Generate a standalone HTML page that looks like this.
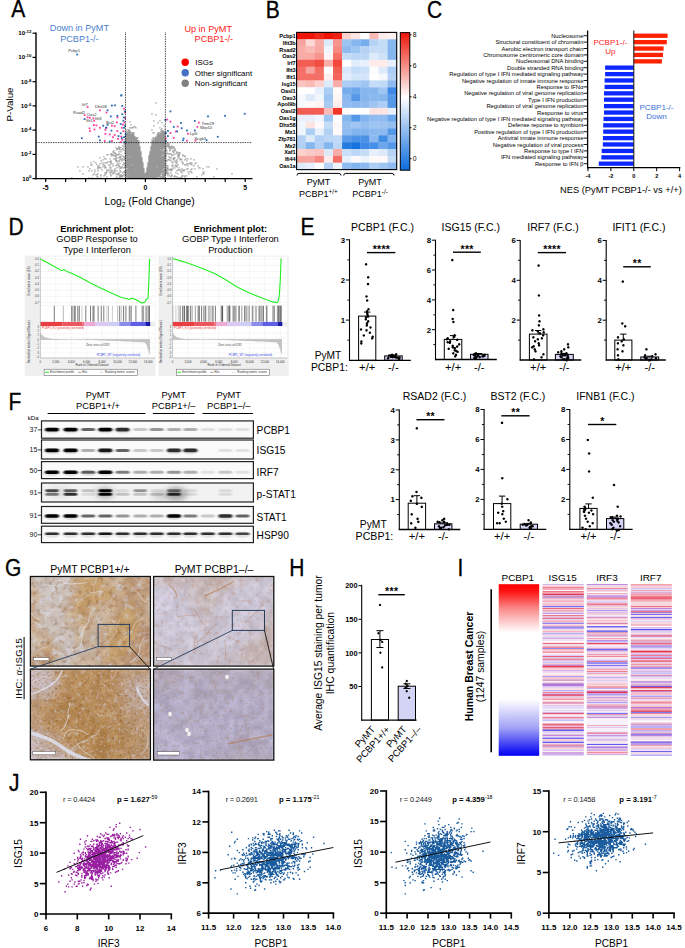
<!DOCTYPE html>
<html><head><meta charset="utf-8"><style>
html,body{margin:0;padding:0;background:#fff;width:685px;height:948px;overflow:hidden}
svg{display:block}
text{font-family:"Liberation Sans",sans-serif}
</style></head><body>
<svg width="685" height="948" viewBox="0 0 685 948">
<defs><linearGradient id="cbar" x1="0" y1="0" x2="0" y2="1"><stop offset="0" stop-color="#ee1608"/><stop offset="0.47" stop-color="#fff"/><stop offset="1" stop-color="#0c6cde"/></linearGradient>
<filter id="bl" x="-20%" y="-60%" width="140%" height="220%"><feGaussianBlur stdDeviation="1.1 0.7"/></filter>
<filter id="bl2" x="-50%" y="-100%" width="200%" height="300%"><feGaussianBlur stdDeviation="3 2.5"/></filter>
<clipPath id="cb0"><rect x="41.5" y="420.9" width="211.9" height="17.3"/></clipPath>
<clipPath id="cb1"><rect x="41.5" y="440" width="211.9" height="19"/></clipPath>
<clipPath id="cb2"><rect x="41.5" y="461.6" width="211.9" height="17"/></clipPath>
<clipPath id="cb3"><rect x="41.5" y="483" width="211.9" height="19"/></clipPath>
<clipPath id="cb4"><rect x="41.5" y="506.5" width="211.9" height="16.8"/></clipPath>
<clipPath id="cb5"><rect x="41.5" y="526.2" width="211.9" height="16.4"/></clipPath>
<filter id="ib" x="0" y="0" width="100%" height="100%"><feGaussianBlur stdDeviation="1.6"/></filter>
<filter id="tx1" x="0" y="0" width="100%" height="100%" color-interpolation-filters="sRGB"><feTurbulence type="fractalNoise" baseFrequency="0.22" numOctaves="3" seed="7" result="n"/><feColorMatrix in="n" type="matrix" values="0 0 0 0 0.510  0 0 0 0 0.314  0 0 0 0 0.157  1.35 0 0 0 -0.73" result="d"/><feTurbulence type="fractalNoise" baseFrequency="0.154" numOctaves="3" seed="18" result="n2"/><feColorMatrix in="n2" type="matrix" values="0 0 0 0 0.843  0 0 0 0 0.871  0 0 0 0 0.949  -1.80 0 0 0 0.83" result="l"/><feMerge><feMergeNode in="d"/><feMergeNode in="l"/></feMerge></filter>
<filter id="tx2" x="0" y="0" width="100%" height="100%" color-interpolation-filters="sRGB"><feTurbulence type="fractalNoise" baseFrequency="0.25" numOctaves="3" seed="14" result="n"/><feColorMatrix in="n" type="matrix" values="0 0 0 0 0.686  0 0 0 0 0.412  0 0 0 0 0.275  0.90 0 0 0 -0.49" result="d"/><feTurbulence type="fractalNoise" baseFrequency="0.175" numOctaves="3" seed="31" result="n2"/><feColorMatrix in="n2" type="matrix" values="0 0 0 0 0.910  0 0 0 0 0.910  0 0 0 0 0.980  -1.05 0 0 0 0.48" result="l"/><feMerge><feMergeNode in="d"/><feMergeNode in="l"/></feMerge></filter>
<filter id="tx3" x="0" y="0" width="100%" height="100%" color-interpolation-filters="sRGB"><feTurbulence type="fractalNoise" baseFrequency="0.4" numOctaves="3" seed="21" result="n"/><feColorMatrix in="n" type="matrix" values="0 0 0 0 0.510  0 0 0 0 0.294  0 0 0 0 0.098  1.65 0 0 0 -0.89" result="d"/><feTurbulence type="fractalNoise" baseFrequency="0.27999999999999997" numOctaves="3" seed="44" result="n2"/><feColorMatrix in="n2" type="matrix" values="0 0 0 0 0.824  0 0 0 0 0.824  0 0 0 0 0.941  -1.65 0 0 0 0.76" result="l"/><feMerge><feMergeNode in="d"/><feMergeNode in="l"/></feMerge></filter>
<filter id="tx4" x="0" y="0" width="100%" height="100%" color-interpolation-filters="sRGB"><feTurbulence type="fractalNoise" baseFrequency="0.4" numOctaves="3" seed="28" result="n"/><feColorMatrix in="n" type="matrix" values="0 0 0 0 0.647  0 0 0 0 0.471  0 0 0 0 0.314  1.20 0 0 0 -0.65" result="d"/><feTurbulence type="fractalNoise" baseFrequency="0.27999999999999997" numOctaves="3" seed="57" result="n2"/><feColorMatrix in="n2" type="matrix" values="0 0 0 0 0.784  0 0 0 0 0.776  0 0 0 0 0.902  -0.90 0 0 0 0.41" result="l"/><feMerge><feMergeNode in="d"/><feMergeNode in="l"/></feMerge></filter>
<clipPath id="ci1"><rect x="30.4" y="576.5" width="120" height="89.6"/></clipPath>
<clipPath id="ci2"><rect x="153.6" y="576.5" width="120.2" height="89.6"/></clipPath>
<clipPath id="ci3"><rect x="30.4" y="669.1" width="120" height="90.7"/></clipPath>
<clipPath id="ci4"><rect x="153.6" y="669.1" width="120.2" height="91"/></clipPath>
<linearGradient id="pg" x1="0" y1="0" x2="0" y2="1"><stop offset="0" stop-color="#ff0000"/><stop offset="0.04" stop-color="#ff1212"/><stop offset="0.14" stop-color="#f98888"/><stop offset="0.28" stop-color="#fff"/><stop offset="0.67" stop-color="#fff"/><stop offset="0.84" stop-color="#a0a0f6"/><stop offset="0.95" stop-color="#3030f4"/><stop offset="1" stop-color="#0000f4"/></linearGradient></defs>
<rect width="685" height="948" fill="#fff"/>
<text transform="translate(11.3 17.2) scale(1 1.14)" font-size="21" stroke="#000" stroke-width="0.3">A</text>
<text transform="translate(265.8 17.5) scale(1 1.14)" font-size="21" stroke="#000" stroke-width="0.3">B</text>
<text transform="translate(427 18.2) scale(1 1.14)" font-size="21" stroke="#000" stroke-width="0.3">C</text>
<text transform="translate(8.5 235.2) scale(1 1.14)" font-size="21" stroke="#000" stroke-width="0.3">D</text>
<text transform="translate(300.4 235) scale(1 1.14)" font-size="21" stroke="#000" stroke-width="0.3">E</text>
<text transform="translate(8.5 409.8) scale(1 1.14)" font-size="21" stroke="#000" stroke-width="0.3">F</text>
<text transform="translate(5 576) scale(1 1.14)" font-size="21" stroke="#000" stroke-width="0.3">G</text>
<text transform="translate(289.2 576) scale(1 1.14)" font-size="21" stroke="#000" stroke-width="0.3">H</text>
<text transform="translate(457.5 575.8) scale(1 1.14)" font-size="21" stroke="#000" stroke-width="0.3">I</text>
<text transform="translate(8.9 790.6) scale(1 1.14)" font-size="21" stroke="#000" stroke-width="0.3">J</text>
<path d="M155.3 102.3h1.3v1.3h-1.3zM151.3 113.3h1.3v1.3h-1.3zM155.3 114.3h1.3v1.3h-1.3zM153.3 120.3h1.3v1.3h-1.3zM159.3 120.3h1.3v1.3h-1.3zM129.3 121.3h1.3v1.3h-1.3zM157.3 122.3h1.3v1.3h-1.3zM161.3 122.3h1.3v1.3h-1.3zM130.3 124.3h1.3v1.3h-1.3zM153.3 125.3h1.3v1.3h-1.3zM163.3 125.3h1.3v1.3h-1.3zM133.3 126.3h2.3v1.3h-2.3zM129.3 127.3h4.3v1.3h-4.3zM135.3 127.3h1.3v1.3h-1.3zM159.3 127.3h1.3v1.3h-1.3zM161.3 128.3h1.3v1.3h-1.3zM125.3 129.3h1.3v1.3h-1.3zM127.3 129.3h2.3v1.3h-2.3zM151.3 129.3h1.3v1.3h-1.3zM160.3 129.3h1.3v1.3h-1.3zM164.3 129.3h1.3v1.3h-1.3zM128.3 130.3h2.3v1.3h-2.3zM161.3 130.3h2.3v1.3h-2.3zM125.3 131.3h5.3v1.3h-5.3zM160.3 131.3h5.3v1.3h-5.3zM125.3 132.3h2.3v1.3h-2.3zM128.3 132.3h6.3v1.3h-6.3zM152.3 132.3h2.3v1.3h-2.3zM157.3 132.3h3.3v1.3h-3.3zM161.3 132.3h4.3v1.3h-4.3zM125.3 133.3h5.3v1.3h-5.3zM131.3 133.3h2.3v1.3h-2.3zM157.3 133.3h1.3v1.3h-1.3zM159.3 133.3h6.3v1.3h-6.3zM125.3 134.3h9.3v1.3h-9.3zM156.3 134.3h9.3v1.3h-9.3zM125.3 135.3h9.3v1.3h-9.3zM157.3 135.3h8.3v1.3h-8.3zM124.3 136.3h11.3v1.3h-11.3zM155.3 136.3h10.3v1.3h-10.3zM125.3 137.3h13.3v1.3h-13.3zM152.3 137.3h2.3v1.3h-2.3zM155.3 137.3h10.3v1.3h-10.3zM125.3 138.3h12.3v1.3h-12.3zM153.3 138.3h12.3v1.3h-12.3zM124.3 139.3h13.3v1.3h-13.3zM151.3 139.3h2.3v1.3h-2.3zM154.3 139.3h11.3v1.3h-11.3zM125.3 140.3h14.3v1.3h-14.3zM152.3 140.3h13.3v1.3h-13.3zM124.3 141.3h14.3v1.3h-14.3zM151.3 141.3h14.3v1.3h-14.3zM125.3 142.3h14.3v1.3h-14.3zM151.3 142.3h14.3v1.3h-14.3zM166.3 142.3h1.3v1.3h-1.3zM123.3 143.3h16.3v1.3h-16.3zM151.3 143.3h15.3v1.3h-15.3zM167.3 143.3h2.3v1.3h-2.3zM124.3 144.3h15.3v1.3h-15.3zM151.3 144.3h14.3v1.3h-14.3zM166.3 144.3h1.3v1.3h-1.3zM168.3 144.3h1.3v1.3h-1.3zM122.3 145.3h1.3v1.3h-1.3zM125.3 145.3h14.3v1.3h-14.3zM151.3 145.3h14.3v1.3h-14.3zM166.3 145.3h3.3v1.3h-3.3zM171.3 145.3h1.3v1.3h-1.3zM118.3 146.3h1.3v1.3h-1.3zM123.3 146.3h1.3v1.3h-1.3zM125.3 146.3h15.3v1.3h-15.3zM150.3 146.3h17.3v1.3h-17.3zM168.3 146.3h4.3v1.3h-4.3zM173.3 146.3h1.3v1.3h-1.3zM115.3 147.3h1.3v1.3h-1.3zM118.3 147.3h3.3v1.3h-3.3zM124.3 147.3h16.3v1.3h-16.3zM150.3 147.3h15.3v1.3h-15.3zM168.3 147.3h1.3v1.3h-1.3zM170.3 147.3h1.3v1.3h-1.3zM172.3 147.3h2.3v1.3h-2.3zM116.3 148.3h3.3v1.3h-3.3zM122.3 148.3h1.3v1.3h-1.3zM125.3 148.3h15.3v1.3h-15.3zM150.3 148.3h13.3v1.3h-13.3zM164.3 148.3h2.3v1.3h-2.3zM169.3 148.3h1.3v1.3h-1.3zM171.3 148.3h1.3v1.3h-1.3zM174.3 148.3h1.3v1.3h-1.3zM116.3 149.3h1.3v1.3h-1.3zM119.3 149.3h1.3v1.3h-1.3zM121.3 149.3h1.3v1.3h-1.3zM123.3 149.3h1.3v1.3h-1.3zM125.3 149.3h15.3v1.3h-15.3zM150.3 149.3h10.3v1.3h-10.3zM161.3 149.3h2.3v1.3h-2.3zM164.3 149.3h2.3v1.3h-2.3zM169.3 149.3h1.3v1.3h-1.3zM174.3 149.3h1.3v1.3h-1.3zM113.3 150.3h1.3v1.3h-1.3zM124.3 150.3h16.3v1.3h-16.3zM150.3 150.3h12.3v1.3h-12.3zM163.3 150.3h4.3v1.3h-4.3zM169.3 150.3h1.3v1.3h-1.3zM172.3 150.3h3.3v1.3h-3.3zM112.3 151.3h1.3v1.3h-1.3zM118.3 151.3h1.3v1.3h-1.3zM120.3 151.3h1.3v1.3h-1.3zM125.3 151.3h16.3v1.3h-16.3zM149.3 151.3h16.3v1.3h-16.3zM172.3 151.3h1.3v1.3h-1.3zM176.3 151.3h1.3v1.3h-1.3zM113.3 152.3h2.3v1.3h-2.3zM124.3 152.3h17.3v1.3h-17.3zM149.3 152.3h16.3v1.3h-16.3zM166.3 152.3h1.3v1.3h-1.3zM173.3 152.3h1.3v1.3h-1.3zM176.3 152.3h4.3v1.3h-4.3zM110.3 153.3h2.3v1.3h-2.3zM114.3 153.3h2.3v1.3h-2.3zM118.3 153.3h1.3v1.3h-1.3zM124.3 153.3h17.3v1.3h-17.3zM149.3 153.3h17.3v1.3h-17.3zM167.3 153.3h4.3v1.3h-4.3zM175.3 153.3h1.3v1.3h-1.3zM179.3 153.3h1.3v1.3h-1.3zM106.3 154.3h2.3v1.3h-2.3zM110.3 154.3h1.3v1.3h-1.3zM112.3 154.3h1.3v1.3h-1.3zM116.3 154.3h3.3v1.3h-3.3zM120.3 154.3h1.3v1.3h-1.3zM125.3 154.3h16.3v1.3h-16.3zM149.3 154.3h13.3v1.3h-13.3zM163.3 154.3h3.3v1.3h-3.3zM171.3 154.3h1.3v1.3h-1.3zM173.3 154.3h1.3v1.3h-1.3zM177.3 154.3h2.3v1.3h-2.3zM182.3 154.3h1.3v1.3h-1.3zM111.3 155.3h1.3v1.3h-1.3zM113.3 155.3h3.3v1.3h-3.3zM122.3 155.3h1.3v1.3h-1.3zM125.3 155.3h16.3v1.3h-16.3zM148.3 155.3h13.3v1.3h-13.3zM162.3 155.3h4.3v1.3h-4.3zM171.3 155.3h1.3v1.3h-1.3zM177.3 155.3h2.3v1.3h-2.3zM182.3 155.3h1.3v1.3h-1.3zM184.3 155.3h1.3v1.3h-1.3zM103.3 156.3h1.3v1.3h-1.3zM115.3 156.3h1.3v1.3h-1.3zM119.3 156.3h2.3v1.3h-2.3zM123.3 156.3h6.3v1.3h-6.3zM130.3 156.3h11.3v1.3h-11.3zM148.3 156.3h18.3v1.3h-18.3zM168.3 156.3h1.3v1.3h-1.3zM178.3 156.3h1.3v1.3h-1.3zM184.3 156.3h1.3v1.3h-1.3zM99.3 157.3h1.3v1.3h-1.3zM116.3 157.3h1.3v1.3h-1.3zM118.3 157.3h2.3v1.3h-2.3zM124.3 157.3h18.3v1.3h-18.3zM148.3 157.3h17.3v1.3h-17.3zM169.3 157.3h2.3v1.3h-2.3zM173.3 157.3h2.3v1.3h-2.3zM177.3 157.3h1.3v1.3h-1.3zM104.3 158.3h2.3v1.3h-2.3zM109.3 158.3h1.3v1.3h-1.3zM113.3 158.3h3.3v1.3h-3.3zM120.3 158.3h1.3v1.3h-1.3zM122.3 158.3h1.3v1.3h-1.3zM124.3 158.3h18.3v1.3h-18.3zM148.3 158.3h18.3v1.3h-18.3zM172.3 158.3h2.3v1.3h-2.3zM179.3 158.3h2.3v1.3h-2.3zM185.3 158.3h1.3v1.3h-1.3zM187.3 158.3h1.3v1.3h-1.3zM190.3 158.3h1.3v1.3h-1.3zM102.3 159.3h1.3v1.3h-1.3zM115.3 159.3h1.3v1.3h-1.3zM119.3 159.3h1.3v1.3h-1.3zM121.3 159.3h1.3v1.3h-1.3zM123.3 159.3h19.3v1.3h-19.3zM148.3 159.3h17.3v1.3h-17.3zM167.3 159.3h3.3v1.3h-3.3zM173.3 159.3h1.3v1.3h-1.3zM176.3 159.3h1.3v1.3h-1.3zM179.3 159.3h1.3v1.3h-1.3zM181.3 159.3h1.3v1.3h-1.3zM184.3 159.3h1.3v1.3h-1.3zM193.3 159.3h1.3v1.3h-1.3zM100.3 160.3h1.3v1.3h-1.3zM110.3 160.3h1.3v1.3h-1.3zM115.3 160.3h2.3v1.3h-2.3zM118.3 160.3h1.3v1.3h-1.3zM121.3 160.3h1.3v1.3h-1.3zM125.3 160.3h17.3v1.3h-17.3zM148.3 160.3h19.3v1.3h-19.3zM170.3 160.3h1.3v1.3h-1.3zM175.3 160.3h1.3v1.3h-1.3zM186.3 160.3h1.3v1.3h-1.3zM93.3 161.3h1.3v1.3h-1.3zM107.3 161.3h1.3v1.3h-1.3zM109.3 161.3h2.3v1.3h-2.3zM116.3 161.3h1.3v1.3h-1.3zM118.3 161.3h1.3v1.3h-1.3zM125.3 161.3h17.3v1.3h-17.3zM148.3 161.3h18.3v1.3h-18.3zM172.3 161.3h1.3v1.3h-1.3zM174.3 161.3h1.3v1.3h-1.3zM176.3 161.3h1.3v1.3h-1.3zM181.3 161.3h1.3v1.3h-1.3zM90.3 162.3h1.3v1.3h-1.3zM95.3 162.3h1.3v1.3h-1.3zM101.3 162.3h1.3v1.3h-1.3zM103.3 162.3h1.3v1.3h-1.3zM105.3 162.3h2.3v1.3h-2.3zM110.3 162.3h1.3v1.3h-1.3zM123.3 162.3h1.3v1.3h-1.3zM125.3 162.3h18.3v1.3h-18.3zM147.3 162.3h17.3v1.3h-17.3zM171.3 162.3h1.3v1.3h-1.3zM176.3 162.3h1.3v1.3h-1.3zM182.3 162.3h1.3v1.3h-1.3zM189.3 162.3h1.3v1.3h-1.3zM191.3 162.3h1.3v1.3h-1.3zM195.3 162.3h1.3v1.3h-1.3zM99.3 163.3h1.3v1.3h-1.3zM110.3 163.3h1.3v1.3h-1.3zM112.3 163.3h1.3v1.3h-1.3zM117.3 163.3h1.3v1.3h-1.3zM119.3 163.3h1.3v1.3h-1.3zM123.3 163.3h20.3v1.3h-20.3zM147.3 163.3h19.3v1.3h-19.3zM175.3 163.3h1.3v1.3h-1.3zM182.3 163.3h1.3v1.3h-1.3zM186.3 163.3h2.3v1.3h-2.3zM189.3 163.3h2.3v1.3h-2.3zM194.3 163.3h1.3v1.3h-1.3zM90.3 164.3h2.3v1.3h-2.3zM96.3 164.3h1.3v1.3h-1.3zM102.3 164.3h2.3v1.3h-2.3zM108.3 164.3h1.3v1.3h-1.3zM116.3 164.3h2.3v1.3h-2.3zM122.3 164.3h1.3v1.3h-1.3zM125.3 164.3h6.3v1.3h-6.3zM132.3 164.3h11.3v1.3h-11.3zM147.3 164.3h19.3v1.3h-19.3zM172.3 164.3h1.3v1.3h-1.3zM177.3 164.3h1.3v1.3h-1.3zM184.3 164.3h2.3v1.3h-2.3zM191.3 164.3h1.3v1.3h-1.3zM98.3 165.3h1.3v1.3h-1.3zM104.3 165.3h1.3v1.3h-1.3zM109.3 165.3h1.3v1.3h-1.3zM112.3 165.3h1.3v1.3h-1.3zM115.3 165.3h1.3v1.3h-1.3zM118.3 165.3h1.3v1.3h-1.3zM124.3 165.3h19.3v1.3h-19.3zM147.3 165.3h17.3v1.3h-17.3zM166.3 165.3h2.3v1.3h-2.3zM171.3 165.3h1.3v1.3h-1.3zM174.3 165.3h3.3v1.3h-3.3zM187.3 165.3h1.3v1.3h-1.3zM193.3 165.3h1.3v1.3h-1.3zM197.3 165.3h1.3v1.3h-1.3zM77.3 166.3h1.3v1.3h-1.3zM82.3 166.3h1.3v1.3h-1.3zM87.3 166.3h1.3v1.3h-1.3zM97.3 166.3h2.3v1.3h-2.3zM102.3 166.3h1.3v1.3h-1.3zM104.3 166.3h1.3v1.3h-1.3zM118.3 166.3h2.3v1.3h-2.3zM121.3 166.3h1.3v1.3h-1.3zM124.3 166.3h19.3v1.3h-19.3zM147.3 166.3h9.3v1.3h-9.3zM157.3 166.3h9.3v1.3h-9.3zM172.3 166.3h1.3v1.3h-1.3zM176.3 166.3h1.3v1.3h-1.3zM206.3 166.3h1.3v1.3h-1.3zM208.3 166.3h1.3v1.3h-1.3zM97.3 167.3h1.3v1.3h-1.3zM99.3 167.3h2.3v1.3h-2.3zM104.3 167.3h2.3v1.3h-2.3zM109.3 167.3h2.3v1.3h-2.3zM116.3 167.3h1.3v1.3h-1.3zM120.3 167.3h2.3v1.3h-2.3zM123.3 167.3h20.3v1.3h-20.3zM146.3 167.3h19.3v1.3h-19.3zM166.3 167.3h2.3v1.3h-2.3zM174.3 167.3h1.3v1.3h-1.3zM178.3 167.3h1.3v1.3h-1.3zM198.3 167.3h2.3v1.3h-2.3zM89.3 168.3h1.3v1.3h-1.3zM97.3 168.3h1.3v1.3h-1.3zM114.3 168.3h1.3v1.3h-1.3zM119.3 168.3h1.3v1.3h-1.3zM127.3 168.3h17.3v1.3h-17.3zM146.3 168.3h17.3v1.3h-17.3zM164.3 168.3h1.3v1.3h-1.3zM166.3 168.3h2.3v1.3h-2.3zM170.3 168.3h1.3v1.3h-1.3zM172.3 168.3h1.3v1.3h-1.3zM181.3 168.3h1.3v1.3h-1.3zM186.3 168.3h2.3v1.3h-2.3zM191.3 168.3h1.3v1.3h-1.3zM194.3 168.3h1.3v1.3h-1.3zM202.3 168.3h1.3v1.3h-1.3zM216.3 168.3h1.3v1.3h-1.3zM94.3 169.3h1.3v1.3h-1.3zM101.3 169.3h1.3v1.3h-1.3zM106.3 169.3h1.3v1.3h-1.3zM108.3 169.3h1.3v1.3h-1.3zM110.3 169.3h1.3v1.3h-1.3zM114.3 169.3h1.3v1.3h-1.3zM125.3 169.3h19.3v1.3h-19.3zM146.3 169.3h16.3v1.3h-16.3zM163.3 169.3h4.3v1.3h-4.3zM168.3 169.3h4.3v1.3h-4.3zM177.3 169.3h3.3v1.3h-3.3zM182.3 169.3h1.3v1.3h-1.3zM184.3 169.3h1.3v1.3h-1.3zM190.3 169.3h1.3v1.3h-1.3zM79.3 170.3h1.3v1.3h-1.3zM88.3 170.3h1.3v1.3h-1.3zM91.3 170.3h1.3v1.3h-1.3zM97.3 170.3h1.3v1.3h-1.3zM106.3 170.3h1.3v1.3h-1.3zM108.3 170.3h1.3v1.3h-1.3zM111.3 170.3h2.3v1.3h-2.3zM114.3 170.3h1.3v1.3h-1.3zM116.3 170.3h1.3v1.3h-1.3zM119.3 170.3h1.3v1.3h-1.3zM124.3 170.3h20.3v1.3h-20.3zM146.3 170.3h21.3v1.3h-21.3zM170.3 170.3h1.3v1.3h-1.3zM176.3 170.3h1.3v1.3h-1.3zM180.3 170.3h1.3v1.3h-1.3zM182.3 170.3h2.3v1.3h-2.3zM94.3 171.3h1.3v1.3h-1.3zM106.3 171.3h1.3v1.3h-1.3zM110.3 171.3h1.3v1.3h-1.3zM114.3 171.3h1.3v1.3h-1.3zM120.3 171.3h1.3v1.3h-1.3zM123.3 171.3h21.3v1.3h-21.3zM146.3 171.3h20.3v1.3h-20.3zM167.3 171.3h1.3v1.3h-1.3zM180.3 171.3h1.3v1.3h-1.3zM187.3 171.3h1.3v1.3h-1.3zM189.3 171.3h2.3v1.3h-2.3zM203.3 171.3h1.3v1.3h-1.3zM104.3 172.3h2.3v1.3h-2.3zM109.3 172.3h2.3v1.3h-2.3zM112.3 172.3h2.3v1.3h-2.3zM118.3 172.3h1.3v1.3h-1.3zM122.3 172.3h1.3v1.3h-1.3zM124.3 172.3h20.3v1.3h-20.3zM145.3 172.3h16.3v1.3h-16.3zM162.3 172.3h2.3v1.3h-2.3zM165.3 172.3h2.3v1.3h-2.3zM170.3 172.3h1.3v1.3h-1.3zM175.3 172.3h1.3v1.3h-1.3zM181.3 172.3h1.3v1.3h-1.3zM191.3 172.3h1.3v1.3h-1.3zM202.3 172.3h1.3v1.3h-1.3zM82.3 173.3h1.3v1.3h-1.3zM93.3 173.3h1.3v1.3h-1.3zM97.3 173.3h1.3v1.3h-1.3zM105.3 173.3h1.3v1.3h-1.3zM112.3 173.3h1.3v1.3h-1.3zM115.3 173.3h1.3v1.3h-1.3zM117.3 173.3h2.3v1.3h-2.3zM125.3 173.3h36.3v1.3h-36.3zM162.3 173.3h7.3v1.3h-7.3zM177.3 173.3h1.3v1.3h-1.3zM188.3 173.3h1.3v1.3h-1.3zM203.3 173.3h1.3v1.3h-1.3zM231.3 173.3h1.3v1.3h-1.3zM92.3 174.3h1.3v1.3h-1.3zM95.3 174.3h2.3v1.3h-2.3zM100.3 174.3h1.3v1.3h-1.3zM104.3 174.3h1.3v1.3h-1.3zM110.3 174.3h1.3v1.3h-1.3zM116.3 174.3h1.3v1.3h-1.3zM118.3 174.3h1.3v1.3h-1.3zM120.3 174.3h1.3v1.3h-1.3zM123.3 174.3h4.3v1.3h-4.3zM128.3 174.3h32.3v1.3h-32.3zM161.3 174.3h4.3v1.3h-4.3zM171.3 174.3h1.3v1.3h-1.3zM201.3 174.3h1.3v1.3h-1.3zM100.3 175.3h1.3v1.3h-1.3zM103.3 175.3h1.3v1.3h-1.3zM110.3 175.3h1.3v1.3h-1.3zM119.3 175.3h4.3v1.3h-4.3zM125.3 175.3h35.3v1.3h-35.3zM162.3 175.3h3.3v1.3h-3.3zM167.3 175.3h1.3v1.3h-1.3zM169.3 175.3h1.3v1.3h-1.3zM171.3 175.3h1.3v1.3h-1.3zM174.3 175.3h1.3v1.3h-1.3zM181.3 175.3h2.3v1.3h-2.3zM184.3 175.3h1.3v1.3h-1.3zM186.3 175.3h1.3v1.3h-1.3zM96.3 176.3h2.3v1.3h-2.3zM106.3 176.3h1.3v1.3h-1.3zM116.3 176.3h1.3v1.3h-1.3zM119.3 176.3h3.3v1.3h-3.3zM124.3 176.3h41.3v1.3h-41.3zM170.3 176.3h1.3v1.3h-1.3zM173.3 176.3h1.3v1.3h-1.3zM175.3 176.3h2.3v1.3h-2.3zM181.3 176.3h1.3v1.3h-1.3zM184.3 176.3h1.3v1.3h-1.3zM196.3 176.3h1.3v1.3h-1.3zM213.3 176.3h1.3v1.3h-1.3zM71.3 177.3h1.3v1.3h-1.3zM88.3 177.3h1.3v1.3h-1.3zM91.3 177.3h1.3v1.3h-1.3zM100.3 177.3h1.3v1.3h-1.3zM115.3 177.3h1.3v1.3h-1.3zM118.3 177.3h1.3v1.3h-1.3zM127.3 177.3h28.3v1.3h-28.3zM156.3 177.3h1.3v1.3h-1.3zM160.3 177.3h1.3v1.3h-1.3zM162.3 177.3h2.3v1.3h-2.3zM177.3 177.3h1.3v1.3h-1.3zM179.3 177.3h2.3v1.3h-2.3z" fill="#979797"/>
<rect x="86.7" y="106.1" width="1.8" height="1.8" fill="#ff3f9f"/>
<rect x="99" y="109.4" width="1.8" height="1.8" fill="#ff3f9f"/>
<rect x="105.6" y="111.6" width="1.8" height="1.8" fill="#ff3f9f"/>
<rect x="83.7" y="114.1" width="1.8" height="1.8" fill="#ff3f9f"/>
<rect x="86.7" y="116.5" width="1.8" height="1.8" fill="#ff3f9f"/>
<rect x="88.9" y="116.9" width="1.8" height="1.8" fill="#ff3f9f"/>
<rect x="92.4" y="117.4" width="1.8" height="1.8" fill="#ff3f9f"/>
<rect x="93.3" y="119.8" width="1.8" height="1.8" fill="#ff3f9f"/>
<rect x="93" y="124.2" width="1.8" height="1.8" fill="#ff3f9f"/>
<rect x="95.5" y="124.5" width="1.8" height="1.8" fill="#ff3f9f"/>
<rect x="88.6" y="127.5" width="1.8" height="1.8" fill="#ff3f9f"/>
<rect x="89.1" y="130.2" width="1.8" height="1.8" fill="#ff3f9f"/>
<rect x="93.5" y="128.6" width="1.8" height="1.8" fill="#ff3f9f"/>
<rect x="99" y="126.9" width="1.8" height="1.8" fill="#ff3f9f"/>
<rect x="104.5" y="128.9" width="1.8" height="1.8" fill="#ff3f9f"/>
<rect x="105.6" y="126.9" width="1.8" height="1.8" fill="#ff3f9f"/>
<rect x="111" y="124.8" width="1.8" height="1.8" fill="#ff3f9f"/>
<rect x="113.8" y="125.3" width="1.8" height="1.8" fill="#ff3f9f"/>
<rect x="116" y="121.5" width="1.8" height="1.8" fill="#ff3f9f"/>
<rect x="116.5" y="116.5" width="1.8" height="1.8" fill="#ff3f9f"/>
<rect x="104.5" y="133" width="1.8" height="1.8" fill="#ff3f9f"/>
<rect x="108.8" y="133.5" width="1.8" height="1.8" fill="#ff3f9f"/>
<rect x="112.1" y="136.3" width="1.8" height="1.8" fill="#ff3f9f"/>
<rect x="113.8" y="134.1" width="1.8" height="1.8" fill="#ff3f9f"/>
<rect x="116.5" y="130.2" width="1.8" height="1.8" fill="#ff3f9f"/>
<rect x="117.1" y="137.9" width="1.8" height="1.8" fill="#ff3f9f"/>
<rect x="120.3" y="135.7" width="1.8" height="1.8" fill="#ff3f9f"/>
<rect x="120.9" y="126.9" width="1.8" height="1.8" fill="#ff3f9f"/>
<rect x="122" y="123.7" width="1.8" height="1.8" fill="#ff3f9f"/>
<rect x="123.1" y="107.8" width="1.8" height="1.8" fill="#ff3f9f"/>
<rect x="124.2" y="111.6" width="1.8" height="1.8" fill="#ff3f9f"/>
<rect x="119.8" y="141.2" width="1.8" height="1.8" fill="#ff3f9f"/>
<rect x="103.9" y="140.1" width="1.8" height="1.8" fill="#ff3f9f"/>
<rect x="111" y="140.1" width="1.8" height="1.8" fill="#ff3f9f"/>
<rect x="124.2" y="117.1" width="1.8" height="1.8" fill="#ff3f9f"/>
<rect x="123.6" y="121.5" width="1.8" height="1.8" fill="#ff3f9f"/>
<rect x="122.5" y="130.2" width="1.8" height="1.8" fill="#ff3f9f"/>
<rect x="121.4" y="139" width="1.8" height="1.8" fill="#ff3f9f"/>
<rect x="111" y="104.7" width="1.8" height="1.8" fill="#2a6db5"/>
<rect x="114.1" y="104.5" width="1.8" height="1.8" fill="#2a6db5"/>
<rect x="121.4" y="105" width="1.8" height="1.8" fill="#2a6db5"/>
<rect x="106.7" y="109.4" width="1.8" height="1.8" fill="#2a6db5"/>
<rect x="109.9" y="115.5" width="1.8" height="1.8" fill="#2a6db5"/>
<rect x="116.5" y="114.9" width="1.8" height="1.8" fill="#2a6db5"/>
<rect x="121.4" y="113.3" width="1.8" height="1.8" fill="#2a6db5"/>
<rect x="124.2" y="110.5" width="1.8" height="1.8" fill="#2a6db5"/>
<rect x="123.1" y="116.5" width="1.8" height="1.8" fill="#2a6db5"/>
<rect x="122.5" y="119.8" width="1.8" height="1.8" fill="#2a6db5"/>
<rect x="83.7" y="118.2" width="1.8" height="1.8" fill="#2a6db5"/>
<rect x="102.3" y="124.8" width="1.8" height="1.8" fill="#2a6db5"/>
<rect x="106.7" y="123.9" width="1.8" height="1.8" fill="#2a6db5"/>
<rect x="105" y="126.7" width="1.8" height="1.8" fill="#2a6db5"/>
<rect x="110.5" y="129.7" width="1.8" height="1.8" fill="#2a6db5"/>
<rect x="119.8" y="132.4" width="1.8" height="1.8" fill="#2a6db5"/>
<rect x="119.8" y="123.1" width="1.8" height="1.8" fill="#2a6db5"/>
<rect x="123.1" y="126.9" width="1.8" height="1.8" fill="#2a6db5"/>
<rect x="80.9" y="137.3" width="1.8" height="1.8" fill="#2a6db5"/>
<rect x="97.9" y="135.7" width="1.8" height="1.8" fill="#2a6db5"/>
<rect x="99" y="139.5" width="1.8" height="1.8" fill="#2a6db5"/>
<rect x="108.8" y="140.6" width="1.8" height="1.8" fill="#2a6db5"/>
<rect x="117.6" y="135.2" width="1.8" height="1.8" fill="#2a6db5"/>
<rect x="120.9" y="137.3" width="1.8" height="1.8" fill="#2a6db5"/>
<rect x="123.1" y="136.3" width="1.8" height="1.8" fill="#2a6db5"/>
<rect x="123.6" y="141.2" width="1.8" height="1.8" fill="#2a6db5"/>
<rect x="120.3" y="94.6" width="1.8" height="1.8" fill="#2a6db5"/>
<rect x="124.2" y="124.8" width="1.8" height="1.8" fill="#2a6db5"/>
<rect x="124.7" y="133.5" width="1.8" height="1.8" fill="#2a6db5"/>
<rect x="166.3" y="118.7" width="1.8" height="1.8" fill="#ff3f9f"/>
<rect x="169.6" y="120.8" width="1.8" height="1.8" fill="#ff3f9f"/>
<rect x="176.8" y="125.6" width="1.8" height="1.8" fill="#ff3f9f"/>
<rect x="197.9" y="121.7" width="1.8" height="1.8" fill="#ff3f9f"/>
<rect x="196.5" y="125.9" width="1.8" height="1.8" fill="#ff3f9f"/>
<rect x="169.6" y="132.2" width="1.8" height="1.8" fill="#ff3f9f"/>
<rect x="174.9" y="130.6" width="1.8" height="1.8" fill="#ff3f9f"/>
<rect x="187.1" y="132.9" width="1.8" height="1.8" fill="#ff3f9f"/>
<rect x="172.9" y="137.1" width="1.8" height="1.8" fill="#ff3f9f"/>
<rect x="186" y="139.8" width="1.8" height="1.8" fill="#ff3f9f"/>
<rect x="194.6" y="139.8" width="1.8" height="1.8" fill="#ff3f9f"/>
<rect x="165" y="137.5" width="1.8" height="1.8" fill="#ff3f9f"/>
<rect x="169.6" y="110.5" width="1.8" height="1.8" fill="#2a6db5"/>
<rect x="207.1" y="115.5" width="1.8" height="1.8" fill="#2a6db5"/>
<rect x="224.1" y="114.9" width="1.8" height="1.8" fill="#2a6db5"/>
<rect x="243.8" y="112.9" width="1.8" height="1.8" fill="#2a6db5"/>
<rect x="180.1" y="122.1" width="1.8" height="1.8" fill="#2a6db5"/>
<rect x="193.9" y="120" width="1.8" height="1.8" fill="#2a6db5"/>
<rect x="172.9" y="126" width="1.8" height="1.8" fill="#2a6db5"/>
<rect x="180.8" y="127.3" width="1.8" height="1.8" fill="#2a6db5"/>
<rect x="176.2" y="130.5" width="1.8" height="1.8" fill="#2a6db5"/>
<rect x="186" y="129.6" width="1.8" height="1.8" fill="#2a6db5"/>
<rect x="193.9" y="129.6" width="1.8" height="1.8" fill="#2a6db5"/>
<rect x="167" y="130" width="1.8" height="1.8" fill="#2a6db5"/>
<rect x="165" y="132.2" width="1.8" height="1.8" fill="#2a6db5"/>
<rect x="164.4" y="119.1" width="1.8" height="1.8" fill="#2a6db5"/>
<rect x="167" y="135.2" width="1.8" height="1.8" fill="#2a6db5"/>
<rect x="182.7" y="137.5" width="1.8" height="1.8" fill="#2a6db5"/>
<rect x="182.1" y="139.4" width="1.8" height="1.8" fill="#2a6db5"/>
<rect x="205.7" y="139.4" width="1.8" height="1.8" fill="#2a6db5"/>
<rect x="216.9" y="135.9" width="1.8" height="1.8" fill="#2a6db5"/>
<rect x="165" y="140.1" width="1.8" height="1.8" fill="#2a6db5"/>
<rect x="76.3" y="53.6" width="1.8" height="1.8" fill="#2a6db5"/>
<rect x="120.5" y="94.4" width="1.8" height="1.8" fill="#2a6db5"/>
<line x1="125.5" y1="32.5" x2="125.5" y2="178.6" stroke="#000" stroke-width="0.9" stroke-dasharray="0.8 0.9"/>
<line x1="165.4" y1="32.5" x2="165.4" y2="178.6" stroke="#000" stroke-width="0.9" stroke-dasharray="0.8 0.9"/>
<line x1="36" y1="142.6" x2="252" y2="142.6" stroke="#000" stroke-width="0.9" stroke-dasharray="0.8 0.9"/>
<line x1="36" y1="32.5" x2="36" y2="179.3" stroke="#000" stroke-width="1.4"/>
<line x1="35.3" y1="178.6" x2="252.5" y2="178.6" stroke="#000" stroke-width="1.4"/>
<line x1="32.5" y1="33.2" x2="36" y2="33.2" stroke="#000" stroke-width="1.2"/>
<text x="31.5" y="35.2" font-size="6.1" font-weight="bold" text-anchor="end">10<tspan dy="-2.2" font-size="4.4">-12</tspan></text>
<line x1="32.5" y1="57.4" x2="36" y2="57.4" stroke="#000" stroke-width="1.2"/>
<text x="31.5" y="59.4" font-size="6.1" font-weight="bold" text-anchor="end">10<tspan dy="-2.2" font-size="4.4">-10</tspan></text>
<line x1="32.5" y1="81.7" x2="36" y2="81.7" stroke="#000" stroke-width="1.2"/>
<text x="31.5" y="83.7" font-size="6.1" font-weight="bold" text-anchor="end">10<tspan dy="-2.2" font-size="4.4">-8</tspan></text>
<line x1="32.5" y1="105.9" x2="36" y2="105.9" stroke="#000" stroke-width="1.2"/>
<text x="31.5" y="107.9" font-size="6.1" font-weight="bold" text-anchor="end">10<tspan dy="-2.2" font-size="4.4">-6</tspan></text>
<line x1="32.5" y1="130.1" x2="36" y2="130.1" stroke="#000" stroke-width="1.2"/>
<text x="31.5" y="132.1" font-size="6.1" font-weight="bold" text-anchor="end">10<tspan dy="-2.2" font-size="4.4">-4</tspan></text>
<line x1="32.5" y1="154.4" x2="36" y2="154.4" stroke="#000" stroke-width="1.2"/>
<text x="31.5" y="156.4" font-size="6.1" font-weight="bold" text-anchor="end">10<tspan dy="-2.2" font-size="4.4">-2</tspan></text>
<line x1="32.5" y1="178.6" x2="36" y2="178.6" stroke="#000" stroke-width="1.2"/>
<text x="31.5" y="180.6" font-size="6.1" font-weight="bold" text-anchor="end">10<tspan dy="-2.2" font-size="4.4">0</tspan></text>
<line x1="45.7" y1="178.6" x2="45.7" y2="182" stroke="#000" stroke-width="1.2"/>
<line x1="65.6" y1="178.6" x2="65.6" y2="182" stroke="#000" stroke-width="1.2"/>
<line x1="85.6" y1="178.6" x2="85.6" y2="182" stroke="#000" stroke-width="1.2"/>
<line x1="105.5" y1="178.6" x2="105.5" y2="182" stroke="#000" stroke-width="1.2"/>
<line x1="125.5" y1="178.6" x2="125.5" y2="182" stroke="#000" stroke-width="1.2"/>
<line x1="145.4" y1="178.6" x2="145.4" y2="182" stroke="#000" stroke-width="1.2"/>
<line x1="165.3" y1="178.6" x2="165.3" y2="182" stroke="#000" stroke-width="1.2"/>
<line x1="185.3" y1="178.6" x2="185.3" y2="182" stroke="#000" stroke-width="1.2"/>
<line x1="205.2" y1="178.6" x2="205.2" y2="182" stroke="#000" stroke-width="1.2"/>
<line x1="225.2" y1="178.6" x2="225.2" y2="182" stroke="#000" stroke-width="1.2"/>
<line x1="245.2" y1="178.6" x2="245.2" y2="182" stroke="#000" stroke-width="1.2"/>
<text x="45.6" y="189.8" font-size="6.8" text-anchor="middle" font-weight="bold">-5</text>
<text x="145.4" y="189.8" font-size="6.8" text-anchor="middle" font-weight="bold">0</text>
<text x="245.1" y="189.8" font-size="6.8" text-anchor="middle" font-weight="bold">5</text>
<text x="149.6" y="204.8" font-size="10.4" text-anchor="middle">Log<tspan font-size="6.6" dy="2">2</tspan><tspan dy="-2"> (Fold Change)</tspan></text>
<text transform="translate(13.4 104.5) rotate(-90)" font-size="9.8" text-anchor="middle">P-Value</text>
<text x="79.4" y="31.3" font-size="9.1" text-anchor="middle" fill="#4a7fd0">Down in PyMT</text>
<text x="79.4" y="41.7" font-size="9.1" text-anchor="middle" fill="#4a7fd0">PCBP1-/-</text>
<text x="208.2" y="32.3" font-size="9.1" text-anchor="middle" fill="#ff1a1a">Up in PyMT</text>
<text x="213.8" y="41.9" font-size="9.1" text-anchor="middle" fill="#ff1a1a">PCBP1-/-</text>
<circle cx="185.2" cy="62.3" r="3.7" fill="#ff0000"/>
<text x="195.3" y="65.2" font-size="7.95">ISGs</text>
<circle cx="185.2" cy="72.8" r="3.7" fill="#4472c4"/>
<text x="194.8" y="75.7" font-size="7.95">Other significant</text>
<circle cx="185.2" cy="83.2" r="3.7" fill="#808080"/>
<text x="194.8" y="86.1" font-size="7.95">Non-significant</text>
<text x="68.3" y="52.4" font-size="4.1" fill="#333">Pcbp1</text>
<text x="81.8" y="106" font-size="4.1" fill="#333">Irf7</text>
<text x="95" y="108.1" font-size="4.1" fill="#333">Dhx58</text>
<text x="73" y="113.6" font-size="4.1" fill="#333">Rsad2</text>
<text x="86.8" y="116.4" font-size="4.1" fill="#333">Oas2</text>
<text x="95" y="120.2" font-size="4.1" fill="#333">Ifit3</text>
<text x="86.2" y="122.4" font-size="4.1" fill="#333">Ifit1</text>
<text x="105.9" y="123.7" font-size="4.1" fill="#333">Bst2</text>
<text x="201.4" y="124.6" font-size="4.1" fill="#333">Trim29</text>
<text x="200" y="128.9" font-size="4.1" fill="#333">Nlrp10</text>
<text x="190" y="135" font-size="4.1" fill="#333">Ly6i</text>
<text x="194.4" y="139.7" font-size="4.1" fill="#333">Scgb3</text>
<rect x="296.6" y="32.4" width="9.4" height="7.2" fill="#ee1608"/>
<rect x="305.7" y="32.4" width="9.4" height="7.2" fill="#ee1608"/>
<rect x="314.8" y="32.4" width="9.4" height="7.2" fill="#ef291c"/>
<rect x="323.9" y="32.4" width="9.4" height="7.2" fill="#ee1608"/>
<rect x="333" y="32.4" width="9.4" height="7.2" fill="#ef2215"/>
<rect x="342.1" y="32.4" width="9.4" height="7.2" fill="#fcd1ce"/>
<rect x="351.2" y="32.4" width="9.4" height="7.2" fill="#fde4e3"/>
<rect x="360.3" y="32.4" width="9.4" height="7.2" fill="#ffffff"/>
<rect x="369.4" y="32.4" width="9.4" height="7.2" fill="#fabbb7"/>
<rect x="378.5" y="32.4" width="9.4" height="7.2" fill="#feebea"/>
<rect x="387.6" y="32.4" width="9.4" height="7.2" fill="#fef2f1"/>
<text x="295.6" y="37.8" font-size="5.6" text-anchor="end" font-weight="bold" letter-spacing="-0.1">Pcbp1</text>
<rect x="296.6" y="39.3" width="9.4" height="7.2" fill="#f8a49e"/>
<rect x="305.7" y="39.3" width="9.4" height="7.2" fill="#fcd9d7"/>
<rect x="314.8" y="39.3" width="9.4" height="7.2" fill="#f9ada8"/>
<rect x="323.9" y="39.3" width="9.4" height="7.2" fill="#ddeafa"/>
<rect x="333" y="39.3" width="9.4" height="7.2" fill="#f7948e"/>
<rect x="342.1" y="39.3" width="9.4" height="7.2" fill="#9ec4f2"/>
<rect x="351.2" y="39.3" width="9.4" height="7.2" fill="#86b6ee"/>
<rect x="360.3" y="39.3" width="9.4" height="7.2" fill="#77aded"/>
<rect x="369.4" y="39.3" width="9.4" height="7.2" fill="#b6d3f5"/>
<rect x="378.5" y="39.3" width="9.4" height="7.2" fill="#c5dcf7"/>
<rect x="387.6" y="39.3" width="9.4" height="7.2" fill="#86b6ee"/>
<text x="295.6" y="44.7" font-size="5.6" text-anchor="end" font-weight="bold" letter-spacing="-0.1">Ifit3b</text>
<rect x="296.6" y="46.1" width="9.4" height="7.2" fill="#f9ada8"/>
<rect x="305.7" y="46.1" width="9.4" height="7.2" fill="#fabbb7"/>
<rect x="314.8" y="46.1" width="9.4" height="7.2" fill="#f9a8a3"/>
<rect x="323.9" y="46.1" width="9.4" height="7.2" fill="#f0f6fd"/>
<rect x="333" y="46.1" width="9.4" height="7.2" fill="#f68a83"/>
<rect x="342.1" y="46.1" width="9.4" height="7.2" fill="#8fbbf0"/>
<rect x="351.2" y="46.1" width="9.4" height="7.2" fill="#9ec4f2"/>
<rect x="360.3" y="46.1" width="9.4" height="7.2" fill="#b6d3f5"/>
<rect x="369.4" y="46.1" width="9.4" height="7.2" fill="#c5dcf7"/>
<rect x="378.5" y="46.1" width="9.4" height="7.2" fill="#c5dcf7"/>
<rect x="387.6" y="46.1" width="9.4" height="7.2" fill="#86b6ee"/>
<text x="295.6" y="51.5" font-size="5.6" text-anchor="end" font-weight="bold" letter-spacing="-0.1">Rsad2</text>
<rect x="296.6" y="53" width="9.4" height="7.2" fill="#f9ada8"/>
<rect x="305.7" y="53" width="9.4" height="7.2" fill="#f9a8a3"/>
<rect x="314.8" y="53" width="9.4" height="7.2" fill="#f7948e"/>
<rect x="323.9" y="53" width="9.4" height="7.2" fill="#fef5f4"/>
<rect x="333" y="53" width="9.4" height="7.2" fill="#f46f66"/>
<rect x="342.1" y="53" width="9.4" height="7.2" fill="#c5dcf7"/>
<rect x="351.2" y="53" width="9.4" height="7.2" fill="#bbd6f6"/>
<rect x="360.3" y="53" width="9.4" height="7.2" fill="#bbd6f6"/>
<rect x="369.4" y="53" width="9.4" height="7.2" fill="#ddeafa"/>
<rect x="378.5" y="53" width="9.4" height="7.2" fill="#cee2f8"/>
<rect x="387.6" y="53" width="9.4" height="7.2" fill="#86b6ee"/>
<text x="295.6" y="58.4" font-size="5.6" text-anchor="end" font-weight="bold" letter-spacing="-0.1">Oas2</text>
<rect x="296.6" y="59.8" width="9.4" height="7.2" fill="#f35e54"/>
<rect x="305.7" y="59.8" width="9.4" height="7.2" fill="#f35e54"/>
<rect x="314.8" y="59.8" width="9.4" height="7.2" fill="#f24d42"/>
<rect x="323.9" y="59.8" width="9.4" height="7.2" fill="#f9ada8"/>
<rect x="333" y="59.8" width="9.4" height="7.2" fill="#f2473c"/>
<rect x="342.1" y="59.8" width="9.4" height="7.2" fill="#ffffff"/>
<rect x="351.2" y="59.8" width="9.4" height="7.2" fill="#e2edfb"/>
<rect x="360.3" y="59.8" width="9.4" height="7.2" fill="#e7f0fc"/>
<rect x="369.4" y="59.8" width="9.4" height="7.2" fill="#feebea"/>
<rect x="378.5" y="59.8" width="9.4" height="7.2" fill="#feebea"/>
<rect x="387.6" y="59.8" width="9.4" height="7.2" fill="#e7f0fc"/>
<text x="295.6" y="65.2" font-size="5.6" text-anchor="end" font-weight="bold" letter-spacing="-0.1">Irf7</text>
<rect x="296.6" y="66.7" width="9.4" height="7.2" fill="#f46f66"/>
<rect x="305.7" y="66.7" width="9.4" height="7.2" fill="#f8a49e"/>
<rect x="314.8" y="66.7" width="9.4" height="7.2" fill="#f46f66"/>
<rect x="323.9" y="66.7" width="9.4" height="7.2" fill="#ffffff"/>
<rect x="333" y="66.7" width="9.4" height="7.2" fill="#f35e54"/>
<rect x="342.1" y="66.7" width="9.4" height="7.2" fill="#d8e7fa"/>
<rect x="351.2" y="66.7" width="9.4" height="7.2" fill="#c5dcf7"/>
<rect x="360.3" y="66.7" width="9.4" height="7.2" fill="#cadff8"/>
<rect x="369.4" y="66.7" width="9.4" height="7.2" fill="#fafcfe"/>
<rect x="378.5" y="66.7" width="9.4" height="7.2" fill="#ddeafa"/>
<rect x="387.6" y="66.7" width="9.4" height="7.2" fill="#accdf4"/>
<text x="295.6" y="72.1" font-size="5.6" text-anchor="end" font-weight="bold" letter-spacing="-0.1">Ifit3</text>
<rect x="296.6" y="73.6" width="9.4" height="7.2" fill="#f46f66"/>
<rect x="305.7" y="73.6" width="9.4" height="7.2" fill="#f46f66"/>
<rect x="314.8" y="73.6" width="9.4" height="7.2" fill="#f46f66"/>
<rect x="323.9" y="73.6" width="9.4" height="7.2" fill="#feefee"/>
<rect x="333" y="73.6" width="9.4" height="7.2" fill="#f4645b"/>
<rect x="342.1" y="73.6" width="9.4" height="7.2" fill="#e2edfb"/>
<rect x="351.2" y="73.6" width="9.4" height="7.2" fill="#d3e5f9"/>
<rect x="360.3" y="73.6" width="9.4" height="7.2" fill="#d3e5f9"/>
<rect x="369.4" y="73.6" width="9.4" height="7.2" fill="#ffffff"/>
<rect x="378.5" y="73.6" width="9.4" height="7.2" fill="#f5f9fe"/>
<rect x="387.6" y="73.6" width="9.4" height="7.2" fill="#b6d3f5"/>
<text x="295.6" y="79" font-size="5.6" text-anchor="end" font-weight="bold" letter-spacing="-0.1">Ifit1</text>
<rect x="296.6" y="80.4" width="9.4" height="7.2" fill="#fbc4c1"/>
<rect x="305.7" y="80.4" width="9.4" height="7.2" fill="#fabbb7"/>
<rect x="314.8" y="80.4" width="9.4" height="7.2" fill="#fcd1ce"/>
<rect x="323.9" y="80.4" width="9.4" height="7.2" fill="#ddeafa"/>
<rect x="333" y="80.4" width="9.4" height="7.2" fill="#f9ada8"/>
<rect x="342.1" y="80.4" width="9.4" height="7.2" fill="#accdf4"/>
<rect x="351.2" y="80.4" width="9.4" height="7.2" fill="#a8caf3"/>
<rect x="360.3" y="80.4" width="9.4" height="7.2" fill="#9ec4f2"/>
<rect x="369.4" y="80.4" width="9.4" height="7.2" fill="#c5dcf7"/>
<rect x="378.5" y="80.4" width="9.4" height="7.2" fill="#c0d9f6"/>
<rect x="387.6" y="80.4" width="9.4" height="7.2" fill="#8fbbf0"/>
<text x="295.6" y="85.8" font-size="5.6" text-anchor="end" font-weight="bold" letter-spacing="-0.1">Isg15</text>
<rect x="296.6" y="87.3" width="9.4" height="7.2" fill="#ffffff"/>
<rect x="305.7" y="87.3" width="9.4" height="7.2" fill="#ffffff"/>
<rect x="314.8" y="87.3" width="9.4" height="7.2" fill="#e7f0fc"/>
<rect x="323.9" y="87.3" width="9.4" height="7.2" fill="#accdf4"/>
<rect x="333" y="87.3" width="9.4" height="7.2" fill="#fffaf9"/>
<rect x="342.1" y="87.3" width="9.4" height="7.2" fill="#77aded"/>
<rect x="351.2" y="87.3" width="9.4" height="7.2" fill="#6da7eb"/>
<rect x="360.3" y="87.3" width="9.4" height="7.2" fill="#86b6ee"/>
<rect x="369.4" y="87.3" width="9.4" height="7.2" fill="#86b6ee"/>
<rect x="378.5" y="87.3" width="9.4" height="7.2" fill="#9ec4f2"/>
<rect x="387.6" y="87.3" width="9.4" height="7.2" fill="#3d89e5"/>
<text x="295.6" y="92.7" font-size="5.6" text-anchor="end" font-weight="bold" letter-spacing="-0.1">Oasl1</text>
<rect x="296.6" y="94.1" width="9.4" height="7.2" fill="#f5f9fe"/>
<rect x="305.7" y="94.1" width="9.4" height="7.2" fill="#ddeafa"/>
<rect x="314.8" y="94.1" width="9.4" height="7.2" fill="#f0f6fd"/>
<rect x="323.9" y="94.1" width="9.4" height="7.2" fill="#9ec4f2"/>
<rect x="333" y="94.1" width="9.4" height="7.2" fill="#fef5f4"/>
<rect x="342.1" y="94.1" width="9.4" height="7.2" fill="#8ab8ef"/>
<rect x="351.2" y="94.1" width="9.4" height="7.2" fill="#5598e8"/>
<rect x="360.3" y="94.1" width="9.4" height="7.2" fill="#86b6ee"/>
<rect x="369.4" y="94.1" width="9.4" height="7.2" fill="#8ab8ef"/>
<rect x="378.5" y="94.1" width="9.4" height="7.2" fill="#86b6ee"/>
<rect x="387.6" y="94.1" width="9.4" height="7.2" fill="#5598e8"/>
<text x="295.6" y="99.5" font-size="5.6" text-anchor="end" font-weight="bold" letter-spacing="-0.1">Oas3</text>
<rect x="296.6" y="101" width="9.4" height="7.2" fill="#f5f9fe"/>
<rect x="305.7" y="101" width="9.4" height="7.2" fill="#fffaf9"/>
<rect x="314.8" y="101" width="9.4" height="7.2" fill="#fef5f4"/>
<rect x="323.9" y="101" width="9.4" height="7.2" fill="#a8caf3"/>
<rect x="333" y="101" width="9.4" height="7.2" fill="#feefee"/>
<rect x="342.1" y="101" width="9.4" height="7.2" fill="#8fbbf0"/>
<rect x="351.2" y="101" width="9.4" height="7.2" fill="#8ab8ef"/>
<rect x="360.3" y="101" width="9.4" height="7.2" fill="#8fbbf0"/>
<rect x="369.4" y="101" width="9.4" height="7.2" fill="#9ec4f2"/>
<rect x="378.5" y="101" width="9.4" height="7.2" fill="#accdf4"/>
<rect x="387.6" y="101" width="9.4" height="7.2" fill="#5598e8"/>
<text x="295.6" y="106.4" font-size="5.6" text-anchor="end" font-weight="bold" letter-spacing="-0.1">Apol9b</text>
<rect x="296.6" y="107.9" width="9.4" height="7.2" fill="#f35e54"/>
<rect x="305.7" y="107.9" width="9.4" height="7.2" fill="#f35e54"/>
<rect x="314.8" y="107.9" width="9.4" height="7.2" fill="#f35e54"/>
<rect x="323.9" y="107.9" width="9.4" height="7.2" fill="#fabbb7"/>
<rect x="333" y="107.9" width="9.4" height="7.2" fill="#f03529"/>
<rect x="342.1" y="107.9" width="9.4" height="7.2" fill="#fffaf9"/>
<rect x="351.2" y="107.9" width="9.4" height="7.2" fill="#ffffff"/>
<rect x="360.3" y="107.9" width="9.4" height="7.2" fill="#ffffff"/>
<rect x="369.4" y="107.9" width="9.4" height="7.2" fill="#fde4e3"/>
<rect x="378.5" y="107.9" width="9.4" height="7.2" fill="#fde4e3"/>
<rect x="387.6" y="107.9" width="9.4" height="7.2" fill="#e7f0fc"/>
<text x="295.6" y="113.3" font-size="5.6" text-anchor="end" font-weight="bold" letter-spacing="-0.1">Oasl2</text>
<rect x="296.6" y="114.7" width="9.4" height="7.2" fill="#e7f0fc"/>
<rect x="305.7" y="114.7" width="9.4" height="7.2" fill="#e7f0fc"/>
<rect x="314.8" y="114.7" width="9.4" height="7.2" fill="#f0f6fd"/>
<rect x="323.9" y="114.7" width="9.4" height="7.2" fill="#9ec4f2"/>
<rect x="333" y="114.7" width="9.4" height="7.2" fill="#ffffff"/>
<rect x="342.1" y="114.7" width="9.4" height="7.2" fill="#86b6ee"/>
<rect x="351.2" y="114.7" width="9.4" height="7.2" fill="#5598e8"/>
<rect x="360.3" y="114.7" width="9.4" height="7.2" fill="#81b3ee"/>
<rect x="369.4" y="114.7" width="9.4" height="7.2" fill="#8fbbf0"/>
<rect x="378.5" y="114.7" width="9.4" height="7.2" fill="#8fbbf0"/>
<rect x="387.6" y="114.7" width="9.4" height="7.2" fill="#6da7eb"/>
<text x="295.6" y="120.1" font-size="5.6" text-anchor="end" font-weight="bold" letter-spacing="-0.1">Oas1g</text>
<rect x="296.6" y="121.6" width="9.4" height="7.2" fill="#f0f6fd"/>
<rect x="305.7" y="121.6" width="9.4" height="7.2" fill="#fde4e3"/>
<rect x="314.8" y="121.6" width="9.4" height="7.2" fill="#fffaf9"/>
<rect x="323.9" y="121.6" width="9.4" height="7.2" fill="#c5dcf7"/>
<rect x="333" y="121.6" width="9.4" height="7.2" fill="#fef7f7"/>
<rect x="342.1" y="121.6" width="9.4" height="7.2" fill="#94bef0"/>
<rect x="351.2" y="121.6" width="9.4" height="7.2" fill="#9ec4f2"/>
<rect x="360.3" y="121.6" width="9.4" height="7.2" fill="#94bef0"/>
<rect x="369.4" y="121.6" width="9.4" height="7.2" fill="#9ec4f2"/>
<rect x="378.5" y="121.6" width="9.4" height="7.2" fill="#9ec4f2"/>
<rect x="387.6" y="121.6" width="9.4" height="7.2" fill="#94bef0"/>
<text x="295.6" y="127" font-size="5.6" text-anchor="end" font-weight="bold" letter-spacing="-0.1">Dhx58</text>
<rect x="296.6" y="128.4" width="9.4" height="7.2" fill="#f0f6fd"/>
<rect x="305.7" y="128.4" width="9.4" height="7.2" fill="#accdf4"/>
<rect x="314.8" y="128.4" width="9.4" height="7.2" fill="#e7f0fc"/>
<rect x="323.9" y="128.4" width="9.4" height="7.2" fill="#b1d0f4"/>
<rect x="333" y="128.4" width="9.4" height="7.2" fill="#fffaf9"/>
<rect x="342.1" y="128.4" width="9.4" height="7.2" fill="#8fbbf0"/>
<rect x="351.2" y="128.4" width="9.4" height="7.2" fill="#81b3ee"/>
<rect x="360.3" y="128.4" width="9.4" height="7.2" fill="#81b3ee"/>
<rect x="369.4" y="128.4" width="9.4" height="7.2" fill="#8ab8ef"/>
<rect x="378.5" y="128.4" width="9.4" height="7.2" fill="#8ab8ef"/>
<rect x="387.6" y="128.4" width="9.4" height="7.2" fill="#5598e8"/>
<text x="295.6" y="133.8" font-size="5.6" text-anchor="end" font-weight="bold" letter-spacing="-0.1">Mx1</text>
<rect x="296.6" y="135.3" width="9.4" height="7.2" fill="#b1d0f4"/>
<rect x="305.7" y="135.3" width="9.4" height="7.2" fill="#ddeafa"/>
<rect x="314.8" y="135.3" width="9.4" height="7.2" fill="#b1d0f4"/>
<rect x="323.9" y="135.3" width="9.4" height="7.2" fill="#bbd6f6"/>
<rect x="333" y="135.3" width="9.4" height="7.2" fill="#c0d9f6"/>
<rect x="342.1" y="135.3" width="9.4" height="7.2" fill="#5a9be9"/>
<rect x="351.2" y="135.3" width="9.4" height="7.2" fill="#4b92e7"/>
<rect x="360.3" y="135.3" width="9.4" height="7.2" fill="#4b92e7"/>
<rect x="369.4" y="135.3" width="9.4" height="7.2" fill="#8ab8ef"/>
<rect x="378.5" y="135.3" width="9.4" height="7.2" fill="#418ce5"/>
<rect x="387.6" y="135.3" width="9.4" height="7.2" fill="#81b3ee"/>
<text x="295.6" y="140.7" font-size="5.6" text-anchor="end" font-weight="bold" letter-spacing="-0.1">Zfp781</text>
<rect x="296.6" y="142.2" width="9.4" height="7.2" fill="#b1d0f4"/>
<rect x="305.7" y="142.2" width="9.4" height="7.2" fill="#86b6ee"/>
<rect x="314.8" y="142.2" width="9.4" height="7.2" fill="#b1d0f4"/>
<rect x="323.9" y="142.2" width="9.4" height="7.2" fill="#86b6ee"/>
<rect x="333" y="142.2" width="9.4" height="7.2" fill="#bbd6f6"/>
<rect x="342.1" y="142.2" width="9.4" height="7.2" fill="#247be1"/>
<rect x="351.2" y="142.2" width="9.4" height="7.2" fill="#1672df"/>
<rect x="360.3" y="142.2" width="9.4" height="7.2" fill="#3d89e5"/>
<rect x="369.4" y="142.2" width="9.4" height="7.2" fill="#468fe6"/>
<rect x="378.5" y="142.2" width="9.4" height="7.2" fill="#6da7eb"/>
<rect x="387.6" y="142.2" width="9.4" height="7.2" fill="#5598e8"/>
<text x="295.6" y="147.6" font-size="5.6" text-anchor="end" font-weight="bold" letter-spacing="-0.1">Mx2</text>
<rect x="296.6" y="149" width="9.4" height="7.2" fill="#fcd1ce"/>
<rect x="305.7" y="149" width="9.4" height="7.2" fill="#fbc9c5"/>
<rect x="314.8" y="149" width="9.4" height="7.2" fill="#fbc4c1"/>
<rect x="323.9" y="149" width="9.4" height="7.2" fill="#ddeafa"/>
<rect x="333" y="149" width="9.4" height="7.2" fill="#f9ada8"/>
<rect x="342.1" y="149" width="9.4" height="7.2" fill="#cadff8"/>
<rect x="351.2" y="149" width="9.4" height="7.2" fill="#bbd6f6"/>
<rect x="360.3" y="149" width="9.4" height="7.2" fill="#c5dcf7"/>
<rect x="369.4" y="149" width="9.4" height="7.2" fill="#e7f0fc"/>
<rect x="378.5" y="149" width="9.4" height="7.2" fill="#ddeafa"/>
<rect x="387.6" y="149" width="9.4" height="7.2" fill="#b6d3f5"/>
<text x="295.6" y="154.4" font-size="5.6" text-anchor="end" font-weight="bold" letter-spacing="-0.1">Xaf1</text>
<rect x="296.6" y="155.9" width="9.4" height="7.2" fill="#f8a49e"/>
<rect x="305.7" y="155.9" width="9.4" height="7.2" fill="#f8a49e"/>
<rect x="314.8" y="155.9" width="9.4" height="7.2" fill="#f68a83"/>
<rect x="323.9" y="155.9" width="9.4" height="7.2" fill="#feebea"/>
<rect x="333" y="155.9" width="9.4" height="7.2" fill="#f46f66"/>
<rect x="342.1" y="155.9" width="9.4" height="7.2" fill="#e7f0fc"/>
<rect x="351.2" y="155.9" width="9.4" height="7.2" fill="#fffaf9"/>
<rect x="360.3" y="155.9" width="9.4" height="7.2" fill="#ecf3fc"/>
<rect x="369.4" y="155.9" width="9.4" height="7.2" fill="#fffaf9"/>
<rect x="378.5" y="155.9" width="9.4" height="7.2" fill="#fffaf9"/>
<rect x="387.6" y="155.9" width="9.4" height="7.2" fill="#c5dcf7"/>
<text x="295.6" y="161.3" font-size="5.6" text-anchor="end" font-weight="bold" letter-spacing="-0.1">Ifi44</text>
<rect x="296.6" y="162.7" width="9.4" height="7.2" fill="#ddeafa"/>
<rect x="305.7" y="162.7" width="9.4" height="7.2" fill="#e7f0fc"/>
<rect x="314.8" y="162.7" width="9.4" height="7.2" fill="#ffffff"/>
<rect x="323.9" y="162.7" width="9.4" height="7.2" fill="#b6d3f5"/>
<rect x="333" y="162.7" width="9.4" height="7.2" fill="#ecf3fc"/>
<rect x="342.1" y="162.7" width="9.4" height="7.2" fill="#8fbbf0"/>
<rect x="351.2" y="162.7" width="9.4" height="7.2" fill="#81b3ee"/>
<rect x="360.3" y="162.7" width="9.4" height="7.2" fill="#8ab8ef"/>
<rect x="369.4" y="162.7" width="9.4" height="7.2" fill="#accdf4"/>
<rect x="378.5" y="162.7" width="9.4" height="7.2" fill="#9ec4f2"/>
<rect x="387.6" y="162.7" width="9.4" height="7.2" fill="#8fbbf0"/>
<text x="295.6" y="168.1" font-size="5.6" text-anchor="end" font-weight="bold" letter-spacing="-0.1">Oas1a</text>
<rect x="296.6" y="32.4" width="100.1" height="137.2" fill="none" stroke="#000" stroke-width="1.1"/>
<rect x="400.3" y="32.6" width="9.5" height="137.6" fill="url(#cbar)" stroke="#000" stroke-width="1"/>
<line x1="409.8" y1="34.8" x2="411.5" y2="34.8" stroke="#000" stroke-width="1"/>
<text x="412.8" y="37.2" font-size="6.8">8</text>
<line x1="409.8" y1="65.8" x2="411.5" y2="65.8" stroke="#000" stroke-width="1"/>
<text x="412.8" y="68.2" font-size="6.8">6</text>
<line x1="409.8" y1="96.8" x2="411.5" y2="96.8" stroke="#000" stroke-width="1"/>
<text x="412.8" y="99.2" font-size="6.8">4</text>
<line x1="409.8" y1="127.7" x2="411.5" y2="127.7" stroke="#000" stroke-width="1"/>
<text x="412.8" y="130.1" font-size="6.8">2</text>
<line x1="409.8" y1="158.7" x2="411.5" y2="158.7" stroke="#000" stroke-width="1"/>
<text x="412.8" y="161.1" font-size="6.8">0</text>
<path d="M297 175.5 Q297 173.4 299 173.4 L339 173.4 Q341 173.4 341 175.5" fill="none" stroke="#000" stroke-width="1"/>
<path d="M343.7 175.5 Q343.7 173.4 345.7 173.4 L392 173.4 Q394 173.4 394 175.5" fill="none" stroke="#000" stroke-width="1"/>
<text x="318.4" y="185.3" font-size="9" text-anchor="middle">PyMT</text>
<text x="318.4" y="196.6" font-size="9" text-anchor="middle">PCBP1<tspan font-size="6.3" dy="-3">+/+</tspan></text>
<text x="370" y="185.3" font-size="9" text-anchor="middle">PyMT</text>
<text x="370" y="196.6" font-size="9" text-anchor="middle">PCBP1<tspan font-size="6.3" dy="-3">-/-</tspan></text>
<rect x="633.8" y="33.6" width="33.8" height="4.3" fill="#ff2200"/>
<line x1="583.6" y1="35.7" x2="587.6" y2="35.7" stroke="#000" stroke-width="0.9"/>
<text x="583.4" y="37.8" font-size="5.8" text-anchor="end">Nucleosome</text>
<rect x="633.8" y="40" width="33" height="4.3" fill="#ff2200"/>
<line x1="583.6" y1="42.1" x2="587.6" y2="42.1" stroke="#000" stroke-width="0.9"/>
<text x="583.4" y="44.1" font-size="5.8" text-anchor="end">Structural constituent of chromatin</text>
<rect x="633.8" y="46.4" width="29.8" height="4.3" fill="#ff2200"/>
<line x1="583.6" y1="48.5" x2="587.6" y2="48.5" stroke="#000" stroke-width="0.9"/>
<text x="583.4" y="50.5" font-size="5.8" text-anchor="end">Aerobic electron transport chain</text>
<rect x="633.8" y="52.8" width="29.2" height="4.3" fill="#ff2200"/>
<line x1="583.6" y1="54.9" x2="587.6" y2="54.9" stroke="#000" stroke-width="0.9"/>
<text x="583.4" y="57" font-size="5.8" text-anchor="end">Chromosome centromeric core domain</text>
<rect x="633.8" y="59.2" width="28.1" height="4.3" fill="#ff2200"/>
<line x1="583.6" y1="61.3" x2="587.6" y2="61.3" stroke="#000" stroke-width="0.9"/>
<text x="583.4" y="63.4" font-size="5.8" text-anchor="end">Nucleosomal DNA binding</text>
<rect x="605.1" y="65.5" width="28.7" height="4.3" fill="#0a28ff"/>
<line x1="583.6" y1="67.7" x2="587.6" y2="67.7" stroke="#000" stroke-width="0.9"/>
<text x="583.4" y="69.8" font-size="5.8" text-anchor="end">Double stranded RNA binding</text>
<rect x="605.1" y="72" width="28.7" height="4.3" fill="#0a28ff"/>
<line x1="583.6" y1="74.1" x2="587.6" y2="74.1" stroke="#000" stroke-width="0.9"/>
<text x="583.4" y="76.2" font-size="5.8" text-anchor="end">Regulation of type I IFN mediated signaling pathway</text>
<rect x="604.6" y="78.3" width="29.2" height="4.3" fill="#0a28ff"/>
<line x1="583.6" y1="80.5" x2="587.6" y2="80.5" stroke="#000" stroke-width="0.9"/>
<text x="583.4" y="82.5" font-size="5.8" text-anchor="end">Negative regulation of innate immune response</text>
<rect x="604.6" y="84.8" width="29.2" height="4.3" fill="#0a28ff"/>
<line x1="583.6" y1="86.9" x2="587.6" y2="86.9" stroke="#000" stroke-width="0.9"/>
<text x="583.4" y="89" font-size="5.8" text-anchor="end">Response to IFNα</text>
<rect x="604" y="91.2" width="29.8" height="4.3" fill="#0a28ff"/>
<line x1="583.6" y1="93.3" x2="587.6" y2="93.3" stroke="#000" stroke-width="0.9"/>
<text x="583.4" y="95.4" font-size="5.8" text-anchor="end">Negative regulation of viral genome replication</text>
<rect x="604" y="97.5" width="29.8" height="4.3" fill="#0a28ff"/>
<line x1="583.6" y1="99.7" x2="587.6" y2="99.7" stroke="#000" stroke-width="0.9"/>
<text x="583.4" y="101.8" font-size="5.8" text-anchor="end">Type I IFN production</text>
<rect x="604" y="104" width="29.8" height="4.3" fill="#0a28ff"/>
<line x1="583.6" y1="106.1" x2="587.6" y2="106.1" stroke="#000" stroke-width="0.9"/>
<text x="583.4" y="108.2" font-size="5.8" text-anchor="end">Regulation of viral genome replication</text>
<rect x="604" y="110.4" width="29.8" height="4.3" fill="#0a28ff"/>
<line x1="583.6" y1="112.5" x2="587.6" y2="112.5" stroke="#000" stroke-width="0.9"/>
<text x="583.4" y="114.6" font-size="5.8" text-anchor="end">Response to virus</text>
<rect x="603.5" y="116.8" width="30.3" height="4.3" fill="#0a28ff"/>
<line x1="583.6" y1="118.9" x2="587.6" y2="118.9" stroke="#000" stroke-width="0.9"/>
<text x="583.4" y="121" font-size="5.8" text-anchor="end">Negative regulation of type I IFN mediated signaling pathway</text>
<rect x="603.2" y="123.2" width="30.6" height="4.3" fill="#0a28ff"/>
<line x1="583.6" y1="125.3" x2="587.6" y2="125.3" stroke="#000" stroke-width="0.9"/>
<text x="583.4" y="127.4" font-size="5.8" text-anchor="end">Defense reponse to symbiont</text>
<rect x="603.2" y="129.5" width="30.6" height="4.3" fill="#0a28ff"/>
<line x1="583.6" y1="131.7" x2="587.6" y2="131.7" stroke="#000" stroke-width="0.9"/>
<text x="583.4" y="133.8" font-size="5.8" text-anchor="end">Positive regulation of type I IFN production</text>
<rect x="602.9" y="136" width="30.9" height="4.3" fill="#0a28ff"/>
<line x1="583.6" y1="138.1" x2="587.6" y2="138.1" stroke="#000" stroke-width="0.9"/>
<text x="583.4" y="140.2" font-size="5.8" text-anchor="end">Antiviral innate immune response</text>
<rect x="602.8" y="142.3" width="31" height="4.3" fill="#0a28ff"/>
<line x1="583.6" y1="144.5" x2="587.6" y2="144.5" stroke="#000" stroke-width="0.9"/>
<text x="583.4" y="146.6" font-size="5.8" text-anchor="end">Negative regulation of viral process</text>
<rect x="601.7" y="148.8" width="32.1" height="4.3" fill="#0a28ff"/>
<line x1="583.6" y1="150.9" x2="587.6" y2="150.9" stroke="#000" stroke-width="0.9"/>
<text x="583.4" y="153" font-size="5.8" text-anchor="end">Response to type I IFN</text>
<rect x="601.4" y="155.2" width="32.4" height="4.3" fill="#0a28ff"/>
<line x1="583.6" y1="157.3" x2="587.6" y2="157.3" stroke="#000" stroke-width="0.9"/>
<text x="583.4" y="159.4" font-size="5.8" text-anchor="end">IFN mediated signaling pathway</text>
<rect x="598.8" y="161.5" width="35" height="4.3" fill="#0a28ff"/>
<line x1="583.6" y1="163.7" x2="587.6" y2="163.7" stroke="#000" stroke-width="0.9"/>
<text x="583.4" y="165.8" font-size="5.8" text-anchor="end">Response to IFN β</text>
<line x1="587.6" y1="30.5" x2="587.6" y2="168.4" stroke="#000" stroke-width="1.3"/>
<line x1="633.8" y1="30.5" x2="633.8" y2="167.5" stroke="#222" stroke-width="1.1"/>
<line x1="587" y1="167.6" x2="680.3" y2="167.6" stroke="#000" stroke-width="1.4"/>
<line x1="588" y1="167.6" x2="588" y2="171.2" stroke="#000" stroke-width="1"/>
<text x="588" y="178.2" font-size="5.6" text-anchor="middle" font-weight="bold">-4</text>
<line x1="610.9" y1="167.6" x2="610.9" y2="171.2" stroke="#000" stroke-width="1"/>
<text x="610.9" y="178.2" font-size="5.6" text-anchor="middle" font-weight="bold">-2</text>
<line x1="633.8" y1="167.6" x2="633.8" y2="171.2" stroke="#000" stroke-width="1"/>
<text x="633.8" y="178.2" font-size="5.6" text-anchor="middle" font-weight="bold">0</text>
<line x1="656.7" y1="167.6" x2="656.7" y2="171.2" stroke="#000" stroke-width="1"/>
<text x="656.7" y="178.2" font-size="5.6" text-anchor="middle" font-weight="bold">2</text>
<line x1="679.6" y1="167.6" x2="679.6" y2="171.2" stroke="#000" stroke-width="1"/>
<text x="679.6" y="178.2" font-size="5.6" text-anchor="middle" font-weight="bold">4</text>
<text x="610.4" y="44.8" font-size="8.05" text-anchor="middle" fill="#ff1a1a">PCBP1-/-</text>
<text x="610.4" y="54" font-size="8.05" text-anchor="middle" fill="#ff1a1a">Up</text>
<text x="656.5" y="109.6" font-size="8.05" text-anchor="middle" fill="#3a6fd8">PCBP1-/-</text>
<text x="656.5" y="118.5" font-size="8.05" text-anchor="middle" fill="#3a6fd8">Down</text>
<text x="620.9" y="193.1" font-size="9.3" text-anchor="middle">NES (PyMT PCBP1-/- vs +/+)</text>
<rect x="24.6" y="255.6" width="131" height="120.5" fill="#efefef"/>
<rect x="40.4" y="256.6" width="114.8" height="48.4" fill="#fff"/>
<rect x="40.4" y="305.6" width="114.8" height="16.2" fill="#fff"/>
<rect x="40.4" y="326.4" width="114.8" height="31.6" fill="#fff"/>
<line x1="40.4" y1="258.9" x2="155.2" y2="258.9" stroke="#d8d8d8" stroke-width="0.5" stroke-dasharray="1 1"/>
<line x1="40.4" y1="265.1" x2="155.2" y2="265.1" stroke="#d8d8d8" stroke-width="0.5" stroke-dasharray="1 1"/>
<line x1="40.4" y1="271.4" x2="155.2" y2="271.4" stroke="#d8d8d8" stroke-width="0.5" stroke-dasharray="1 1"/>
<line x1="40.4" y1="277.6" x2="155.2" y2="277.6" stroke="#d8d8d8" stroke-width="0.5" stroke-dasharray="1 1"/>
<line x1="40.4" y1="283.9" x2="155.2" y2="283.9" stroke="#d8d8d8" stroke-width="0.5" stroke-dasharray="1 1"/>
<line x1="40.4" y1="290.1" x2="155.2" y2="290.1" stroke="#d8d8d8" stroke-width="0.5" stroke-dasharray="1 1"/>
<line x1="40.4" y1="296.3" x2="155.2" y2="296.3" stroke="#d8d8d8" stroke-width="0.5" stroke-dasharray="1 1"/>
<line x1="40.4" y1="302.6" x2="155.2" y2="302.6" stroke="#d8d8d8" stroke-width="0.5" stroke-dasharray="1 1"/>
<line x1="55.8" y1="256.6" x2="55.8" y2="305" stroke="#d8d8d8" stroke-width="0.5" stroke-dasharray="1 1"/>
<line x1="55.8" y1="326.4" x2="55.8" y2="358" stroke="#d8d8d8" stroke-width="0.5" stroke-dasharray="1 1"/>
<line x1="71.2" y1="256.6" x2="71.2" y2="305" stroke="#d8d8d8" stroke-width="0.5" stroke-dasharray="1 1"/>
<line x1="71.2" y1="326.4" x2="71.2" y2="358" stroke="#d8d8d8" stroke-width="0.5" stroke-dasharray="1 1"/>
<line x1="86.6" y1="256.6" x2="86.6" y2="305" stroke="#d8d8d8" stroke-width="0.5" stroke-dasharray="1 1"/>
<line x1="86.6" y1="326.4" x2="86.6" y2="358" stroke="#d8d8d8" stroke-width="0.5" stroke-dasharray="1 1"/>
<line x1="102.1" y1="256.6" x2="102.1" y2="305" stroke="#d8d8d8" stroke-width="0.5" stroke-dasharray="1 1"/>
<line x1="102.1" y1="326.4" x2="102.1" y2="358" stroke="#d8d8d8" stroke-width="0.5" stroke-dasharray="1 1"/>
<line x1="117.5" y1="256.6" x2="117.5" y2="305" stroke="#d8d8d8" stroke-width="0.5" stroke-dasharray="1 1"/>
<line x1="117.5" y1="326.4" x2="117.5" y2="358" stroke="#d8d8d8" stroke-width="0.5" stroke-dasharray="1 1"/>
<line x1="132.9" y1="256.6" x2="132.9" y2="305" stroke="#d8d8d8" stroke-width="0.5" stroke-dasharray="1 1"/>
<line x1="132.9" y1="326.4" x2="132.9" y2="358" stroke="#d8d8d8" stroke-width="0.5" stroke-dasharray="1 1"/>
<line x1="148.3" y1="256.6" x2="148.3" y2="305" stroke="#d8d8d8" stroke-width="0.5" stroke-dasharray="1 1"/>
<line x1="148.3" y1="326.4" x2="148.3" y2="358" stroke="#d8d8d8" stroke-width="0.5" stroke-dasharray="1 1"/>
<line x1="40.4" y1="333.3" x2="155.2" y2="333.3" stroke="#dddddd" stroke-width="0.5" stroke-dasharray="1 1"/>
<line x1="40.4" y1="338.2" x2="155.2" y2="338.2" stroke="#dddddd" stroke-width="0.5" stroke-dasharray="1 1"/>
<line x1="40.4" y1="343.1" x2="155.2" y2="343.1" stroke="#dddddd" stroke-width="0.5" stroke-dasharray="1 1"/>
<line x1="40.4" y1="348" x2="155.2" y2="348" stroke="#dddddd" stroke-width="0.5" stroke-dasharray="1 1"/>
<line x1="40.4" y1="352.9" x2="155.2" y2="352.9" stroke="#dddddd" stroke-width="0.5" stroke-dasharray="1 1"/>
<line x1="40.4" y1="357.8" x2="155.2" y2="357.8" stroke="#dddddd" stroke-width="0.5" stroke-dasharray="1 1"/>
<path d="M54.3 305.8v15.8M71.7 305.8v15.8M74.2 305.8v15.8M75.2 305.8v15.8M77.8 305.8v15.8M79.3 305.8v15.8M85.8 305.8v15.8M90.5 305.8v15.8M93 305.8v15.8M94 305.8v15.8M98.1 305.8v15.8M101.3 305.8v15.8M103.8 305.8v15.8M119.7 305.8v15.8M123.6 305.8v15.8M125.9 305.8v15.8M129.3 305.8v15.8M135.9 305.8v15.8M142.2 305.8v15.8M148.8 305.8v15.8M149.4 305.8v15.8" stroke="#222" stroke-width="0.6" fill="none"/>
<path d="M131.4 305.8v15.8M143.6 305.8v15.8M146.7 305.8v15.8" stroke="#555" stroke-width="0.6" fill="none"/>
<path d="M63.3 305.8v15.8M72.7 305.8v15.8M108.5 305.8v15.8M117.7 305.8v15.8M130.4 305.8v15.8M145.7 305.8v15.8" stroke="#888" stroke-width="0.6" fill="none"/>
<path d="M81.9 305.8v15.8M106.9 305.8v15.8M112.4 305.8v15.8M121.6 305.8v15.8M147.7 305.8v15.8" stroke="#aaa" stroke-width="0.6" fill="none"/>
<rect x="40.4" y="321.9" width="22.1" height="4.1" fill="#e83e42"/>
<rect x="62.3" y="321.9" width="19.9" height="4.1" fill="#ec5660"/>
<rect x="82.1" y="321.9" width="2.4" height="4.1" fill="#f07882"/>
<rect x="84.3" y="321.9" width="11.2" height="4.1" fill="#eeaad7"/>
<rect x="95.2" y="321.9" width="13.4" height="4.1" fill="#dcc8f0"/>
<rect x="108.4" y="321.9" width="11.2" height="4.1" fill="#cdcdf5"/>
<rect x="119.3" y="321.9" width="11.2" height="4.1" fill="#8c8ceb"/>
<rect x="130.3" y="321.9" width="15.5" height="4.1" fill="#5f5fe6"/>
<rect x="145.6" y="321.9" width="4.6" height="4.1" fill="#1919aa"/>
<text x="41.9" y="329.4" font-size="2.8" fill="#ee3333">PCBP1_KO (positively correlated)</text>
<path d="M40.4 339.6 L40.4 333.1 L42.2 335.3 L44.1 336.7 L45.9 337.5 L47.7 338.1 L49.5 338.5 L51.4 338.7 L53.2 338.9 L55 339 L56.8 339.1 L58.7 339.1 L60.5 339.2 L62.3 339.2 L64.2 339.3 L66 339.3 L67.8 339.4 L69.6 339.4 L71.5 339.5 L73.3 339.5 L75.1 339.6 L76.9 339.6 L78.8 339.7 L80.6 339.7 L82.4 339.8 L84.3 339.8 L86.1 339.9 L87.9 339.9 L89.7 340 L91.6 340.1 L93.4 340.1 L95.2 340.2 L97 340.2 L98.9 340.3 L100.7 340.4 L102.5 340.4 L104.4 340.5 L106.2 340.6 L108 340.7 L109.8 340.7 L111.7 340.8 L113.5 340.9 L115.3 341 L117.1 341 L119 341.1 L120.8 341.2 L122.6 341.3 L124.5 341.4 L126.3 341.5 L128.1 341.5 L129.9 341.6 L131.8 341.7 L133.6 341.8 L135.4 341.9 L137.2 342 L139.1 342.1 L140.9 342.2 L142.7 342.3 L144.6 342.4 L146.4 344.6 L148.2 350.1 L150 355.5 L150 339.6Z" fill="#c4c4c4"/>
<line x1="40.4" y1="339.6" x2="150" y2="339.6" stroke="#999" stroke-width="0.4"/>
<text x="97.8" y="346" font-size="2.8" fill="#444" text-anchor="middle">Zero cross at 6185</text>
<text x="118.5" y="355.5" font-size="2.8" fill="#3344ee" text-anchor="middle">PCBP1_WT (negatively correlated)</text>
<path d="M40.4 258.9 L47 262.6 L53.7 266.3 L58 268.6 L61.9 270.7 L63.9 269.6 L67 271.5 L72.1 273.5 L80 277.3 L90 282.7 L100 287.8 L110.2 292.4 L121.5 297.5 L127 298.8 L129.6 299.5 L131.7 298.2 L135.8 299.5 L139.5 301.8 L141.9 303.1 L145 302.1 L146 299.5 L148 298.5 L148.8 282.7 L149.3 268 L149.6 258.9" stroke="#22ee22" stroke-width="1.1" fill="none"/>
<text x="38.9" y="259.9" font-size="2.6" text-anchor="end" fill="#333">0.0</text>
<text x="38.9" y="266.1" font-size="2.6" text-anchor="end" fill="#333">-0.1</text>
<text x="38.9" y="272.4" font-size="2.6" text-anchor="end" fill="#333">-0.2</text>
<text x="38.9" y="278.6" font-size="2.6" text-anchor="end" fill="#333">-0.3</text>
<text x="38.9" y="284.9" font-size="2.6" text-anchor="end" fill="#333">-0.4</text>
<text x="38.9" y="291.1" font-size="2.6" text-anchor="end" fill="#333">-0.5</text>
<text x="38.9" y="297.3" font-size="2.6" text-anchor="end" fill="#333">-0.6</text>
<text x="38.9" y="303.6" font-size="2.6" text-anchor="end" fill="#333">-0.7</text>
<text x="38.9" y="327.6" font-size="2.6" text-anchor="end" fill="#444">3</text>
<text x="38.9" y="332" font-size="2.6" text-anchor="end" fill="#444">2</text>
<text x="38.9" y="336.3" font-size="2.6" text-anchor="end" fill="#444">1</text>
<text x="38.9" y="340.7" font-size="2.6" text-anchor="end" fill="#444">0</text>
<text x="38.9" y="345" font-size="2.6" text-anchor="end" fill="#444">-1</text>
<text x="38.9" y="349.4" font-size="2.6" text-anchor="end" fill="#444">-2</text>
<text x="38.9" y="353.7" font-size="2.6" text-anchor="end" fill="#444">-3</text>
<text x="38.9" y="358.1" font-size="2.6" text-anchor="end" fill="#444">-4</text>
<path d="M40.4 256.6V358H155.2" fill="none" stroke="#9a9a9a" stroke-width="0.5"/>
<text x="40.4" y="362.5" font-size="2.8" text-anchor="middle" fill="#333">0</text>
<text x="55.8" y="362.5" font-size="2.8" text-anchor="middle" fill="#333">2,000</text>
<text x="71.2" y="362.5" font-size="2.8" text-anchor="middle" fill="#333">4,000</text>
<text x="86.6" y="362.5" font-size="2.8" text-anchor="middle" fill="#333">6,000</text>
<text x="102.1" y="362.5" font-size="2.8" text-anchor="middle" fill="#333">8,000</text>
<text x="117.5" y="362.5" font-size="2.8" text-anchor="middle" fill="#333">10,000</text>
<text x="132.9" y="362.5" font-size="2.8" text-anchor="middle" fill="#333">12,000</text>
<text x="148.3" y="362.5" font-size="2.8" text-anchor="middle" fill="#333">14,000</text>
<text x="92.1" y="366.3" font-size="3" text-anchor="middle" fill="#333">Rank in Ordered Dataset</text>
<text transform="translate(30.2 281) rotate(-90)" font-size="2.9" text-anchor="middle" fill="#333">Enrichment score (ES)</text>
<text transform="translate(30.2 342) rotate(-90)" font-size="2.9" text-anchor="middle" fill="#333">Ranked list metric (Signal2Noise)</text>
<rect x="44.1" y="369.2" width="93.3" height="6.2" fill="#fff" stroke="#555" stroke-width="0.5"/>
<line x1="45.1" y1="372.3" x2="49.1" y2="372.3" stroke="#22ee22" stroke-width="1"/>
<text x="50.1" y="373.4" font-size="3" fill="#333">Enrichment profile</text>
<line x1="78.1" y1="372.3" x2="81.1" y2="372.3" stroke="#333" stroke-width="0.5"/>
<text x="82.1" y="373.4" font-size="3" fill="#333">Hits</text>
<line x1="100.1" y1="372.3" x2="103.1" y2="372.3" stroke="#aaa" stroke-width="0.5"/>
<text x="105.1" y="373.4" font-size="3" fill="#333">Ranking metric scores</text>
<text x="97" y="231.6" font-size="9.25" text-anchor="middle" font-weight="bold">Enrichment plot:</text>
<text x="97" y="241.8" font-size="9.3" text-anchor="middle">GOBP Response to</text>
<text x="97" y="252.5" font-size="9.3" text-anchor="middle">Type I Interferon</text>
<rect x="158.4" y="255.6" width="130.2" height="120.5" fill="#efefef"/>
<rect x="172.6" y="256.6" width="114.6" height="48.4" fill="#fff"/>
<rect x="172.6" y="305.6" width="114.6" height="16.2" fill="#fff"/>
<rect x="172.6" y="326.4" width="114.6" height="31.6" fill="#fff"/>
<line x1="172.6" y1="258.9" x2="287.2" y2="258.9" stroke="#d8d8d8" stroke-width="0.5" stroke-dasharray="1 1"/>
<line x1="172.6" y1="265.1" x2="287.2" y2="265.1" stroke="#d8d8d8" stroke-width="0.5" stroke-dasharray="1 1"/>
<line x1="172.6" y1="271.4" x2="287.2" y2="271.4" stroke="#d8d8d8" stroke-width="0.5" stroke-dasharray="1 1"/>
<line x1="172.6" y1="277.6" x2="287.2" y2="277.6" stroke="#d8d8d8" stroke-width="0.5" stroke-dasharray="1 1"/>
<line x1="172.6" y1="283.9" x2="287.2" y2="283.9" stroke="#d8d8d8" stroke-width="0.5" stroke-dasharray="1 1"/>
<line x1="172.6" y1="290.1" x2="287.2" y2="290.1" stroke="#d8d8d8" stroke-width="0.5" stroke-dasharray="1 1"/>
<line x1="172.6" y1="296.3" x2="287.2" y2="296.3" stroke="#d8d8d8" stroke-width="0.5" stroke-dasharray="1 1"/>
<line x1="172.6" y1="302.6" x2="287.2" y2="302.6" stroke="#d8d8d8" stroke-width="0.5" stroke-dasharray="1 1"/>
<line x1="188" y1="256.6" x2="188" y2="305" stroke="#d8d8d8" stroke-width="0.5" stroke-dasharray="1 1"/>
<line x1="188" y1="326.4" x2="188" y2="358" stroke="#d8d8d8" stroke-width="0.5" stroke-dasharray="1 1"/>
<line x1="203.4" y1="256.6" x2="203.4" y2="305" stroke="#d8d8d8" stroke-width="0.5" stroke-dasharray="1 1"/>
<line x1="203.4" y1="326.4" x2="203.4" y2="358" stroke="#d8d8d8" stroke-width="0.5" stroke-dasharray="1 1"/>
<line x1="218.8" y1="256.6" x2="218.8" y2="305" stroke="#d8d8d8" stroke-width="0.5" stroke-dasharray="1 1"/>
<line x1="218.8" y1="326.4" x2="218.8" y2="358" stroke="#d8d8d8" stroke-width="0.5" stroke-dasharray="1 1"/>
<line x1="234.2" y1="256.6" x2="234.2" y2="305" stroke="#d8d8d8" stroke-width="0.5" stroke-dasharray="1 1"/>
<line x1="234.2" y1="326.4" x2="234.2" y2="358" stroke="#d8d8d8" stroke-width="0.5" stroke-dasharray="1 1"/>
<line x1="249.5" y1="256.6" x2="249.5" y2="305" stroke="#d8d8d8" stroke-width="0.5" stroke-dasharray="1 1"/>
<line x1="249.5" y1="326.4" x2="249.5" y2="358" stroke="#d8d8d8" stroke-width="0.5" stroke-dasharray="1 1"/>
<line x1="264.9" y1="256.6" x2="264.9" y2="305" stroke="#d8d8d8" stroke-width="0.5" stroke-dasharray="1 1"/>
<line x1="264.9" y1="326.4" x2="264.9" y2="358" stroke="#d8d8d8" stroke-width="0.5" stroke-dasharray="1 1"/>
<line x1="280.3" y1="256.6" x2="280.3" y2="305" stroke="#d8d8d8" stroke-width="0.5" stroke-dasharray="1 1"/>
<line x1="280.3" y1="326.4" x2="280.3" y2="358" stroke="#d8d8d8" stroke-width="0.5" stroke-dasharray="1 1"/>
<line x1="172.6" y1="333.3" x2="287.2" y2="333.3" stroke="#dddddd" stroke-width="0.5" stroke-dasharray="1 1"/>
<line x1="172.6" y1="338.2" x2="287.2" y2="338.2" stroke="#dddddd" stroke-width="0.5" stroke-dasharray="1 1"/>
<line x1="172.6" y1="343.1" x2="287.2" y2="343.1" stroke="#dddddd" stroke-width="0.5" stroke-dasharray="1 1"/>
<line x1="172.6" y1="348" x2="287.2" y2="348" stroke="#dddddd" stroke-width="0.5" stroke-dasharray="1 1"/>
<line x1="172.6" y1="352.9" x2="287.2" y2="352.9" stroke="#dddddd" stroke-width="0.5" stroke-dasharray="1 1"/>
<line x1="172.6" y1="357.8" x2="287.2" y2="357.8" stroke="#dddddd" stroke-width="0.5" stroke-dasharray="1 1"/>
<path d="M239.1 305.8v15.8M274.3 305.8v15.8M229.5 305.8v15.8M234.2 305.8v15.8M261.9 305.8v15.8M187.4 305.8v15.8M212.2 305.8v15.8M263.5 305.8v15.8M252.3 305.8v15.8M180.1 305.8v15.8M244.6 305.8v15.8M235.9 305.8v15.8M182.7 305.8v15.8M199.3 305.8v15.8M266.6 305.8v15.8M281.1 305.8v15.8M203.9 305.8v15.8M259.3 305.8v15.8M222.6 305.8v15.8M221.2 305.8v15.8M201.6 305.8v15.8M273 305.8v15.8M229.9 305.8v15.8M279.5 305.8v15.8M222.3 305.8v15.8M184.5 305.8v15.8M215.4 305.8v15.8M190.4 305.8v15.8M188.3 305.8v15.8M256 305.8v15.8M280.5 305.8v15.8M278.8 305.8v15.8M278 305.8v15.8" stroke="#222" stroke-width="0.6" fill="none"/>
<path d="M241.8 305.8v15.8M198.6 305.8v15.8M186.9 305.8v15.8M195.3 305.8v15.8M205.3 305.8v15.8M233 305.8v15.8M249.3 305.8v15.8M228.6 305.8v15.8M280.9 305.8v15.8M266.4 305.8v15.8M184.1 305.8v15.8M246 305.8v15.8M186.4 305.8v15.8M278 305.8v15.8M205.8 305.8v15.8M239 305.8v15.8M192.1 305.8v15.8" stroke="#555" stroke-width="0.6" fill="none"/>
<path d="M233.8 305.8v15.8M279.7 305.8v15.8M278 305.8v15.8M229.3 305.8v15.8M247.1 305.8v15.8M209.4 305.8v15.8M213.5 305.8v15.8M260.5 305.8v15.8M208.4 305.8v15.8M182.7 305.8v15.8M197.8 305.8v15.8M227.6 305.8v15.8M199.3 305.8v15.8M277.4 305.8v15.8" stroke="#888" stroke-width="0.6" fill="none"/>
<path d="M228.1 305.8v15.8M246 305.8v15.8M248.4 305.8v15.8M175.9 305.8v15.8M178.3 305.8v15.8M226.9 305.8v15.8M234.9 305.8v15.8M253.7 305.8v15.8M210.6 305.8v15.8M267 305.8v15.8M277.4 305.8v15.8M267 305.8v15.8M173 305.8v15.8M258.5 305.8v15.8M262.3 305.8v15.8M279.5 305.8v15.8M280 305.8v15.8" stroke="#aaa" stroke-width="0.6" fill="none"/>
<rect x="172.6" y="321.9" width="22.1" height="4.1" fill="#e83e42"/>
<rect x="194.5" y="321.9" width="19.9" height="4.1" fill="#ec5660"/>
<rect x="214.2" y="321.9" width="2.4" height="4.1" fill="#f07882"/>
<rect x="216.4" y="321.9" width="11.1" height="4.1" fill="#eeaad7"/>
<rect x="227.3" y="321.9" width="13.3" height="4.1" fill="#dcc8f0"/>
<rect x="240.5" y="321.9" width="11.1" height="4.1" fill="#cdcdf5"/>
<rect x="251.4" y="321.9" width="11.1" height="4.1" fill="#8c8ceb"/>
<rect x="262.3" y="321.9" width="15.5" height="4.1" fill="#5f5fe6"/>
<rect x="277.7" y="321.9" width="4.6" height="4.1" fill="#1919aa"/>
<text x="174.1" y="329.4" font-size="2.8" fill="#ee3333">PCBP1_KO (positively correlated)</text>
<path d="M172.6 339.6 L172.6 333.1 L174.4 335.3 L176.2 336.7 L178.1 337.5 L179.9 338.1 L181.7 338.5 L183.5 338.7 L185.4 338.9 L187.2 339 L189 339.1 L190.8 339.1 L192.7 339.2 L194.5 339.2 L196.3 339.3 L198.1 339.3 L200 339.4 L201.8 339.4 L203.6 339.5 L205.4 339.5 L207.3 339.6 L209.1 339.6 L210.9 339.7 L212.7 339.7 L214.6 339.8 L216.4 339.8 L218.2 339.9 L220 339.9 L221.8 340 L223.7 340.1 L225.5 340.1 L227.3 340.2 L229.1 340.2 L231 340.3 L232.8 340.4 L234.6 340.4 L236.4 340.5 L238.3 340.6 L240.1 340.7 L241.9 340.7 L243.7 340.8 L245.6 340.9 L247.4 341 L249.2 341 L251 341.1 L252.9 341.2 L254.7 341.3 L256.5 341.4 L258.3 341.5 L260.2 341.5 L262 341.6 L263.8 341.7 L265.6 341.8 L267.5 341.9 L269.3 342 L271.1 342.1 L272.9 342.2 L274.7 342.3 L276.6 342.4 L278.4 344.6 L280.2 350.1 L282 355.5 L282 339.6Z" fill="#c4c4c4"/>
<line x1="172.6" y1="339.6" x2="282" y2="339.6" stroke="#999" stroke-width="0.4"/>
<text x="229.9" y="346" font-size="2.8" fill="#444" text-anchor="middle">Zero cross at 6185</text>
<text x="250.5" y="355.5" font-size="2.8" fill="#3344ee" text-anchor="middle">PCBP1_WT (negatively correlated)</text>
<path d="M172.6 258.5 L183 261.6 L193.8 265.3 L205 269.5 L215.7 274.1 L226 280 L237.6 287.2 L249 292.8 L259.5 297.1 L266 299.6 L272.6 301.9 L277 302.6 L278.5 300.5 L279.4 293.8 L280.3 280 L281.1 258.6" stroke="#22ee22" stroke-width="1.1" fill="none"/>
<text x="171.1" y="259.9" font-size="2.6" text-anchor="end" fill="#333">0.0</text>
<text x="171.1" y="266.1" font-size="2.6" text-anchor="end" fill="#333">-0.1</text>
<text x="171.1" y="272.4" font-size="2.6" text-anchor="end" fill="#333">-0.2</text>
<text x="171.1" y="278.6" font-size="2.6" text-anchor="end" fill="#333">-0.3</text>
<text x="171.1" y="284.9" font-size="2.6" text-anchor="end" fill="#333">-0.4</text>
<text x="171.1" y="291.1" font-size="2.6" text-anchor="end" fill="#333">-0.5</text>
<text x="171.1" y="297.3" font-size="2.6" text-anchor="end" fill="#333">-0.6</text>
<text x="171.1" y="303.6" font-size="2.6" text-anchor="end" fill="#333">-0.7</text>
<text x="171.1" y="327.6" font-size="2.6" text-anchor="end" fill="#444">3</text>
<text x="171.1" y="332" font-size="2.6" text-anchor="end" fill="#444">2</text>
<text x="171.1" y="336.3" font-size="2.6" text-anchor="end" fill="#444">1</text>
<text x="171.1" y="340.7" font-size="2.6" text-anchor="end" fill="#444">0</text>
<text x="171.1" y="345" font-size="2.6" text-anchor="end" fill="#444">-1</text>
<text x="171.1" y="349.4" font-size="2.6" text-anchor="end" fill="#444">-2</text>
<text x="171.1" y="353.7" font-size="2.6" text-anchor="end" fill="#444">-3</text>
<text x="171.1" y="358.1" font-size="2.6" text-anchor="end" fill="#444">-4</text>
<path d="M172.6 256.6V358H287.2" fill="none" stroke="#9a9a9a" stroke-width="0.5"/>
<text x="172.6" y="362.5" font-size="2.8" text-anchor="middle" fill="#333">0</text>
<text x="188" y="362.5" font-size="2.8" text-anchor="middle" fill="#333">2,000</text>
<text x="203.4" y="362.5" font-size="2.8" text-anchor="middle" fill="#333">4,000</text>
<text x="218.8" y="362.5" font-size="2.8" text-anchor="middle" fill="#333">6,000</text>
<text x="234.2" y="362.5" font-size="2.8" text-anchor="middle" fill="#333">8,000</text>
<text x="249.5" y="362.5" font-size="2.8" text-anchor="middle" fill="#333">10,000</text>
<text x="264.9" y="362.5" font-size="2.8" text-anchor="middle" fill="#333">12,000</text>
<text x="280.3" y="362.5" font-size="2.8" text-anchor="middle" fill="#333">14,000</text>
<text x="224.2" y="366.3" font-size="3" text-anchor="middle" fill="#333">Rank in Ordered Dataset</text>
<text transform="translate(162.4 281) rotate(-90)" font-size="2.9" text-anchor="middle" fill="#333">Enrichment score (ES)</text>
<text transform="translate(162.4 342) rotate(-90)" font-size="2.9" text-anchor="middle" fill="#333">Ranked list metric (Signal2Noise)</text>
<rect x="176.3" y="369.2" width="93.1" height="6.2" fill="#fff" stroke="#555" stroke-width="0.5"/>
<line x1="177.3" y1="372.3" x2="181.3" y2="372.3" stroke="#22ee22" stroke-width="1"/>
<text x="182.3" y="373.4" font-size="3" fill="#333">Enrichment profile</text>
<line x1="210.3" y1="372.3" x2="213.3" y2="372.3" stroke="#333" stroke-width="0.5"/>
<text x="214.3" y="373.4" font-size="3" fill="#333">Hits</text>
<line x1="232.3" y1="372.3" x2="235.3" y2="372.3" stroke="#aaa" stroke-width="0.5"/>
<text x="237.3" y="373.4" font-size="3" fill="#333">Ranking metric scores</text>
<text x="230.4" y="231.6" font-size="9.25" text-anchor="middle" font-weight="bold">Enrichment plot:</text>
<text x="230.4" y="241.8" font-size="9.3" text-anchor="middle">GOBP Type I Interferon</text>
<text x="230.4" y="252.5" font-size="9.3" text-anchor="middle">Production</text>
<rect x="358.6" y="316.1" width="17.2" height="44.2" fill="#fff" stroke="#000" stroke-width="1"/>
<path d="M366.1 263.1a1.25 1.25 0 1 0 0.01 0zM368.2 276a1.25 1.25 0 1 0 0.01 0zM368 282.8a1.25 1.25 0 1 0 0.01 0zM366.5 295.2a1.25 1.25 0 1 0 0.01 0zM367.2 299.2a1.25 1.25 0 1 0 0.01 0zM367 310.1a1.25 1.25 0 1 0 0.01 0zM367.7 314.1a1.25 1.25 0 1 0 0.01 0zM368.1 315.3a1.25 1.25 0 1 0 0.01 0zM366 316.1a1.25 1.25 0 1 0 0.01 0zM365.8 318.1a1.25 1.25 0 1 0 0.01 0zM368.2 320.1a1.25 1.25 0 1 0 0.01 0zM367 322.1a1.25 1.25 0 1 0 0.01 0zM370.5 326.2a1.25 1.25 0 1 0 0.01 0zM361 328.2a1.25 1.25 0 1 0 0.01 0zM366.5 329a1.25 1.25 0 1 0 0.01 0zM369.9 331.4a1.25 1.25 0 1 0 0.01 0zM363.8 334.2a1.25 1.25 0 1 0 0.01 0zM372.7 335.4a1.25 1.25 0 1 0 0.01 0zM372.2 337a1.25 1.25 0 1 0 0.01 0zM361.4 340.2a1.25 1.25 0 1 0 0.01 0zM361.3 342.2a1.25 1.25 0 1 0 0.01 0zM367.3 312.1a1.25 1.25 0 1 0 0.01 0zM368.5 308.1a1.25 1.25 0 1 0 0.01 0zM366.8 324.2a1.25 1.25 0 1 0 0.01 0z" fill="#000"/>
<line x1="367.2" y1="312.1" x2="367.2" y2="316.1" stroke="#000" stroke-width="1"/>
<line x1="364" y1="312.1" x2="370.4" y2="312.1" stroke="#000" stroke-width="1"/>
<rect x="384.7" y="355.9" width="17.5" height="4.4" fill="#d4d4f7" stroke="#000" stroke-width="1"/>
<path d="M399.1 358.3a1.25 1.25 0 1 0 0.01 0zM399 357.5a1.25 1.25 0 1 0 0.01 0zM388 357.1a1.25 1.25 0 1 0 0.01 0zM388.3 356.7a1.25 1.25 0 1 0 0.01 0zM397.6 356.3a1.25 1.25 0 1 0 0.01 0zM396.4 356.3a1.25 1.25 0 1 0 0.01 0zM395.6 355.9a1.25 1.25 0 1 0 0.01 0zM391.1 355.5a1.25 1.25 0 1 0 0.01 0zM394.8 355.5a1.25 1.25 0 1 0 0.01 0zM394.8 355.1a1.25 1.25 0 1 0 0.01 0zM394.5 354.7a1.25 1.25 0 1 0 0.01 0zM389.2 354.3a1.25 1.25 0 1 0 0.01 0zM392.6 353.9a1.25 1.25 0 1 0 0.01 0zM392.1 353.5a1.25 1.25 0 1 0 0.01 0zM396.2 353.1a1.25 1.25 0 1 0 0.01 0zM399.6 356.3a1.25 1.25 0 1 0 0.01 0zM399 356.7a1.25 1.25 0 1 0 0.01 0zM394 355.1a1.25 1.25 0 1 0 0.01 0zM392.8 355.9a1.25 1.25 0 1 0 0.01 0zM390.6 354.3a1.25 1.25 0 1 0 0.01 0z" fill="#000"/>
<line x1="393.4" y1="355.1" x2="393.4" y2="355.9" stroke="#000" stroke-width="1"/>
<line x1="390.2" y1="355.1" x2="396.6" y2="355.1" stroke="#000" stroke-width="1"/>
<line x1="349.5" y1="239.3" x2="349.5" y2="360.9" stroke="#000" stroke-width="1.1"/>
<line x1="349" y1="360.3" x2="410.8" y2="360.3" stroke="#000" stroke-width="1.3"/>
<line x1="345.9" y1="239.8" x2="349.5" y2="239.8" stroke="#000" stroke-width="1"/>
<text x="345.1" y="242.6" font-size="7.8" text-anchor="end" font-weight="bold">3</text>
<line x1="345.9" y1="280" x2="349.5" y2="280" stroke="#000" stroke-width="1"/>
<text x="345.1" y="282.8" font-size="7.8" text-anchor="end" font-weight="bold">2</text>
<line x1="345.9" y1="320.1" x2="349.5" y2="320.1" stroke="#000" stroke-width="1"/>
<text x="345.1" y="322.9" font-size="7.8" text-anchor="end" font-weight="bold">1</text>
<line x1="347.3" y1="259.9" x2="349.5" y2="259.9" stroke="#000" stroke-width="0.9"/>
<line x1="347.3" y1="300.1" x2="349.5" y2="300.1" stroke="#000" stroke-width="0.9"/>
<line x1="347.3" y1="340.2" x2="349.5" y2="340.2" stroke="#000" stroke-width="0.9"/>
<line x1="367" y1="252.6" x2="395.4" y2="252.6" stroke="#000" stroke-width="1.4"/>
<text x="381.4" y="252.9" font-size="10.5" text-anchor="middle" font-weight="bold" letter-spacing="0.3">****</text>
<text x="382.6" y="230.7" font-size="10.5" text-anchor="middle">PCBP1 (F.C.)</text>
<rect x="444.3" y="339.4" width="17.5" height="20.1" fill="#fff" stroke="#000" stroke-width="1"/>
<path d="M452.3 258.8a1.25 1.25 0 1 0 0.01 0zM453.2 308.8a1.25 1.25 0 1 0 0.01 0zM452.7 317.7a1.25 1.25 0 1 0 0.01 0zM453.4 320.7a1.25 1.25 0 1 0 0.01 0zM454.6 334.1a1.25 1.25 0 1 0 0.01 0zM447.7 337.1a1.25 1.25 0 1 0 0.01 0zM447 337.9a1.25 1.25 0 1 0 0.01 0zM457.2 338.6a1.25 1.25 0 1 0 0.01 0zM450.1 340.1a1.25 1.25 0 1 0 0.01 0zM449.8 341.6a1.25 1.25 0 1 0 0.01 0zM459.2 343.1a1.25 1.25 0 1 0 0.01 0zM452.7 344.6a1.25 1.25 0 1 0 0.01 0zM457.2 345.3a1.25 1.25 0 1 0 0.01 0zM452.8 346.1a1.25 1.25 0 1 0 0.01 0zM454.8 346.8a1.25 1.25 0 1 0 0.01 0zM448.7 347.6a1.25 1.25 0 1 0 0.01 0zM454.7 349.1a1.25 1.25 0 1 0 0.01 0zM457.6 350.6a1.25 1.25 0 1 0 0.01 0zM453.3 352a1.25 1.25 0 1 0 0.01 0zM456 353.5a1.25 1.25 0 1 0 0.01 0zM455.2 355a1.25 1.25 0 1 0 0.01 0zM447.6 340.9a1.25 1.25 0 1 0 0.01 0zM456.3 349.8a1.25 1.25 0 1 0 0.01 0zM454.2 335.6a1.25 1.25 0 1 0 0.01 0z" fill="#000"/>
<line x1="453.1" y1="335.6" x2="453.1" y2="339.4" stroke="#000" stroke-width="1"/>
<line x1="449.9" y1="335.6" x2="456.2" y2="335.6" stroke="#000" stroke-width="1"/>
<rect x="470.5" y="354.3" width="17.5" height="5.2" fill="#d4d4f7" stroke="#000" stroke-width="1"/>
<path d="M476 352a1.25 1.25 0 1 0 0.01 0zM474.3 352.8a1.25 1.25 0 1 0 0.01 0zM478 353.2a1.25 1.25 0 1 0 0.01 0zM475 353.5a1.25 1.25 0 1 0 0.01 0zM473.9 353.8a1.25 1.25 0 1 0 0.01 0zM478 354.3a1.25 1.25 0 1 0 0.01 0zM484.4 354.6a1.25 1.25 0 1 0 0.01 0zM483 355a1.25 1.25 0 1 0 0.01 0zM482.5 355a1.25 1.25 0 1 0 0.01 0zM475.8 355.3a1.25 1.25 0 1 0 0.01 0zM479.7 355.8a1.25 1.25 0 1 0 0.01 0zM476.5 356.2a1.25 1.25 0 1 0 0.01 0zM475.2 356.5a1.25 1.25 0 1 0 0.01 0zM474.4 356.8a1.25 1.25 0 1 0 0.01 0zM475.7 357.3a1.25 1.25 0 1 0 0.01 0zM484.6 353.5a1.25 1.25 0 1 0 0.01 0zM483.3 354.3a1.25 1.25 0 1 0 0.01 0zM483.1 355a1.25 1.25 0 1 0 0.01 0z" fill="#000"/>
<line x1="479.2" y1="353.5" x2="479.2" y2="354.3" stroke="#000" stroke-width="1"/>
<line x1="476.1" y1="353.5" x2="482.4" y2="353.5" stroke="#000" stroke-width="1"/>
<line x1="435.5" y1="239.7" x2="435.5" y2="360.1" stroke="#000" stroke-width="1.1"/>
<line x1="435" y1="359.5" x2="496.8" y2="359.5" stroke="#000" stroke-width="1.3"/>
<line x1="431.9" y1="240.2" x2="435.5" y2="240.2" stroke="#000" stroke-width="1"/>
<text x="431.1" y="243" font-size="7.8" text-anchor="end" font-weight="bold">8</text>
<line x1="431.9" y1="270" x2="435.5" y2="270" stroke="#000" stroke-width="1"/>
<text x="431.1" y="272.8" font-size="7.8" text-anchor="end" font-weight="bold">6</text>
<line x1="431.9" y1="299.9" x2="435.5" y2="299.9" stroke="#000" stroke-width="1"/>
<text x="431.1" y="302.7" font-size="7.8" text-anchor="end" font-weight="bold">4</text>
<line x1="431.9" y1="329.7" x2="435.5" y2="329.7" stroke="#000" stroke-width="1"/>
<text x="431.1" y="332.5" font-size="7.8" text-anchor="end" font-weight="bold">2</text>
<line x1="433.3" y1="255.1" x2="435.5" y2="255.1" stroke="#000" stroke-width="0.9"/>
<line x1="433.3" y1="284.9" x2="435.5" y2="284.9" stroke="#000" stroke-width="0.9"/>
<line x1="433.3" y1="314.8" x2="435.5" y2="314.8" stroke="#000" stroke-width="0.9"/>
<line x1="433.3" y1="344.6" x2="435.5" y2="344.6" stroke="#000" stroke-width="0.9"/>
<line x1="453" y1="252.2" x2="480.8" y2="252.2" stroke="#000" stroke-width="1.4"/>
<text x="467.1" y="252.5" font-size="10.5" text-anchor="middle" font-weight="bold" letter-spacing="0.3">***</text>
<text x="470.8" y="230.7" font-size="10.5" text-anchor="middle">ISG15 (F.C.)</text>
<rect x="529.4" y="334.1" width="17.6" height="25.9" fill="#fff" stroke="#000" stroke-width="1"/>
<path d="M538.6 264.3a1.25 1.25 0 1 0 0.01 0zM538.9 294.2a1.25 1.25 0 1 0 0.01 0zM539.1 314.2a1.25 1.25 0 1 0 0.01 0zM539.5 320.1a1.25 1.25 0 1 0 0.01 0zM538.9 324.1a1.25 1.25 0 1 0 0.01 0zM543.4 328.1a1.25 1.25 0 1 0 0.01 0zM532.4 329.1a1.25 1.25 0 1 0 0.01 0zM537.8 330.1a1.25 1.25 0 1 0 0.01 0zM543.7 331.1a1.25 1.25 0 1 0 0.01 0zM540 332.1a1.25 1.25 0 1 0 0.01 0zM543.2 334.1a1.25 1.25 0 1 0 0.01 0zM533.4 336.1a1.25 1.25 0 1 0 0.01 0zM537.8 338.1a1.25 1.25 0 1 0 0.01 0zM535.1 340.1a1.25 1.25 0 1 0 0.01 0zM538.7 342.1a1.25 1.25 0 1 0 0.01 0zM539.1 344.1a1.25 1.25 0 1 0 0.01 0zM532.2 346a1.25 1.25 0 1 0 0.01 0zM534.7 348a1.25 1.25 0 1 0 0.01 0zM535.5 350a1.25 1.25 0 1 0 0.01 0zM543.4 353a1.25 1.25 0 1 0 0.01 0zM541.5 356a1.25 1.25 0 1 0 0.01 0zM534 358a1.25 1.25 0 1 0 0.01 0zM541.9 337.1a1.25 1.25 0 1 0 0.01 0zM533.7 345.1a1.25 1.25 0 1 0 0.01 0z" fill="#000"/>
<line x1="538.2" y1="330.5" x2="538.2" y2="334.1" stroke="#000" stroke-width="1"/>
<line x1="535" y1="330.5" x2="541.4" y2="330.5" stroke="#000" stroke-width="1"/>
<rect x="555.4" y="354.4" width="17.9" height="5.6" fill="#d4d4f7" stroke="#000" stroke-width="1"/>
<path d="M568 343.1a1.25 1.25 0 1 0 0.01 0zM568.3 346a1.25 1.25 0 1 0 0.01 0zM564.2 348a1.25 1.25 0 1 0 0.01 0zM561.4 350a1.25 1.25 0 1 0 0.01 0zM558.2 351a1.25 1.25 0 1 0 0.01 0zM566.4 352a1.25 1.25 0 1 0 0.01 0zM564 353a1.25 1.25 0 1 0 0.01 0zM567.6 354a1.25 1.25 0 1 0 0.01 0zM562.8 354a1.25 1.25 0 1 0 0.01 0zM567.7 355a1.25 1.25 0 1 0 0.01 0zM561.5 356a1.25 1.25 0 1 0 0.01 0zM568.1 356a1.25 1.25 0 1 0 0.01 0zM567.2 357a1.25 1.25 0 1 0 0.01 0zM563.3 358a1.25 1.25 0 1 0 0.01 0zM564.8 358a1.25 1.25 0 1 0 0.01 0zM566.6 359a1.25 1.25 0 1 0 0.01 0zM560.5 355a1.25 1.25 0 1 0 0.01 0zM565 354a1.25 1.25 0 1 0 0.01 0zM568.1 357a1.25 1.25 0 1 0 0.01 0zM561.4 352a1.25 1.25 0 1 0 0.01 0z" fill="#000"/>
<line x1="564.3" y1="353.4" x2="564.3" y2="354.4" stroke="#000" stroke-width="1"/>
<line x1="561.1" y1="353.4" x2="567.5" y2="353.4" stroke="#000" stroke-width="1"/>
<line x1="520.2" y1="239.9" x2="520.2" y2="360.6" stroke="#000" stroke-width="1.1"/>
<line x1="519.7" y1="360" x2="581.2" y2="360" stroke="#000" stroke-width="1.3"/>
<line x1="516.6" y1="240.4" x2="520.2" y2="240.4" stroke="#000" stroke-width="1"/>
<text x="515.8" y="243.2" font-size="7.8" text-anchor="end" font-weight="bold">6</text>
<line x1="516.6" y1="280.3" x2="520.2" y2="280.3" stroke="#000" stroke-width="1"/>
<text x="515.8" y="283.1" font-size="7.8" text-anchor="end" font-weight="bold">4</text>
<line x1="516.6" y1="320.1" x2="520.2" y2="320.1" stroke="#000" stroke-width="1"/>
<text x="515.8" y="322.9" font-size="7.8" text-anchor="end" font-weight="bold">2</text>
<line x1="518" y1="260.3" x2="520.2" y2="260.3" stroke="#000" stroke-width="0.9"/>
<line x1="518" y1="300.2" x2="520.2" y2="300.2" stroke="#000" stroke-width="0.9"/>
<line x1="518" y1="340.1" x2="520.2" y2="340.1" stroke="#000" stroke-width="0.9"/>
<line x1="537.8" y1="252.6" x2="566" y2="252.6" stroke="#000" stroke-width="1.4"/>
<text x="552.1" y="252.9" font-size="10.5" text-anchor="middle" font-weight="bold" letter-spacing="0.3">****</text>
<text x="553" y="231.2" font-size="10.5" text-anchor="middle">IRF7 (F.C.)</text>
<rect x="614.8" y="340.1" width="17.1" height="19.9" fill="#fff" stroke="#000" stroke-width="1"/>
<path d="M622.8 280.3a1.25 1.25 0 1 0 0.01 0zM622.3 322.2a1.25 1.25 0 1 0 0.01 0zM625.2 325.1a1.25 1.25 0 1 0 0.01 0zM618 336.1a1.25 1.25 0 1 0 0.01 0zM623.8 338.1a1.25 1.25 0 1 0 0.01 0zM621.7 340.1a1.25 1.25 0 1 0 0.01 0zM617.9 342.1a1.25 1.25 0 1 0 0.01 0zM623.4 344.1a1.25 1.25 0 1 0 0.01 0zM617.6 348.1a1.25 1.25 0 1 0 0.01 0zM622.5 350a1.25 1.25 0 1 0 0.01 0zM618 354a1.25 1.25 0 1 0 0.01 0zM618.3 358a1.25 1.25 0 1 0 0.01 0z" fill="#000"/>
<line x1="623.3" y1="334.1" x2="623.3" y2="340.1" stroke="#000" stroke-width="1"/>
<line x1="620.1" y1="334.1" x2="626.5" y2="334.1" stroke="#000" stroke-width="1"/>
<rect x="640.8" y="357" width="17.9" height="3" fill="#d4d4f7" stroke="#000" stroke-width="1"/>
<path d="M646.4 348.1a1.25 1.25 0 1 0 0.01 0zM655.5 353a1.25 1.25 0 1 0 0.01 0zM645.1 354a1.25 1.25 0 1 0 0.01 0zM652.3 355a1.25 1.25 0 1 0 0.01 0zM644.6 356a1.25 1.25 0 1 0 0.01 0zM646.6 357a1.25 1.25 0 1 0 0.01 0zM655.9 357a1.25 1.25 0 1 0 0.01 0zM646.1 357.6a1.25 1.25 0 1 0 0.01 0zM651.5 358a1.25 1.25 0 1 0 0.01 0zM649.2 358.4a1.25 1.25 0 1 0 0.01 0zM649.2 359a1.25 1.25 0 1 0 0.01 0zM649.7 359a1.25 1.25 0 1 0 0.01 0z" fill="#000"/>
<line x1="649.8" y1="356.2" x2="649.8" y2="357" stroke="#000" stroke-width="1"/>
<line x1="646.5" y1="356.2" x2="653" y2="356.2" stroke="#000" stroke-width="1"/>
<line x1="606.2" y1="240" x2="606.2" y2="360.6" stroke="#000" stroke-width="1.1"/>
<line x1="605.7" y1="360" x2="665.8" y2="360" stroke="#000" stroke-width="1.3"/>
<line x1="602.6" y1="240.5" x2="606.2" y2="240.5" stroke="#000" stroke-width="1"/>
<text x="601.8" y="243.3" font-size="7.8" text-anchor="end" font-weight="bold">6</text>
<line x1="602.6" y1="280.3" x2="606.2" y2="280.3" stroke="#000" stroke-width="1"/>
<text x="601.8" y="283.1" font-size="7.8" text-anchor="end" font-weight="bold">4</text>
<line x1="602.6" y1="320.2" x2="606.2" y2="320.2" stroke="#000" stroke-width="1"/>
<text x="601.8" y="323" font-size="7.8" text-anchor="end" font-weight="bold">2</text>
<line x1="604" y1="260.4" x2="606.2" y2="260.4" stroke="#000" stroke-width="0.9"/>
<line x1="604" y1="300.2" x2="606.2" y2="300.2" stroke="#000" stroke-width="0.9"/>
<line x1="604" y1="340.1" x2="606.2" y2="340.1" stroke="#000" stroke-width="0.9"/>
<line x1="623.2" y1="266.8" x2="650.8" y2="266.8" stroke="#000" stroke-width="1.4"/>
<text x="637.2" y="267.1" font-size="10.5" text-anchor="middle" font-weight="bold" letter-spacing="0.3">**</text>
<text x="639" y="231.2" font-size="10.5" text-anchor="middle">IFIT1 (F.C.)</text>
<text x="367.2" y="371" font-size="11.2" text-anchor="middle">+/+</text>
<text x="393.4" y="371" font-size="11.2" text-anchor="middle">-/-</text>
<text x="453.1" y="371" font-size="11.2" text-anchor="middle">+/+</text>
<text x="479.2" y="371" font-size="11.2" text-anchor="middle">-/-</text>
<text x="538.2" y="371" font-size="11.2" text-anchor="middle">+/+</text>
<text x="564.3" y="371" font-size="11.2" text-anchor="middle">-/-</text>
<text x="623.3" y="371" font-size="11.2" text-anchor="middle">+/+</text>
<text x="649.8" y="371" font-size="11.2" text-anchor="middle">-/-</text>
<text x="341.3" y="359.3" font-size="10.2" text-anchor="end">PyMT</text>
<text x="347.9" y="371" font-size="10.4" text-anchor="end">PCBP1:</text>
<rect x="408.2" y="503.2" width="17.4" height="26.3" fill="#fff" stroke="#000" stroke-width="1"/>
<path d="M416.8 427a1.25 1.25 0 1 0 0.01 0zM416.5 490.7a1.25 1.25 0 1 0 0.01 0zM412.4 495.1a1.25 1.25 0 1 0 0.01 0zM421.4 496.6a1.25 1.25 0 1 0 0.01 0zM410.8 499.6a1.25 1.25 0 1 0 0.01 0zM416.9 502.6a1.25 1.25 0 1 0 0.01 0zM421.8 505.6a1.25 1.25 0 1 0 0.01 0zM411.7 513.1a1.25 1.25 0 1 0 0.01 0zM417.6 517.5a1.25 1.25 0 1 0 0.01 0zM418.3 520.5a1.25 1.25 0 1 0 0.01 0zM411.2 522a1.25 1.25 0 1 0 0.01 0zM415.4 526.5a1.25 1.25 0 1 0 0.01 0z" fill="#000"/>
<line x1="416.9" y1="495.7" x2="416.9" y2="503.2" stroke="#000" stroke-width="1"/>
<line x1="413.7" y1="495.7" x2="420.1" y2="495.7" stroke="#000" stroke-width="1"/>
<rect x="434.5" y="523.8" width="17.4" height="5.7" fill="#d4d4f7" stroke="#000" stroke-width="1"/>
<path d="M444.1 517.5a1.25 1.25 0 1 0 0.01 0zM442.3 519a1.25 1.25 0 1 0 0.01 0zM444.2 520.5a1.25 1.25 0 1 0 0.01 0zM439.6 521.1a1.25 1.25 0 1 0 0.01 0zM447.1 522a1.25 1.25 0 1 0 0.01 0zM447.2 523.5a1.25 1.25 0 1 0 0.01 0zM445.1 524.1a1.25 1.25 0 1 0 0.01 0zM439 525a1.25 1.25 0 1 0 0.01 0zM443.5 525.9a1.25 1.25 0 1 0 0.01 0zM441.1 526.5a1.25 1.25 0 1 0 0.01 0zM440.1 527.1a1.25 1.25 0 1 0 0.01 0zM448.8 528a1.25 1.25 0 1 0 0.01 0zM449.4 523.5a1.25 1.25 0 1 0 0.01 0zM437.6 520.5a1.25 1.25 0 1 0 0.01 0z" fill="#000"/>
<line x1="443.2" y1="522.9" x2="443.2" y2="523.8" stroke="#000" stroke-width="1"/>
<line x1="440" y1="522.9" x2="446.4" y2="522.9" stroke="#000" stroke-width="1"/>
<line x1="399.3" y1="409.5" x2="399.3" y2="530.1" stroke="#000" stroke-width="1.1"/>
<line x1="398.8" y1="529.5" x2="460.3" y2="529.5" stroke="#000" stroke-width="1.3"/>
<line x1="395.7" y1="410" x2="399.3" y2="410" stroke="#000" stroke-width="1"/>
<text x="394.9" y="412.8" font-size="7.8" text-anchor="end" font-weight="bold">4</text>
<line x1="395.7" y1="439.9" x2="399.3" y2="439.9" stroke="#000" stroke-width="1"/>
<text x="394.9" y="442.7" font-size="7.8" text-anchor="end" font-weight="bold">3</text>
<line x1="395.7" y1="469.8" x2="399.3" y2="469.8" stroke="#000" stroke-width="1"/>
<text x="394.9" y="472.6" font-size="7.8" text-anchor="end" font-weight="bold">2</text>
<line x1="395.7" y1="499.6" x2="399.3" y2="499.6" stroke="#000" stroke-width="1"/>
<text x="394.9" y="502.4" font-size="7.8" text-anchor="end" font-weight="bold">1</text>
<line x1="397.1" y1="424.9" x2="399.3" y2="424.9" stroke="#000" stroke-width="0.9"/>
<line x1="397.1" y1="454.8" x2="399.3" y2="454.8" stroke="#000" stroke-width="0.9"/>
<line x1="397.1" y1="484.7" x2="399.3" y2="484.7" stroke="#000" stroke-width="0.9"/>
<line x1="397.1" y1="514.6" x2="399.3" y2="514.6" stroke="#000" stroke-width="0.9"/>
<line x1="416.4" y1="419.7" x2="444.5" y2="419.7" stroke="#000" stroke-width="1.4"/>
<text x="430.6" y="420" font-size="10.5" text-anchor="middle" font-weight="bold" letter-spacing="0.3">**</text>
<text x="434.5" y="400.3" font-size="10.5" text-anchor="middle">RSAD2 (F.C.)</text>
<rect x="493.5" y="503.6" width="17.3" height="25.8" fill="#fff" stroke="#000" stroke-width="1"/>
<path d="M502 421.5a1.25 1.25 0 1 0 0.01 0zM502.3 476.9a1.25 1.25 0 1 0 0.01 0zM507.4 497.9a1.25 1.25 0 1 0 0.01 0zM501.7 502.4a1.25 1.25 0 1 0 0.01 0zM502.2 505.4a1.25 1.25 0 1 0 0.01 0zM503.2 509.9a1.25 1.25 0 1 0 0.01 0zM498.2 511.4a1.25 1.25 0 1 0 0.01 0zM502.3 512.9a1.25 1.25 0 1 0 0.01 0zM503.8 517.4a1.25 1.25 0 1 0 0.01 0zM505.8 520.4a1.25 1.25 0 1 0 0.01 0zM497.1 521.9a1.25 1.25 0 1 0 0.01 0zM499.7 521.9a1.25 1.25 0 1 0 0.01 0z" fill="#000"/>
<line x1="502.1" y1="496.1" x2="502.1" y2="503.6" stroke="#000" stroke-width="1"/>
<line x1="498.9" y1="496.1" x2="505.3" y2="496.1" stroke="#000" stroke-width="1"/>
<rect x="520.2" y="524.2" width="17.3" height="5.2" fill="#d4d4f7" stroke="#000" stroke-width="1"/>
<path d="M528.5 518.9a1.25 1.25 0 1 0 0.01 0zM530.8 521.2a1.25 1.25 0 1 0 0.01 0zM530.9 521.9a1.25 1.25 0 1 0 0.01 0zM524.4 522.7a1.25 1.25 0 1 0 0.01 0zM522.8 523.4a1.25 1.25 0 1 0 0.01 0zM527.3 523.7a1.25 1.25 0 1 0 0.01 0zM526 524.2a1.25 1.25 0 1 0 0.01 0zM532.7 524.9a1.25 1.25 0 1 0 0.01 0zM531.2 524.9a1.25 1.25 0 1 0 0.01 0zM530.1 525.7a1.25 1.25 0 1 0 0.01 0zM529.6 526.4a1.25 1.25 0 1 0 0.01 0zM530.9 527.2a1.25 1.25 0 1 0 0.01 0z" fill="#000"/>
<line x1="528.9" y1="523.4" x2="528.9" y2="524.2" stroke="#000" stroke-width="1"/>
<line x1="525.6" y1="523.4" x2="532.1" y2="523.4" stroke="#000" stroke-width="1"/>
<line x1="484.1" y1="409" x2="484.1" y2="530" stroke="#000" stroke-width="1.1"/>
<line x1="483.6" y1="529.4" x2="546.3" y2="529.4" stroke="#000" stroke-width="1.3"/>
<line x1="480.5" y1="409.5" x2="484.1" y2="409.5" stroke="#000" stroke-width="1"/>
<text x="479.7" y="412.3" font-size="7.8" text-anchor="end" font-weight="bold">8</text>
<line x1="480.5" y1="439.5" x2="484.1" y2="439.5" stroke="#000" stroke-width="1"/>
<text x="479.7" y="442.3" font-size="7.8" text-anchor="end" font-weight="bold">6</text>
<line x1="480.5" y1="469.4" x2="484.1" y2="469.4" stroke="#000" stroke-width="1"/>
<text x="479.7" y="472.2" font-size="7.8" text-anchor="end" font-weight="bold">4</text>
<line x1="480.5" y1="499.4" x2="484.1" y2="499.4" stroke="#000" stroke-width="1"/>
<text x="479.7" y="502.2" font-size="7.8" text-anchor="end" font-weight="bold">2</text>
<line x1="481.9" y1="424.5" x2="484.1" y2="424.5" stroke="#000" stroke-width="0.9"/>
<line x1="481.9" y1="454.5" x2="484.1" y2="454.5" stroke="#000" stroke-width="0.9"/>
<line x1="481.9" y1="484.4" x2="484.1" y2="484.4" stroke="#000" stroke-width="0.9"/>
<line x1="481.9" y1="514.4" x2="484.1" y2="514.4" stroke="#000" stroke-width="0.9"/>
<line x1="501.4" y1="415.8" x2="529.6" y2="415.8" stroke="#000" stroke-width="1.4"/>
<text x="515.7" y="416.1" font-size="10.5" text-anchor="middle" font-weight="bold" letter-spacing="0.3">**</text>
<text x="517.8" y="400" font-size="10.5" text-anchor="middle">BST2 (F.C.)</text>
<rect x="579.9" y="508.4" width="17.2" height="21" fill="#fff" stroke="#000" stroke-width="1"/>
<path d="M587.8 438.7a1.25 1.25 0 1 0 0.01 0zM589.1 452.2a1.25 1.25 0 1 0 0.01 0zM589.1 470.2a1.25 1.25 0 1 0 0.01 0zM592.8 496.4a1.25 1.25 0 1 0 0.01 0zM584.6 505.4a1.25 1.25 0 1 0 0.01 0zM585.2 506.9a1.25 1.25 0 1 0 0.01 0zM584.1 507.7a1.25 1.25 0 1 0 0.01 0zM585.1 508.4a1.25 1.25 0 1 0 0.01 0zM591.4 509.2a1.25 1.25 0 1 0 0.01 0zM583.9 509.9a1.25 1.25 0 1 0 0.01 0zM588.9 511.4a1.25 1.25 0 1 0 0.01 0zM585 514.4a1.25 1.25 0 1 0 0.01 0zM586 517.4a1.25 1.25 0 1 0 0.01 0zM587.7 520.4a1.25 1.25 0 1 0 0.01 0zM592.7 521.9a1.25 1.25 0 1 0 0.01 0zM589.8 524.9a1.25 1.25 0 1 0 0.01 0zM582.5 526.4a1.25 1.25 0 1 0 0.01 0zM585.7 527.9a1.25 1.25 0 1 0 0.01 0zM584.1 510.7a1.25 1.25 0 1 0 0.01 0zM593.1 512.9a1.25 1.25 0 1 0 0.01 0z" fill="#000"/>
<line x1="588.5" y1="503.9" x2="588.5" y2="508.4" stroke="#000" stroke-width="1"/>
<line x1="585.3" y1="503.9" x2="591.7" y2="503.9" stroke="#000" stroke-width="1"/>
<rect x="606.5" y="518.6" width="17.3" height="10.8" fill="#d4d4f7" stroke="#000" stroke-width="1"/>
<path d="M614 483.7a1.25 1.25 0 1 0 0.01 0zM617.7 505.4a1.25 1.25 0 1 0 0.01 0zM617 514.4a1.25 1.25 0 1 0 0.01 0zM620.6 515.2a1.25 1.25 0 1 0 0.01 0zM612.3 515.9a1.25 1.25 0 1 0 0.01 0zM612.1 516.7a1.25 1.25 0 1 0 0.01 0zM618.1 517.4a1.25 1.25 0 1 0 0.01 0zM617.1 518.2a1.25 1.25 0 1 0 0.01 0zM612.7 518.9a1.25 1.25 0 1 0 0.01 0zM617.4 519.7a1.25 1.25 0 1 0 0.01 0zM613.9 520.4a1.25 1.25 0 1 0 0.01 0zM618.6 521.2a1.25 1.25 0 1 0 0.01 0zM610.4 521.9a1.25 1.25 0 1 0 0.01 0zM611.7 523.4a1.25 1.25 0 1 0 0.01 0zM620.1 524.9a1.25 1.25 0 1 0 0.01 0zM613.4 526.4a1.25 1.25 0 1 0 0.01 0zM612.2 527.9a1.25 1.25 0 1 0 0.01 0zM618.9 528.7a1.25 1.25 0 1 0 0.01 0zM616.8 529.4a1.25 1.25 0 1 0 0.01 0zM610.8 515.9a1.25 1.25 0 1 0 0.01 0z" fill="#000"/>
<line x1="615.1" y1="517.1" x2="615.1" y2="518.6" stroke="#000" stroke-width="1"/>
<line x1="611.9" y1="517.1" x2="618.4" y2="517.1" stroke="#000" stroke-width="1"/>
<line x1="569.8" y1="409" x2="569.8" y2="530" stroke="#000" stroke-width="1.1"/>
<line x1="569.3" y1="529.4" x2="632.6" y2="529.4" stroke="#000" stroke-width="1.3"/>
<line x1="566.2" y1="409.5" x2="569.8" y2="409.5" stroke="#000" stroke-width="1"/>
<text x="565.4" y="412.3" font-size="7.8" text-anchor="end" font-weight="bold">8</text>
<line x1="566.2" y1="439.5" x2="569.8" y2="439.5" stroke="#000" stroke-width="1"/>
<text x="565.4" y="442.3" font-size="7.8" text-anchor="end" font-weight="bold">6</text>
<line x1="566.2" y1="469.4" x2="569.8" y2="469.4" stroke="#000" stroke-width="1"/>
<text x="565.4" y="472.2" font-size="7.8" text-anchor="end" font-weight="bold">4</text>
<line x1="566.2" y1="499.4" x2="569.8" y2="499.4" stroke="#000" stroke-width="1"/>
<text x="565.4" y="502.2" font-size="7.8" text-anchor="end" font-weight="bold">2</text>
<line x1="567.6" y1="424.5" x2="569.8" y2="424.5" stroke="#000" stroke-width="0.9"/>
<line x1="567.6" y1="454.5" x2="569.8" y2="454.5" stroke="#000" stroke-width="0.9"/>
<line x1="567.6" y1="484.4" x2="569.8" y2="484.4" stroke="#000" stroke-width="0.9"/>
<line x1="567.6" y1="514.4" x2="569.8" y2="514.4" stroke="#000" stroke-width="0.9"/>
<line x1="588" y1="424.5" x2="616.3" y2="424.5" stroke="#000" stroke-width="1.4"/>
<text x="602.4" y="424.8" font-size="10.5" text-anchor="middle" font-weight="bold" letter-spacing="0.3">*</text>
<text x="605.4" y="400.3" font-size="10.5" text-anchor="middle">IFNB1 (F.C.)</text>
<text x="416.9" y="540.3" font-size="11.2" text-anchor="middle">+/+</text>
<text x="443.2" y="540.3" font-size="11.2" text-anchor="middle">-/-</text>
<text x="502.1" y="540.3" font-size="11.2" text-anchor="middle">+/+</text>
<text x="528.9" y="540.3" font-size="11.2" text-anchor="middle">-/-</text>
<text x="588.5" y="540.3" font-size="11.2" text-anchor="middle">+/+</text>
<text x="615.1" y="540.3" font-size="11.2" text-anchor="middle">-/-</text>
<text x="386.7" y="528.4" font-size="10.3" text-anchor="end">PyMT</text>
<text x="393.3" y="540.3" font-size="10.6" text-anchor="end">PCBP1:</text>
<text x="27.8" y="419.6" font-size="6.1">kDa</text>
<rect x="41.5" y="420.9" width="211.9" height="17.3" fill="#fafafa"/>
<g filter="url(#bl)" clip-path="url(#cb0)">
<ellipse cx="52" cy="430.4" rx="8" ry="3.2" fill="#000" opacity="0.1"/>
<rect x="45" y="427.8" width="14" height="3.6" rx="1.8" fill="#000" opacity="1"/>
<ellipse cx="70.6" cy="430.4" rx="8" ry="3.2" fill="#000" opacity="0.1"/>
<rect x="63.6" y="427.8" width="14" height="3.6" rx="1.8" fill="#000" opacity="1"/>
<ellipse cx="88.2" cy="430.4" rx="8" ry="3.2" fill="#000" opacity="0"/>
<rect x="81.2" y="428.1" width="14" height="3" rx="1.8" fill="#000" opacity="0.6"/>
<ellipse cx="105.3" cy="430.4" rx="8" ry="3.2" fill="#000" opacity="0.1"/>
<rect x="98.3" y="427.8" width="14" height="3.6" rx="1.8" fill="#000" opacity="1"/>
<ellipse cx="122.6" cy="430.4" rx="8" ry="3.2" fill="#000" opacity="0.1"/>
<rect x="115.6" y="427.8" width="14" height="3.6" rx="1.8" fill="#000" opacity="0.8"/>
<ellipse cx="140.3" cy="430.4" rx="8" ry="3.2" fill="#000" opacity="0"/>
<rect x="133.3" y="428.1" width="14" height="3" rx="1.8" fill="#000" opacity="0.2"/>
<ellipse cx="156.7" cy="430.4" rx="8" ry="3.2" fill="#000" opacity="0"/>
<rect x="149.7" y="428.1" width="14" height="3" rx="1.8" fill="#000" opacity="0.4"/>
<ellipse cx="174" cy="430.4" rx="8" ry="3.2" fill="#000" opacity="0"/>
<rect x="167" y="428.1" width="14" height="3" rx="1.8" fill="#000" opacity="0.3"/>
<ellipse cx="190.4" cy="430.4" rx="8" ry="3.2" fill="#000" opacity="0"/>
<rect x="183.4" y="428.1" width="14" height="3" rx="1.8" fill="#000" opacity="0.3"/>
<ellipse cx="207.8" cy="430.4" rx="8" ry="3.2" fill="#000" opacity="0"/>
<rect x="200.8" y="428.1" width="14" height="3" rx="1.8" fill="#000" opacity="0.1"/>
<ellipse cx="225.4" cy="430.4" rx="8" ry="3.2" fill="#000" opacity="0"/>
<rect x="218.4" y="428.1" width="14" height="3" rx="1.8" fill="#000" opacity="0.1"/>
<ellipse cx="242.5" cy="430.4" rx="8" ry="3.2" fill="#000" opacity="0"/>
<rect x="235.5" y="428.1" width="14" height="3" rx="1.8" fill="#000" opacity="0.1"/>
</g>
<rect x="41.5" y="420.9" width="211.9" height="17.3" fill="none" stroke="#222" stroke-width="1.2"/>
<text x="37.4" y="432.3" font-size="7" text-anchor="end" fill="#111">37</text>
<line x1="37.8" y1="429.9" x2="41.3" y2="429.9" stroke="#111" stroke-width="0.8"/>
<text x="256.6" y="433.9" font-size="10.2">PCBP1</text>
<rect x="41.5" y="440" width="211.9" height="19" fill="#fafafa"/>
<g filter="url(#bl)" clip-path="url(#cb1)">
<ellipse cx="52" cy="451.2" rx="8" ry="3.2" fill="#000" opacity="0.1"/>
<rect x="45" y="448.6" width="14" height="3.6" rx="1.8" fill="#000" opacity="1"/>
<ellipse cx="70.6" cy="451.2" rx="8" ry="3.2" fill="#000" opacity="0.1"/>
<rect x="63.6" y="448.6" width="14" height="3.6" rx="1.8" fill="#000" opacity="1"/>
<ellipse cx="88.2" cy="451.2" rx="8" ry="3.2" fill="#000" opacity="0"/>
<rect x="81.2" y="448.9" width="14" height="3" rx="1.8" fill="#000" opacity="0.3"/>
<ellipse cx="105.3" cy="451.2" rx="8" ry="3.2" fill="#000" opacity="0.1"/>
<rect x="98.3" y="448.6" width="14" height="3.6" rx="1.8" fill="#000" opacity="0.9"/>
<ellipse cx="122.6" cy="451.2" rx="8" ry="3.2" fill="#000" opacity="0"/>
<rect x="115.6" y="448.9" width="14" height="3" rx="1.8" fill="#000" opacity="0.6"/>
<ellipse cx="140.3" cy="451.2" rx="8" ry="3.2" fill="#000" opacity="0"/>
<rect x="133.3" y="448.9" width="14" height="3" rx="1.8" fill="#000" opacity="0.2"/>
<ellipse cx="156.7" cy="451.2" rx="8" ry="3.2" fill="#000" opacity="0"/>
<rect x="149.7" y="448.9" width="14" height="3" rx="1.8" fill="#000" opacity="0.2"/>
<ellipse cx="174" cy="451.2" rx="8" ry="3.2" fill="#000" opacity="0.1"/>
<rect x="167" y="448.6" width="14" height="3.6" rx="1.8" fill="#000" opacity="0.8"/>
<ellipse cx="190.4" cy="451.2" rx="8" ry="3.2" fill="#000" opacity="0.1"/>
<rect x="183.4" y="448.6" width="14" height="3.6" rx="1.8" fill="#000" opacity="0.8"/>
<ellipse cx="207.8" cy="451.2" rx="8" ry="3.2" fill="#000" opacity="0"/>
<rect x="200.8" y="448.9" width="14" height="3" rx="1.8" fill="#000" opacity="0"/>
<ellipse cx="225.4" cy="451.2" rx="8" ry="3.2" fill="#000" opacity="0"/>
<rect x="218.4" y="448.9" width="14" height="3" rx="1.8" fill="#000" opacity="0.1"/>
<ellipse cx="242.5" cy="451.2" rx="8" ry="3.2" fill="#000" opacity="0"/>
<rect x="235.5" y="448.9" width="14" height="3" rx="1.8" fill="#000" opacity="0.1"/>
</g>
<rect x="41.5" y="440" width="211.9" height="19" fill="none" stroke="#222" stroke-width="1.2"/>
<text x="37.4" y="452.3" font-size="7" text-anchor="end" fill="#111">15</text>
<line x1="37.8" y1="449.9" x2="41.3" y2="449.9" stroke="#111" stroke-width="0.8"/>
<text x="256.6" y="454.2" font-size="10.2">ISG15</text>
<rect x="41.5" y="461.6" width="211.9" height="17" fill="#fafafa"/>
<g filter="url(#bl)" clip-path="url(#cb2)">
<ellipse cx="52" cy="473" rx="8" ry="3.2" fill="#000" opacity="0.1"/>
<rect x="45" y="470.4" width="14" height="3.6" rx="1.8" fill="#000" opacity="1"/>
<ellipse cx="70.6" cy="473" rx="8" ry="3.2" fill="#000" opacity="0.1"/>
<rect x="63.6" y="470.4" width="14" height="3.6" rx="1.8" fill="#000" opacity="1"/>
<ellipse cx="88.2" cy="473" rx="8" ry="3.2" fill="#000" opacity="0.1"/>
<rect x="81.2" y="470.7" width="14" height="3" rx="1.8" fill="#000" opacity="0.6"/>
<ellipse cx="105.3" cy="473" rx="8" ry="3.2" fill="#000" opacity="0.1"/>
<rect x="98.3" y="470.4" width="14" height="3.6" rx="1.8" fill="#000" opacity="1"/>
<ellipse cx="122.6" cy="473" rx="8" ry="3.2" fill="#000" opacity="0"/>
<rect x="115.6" y="470.7" width="14" height="3" rx="1.8" fill="#000" opacity="0.5"/>
<ellipse cx="140.3" cy="473" rx="8" ry="3.2" fill="#000" opacity="0"/>
<rect x="133.3" y="470.7" width="14" height="3" rx="1.8" fill="#000" opacity="0.3"/>
<ellipse cx="156.7" cy="473" rx="8" ry="3.2" fill="#000" opacity="0"/>
<rect x="149.7" y="470.7" width="14" height="3" rx="1.8" fill="#000" opacity="0.3"/>
<ellipse cx="174" cy="473" rx="8" ry="3.2" fill="#000" opacity="0"/>
<rect x="167" y="470.7" width="14" height="3" rx="1.8" fill="#000" opacity="0.4"/>
<ellipse cx="190.4" cy="473" rx="8" ry="3.2" fill="#000" opacity="0"/>
<rect x="183.4" y="470.7" width="14" height="3" rx="1.8" fill="#000" opacity="0.3"/>
<ellipse cx="207.8" cy="473" rx="8" ry="3.2" fill="#000" opacity="0"/>
<rect x="200.8" y="470.7" width="14" height="3" rx="1.8" fill="#000" opacity="0.1"/>
<ellipse cx="225.4" cy="473" rx="8" ry="3.2" fill="#000" opacity="0"/>
<rect x="218.4" y="470.7" width="14" height="3" rx="1.8" fill="#000" opacity="0.2"/>
<ellipse cx="242.5" cy="473" rx="8" ry="3.2" fill="#000" opacity="0"/>
<rect x="235.5" y="470.7" width="14" height="3" rx="1.8" fill="#000" opacity="0.1"/>
</g>
<rect x="41.5" y="461.6" width="211.9" height="17" fill="none" stroke="#222" stroke-width="1.2"/>
<text x="37.4" y="472.9" font-size="7" text-anchor="end" fill="#111">50</text>
<line x1="37.8" y1="470.5" x2="41.3" y2="470.5" stroke="#111" stroke-width="0.8"/>
<text x="256.6" y="475.6" font-size="10.2">IRF7</text>
<rect x="41.5" y="483" width="211.9" height="19" fill="#f2f2f2"/>
<g filter="url(#bl2)" clip-path="url(#cb3)">
<ellipse cx="105" cy="493" rx="9" ry="6" fill="#000" opacity="0.25"/>
<ellipse cx="176" cy="494" rx="11" ry="7" fill="#000" opacity="0.3"/>
<ellipse cx="160" cy="496" rx="8" ry="5" fill="#000" opacity="0.12"/>
<ellipse cx="60" cy="492" rx="12" ry="5" fill="#000" opacity="0.08"/>
</g>
<g filter="url(#bl)" clip-path="url(#cb3)">
<rect x="45.3" y="489.2" width="13.4" height="2.8" rx="1.4" fill="#000" opacity="0.7"/>
<rect x="45.3" y="492.8" width="13.4" height="3" rx="1.5" fill="#000" opacity="0.5"/>
<rect x="63.9" y="489.2" width="13.4" height="2.8" rx="1.4" fill="#000" opacity="0.6"/>
<rect x="63.9" y="492.8" width="13.4" height="3" rx="1.5" fill="#000" opacity="0.8"/>
<rect x="81.5" y="489.2" width="13.4" height="2.8" rx="1.4" fill="#000" opacity="0.2"/>
<rect x="81.5" y="492.8" width="13.4" height="3" rx="1.5" fill="#000" opacity="0.1"/>
<rect x="98.6" y="489.2" width="13.4" height="2.8" rx="1.4" fill="#000" opacity="1"/>
<rect x="98.6" y="492.8" width="13.4" height="3" rx="1.5" fill="#000" opacity="1"/>
<rect x="115.9" y="489.2" width="13.4" height="2.8" rx="1.4" fill="#000" opacity="0.1"/>
<rect x="115.9" y="492.8" width="13.4" height="3" rx="1.5" fill="#000" opacity="0.2"/>
<rect x="133.6" y="489.2" width="13.4" height="2.8" rx="1.4" fill="#000" opacity="0.4"/>
<rect x="133.6" y="492.8" width="13.4" height="3" rx="1.5" fill="#000" opacity="0.2"/>
<rect x="150" y="489.2" width="13.4" height="2.8" rx="1.4" fill="#000" opacity="0.1"/>
<rect x="150" y="492.8" width="13.4" height="3" rx="1.5" fill="#000" opacity="0.2"/>
<rect x="167.3" y="489.2" width="13.4" height="2.8" rx="1.4" fill="#000" opacity="0.5"/>
<rect x="167.3" y="492.8" width="13.4" height="3" rx="1.5" fill="#000" opacity="0.8"/>
<rect x="183.7" y="489.2" width="13.4" height="2.8" rx="1.4" fill="#000" opacity="0.1"/>
<rect x="183.7" y="492.8" width="13.4" height="3" rx="1.5" fill="#000" opacity="0.1"/>
<rect x="201.1" y="489.2" width="13.4" height="2.8" rx="1.4" fill="#000" opacity="0"/>
<rect x="201.1" y="492.8" width="13.4" height="3" rx="1.5" fill="#000" opacity="0"/>
<rect x="218.7" y="489.2" width="13.4" height="2.8" rx="1.4" fill="#000" opacity="0.1"/>
<rect x="218.7" y="492.8" width="13.4" height="3" rx="1.5" fill="#000" opacity="0.1"/>
<rect x="235.8" y="489.2" width="13.4" height="2.8" rx="1.4" fill="#000" opacity="0"/>
<rect x="235.8" y="492.8" width="13.4" height="3" rx="1.5" fill="#000" opacity="0"/>
</g>
<rect x="41.5" y="483" width="211.9" height="19" fill="none" stroke="#222" stroke-width="1.2"/>
<text x="37.4" y="495.3" font-size="7" text-anchor="end" fill="#111">91</text>
<line x1="37.8" y1="492.9" x2="41.3" y2="492.9" stroke="#111" stroke-width="0.8"/>
<text x="256.6" y="497.9" font-size="10.2">p-STAT1</text>
<rect x="41.5" y="506.5" width="211.9" height="16.8" fill="#fafafa"/>
<g filter="url(#bl)" clip-path="url(#cb4)">
<ellipse cx="52" cy="516.8" rx="8" ry="3.2" fill="#000" opacity="0.1"/>
<rect x="45" y="514.2" width="14" height="3.6" rx="1.8" fill="#000" opacity="1"/>
<ellipse cx="70.6" cy="516.8" rx="8" ry="3.2" fill="#000" opacity="0.1"/>
<rect x="63.6" y="514.2" width="14" height="3.6" rx="1.8" fill="#000" opacity="1"/>
<ellipse cx="88.2" cy="516.8" rx="8" ry="3.2" fill="#000" opacity="0"/>
<rect x="81.2" y="514.5" width="14" height="3" rx="1.8" fill="#000" opacity="0.6"/>
<ellipse cx="105.3" cy="516.8" rx="8" ry="3.2" fill="#000" opacity="0"/>
<rect x="98.3" y="514.5" width="14" height="3" rx="1.8" fill="#000" opacity="0.6"/>
<ellipse cx="122.6" cy="516.8" rx="8" ry="3.2" fill="#000" opacity="0"/>
<rect x="115.6" y="514.5" width="14" height="3" rx="1.8" fill="#000" opacity="0.4"/>
<ellipse cx="140.3" cy="516.8" rx="8" ry="3.2" fill="#000" opacity="0"/>
<rect x="133.3" y="514.5" width="14" height="3" rx="1.8" fill="#000" opacity="0.3"/>
<ellipse cx="156.7" cy="516.8" rx="8" ry="3.2" fill="#000" opacity="0"/>
<rect x="149.7" y="514.5" width="14" height="3" rx="1.8" fill="#000" opacity="0.3"/>
<ellipse cx="174" cy="516.8" rx="8" ry="3.2" fill="#000" opacity="0.1"/>
<rect x="167" y="514.2" width="14" height="3.6" rx="1.8" fill="#000" opacity="1"/>
<ellipse cx="190.4" cy="516.8" rx="8" ry="3.2" fill="#000" opacity="0"/>
<rect x="183.4" y="514.5" width="14" height="3" rx="1.8" fill="#000" opacity="0.5"/>
<ellipse cx="207.8" cy="516.8" rx="8" ry="3.2" fill="#000" opacity="0"/>
<rect x="200.8" y="514.5" width="14" height="3" rx="1.8" fill="#000" opacity="0.2"/>
<ellipse cx="225.4" cy="516.8" rx="8" ry="3.2" fill="#000" opacity="0.1"/>
<rect x="218.4" y="514.2" width="14" height="3.6" rx="1.8" fill="#000" opacity="0.8"/>
<ellipse cx="242.5" cy="516.8" rx="8" ry="3.2" fill="#000" opacity="0"/>
<rect x="235.5" y="514.5" width="14" height="3" rx="1.8" fill="#000" opacity="0.6"/>
</g>
<rect x="41.5" y="506.5" width="211.9" height="16.8" fill="none" stroke="#222" stroke-width="1.2"/>
<text x="37.4" y="517.7" font-size="7" text-anchor="end" fill="#111">91</text>
<line x1="37.8" y1="515.3" x2="41.3" y2="515.3" stroke="#111" stroke-width="0.8"/>
<text x="256.6" y="520.5" font-size="10.2">STAT1</text>
<rect x="41.5" y="526.2" width="211.9" height="16.4" fill="#fafafa"/>
<g filter="url(#bl)" clip-path="url(#cb5)">
<ellipse cx="52" cy="534.6" rx="8" ry="3.2" fill="#000" opacity="0.1"/>
<rect x="45" y="532.4" width="14" height="2.7" rx="1.8" fill="#000" opacity="0.8"/>
<ellipse cx="70.6" cy="534.6" rx="8" ry="3.2" fill="#000" opacity="0.1"/>
<rect x="63.6" y="532.4" width="14" height="2.7" rx="1.8" fill="#000" opacity="0.8"/>
<ellipse cx="88.2" cy="534.6" rx="8" ry="3.2" fill="#000" opacity="0.1"/>
<rect x="81.2" y="532.4" width="14" height="2.7" rx="1.8" fill="#000" opacity="0.8"/>
<ellipse cx="105.3" cy="534.6" rx="8" ry="3.2" fill="#000" opacity="0.1"/>
<rect x="98.3" y="532.4" width="14" height="2.7" rx="1.8" fill="#000" opacity="0.9"/>
<ellipse cx="122.6" cy="534.6" rx="8" ry="3.2" fill="#000" opacity="0.1"/>
<rect x="115.6" y="532.4" width="14" height="2.7" rx="1.8" fill="#000" opacity="0.8"/>
<ellipse cx="140.3" cy="534.6" rx="8" ry="3.2" fill="#000" opacity="0.1"/>
<rect x="133.3" y="532.4" width="14" height="2.7" rx="1.8" fill="#000" opacity="0.8"/>
<ellipse cx="156.7" cy="534.6" rx="8" ry="3.2" fill="#000" opacity="0.1"/>
<rect x="149.7" y="532.4" width="14" height="2.7" rx="1.8" fill="#000" opacity="0.8"/>
<ellipse cx="174" cy="534.6" rx="8" ry="3.2" fill="#000" opacity="0.1"/>
<rect x="167" y="532.4" width="14" height="2.7" rx="1.8" fill="#000" opacity="0.8"/>
<ellipse cx="190.4" cy="534.6" rx="8" ry="3.2" fill="#000" opacity="0.1"/>
<rect x="183.4" y="532.4" width="14" height="2.7" rx="1.8" fill="#000" opacity="0.8"/>
<ellipse cx="207.8" cy="534.6" rx="8" ry="3.2" fill="#000" opacity="0.1"/>
<rect x="200.8" y="532.4" width="14" height="2.7" rx="1.8" fill="#000" opacity="0.8"/>
<ellipse cx="225.4" cy="534.6" rx="8" ry="3.2" fill="#000" opacity="0.1"/>
<rect x="218.4" y="532.4" width="14" height="2.7" rx="1.8" fill="#000" opacity="0.8"/>
<ellipse cx="242.5" cy="534.6" rx="8" ry="3.2" fill="#000" opacity="0.1"/>
<rect x="235.5" y="532.4" width="14" height="2.7" rx="1.8" fill="#000" opacity="0.7"/>
</g>
<rect x="41.5" y="526.2" width="211.9" height="16.4" fill="none" stroke="#222" stroke-width="1.2"/>
<text x="37.4" y="537.2" font-size="7" text-anchor="end" fill="#111">90</text>
<line x1="37.8" y1="534.8" x2="41.3" y2="534.8" stroke="#111" stroke-width="0.8"/>
<text x="256.6" y="539.3" font-size="10.2">HSP90</text>
<line x1="47.6" y1="413.5" x2="145.4" y2="413.5" stroke="#000" stroke-width="1.1"/>
<line x1="152.8" y1="413.5" x2="194.5" y2="413.5" stroke="#000" stroke-width="1.1"/>
<line x1="202.5" y1="413.5" x2="252.9" y2="413.5" stroke="#000" stroke-width="1.1"/>
<text x="98" y="398.4" font-size="9.35" text-anchor="middle">PyMT</text>
<text x="98" y="408.6" font-size="9.3" text-anchor="middle">PCBP1+/+</text>
<text x="173.7" y="398.4" font-size="9.35" text-anchor="middle">PyMT</text>
<text x="173.7" y="408.6" font-size="9.3" text-anchor="middle">PCBP1+/–</text>
<text x="228.7" y="398.4" font-size="9.35" text-anchor="middle">PyMT</text>
<text x="228.7" y="408.6" font-size="9.3" text-anchor="middle">PCBP1–/–</text>
<g clip-path="url(#ci1)">
<g filter="url(#ib)">
<path d="M30.1 576.2h5.6v5.6h-5.6zM45.1 576.2h5.6v5.6h-5.6zM35.1 581.2h5.6v5.6h-5.6zM40.1 581.2h5.6v5.6h-5.6zM45.1 581.2h5.6v5.6h-5.6zM65.1 581.2h5.6v5.6h-5.6zM40.1 586.2h5.6v5.6h-5.6zM50.1 601.1h5.6v5.6h-5.6zM55.1 601.1h5.6v5.6h-5.6zM60.1 611h5.6v5.6h-5.6zM40.1 616h5.6v5.6h-5.6zM50.1 616h5.6v5.6h-5.6zM60.1 616h5.6v5.6h-5.6zM40.1 621h5.6v5.6h-5.6zM50.1 621h5.6v5.6h-5.6zM55.1 621h5.6v5.6h-5.6zM65.1 626h5.6v5.6h-5.6zM50.1 631h5.6v5.6h-5.6zM60.1 631h5.6v5.6h-5.6zM70.1 631h5.6v5.6h-5.6zM55.1 640.9h5.6v5.6h-5.6zM70.1 640.9h5.6v5.6h-5.6zM60.1 645.9h5.6v5.6h-5.6zM75.1 645.9h5.6v5.6h-5.6zM75.1 650.9h5.6v5.6h-5.6zM60.1 660.8h5.6v5.6h-5.6z" fill="#c1b3a9"/>
<path d="M80.1 576.2h5.6v5.6h-5.6zM90.1 576.2h5.6v5.6h-5.6zM100.1 576.2h5.6v5.6h-5.6zM75.1 581.2h5.6v5.6h-5.6zM90.1 581.2h5.6v5.6h-5.6zM100.1 581.2h5.6v5.6h-5.6zM80.1 586.2h5.6v5.6h-5.6zM100.1 586.2h5.6v5.6h-5.6zM105.1 586.2h5.6v5.6h-5.6zM110.1 586.2h5.6v5.6h-5.6zM75.1 591.1h5.6v5.6h-5.6zM80.1 591.1h5.6v5.6h-5.6zM75.1 596.1h5.6v5.6h-5.6zM100.1 596.1h5.6v5.6h-5.6zM105.1 596.1h5.6v5.6h-5.6zM75.1 601.1h5.6v5.6h-5.6zM95.1 601.1h5.6v5.6h-5.6zM75.1 606.1h5.6v5.6h-5.6zM85.1 606.1h5.6v5.6h-5.6zM120.1 611h5.6v5.6h-5.6zM125.1 611h5.6v5.6h-5.6zM125.1 616h5.6v5.6h-5.6zM130.1 616h5.6v5.6h-5.6zM115.1 621h5.6v5.6h-5.6zM110.1 626h5.6v5.6h-5.6zM135.1 626h5.6v5.6h-5.6zM105.1 631h5.6v5.6h-5.6zM120.1 631h5.6v5.6h-5.6zM110.1 635.9h5.6v5.6h-5.6zM130.1 635.9h5.6v5.6h-5.6zM105.1 640.9h5.6v5.6h-5.6zM125.1 640.9h5.6v5.6h-5.6zM45.1 645.9h5.6v5.6h-5.6zM125.1 645.9h5.6v5.6h-5.6zM130.1 645.9h5.6v5.6h-5.6zM105.1 655.8h5.6v5.6h-5.6zM110.1 655.8h5.6v5.6h-5.6zM115.1 655.8h5.6v5.6h-5.6zM120.1 660.8h5.6v5.6h-5.6z" fill="#cba87c"/>
<path d="M110.1 576.2h5.6v5.6h-5.6zM135.1 576.2h5.6v5.6h-5.6zM130.1 581.2h5.6v5.6h-5.6zM135.1 581.2h5.6v5.6h-5.6zM120.1 586.2h5.6v5.6h-5.6zM125.1 586.2h5.6v5.6h-5.6zM30.1 591.1h5.6v5.6h-5.6zM110.1 591.1h5.6v5.6h-5.6zM135.1 591.1h5.6v5.6h-5.6zM140.1 591.1h5.6v5.6h-5.6zM145.1 591.1h5.6v5.6h-5.6zM115.1 596.1h5.6v5.6h-5.6zM135.1 596.1h5.6v5.6h-5.6zM140.1 596.1h5.6v5.6h-5.6zM30.1 601.1h5.6v5.6h-5.6zM70.1 601.1h5.6v5.6h-5.6zM105.1 601.1h5.6v5.6h-5.6zM115.1 601.1h5.6v5.6h-5.6zM145.1 601.1h5.6v5.6h-5.6zM30.1 606.1h5.6v5.6h-5.6zM70.1 606.1h5.6v5.6h-5.6zM100.1 606.1h5.6v5.6h-5.6zM115.1 606.1h5.6v5.6h-5.6zM75.1 611h5.6v5.6h-5.6zM140.1 611h5.6v5.6h-5.6zM30.1 616h5.6v5.6h-5.6zM90.1 616h5.6v5.6h-5.6zM30.1 621h5.6v5.6h-5.6zM85.1 621h5.6v5.6h-5.6zM100.1 631h5.6v5.6h-5.6zM45.1 635.9h5.6v5.6h-5.6zM100.1 635.9h5.6v5.6h-5.6zM100.1 640.9h5.6v5.6h-5.6zM140.1 640.9h5.6v5.6h-5.6zM100.1 645.9h5.6v5.6h-5.6zM105.1 650.9h5.6v5.6h-5.6zM140.1 650.9h5.6v5.6h-5.6zM30.1 655.8h5.6v5.6h-5.6zM35.1 655.8h5.6v5.6h-5.6zM50.1 655.8h5.6v5.6h-5.6zM125.1 655.8h5.6v5.6h-5.6zM145.1 655.8h5.6v5.6h-5.6zM35.1 660.8h5.6v5.6h-5.6zM40.1 660.8h5.6v5.6h-5.6zM100.1 660.8h5.6v5.6h-5.6zM105.1 660.8h5.6v5.6h-5.6zM115.1 660.8h5.6v5.6h-5.6zM130.1 660.8h5.6v5.6h-5.6zM135.1 660.8h5.6v5.6h-5.6z" fill="#c1a081"/>
<path d="M35.1 576.2h5.6v5.6h-5.6zM60.1 576.2h5.6v5.6h-5.6zM65.1 576.2h5.6v5.6h-5.6zM45.1 586.2h5.6v5.6h-5.6zM50.1 586.2h5.6v5.6h-5.6zM55.1 586.2h5.6v5.6h-5.6zM40.1 591.1h5.6v5.6h-5.6zM45.1 591.1h5.6v5.6h-5.6zM50.1 591.1h5.6v5.6h-5.6zM65.1 591.1h5.6v5.6h-5.6zM45.1 596.1h5.6v5.6h-5.6zM55.1 596.1h5.6v5.6h-5.6zM40.1 601.1h5.6v5.6h-5.6zM45.1 606.1h5.6v5.6h-5.6zM50.1 606.1h5.6v5.6h-5.6zM55.1 606.1h5.6v5.6h-5.6zM40.1 611h5.6v5.6h-5.6zM45.1 611h5.6v5.6h-5.6zM55.1 611h5.6v5.6h-5.6zM45.1 621h5.6v5.6h-5.6zM60.1 621h5.6v5.6h-5.6zM50.1 626h5.6v5.6h-5.6zM65.1 631h5.6v5.6h-5.6zM60.1 635.9h5.6v5.6h-5.6zM70.1 645.9h5.6v5.6h-5.6zM80.1 645.9h5.6v5.6h-5.6z" fill="#d1c7c3"/>
<path d="M95.1 576.2h5.6v5.6h-5.6zM85.1 581.2h5.6v5.6h-5.6zM90.1 586.2h5.6v5.6h-5.6zM85.1 591.1h5.6v5.6h-5.6zM80.1 596.1h5.6v5.6h-5.6zM85.1 596.1h5.6v5.6h-5.6zM85.1 601.1h5.6v5.6h-5.6zM130.1 601.1h5.6v5.6h-5.6zM80.1 606.1h5.6v5.6h-5.6zM130.1 606.1h5.6v5.6h-5.6zM80.1 611h5.6v5.6h-5.6zM115.1 616h5.6v5.6h-5.6zM120.1 621h5.6v5.6h-5.6zM130.1 621h5.6v5.6h-5.6zM135.1 621h5.6v5.6h-5.6zM115.1 626h5.6v5.6h-5.6zM125.1 626h5.6v5.6h-5.6zM130.1 626h5.6v5.6h-5.6zM110.1 631h5.6v5.6h-5.6zM115.1 631h5.6v5.6h-5.6zM125.1 631h5.6v5.6h-5.6zM115.1 635.9h5.6v5.6h-5.6zM110.1 640.9h5.6v5.6h-5.6zM115.1 650.9h5.6v5.6h-5.6zM120.1 650.9h5.6v5.6h-5.6z" fill="#bb9361"/>
<path d="M75.1 576.2h5.6v5.6h-5.6zM125.1 576.2h5.6v5.6h-5.6zM145.1 576.2h5.6v5.6h-5.6zM105.1 581.2h5.6v5.6h-5.6zM120.1 581.2h5.6v5.6h-5.6zM125.1 581.2h5.6v5.6h-5.6zM145.1 581.2h5.6v5.6h-5.6zM75.1 586.2h5.6v5.6h-5.6zM130.1 586.2h5.6v5.6h-5.6zM140.1 586.2h5.6v5.6h-5.6zM130.1 591.1h5.6v5.6h-5.6zM110.1 596.1h5.6v5.6h-5.6zM120.1 596.1h5.6v5.6h-5.6zM125.1 596.1h5.6v5.6h-5.6zM130.1 596.1h5.6v5.6h-5.6zM90.1 601.1h5.6v5.6h-5.6zM100.1 601.1h5.6v5.6h-5.6zM120.1 601.1h5.6v5.6h-5.6zM125.1 601.1h5.6v5.6h-5.6zM140.1 601.1h5.6v5.6h-5.6zM120.1 606.1h5.6v5.6h-5.6zM135.1 606.1h5.6v5.6h-5.6zM140.1 606.1h5.6v5.6h-5.6zM30.1 611h5.6v5.6h-5.6zM85.1 611h5.6v5.6h-5.6zM115.1 611h5.6v5.6h-5.6zM135.1 611h5.6v5.6h-5.6zM85.1 616h5.6v5.6h-5.6zM110.1 616h5.6v5.6h-5.6zM135.1 616h5.6v5.6h-5.6zM135.1 631h5.6v5.6h-5.6zM105.1 635.9h5.6v5.6h-5.6zM135.1 635.9h5.6v5.6h-5.6zM45.1 640.9h5.6v5.6h-5.6zM135.1 640.9h5.6v5.6h-5.6zM140.1 645.9h5.6v5.6h-5.6zM40.1 650.9h5.6v5.6h-5.6zM140.1 655.8h5.6v5.6h-5.6zM110.1 660.8h5.6v5.6h-5.6z" fill="#bd9977"/>
<path d="M40.1 576.2h5.6v5.6h-5.6zM50.1 576.2h5.6v5.6h-5.6zM55.1 576.2h5.6v5.6h-5.6zM50.1 581.2h5.6v5.6h-5.6zM55.1 581.2h5.6v5.6h-5.6zM60.1 581.2h5.6v5.6h-5.6zM35.1 586.2h5.6v5.6h-5.6zM60.1 586.2h5.6v5.6h-5.6zM65.1 586.2h5.6v5.6h-5.6zM55.1 591.1h5.6v5.6h-5.6zM60.1 591.1h5.6v5.6h-5.6zM40.1 596.1h5.6v5.6h-5.6zM50.1 596.1h5.6v5.6h-5.6zM60.1 596.1h5.6v5.6h-5.6zM35.1 601.1h5.6v5.6h-5.6zM45.1 601.1h5.6v5.6h-5.6zM60.1 601.1h5.6v5.6h-5.6zM35.1 606.1h5.6v5.6h-5.6zM40.1 606.1h5.6v5.6h-5.6zM50.1 611h5.6v5.6h-5.6zM45.1 616h5.6v5.6h-5.6zM55.1 616h5.6v5.6h-5.6zM45.1 626h5.6v5.6h-5.6zM55.1 626h5.6v5.6h-5.6zM60.1 626h5.6v5.6h-5.6zM55.1 631h5.6v5.6h-5.6zM55.1 635.9h5.6v5.6h-5.6zM65.1 635.9h5.6v5.6h-5.6zM70.1 635.9h5.6v5.6h-5.6zM60.1 640.9h5.6v5.6h-5.6zM65.1 640.9h5.6v5.6h-5.6zM30.1 645.9h5.6v5.6h-5.6zM65.1 645.9h5.6v5.6h-5.6zM90.1 645.9h5.6v5.6h-5.6zM60.1 650.9h5.6v5.6h-5.6zM65.1 650.9h5.6v5.6h-5.6zM70.1 650.9h5.6v5.6h-5.6zM60.1 655.8h5.6v5.6h-5.6zM65.1 655.8h5.6v5.6h-5.6zM70.1 655.8h5.6v5.6h-5.6zM65.1 660.8h5.6v5.6h-5.6z" fill="#cabdb6"/>
<path d="M105.1 576.2h5.6v5.6h-5.6zM120.1 576.2h5.6v5.6h-5.6zM120.1 591.1h5.6v5.6h-5.6zM110.1 601.1h5.6v5.6h-5.6zM90.1 606.1h5.6v5.6h-5.6zM95.1 606.1h5.6v5.6h-5.6zM110.1 606.1h5.6v5.6h-5.6zM70.1 611h5.6v5.6h-5.6zM75.1 616h5.6v5.6h-5.6zM80.1 616h5.6v5.6h-5.6zM105.1 616h5.6v5.6h-5.6zM80.1 621h5.6v5.6h-5.6zM110.1 621h5.6v5.6h-5.6zM80.1 626h5.6v5.6h-5.6zM105.1 626h5.6v5.6h-5.6zM105.1 645.9h5.6v5.6h-5.6zM100.1 650.9h5.6v5.6h-5.6z" fill="#cdb08c"/>
<path d="M30.1 581.2h5.6v5.6h-5.6zM65.1 596.1h5.6v5.6h-5.6zM65.1 601.1h5.6v5.6h-5.6zM60.1 606.1h5.6v5.6h-5.6zM145.1 606.1h5.6v5.6h-5.6zM35.1 611h5.6v5.6h-5.6zM95.1 616h5.6v5.6h-5.6zM65.1 621h5.6v5.6h-5.6zM95.1 621h5.6v5.6h-5.6zM40.1 626h5.6v5.6h-5.6zM95.1 626h5.6v5.6h-5.6zM45.1 631h5.6v5.6h-5.6zM95.1 631h5.6v5.6h-5.6zM50.1 635.9h5.6v5.6h-5.6zM85.1 635.9h5.6v5.6h-5.6zM90.1 635.9h5.6v5.6h-5.6zM95.1 635.9h5.6v5.6h-5.6zM30.1 640.9h5.6v5.6h-5.6zM40.1 640.9h5.6v5.6h-5.6zM75.1 640.9h5.6v5.6h-5.6zM80.1 640.9h5.6v5.6h-5.6zM55.1 645.9h5.6v5.6h-5.6zM85.1 645.9h5.6v5.6h-5.6zM30.1 650.9h5.6v5.6h-5.6zM50.1 650.9h5.6v5.6h-5.6zM80.1 650.9h5.6v5.6h-5.6zM85.1 650.9h5.6v5.6h-5.6zM90.1 650.9h5.6v5.6h-5.6zM55.1 655.8h5.6v5.6h-5.6zM85.1 655.8h5.6v5.6h-5.6zM90.1 655.8h5.6v5.6h-5.6zM75.1 660.8h5.6v5.6h-5.6zM95.1 660.8h5.6v5.6h-5.6z" fill="#c3ad99"/>
<path d="M70.1 576.2h5.6v5.6h-5.6zM70.1 586.2h5.6v5.6h-5.6zM65.1 606.1h5.6v5.6h-5.6zM95.1 611h5.6v5.6h-5.6zM145.1 611h5.6v5.6h-5.6zM70.1 616h5.6v5.6h-5.6zM70.1 626h5.6v5.6h-5.6zM75.1 626h5.6v5.6h-5.6zM100.1 626h5.6v5.6h-5.6zM35.1 631h5.6v5.6h-5.6zM40.1 631h5.6v5.6h-5.6zM85.1 631h5.6v5.6h-5.6zM90.1 631h5.6v5.6h-5.6zM80.1 635.9h5.6v5.6h-5.6zM50.1 640.9h5.6v5.6h-5.6zM85.1 640.9h5.6v5.6h-5.6zM95.1 640.9h5.6v5.6h-5.6zM35.1 645.9h5.6v5.6h-5.6zM95.1 645.9h5.6v5.6h-5.6zM95.1 650.9h5.6v5.6h-5.6zM80.1 655.8h5.6v5.6h-5.6zM95.1 655.8h5.6v5.6h-5.6zM50.1 660.8h5.6v5.6h-5.6z" fill="#bea58d"/>
<path d="M85.1 576.2h5.6v5.6h-5.6zM80.1 581.2h5.6v5.6h-5.6zM95.1 581.2h5.6v5.6h-5.6zM85.1 586.2h5.6v5.6h-5.6zM95.1 586.2h5.6v5.6h-5.6zM90.1 591.1h5.6v5.6h-5.6zM95.1 591.1h5.6v5.6h-5.6zM100.1 591.1h5.6v5.6h-5.6zM105.1 591.1h5.6v5.6h-5.6zM90.1 596.1h5.6v5.6h-5.6zM95.1 596.1h5.6v5.6h-5.6zM80.1 601.1h5.6v5.6h-5.6zM125.1 606.1h5.6v5.6h-5.6zM130.1 611h5.6v5.6h-5.6zM120.1 616h5.6v5.6h-5.6zM125.1 621h5.6v5.6h-5.6zM120.1 626h5.6v5.6h-5.6zM130.1 631h5.6v5.6h-5.6zM120.1 635.9h5.6v5.6h-5.6zM125.1 635.9h5.6v5.6h-5.6zM115.1 640.9h5.6v5.6h-5.6zM120.1 640.9h5.6v5.6h-5.6zM110.1 645.9h5.6v5.6h-5.6zM115.1 645.9h5.6v5.6h-5.6zM120.1 645.9h5.6v5.6h-5.6zM110.1 650.9h5.6v5.6h-5.6z" fill="#c7a06e"/>
<path d="M115.1 576.2h5.6v5.6h-5.6zM110.1 581.2h5.6v5.6h-5.6zM115.1 581.2h5.6v5.6h-5.6zM30.1 586.2h5.6v5.6h-5.6zM35.1 591.1h5.6v5.6h-5.6zM70.1 591.1h5.6v5.6h-5.6zM30.1 596.1h5.6v5.6h-5.6zM35.1 596.1h5.6v5.6h-5.6zM105.1 606.1h5.6v5.6h-5.6zM65.1 611h5.6v5.6h-5.6zM90.1 611h5.6v5.6h-5.6zM100.1 611h5.6v5.6h-5.6zM105.1 611h5.6v5.6h-5.6zM35.1 616h5.6v5.6h-5.6zM65.1 616h5.6v5.6h-5.6zM100.1 616h5.6v5.6h-5.6zM35.1 621h5.6v5.6h-5.6zM70.1 621h5.6v5.6h-5.6zM100.1 621h5.6v5.6h-5.6zM35.1 626h5.6v5.6h-5.6zM90.1 626h5.6v5.6h-5.6zM30.1 631h5.6v5.6h-5.6zM75.1 631h5.6v5.6h-5.6zM80.1 631h5.6v5.6h-5.6zM30.1 635.9h5.6v5.6h-5.6zM35.1 635.9h5.6v5.6h-5.6zM40.1 635.9h5.6v5.6h-5.6zM75.1 635.9h5.6v5.6h-5.6zM35.1 640.9h5.6v5.6h-5.6zM90.1 640.9h5.6v5.6h-5.6zM55.1 650.9h5.6v5.6h-5.6zM75.1 655.8h5.6v5.6h-5.6zM55.1 660.8h5.6v5.6h-5.6zM70.1 660.8h5.6v5.6h-5.6zM80.1 660.8h5.6v5.6h-5.6zM85.1 660.8h5.6v5.6h-5.6zM90.1 660.8h5.6v5.6h-5.6z" fill="#ceb8a0"/>
<path d="M140.1 576.2h5.6v5.6h-5.6zM70.1 581.2h5.6v5.6h-5.6zM140.1 581.2h5.6v5.6h-5.6zM115.1 586.2h5.6v5.6h-5.6zM115.1 591.1h5.6v5.6h-5.6zM70.1 596.1h5.6v5.6h-5.6zM145.1 596.1h5.6v5.6h-5.6zM110.1 611h5.6v5.6h-5.6zM140.1 616h5.6v5.6h-5.6zM145.1 616h5.6v5.6h-5.6zM75.1 621h5.6v5.6h-5.6zM90.1 621h5.6v5.6h-5.6zM105.1 621h5.6v5.6h-5.6zM145.1 621h5.6v5.6h-5.6zM30.1 626h5.6v5.6h-5.6zM85.1 626h5.6v5.6h-5.6zM40.1 645.9h5.6v5.6h-5.6zM50.1 645.9h5.6v5.6h-5.6zM35.1 650.9h5.6v5.6h-5.6zM100.1 655.8h5.6v5.6h-5.6z" fill="#c7a98d"/>
<path d="M130.1 576.2h5.6v5.6h-5.6zM135.1 586.2h5.6v5.6h-5.6zM145.1 586.2h5.6v5.6h-5.6zM125.1 591.1h5.6v5.6h-5.6zM135.1 601.1h5.6v5.6h-5.6zM140.1 621h5.6v5.6h-5.6zM140.1 626h5.6v5.6h-5.6zM145.1 626h5.6v5.6h-5.6zM140.1 631h5.6v5.6h-5.6zM145.1 631h5.6v5.6h-5.6zM140.1 635.9h5.6v5.6h-5.6zM145.1 635.9h5.6v5.6h-5.6zM130.1 640.9h5.6v5.6h-5.6zM145.1 640.9h5.6v5.6h-5.6zM135.1 645.9h5.6v5.6h-5.6zM145.1 645.9h5.6v5.6h-5.6zM45.1 650.9h5.6v5.6h-5.6zM125.1 650.9h5.6v5.6h-5.6zM130.1 650.9h5.6v5.6h-5.6zM135.1 650.9h5.6v5.6h-5.6zM145.1 650.9h5.6v5.6h-5.6zM40.1 655.8h5.6v5.6h-5.6zM45.1 655.8h5.6v5.6h-5.6zM120.1 655.8h5.6v5.6h-5.6zM130.1 655.8h5.6v5.6h-5.6zM135.1 655.8h5.6v5.6h-5.6zM30.1 660.8h5.6v5.6h-5.6zM45.1 660.8h5.6v5.6h-5.6zM125.1 660.8h5.6v5.6h-5.6zM140.1 660.8h5.6v5.6h-5.6zM145.1 660.8h5.6v5.6h-5.6z" fill="#b68e6f"/>
</g>
<rect x="30.4" y="576.5" width="120" height="89.6" filter="url(#tx1)"/>
</g>
<g clip-path="url(#ci2)">
<g filter="url(#ib)">
<path d="M153.3 576.2h5.6v5.6h-5.6zM158.3 576.2h5.6v5.6h-5.6zM233.4 576.2h5.6v5.6h-5.6zM158.3 581.2h5.6v5.6h-5.6zM198.4 581.2h5.6v5.6h-5.6zM228.4 581.2h5.6v5.6h-5.6zM233.4 581.2h5.6v5.6h-5.6zM188.4 586.2h5.6v5.6h-5.6zM193.4 586.2h5.6v5.6h-5.6zM208.4 586.2h5.6v5.6h-5.6zM203.4 591.1h5.6v5.6h-5.6zM208.4 591.1h5.6v5.6h-5.6zM188.4 596.1h5.6v5.6h-5.6zM198.4 596.1h5.6v5.6h-5.6zM208.4 596.1h5.6v5.6h-5.6zM198.4 601.1h5.6v5.6h-5.6zM203.4 601.1h5.6v5.6h-5.6zM208.4 601.1h5.6v5.6h-5.6zM208.4 606.1h5.6v5.6h-5.6zM263.5 621h5.6v5.6h-5.6zM253.5 635.9h5.6v5.6h-5.6zM258.5 635.9h5.6v5.6h-5.6zM243.4 640.9h5.6v5.6h-5.6zM248.5 655.8h5.6v5.6h-5.6zM228.4 660.8h5.6v5.6h-5.6zM243.4 660.8h5.6v5.6h-5.6z" fill="#cfc4c8"/>
<path d="M173.3 576.2h5.6v5.6h-5.6zM178.3 576.2h5.6v5.6h-5.6zM193.4 576.2h5.6v5.6h-5.6zM228.4 576.2h5.6v5.6h-5.6zM163.3 581.2h5.6v5.6h-5.6zM168.3 581.2h5.6v5.6h-5.6zM193.4 581.2h5.6v5.6h-5.6zM213.4 581.2h5.6v5.6h-5.6zM223.4 581.2h5.6v5.6h-5.6zM213.4 586.2h5.6v5.6h-5.6zM263.5 631h5.6v5.6h-5.6zM268.5 640.9h5.6v5.6h-5.6zM258.5 645.9h5.6v5.6h-5.6zM248.5 650.9h5.6v5.6h-5.6zM263.5 650.9h5.6v5.6h-5.6zM258.5 655.8h5.6v5.6h-5.6zM258.5 660.8h5.6v5.6h-5.6zM268.5 660.8h5.6v5.6h-5.6z" fill="#cabbba"/>
<path d="M248.5 581.2h5.6v5.6h-5.6zM253.5 581.2h5.6v5.6h-5.6zM243.4 586.2h5.6v5.6h-5.6zM253.5 586.2h5.6v5.6h-5.6zM263.5 586.2h5.6v5.6h-5.6zM163.3 591.1h5.6v5.6h-5.6zM248.5 591.1h5.6v5.6h-5.6zM168.3 596.1h5.6v5.6h-5.6zM153.3 601.1h5.6v5.6h-5.6zM243.4 601.1h5.6v5.6h-5.6zM163.3 606.1h5.6v5.6h-5.6zM218.4 606.1h5.6v5.6h-5.6zM223.4 606.1h5.6v5.6h-5.6zM238.4 611h5.6v5.6h-5.6zM188.4 616h5.6v5.6h-5.6zM233.4 616h5.6v5.6h-5.6zM178.3 621h5.6v5.6h-5.6zM228.4 621h5.6v5.6h-5.6zM163.3 626h5.6v5.6h-5.6zM193.4 626h5.6v5.6h-5.6zM163.3 631h5.6v5.6h-5.6zM223.4 631h5.6v5.6h-5.6zM153.3 635.9h5.6v5.6h-5.6zM188.4 635.9h5.6v5.6h-5.6zM218.4 635.9h5.6v5.6h-5.6zM233.4 635.9h5.6v5.6h-5.6zM188.4 640.9h5.6v5.6h-5.6zM188.4 645.9h5.6v5.6h-5.6z" fill="#d5d1e1"/>
<path d="M158.3 596.1h5.6v5.6h-5.6zM253.5 596.1h5.6v5.6h-5.6zM158.3 601.1h5.6v5.6h-5.6zM153.3 606.1h5.6v5.6h-5.6zM228.4 606.1h5.6v5.6h-5.6zM243.4 611h5.6v5.6h-5.6zM173.3 616h5.6v5.6h-5.6zM168.3 621h5.6v5.6h-5.6zM238.4 621h5.6v5.6h-5.6zM183.3 626h5.6v5.6h-5.6zM233.4 626h5.6v5.6h-5.6zM168.3 631h5.6v5.6h-5.6z" fill="#d7d4e8"/>
<path d="M183.3 576.2h5.6v5.6h-5.6zM238.4 576.2h5.6v5.6h-5.6zM243.4 576.2h5.6v5.6h-5.6zM248.5 576.2h5.6v5.6h-5.6zM153.3 581.2h5.6v5.6h-5.6zM243.4 581.2h5.6v5.6h-5.6zM173.3 586.2h5.6v5.6h-5.6zM183.3 591.1h5.6v5.6h-5.6zM193.4 591.1h5.6v5.6h-5.6zM218.4 596.1h5.6v5.6h-5.6zM213.4 601.1h5.6v5.6h-5.6zM218.4 601.1h5.6v5.6h-5.6zM208.4 616h5.6v5.6h-5.6zM268.5 616h5.6v5.6h-5.6zM198.4 621h5.6v5.6h-5.6zM208.4 621h5.6v5.6h-5.6zM203.4 631h5.6v5.6h-5.6zM253.5 640.9h5.6v5.6h-5.6zM228.4 650.9h5.6v5.6h-5.6zM233.4 650.9h5.6v5.6h-5.6zM233.4 655.8h5.6v5.6h-5.6zM163.3 660.8h5.6v5.6h-5.6zM173.3 660.8h5.6v5.6h-5.6zM253.5 660.8h5.6v5.6h-5.6z" fill="#c7bec6"/>
<path d="M168.3 586.2h5.6v5.6h-5.6zM168.3 591.1h5.6v5.6h-5.6zM263.5 591.1h5.6v5.6h-5.6zM223.4 596.1h5.6v5.6h-5.6zM238.4 596.1h5.6v5.6h-5.6zM258.5 606.1h5.6v5.6h-5.6zM158.3 611h5.6v5.6h-5.6zM183.3 611h5.6v5.6h-5.6zM248.5 611h5.6v5.6h-5.6zM188.4 626h5.6v5.6h-5.6zM243.4 626h5.6v5.6h-5.6zM228.4 631h5.6v5.6h-5.6zM163.3 640.9h5.6v5.6h-5.6zM208.4 640.9h5.6v5.6h-5.6zM223.4 640.9h5.6v5.6h-5.6zM228.4 640.9h5.6v5.6h-5.6zM213.4 650.9h5.6v5.6h-5.6zM183.3 655.8h5.6v5.6h-5.6zM183.3 660.8h5.6v5.6h-5.6zM188.4 660.8h5.6v5.6h-5.6z" fill="#d3cddd"/>
<path d="M158.3 586.2h5.6v5.6h-5.6zM258.5 591.1h5.6v5.6h-5.6zM153.3 596.1h5.6v5.6h-5.6zM243.4 596.1h5.6v5.6h-5.6zM178.3 601.1h5.6v5.6h-5.6zM238.4 601.1h5.6v5.6h-5.6zM263.5 601.1h5.6v5.6h-5.6zM158.3 606.1h5.6v5.6h-5.6zM238.4 606.1h5.6v5.6h-5.6zM218.4 611h5.6v5.6h-5.6zM253.5 611h5.6v5.6h-5.6zM258.5 611h5.6v5.6h-5.6zM263.5 611h5.6v5.6h-5.6zM178.3 616h5.6v5.6h-5.6zM193.4 616h5.6v5.6h-5.6zM248.5 616h5.6v5.6h-5.6zM158.3 621h5.6v5.6h-5.6zM163.3 621h5.6v5.6h-5.6zM253.5 621h5.6v5.6h-5.6zM153.3 626h5.6v5.6h-5.6zM158.3 626h5.6v5.6h-5.6zM223.4 626h5.6v5.6h-5.6zM198.4 631h5.6v5.6h-5.6zM218.4 631h5.6v5.6h-5.6zM238.4 631h5.6v5.6h-5.6zM163.3 635.9h5.6v5.6h-5.6zM158.3 640.9h5.6v5.6h-5.6zM168.3 640.9h5.6v5.6h-5.6zM193.4 640.9h5.6v5.6h-5.6zM218.4 640.9h5.6v5.6h-5.6zM213.4 645.9h5.6v5.6h-5.6zM228.4 645.9h5.6v5.6h-5.6zM173.3 655.8h5.6v5.6h-5.6zM193.4 655.8h5.6v5.6h-5.6z" fill="#cac5d4"/>
<path d="M263.5 581.2h5.6v5.6h-5.6zM153.3 591.1h5.6v5.6h-5.6zM158.3 591.1h5.6v5.6h-5.6zM233.4 591.1h5.6v5.6h-5.6zM163.3 596.1h5.6v5.6h-5.6zM168.3 601.1h5.6v5.6h-5.6zM183.3 601.1h5.6v5.6h-5.6zM253.5 601.1h5.6v5.6h-5.6zM168.3 606.1h5.6v5.6h-5.6zM178.3 606.1h5.6v5.6h-5.6zM248.5 606.1h5.6v5.6h-5.6zM253.5 606.1h5.6v5.6h-5.6zM263.5 606.1h5.6v5.6h-5.6zM153.3 611h5.6v5.6h-5.6zM173.3 611h5.6v5.6h-5.6zM228.4 611h5.6v5.6h-5.6zM153.3 616h5.6v5.6h-5.6zM158.3 616h5.6v5.6h-5.6zM183.3 616h5.6v5.6h-5.6zM218.4 616h5.6v5.6h-5.6zM238.4 616h5.6v5.6h-5.6zM188.4 621h5.6v5.6h-5.6zM233.4 621h5.6v5.6h-5.6zM243.4 621h5.6v5.6h-5.6zM173.3 626h5.6v5.6h-5.6zM178.3 626h5.6v5.6h-5.6zM228.4 626h5.6v5.6h-5.6zM238.4 626h5.6v5.6h-5.6zM173.3 631h5.6v5.6h-5.6zM158.3 635.9h5.6v5.6h-5.6zM183.3 635.9h5.6v5.6h-5.6zM223.4 635.9h5.6v5.6h-5.6zM183.3 640.9h5.6v5.6h-5.6zM198.4 640.9h5.6v5.6h-5.6zM208.4 645.9h5.6v5.6h-5.6zM218.4 645.9h5.6v5.6h-5.6z" fill="#cecadb"/>
<path d="M253.5 576.2h5.6v5.6h-5.6zM258.5 576.2h5.6v5.6h-5.6zM183.3 581.2h5.6v5.6h-5.6zM183.3 586.2h5.6v5.6h-5.6zM228.4 586.2h5.6v5.6h-5.6zM218.4 591.1h5.6v5.6h-5.6zM228.4 591.1h5.6v5.6h-5.6zM183.3 596.1h5.6v5.6h-5.6zM263.5 596.1h5.6v5.6h-5.6zM268.5 601.1h5.6v5.6h-5.6zM188.4 606.1h5.6v5.6h-5.6zM193.4 606.1h5.6v5.6h-5.6zM193.4 611h5.6v5.6h-5.6zM198.4 611h5.6v5.6h-5.6zM208.4 611h5.6v5.6h-5.6zM268.5 611h5.6v5.6h-5.6zM198.4 616h5.6v5.6h-5.6zM213.4 616h5.6v5.6h-5.6zM243.4 616h5.6v5.6h-5.6zM263.5 616h5.6v5.6h-5.6zM213.4 621h5.6v5.6h-5.6zM248.5 621h5.6v5.6h-5.6zM203.4 626h5.6v5.6h-5.6zM208.4 626h5.6v5.6h-5.6zM248.5 626h5.6v5.6h-5.6zM213.4 631h5.6v5.6h-5.6zM248.5 631h5.6v5.6h-5.6zM258.5 631h5.6v5.6h-5.6zM178.3 635.9h5.6v5.6h-5.6zM173.3 640.9h5.6v5.6h-5.6zM203.4 640.9h5.6v5.6h-5.6zM233.4 640.9h5.6v5.6h-5.6zM153.3 645.9h5.6v5.6h-5.6zM168.3 645.9h5.6v5.6h-5.6zM193.4 645.9h5.6v5.6h-5.6zM198.4 645.9h5.6v5.6h-5.6zM233.4 645.9h5.6v5.6h-5.6zM238.4 645.9h5.6v5.6h-5.6zM243.4 645.9h5.6v5.6h-5.6zM178.3 650.9h5.6v5.6h-5.6zM203.4 650.9h5.6v5.6h-5.6zM158.3 655.8h5.6v5.6h-5.6zM188.4 655.8h5.6v5.6h-5.6zM223.4 655.8h5.6v5.6h-5.6zM228.4 655.8h5.6v5.6h-5.6zM153.3 660.8h5.6v5.6h-5.6zM158.3 660.8h5.6v5.6h-5.6zM168.3 660.8h5.6v5.6h-5.6zM208.4 660.8h5.6v5.6h-5.6zM213.4 660.8h5.6v5.6h-5.6zM218.4 660.8h5.6v5.6h-5.6zM223.4 660.8h5.6v5.6h-5.6zM233.4 660.8h5.6v5.6h-5.6zM238.4 660.8h5.6v5.6h-5.6z" fill="#c0b6c1"/>
<path d="M268.5 576.2h5.6v5.6h-5.6zM258.5 581.2h5.6v5.6h-5.6zM238.4 586.2h5.6v5.6h-5.6zM178.3 591.1h5.6v5.6h-5.6zM253.5 591.1h5.6v5.6h-5.6zM268.5 591.1h5.6v5.6h-5.6zM173.3 596.1h5.6v5.6h-5.6zM228.4 596.1h5.6v5.6h-5.6zM233.4 596.1h5.6v5.6h-5.6zM248.5 596.1h5.6v5.6h-5.6zM258.5 596.1h5.6v5.6h-5.6zM268.5 596.1h5.6v5.6h-5.6zM173.3 601.1h5.6v5.6h-5.6zM233.4 601.1h5.6v5.6h-5.6zM248.5 601.1h5.6v5.6h-5.6zM173.3 606.1h5.6v5.6h-5.6zM183.3 606.1h5.6v5.6h-5.6zM268.5 606.1h5.6v5.6h-5.6zM163.3 611h5.6v5.6h-5.6zM188.4 611h5.6v5.6h-5.6zM233.4 611h5.6v5.6h-5.6zM223.4 616h5.6v5.6h-5.6zM153.3 621h5.6v5.6h-5.6zM173.3 621h5.6v5.6h-5.6zM218.4 621h5.6v5.6h-5.6zM223.4 621h5.6v5.6h-5.6zM218.4 626h5.6v5.6h-5.6zM253.5 626h5.6v5.6h-5.6zM153.3 631h5.6v5.6h-5.6zM158.3 631h5.6v5.6h-5.6zM178.3 631h5.6v5.6h-5.6zM188.4 631h5.6v5.6h-5.6zM233.4 631h5.6v5.6h-5.6zM168.3 635.9h5.6v5.6h-5.6zM193.4 635.9h5.6v5.6h-5.6zM208.4 635.9h5.6v5.6h-5.6zM238.4 635.9h5.6v5.6h-5.6zM163.3 645.9h5.6v5.6h-5.6zM183.3 645.9h5.6v5.6h-5.6zM158.3 650.9h5.6v5.6h-5.6zM183.3 650.9h5.6v5.6h-5.6zM198.4 650.9h5.6v5.6h-5.6zM218.4 650.9h5.6v5.6h-5.6zM178.3 655.8h5.6v5.6h-5.6zM198.4 655.8h5.6v5.6h-5.6zM178.3 660.8h5.6v5.6h-5.6z" fill="#c2bcca"/>
<path d="M163.3 576.2h5.6v5.6h-5.6zM168.3 576.2h5.6v5.6h-5.6zM208.4 576.2h5.6v5.6h-5.6zM213.4 576.2h5.6v5.6h-5.6zM218.4 576.2h5.6v5.6h-5.6zM208.4 581.2h5.6v5.6h-5.6zM198.4 591.1h5.6v5.6h-5.6zM203.4 596.1h5.6v5.6h-5.6zM263.5 626h5.6v5.6h-5.6zM268.5 631h5.6v5.6h-5.6zM263.5 635.9h5.6v5.6h-5.6zM263.5 640.9h5.6v5.6h-5.6zM248.5 645.9h5.6v5.6h-5.6zM253.5 645.9h5.6v5.6h-5.6zM263.5 645.9h5.6v5.6h-5.6zM268.5 650.9h5.6v5.6h-5.6zM253.5 655.8h5.6v5.6h-5.6zM268.5 655.8h5.6v5.6h-5.6z" fill="#bba8a4"/>
<path d="M238.4 581.2h5.6v5.6h-5.6zM268.5 581.2h5.6v5.6h-5.6zM178.3 586.2h5.6v5.6h-5.6zM233.4 586.2h5.6v5.6h-5.6zM268.5 586.2h5.6v5.6h-5.6zM188.4 591.1h5.6v5.6h-5.6zM213.4 591.1h5.6v5.6h-5.6zM223.4 591.1h5.6v5.6h-5.6zM188.4 601.1h5.6v5.6h-5.6zM193.4 601.1h5.6v5.6h-5.6zM223.4 601.1h5.6v5.6h-5.6zM203.4 616h5.6v5.6h-5.6zM203.4 621h5.6v5.6h-5.6zM258.5 621h5.6v5.6h-5.6zM198.4 626h5.6v5.6h-5.6zM258.5 626h5.6v5.6h-5.6zM193.4 631h5.6v5.6h-5.6zM243.4 631h5.6v5.6h-5.6zM253.5 631h5.6v5.6h-5.6zM213.4 635.9h5.6v5.6h-5.6zM243.4 635.9h5.6v5.6h-5.6zM213.4 640.9h5.6v5.6h-5.6zM238.4 640.9h5.6v5.6h-5.6zM153.3 650.9h5.6v5.6h-5.6zM168.3 650.9h5.6v5.6h-5.6zM173.3 650.9h5.6v5.6h-5.6zM238.4 650.9h5.6v5.6h-5.6zM153.3 655.8h5.6v5.6h-5.6zM168.3 655.8h5.6v5.6h-5.6zM208.4 655.8h5.6v5.6h-5.6zM213.4 655.8h5.6v5.6h-5.6zM203.4 660.8h5.6v5.6h-5.6z" fill="#d0c8d4"/>
<path d="M263.5 576.2h5.6v5.6h-5.6zM153.3 586.2h5.6v5.6h-5.6zM163.3 586.2h5.6v5.6h-5.6zM248.5 586.2h5.6v5.6h-5.6zM258.5 586.2h5.6v5.6h-5.6zM173.3 591.1h5.6v5.6h-5.6zM238.4 591.1h5.6v5.6h-5.6zM243.4 591.1h5.6v5.6h-5.6zM178.3 596.1h5.6v5.6h-5.6zM163.3 601.1h5.6v5.6h-5.6zM228.4 601.1h5.6v5.6h-5.6zM258.5 601.1h5.6v5.6h-5.6zM213.4 606.1h5.6v5.6h-5.6zM233.4 606.1h5.6v5.6h-5.6zM243.4 606.1h5.6v5.6h-5.6zM168.3 611h5.6v5.6h-5.6zM178.3 611h5.6v5.6h-5.6zM213.4 611h5.6v5.6h-5.6zM223.4 611h5.6v5.6h-5.6zM163.3 616h5.6v5.6h-5.6zM168.3 616h5.6v5.6h-5.6zM228.4 616h5.6v5.6h-5.6zM253.5 616h5.6v5.6h-5.6zM258.5 616h5.6v5.6h-5.6zM183.3 621h5.6v5.6h-5.6zM193.4 621h5.6v5.6h-5.6zM168.3 626h5.6v5.6h-5.6zM213.4 626h5.6v5.6h-5.6zM183.3 631h5.6v5.6h-5.6zM208.4 631h5.6v5.6h-5.6zM173.3 635.9h5.6v5.6h-5.6zM198.4 635.9h5.6v5.6h-5.6zM203.4 635.9h5.6v5.6h-5.6zM228.4 635.9h5.6v5.6h-5.6zM248.5 635.9h5.6v5.6h-5.6zM153.3 640.9h5.6v5.6h-5.6zM178.3 640.9h5.6v5.6h-5.6zM158.3 645.9h5.6v5.6h-5.6zM173.3 645.9h5.6v5.6h-5.6zM178.3 645.9h5.6v5.6h-5.6zM203.4 645.9h5.6v5.6h-5.6zM223.4 645.9h5.6v5.6h-5.6zM163.3 650.9h5.6v5.6h-5.6zM188.4 650.9h5.6v5.6h-5.6zM193.4 650.9h5.6v5.6h-5.6zM208.4 650.9h5.6v5.6h-5.6zM223.4 650.9h5.6v5.6h-5.6zM163.3 655.8h5.6v5.6h-5.6zM203.4 655.8h5.6v5.6h-5.6zM218.4 655.8h5.6v5.6h-5.6zM193.4 660.8h5.6v5.6h-5.6zM198.4 660.8h5.6v5.6h-5.6z" fill="#c7c1cf"/>
<path d="M188.4 576.2h5.6v5.6h-5.6zM198.4 576.2h5.6v5.6h-5.6zM203.4 576.2h5.6v5.6h-5.6zM223.4 576.2h5.6v5.6h-5.6zM173.3 581.2h5.6v5.6h-5.6zM178.3 581.2h5.6v5.6h-5.6zM188.4 581.2h5.6v5.6h-5.6zM203.4 581.2h5.6v5.6h-5.6zM218.4 581.2h5.6v5.6h-5.6zM198.4 586.2h5.6v5.6h-5.6zM203.4 586.2h5.6v5.6h-5.6zM218.4 586.2h5.6v5.6h-5.6zM223.4 586.2h5.6v5.6h-5.6zM193.4 596.1h5.6v5.6h-5.6zM213.4 596.1h5.6v5.6h-5.6zM198.4 606.1h5.6v5.6h-5.6zM203.4 606.1h5.6v5.6h-5.6zM203.4 611h5.6v5.6h-5.6zM268.5 621h5.6v5.6h-5.6zM268.5 626h5.6v5.6h-5.6zM268.5 635.9h5.6v5.6h-5.6zM248.5 640.9h5.6v5.6h-5.6zM258.5 640.9h5.6v5.6h-5.6zM268.5 645.9h5.6v5.6h-5.6zM243.4 650.9h5.6v5.6h-5.6zM253.5 650.9h5.6v5.6h-5.6zM258.5 650.9h5.6v5.6h-5.6zM238.4 655.8h5.6v5.6h-5.6zM243.4 655.8h5.6v5.6h-5.6zM263.5 655.8h5.6v5.6h-5.6zM248.5 660.8h5.6v5.6h-5.6zM263.5 660.8h5.6v5.6h-5.6z" fill="#c2b3b4"/>
</g>
<rect x="153.6" y="576.5" width="120.2" height="89.6" filter="url(#tx2)"/>
</g>
<g clip-path="url(#ci3)">
<g filter="url(#ib)">
<path d="M30.1 668.8h5.6v5.6h-5.6zM35.1 668.8h5.6v5.6h-5.6zM30.1 673.8h5.6v5.6h-5.6zM40.1 673.8h5.6v5.6h-5.6zM30.1 678.9h5.6v5.6h-5.6zM35.1 678.9h5.6v5.6h-5.6zM40.1 678.9h5.6v5.6h-5.6zM45.1 678.9h5.6v5.6h-5.6zM35.1 683.9h5.6v5.6h-5.6zM40.1 683.9h5.6v5.6h-5.6zM135.1 683.9h5.6v5.6h-5.6zM145.1 683.9h5.6v5.6h-5.6zM35.1 734.3h5.6v5.6h-5.6zM30.1 739.3h5.6v5.6h-5.6zM35.1 739.3h5.6v5.6h-5.6zM30.1 744.4h5.6v5.6h-5.6zM30.1 749.4h5.6v5.6h-5.6zM35.1 749.4h5.6v5.6h-5.6zM45.1 749.4h5.6v5.6h-5.6zM50.1 749.4h5.6v5.6h-5.6zM30.1 754.5h5.6v5.6h-5.6zM35.1 754.5h5.6v5.6h-5.6zM45.1 754.5h5.6v5.6h-5.6zM60.1 754.5h5.6v5.6h-5.6z" fill="#cabcbc"/>
<path d="M90.1 668.8h5.6v5.6h-5.6zM110.1 668.8h5.6v5.6h-5.6zM75.1 673.8h5.6v5.6h-5.6zM85.1 673.8h5.6v5.6h-5.6zM90.1 673.8h5.6v5.6h-5.6zM70.1 678.9h5.6v5.6h-5.6zM75.1 678.9h5.6v5.6h-5.6zM80.1 678.9h5.6v5.6h-5.6zM90.1 678.9h5.6v5.6h-5.6zM105.1 678.9h5.6v5.6h-5.6zM70.1 683.9h5.6v5.6h-5.6zM75.1 683.9h5.6v5.6h-5.6zM100.1 683.9h5.6v5.6h-5.6zM60.1 689h5.6v5.6h-5.6zM70.1 689h5.6v5.6h-5.6zM85.1 689h5.6v5.6h-5.6zM105.1 689h5.6v5.6h-5.6zM110.1 689h5.6v5.6h-5.6zM75.1 694h5.6v5.6h-5.6zM60.1 699h5.6v5.6h-5.6zM80.1 699h5.6v5.6h-5.6zM90.1 699h5.6v5.6h-5.6zM105.1 699h5.6v5.6h-5.6zM45.1 704.1h5.6v5.6h-5.6zM50.1 704.1h5.6v5.6h-5.6zM70.1 704.1h5.6v5.6h-5.6zM80.1 709.1h5.6v5.6h-5.6zM90.1 709.1h5.6v5.6h-5.6zM95.1 709.1h5.6v5.6h-5.6zM55.1 714.2h5.6v5.6h-5.6zM65.1 714.2h5.6v5.6h-5.6zM85.1 714.2h5.6v5.6h-5.6zM95.1 714.2h5.6v5.6h-5.6zM100.1 714.2h5.6v5.6h-5.6zM105.1 714.2h5.6v5.6h-5.6zM70.1 719.2h5.6v5.6h-5.6zM75.1 719.2h5.6v5.6h-5.6zM60.1 724.2h5.6v5.6h-5.6zM115.1 724.2h5.6v5.6h-5.6zM60.1 729.3h5.6v5.6h-5.6zM65.1 729.3h5.6v5.6h-5.6zM70.1 729.3h5.6v5.6h-5.6zM110.1 729.3h5.6v5.6h-5.6zM70.1 734.3h5.6v5.6h-5.6zM95.1 734.3h5.6v5.6h-5.6zM115.1 734.3h5.6v5.6h-5.6zM70.1 739.3h5.6v5.6h-5.6zM110.1 739.3h5.6v5.6h-5.6zM75.1 744.4h5.6v5.6h-5.6zM85.1 744.4h5.6v5.6h-5.6zM80.1 749.4h5.6v5.6h-5.6zM125.1 754.5h5.6v5.6h-5.6z" fill="#bf9563"/>
<path d="M125.1 668.8h5.6v5.6h-5.6zM130.1 668.8h5.6v5.6h-5.6zM140.1 668.8h5.6v5.6h-5.6zM55.1 673.8h5.6v5.6h-5.6zM130.1 673.8h5.6v5.6h-5.6zM120.1 678.9h5.6v5.6h-5.6zM120.1 683.9h5.6v5.6h-5.6zM55.1 689h5.6v5.6h-5.6zM50.1 694h5.6v5.6h-5.6zM40.1 699h5.6v5.6h-5.6zM120.1 704.1h5.6v5.6h-5.6zM30.1 709.1h5.6v5.6h-5.6zM35.1 709.1h5.6v5.6h-5.6zM125.1 709.1h5.6v5.6h-5.6zM140.1 709.1h5.6v5.6h-5.6zM35.1 714.2h5.6v5.6h-5.6zM125.1 714.2h5.6v5.6h-5.6zM140.1 719.2h5.6v5.6h-5.6zM135.1 724.2h5.6v5.6h-5.6zM140.1 724.2h5.6v5.6h-5.6zM130.1 729.3h5.6v5.6h-5.6zM145.1 729.3h5.6v5.6h-5.6zM60.1 739.3h5.6v5.6h-5.6zM60.1 744.4h5.6v5.6h-5.6zM65.1 744.4h5.6v5.6h-5.6zM145.1 744.4h5.6v5.6h-5.6zM75.1 754.5h5.6v5.6h-5.6zM130.1 754.5h5.6v5.6h-5.6z" fill="#c3a180"/>
<path d="M40.1 668.8h5.6v5.6h-5.6zM45.1 668.8h5.6v5.6h-5.6zM35.1 673.8h5.6v5.6h-5.6zM45.1 673.8h5.6v5.6h-5.6zM50.1 678.9h5.6v5.6h-5.6zM135.1 678.9h5.6v5.6h-5.6zM30.1 683.9h5.6v5.6h-5.6zM45.1 683.9h5.6v5.6h-5.6zM50.1 683.9h5.6v5.6h-5.6zM140.1 683.9h5.6v5.6h-5.6zM30.1 689h5.6v5.6h-5.6zM40.1 689h5.6v5.6h-5.6zM45.1 689h5.6v5.6h-5.6zM135.1 689h5.6v5.6h-5.6zM140.1 689h5.6v5.6h-5.6zM130.1 694h5.6v5.6h-5.6zM140.1 694h5.6v5.6h-5.6zM145.1 694h5.6v5.6h-5.6zM140.1 699h5.6v5.6h-5.6zM145.1 699h5.6v5.6h-5.6zM30.1 729.3h5.6v5.6h-5.6zM35.1 729.3h5.6v5.6h-5.6zM30.1 734.3h5.6v5.6h-5.6zM40.1 734.3h5.6v5.6h-5.6zM40.1 739.3h5.6v5.6h-5.6zM35.1 744.4h5.6v5.6h-5.6zM40.1 744.4h5.6v5.6h-5.6zM45.1 744.4h5.6v5.6h-5.6zM40.1 749.4h5.6v5.6h-5.6zM55.1 749.4h5.6v5.6h-5.6zM40.1 754.5h5.6v5.6h-5.6zM50.1 754.5h5.6v5.6h-5.6zM55.1 754.5h5.6v5.6h-5.6z" fill="#c3aea5"/>
<path d="M100.1 668.8h5.6v5.6h-5.6zM110.1 678.9h5.6v5.6h-5.6zM110.1 683.9h5.6v5.6h-5.6zM65.1 689h5.6v5.6h-5.6zM70.1 694h5.6v5.6h-5.6zM90.1 694h5.6v5.6h-5.6zM100.1 694h5.6v5.6h-5.6zM110.1 694h5.6v5.6h-5.6zM50.1 699h5.6v5.6h-5.6zM55.1 699h5.6v5.6h-5.6zM45.1 709.1h5.6v5.6h-5.6zM45.1 714.2h5.6v5.6h-5.6zM105.1 719.2h5.6v5.6h-5.6zM110.1 719.2h5.6v5.6h-5.6zM115.1 719.2h5.6v5.6h-5.6zM55.1 724.2h5.6v5.6h-5.6zM65.1 724.2h5.6v5.6h-5.6zM110.1 724.2h5.6v5.6h-5.6zM110.1 734.3h5.6v5.6h-5.6zM130.1 734.3h5.6v5.6h-5.6zM65.1 739.3h5.6v5.6h-5.6zM125.1 744.4h5.6v5.6h-5.6zM105.1 749.4h5.6v5.6h-5.6zM110.1 749.4h5.6v5.6h-5.6zM80.1 754.5h5.6v5.6h-5.6zM85.1 754.5h5.6v5.6h-5.6zM90.1 754.5h5.6v5.6h-5.6z" fill="#b78d5e"/>
<path d="M135.1 673.8h5.6v5.6h-5.6zM140.1 673.8h5.6v5.6h-5.6zM130.1 678.9h5.6v5.6h-5.6zM125.1 683.9h5.6v5.6h-5.6zM130.1 683.9h5.6v5.6h-5.6zM130.1 689h5.6v5.6h-5.6zM35.1 694h5.6v5.6h-5.6zM45.1 694h5.6v5.6h-5.6zM125.1 694h5.6v5.6h-5.6zM135.1 694h5.6v5.6h-5.6zM135.1 699h5.6v5.6h-5.6zM130.1 704.1h5.6v5.6h-5.6zM145.1 704.1h5.6v5.6h-5.6zM145.1 709.1h5.6v5.6h-5.6zM145.1 714.2h5.6v5.6h-5.6zM40.1 729.3h5.6v5.6h-5.6zM55.1 744.4h5.6v5.6h-5.6zM70.1 754.5h5.6v5.6h-5.6z" fill="#b99c86"/>
<path d="M75.1 668.8h5.6v5.6h-5.6zM105.1 668.8h5.6v5.6h-5.6zM95.1 673.8h5.6v5.6h-5.6zM100.1 673.8h5.6v5.6h-5.6zM65.1 678.9h5.6v5.6h-5.6zM95.1 678.9h5.6v5.6h-5.6zM95.1 683.9h5.6v5.6h-5.6zM90.1 689h5.6v5.6h-5.6zM60.1 694h5.6v5.6h-5.6zM80.1 694h5.6v5.6h-5.6zM70.1 699h5.6v5.6h-5.6zM75.1 699h5.6v5.6h-5.6zM95.1 699h5.6v5.6h-5.6zM65.1 704.1h5.6v5.6h-5.6zM75.1 704.1h5.6v5.6h-5.6zM80.1 704.1h5.6v5.6h-5.6zM105.1 704.1h5.6v5.6h-5.6zM60.1 709.1h5.6v5.6h-5.6zM75.1 709.1h5.6v5.6h-5.6zM70.1 714.2h5.6v5.6h-5.6zM75.1 714.2h5.6v5.6h-5.6zM90.1 714.2h5.6v5.6h-5.6zM115.1 714.2h5.6v5.6h-5.6zM45.1 719.2h5.6v5.6h-5.6zM50.1 719.2h5.6v5.6h-5.6zM55.1 719.2h5.6v5.6h-5.6zM60.1 719.2h5.6v5.6h-5.6zM90.1 719.2h5.6v5.6h-5.6zM95.1 719.2h5.6v5.6h-5.6zM75.1 724.2h5.6v5.6h-5.6zM90.1 724.2h5.6v5.6h-5.6zM105.1 724.2h5.6v5.6h-5.6zM105.1 729.3h5.6v5.6h-5.6zM115.1 729.3h5.6v5.6h-5.6zM65.1 734.3h5.6v5.6h-5.6zM105.1 734.3h5.6v5.6h-5.6zM95.1 739.3h5.6v5.6h-5.6zM100.1 739.3h5.6v5.6h-5.6zM115.1 739.3h5.6v5.6h-5.6zM120.1 739.3h5.6v5.6h-5.6zM120.1 744.4h5.6v5.6h-5.6zM105.1 754.5h5.6v5.6h-5.6z" fill="#af834f"/>
<path d="M65.1 668.8h5.6v5.6h-5.6zM80.1 668.8h5.6v5.6h-5.6zM115.1 668.8h5.6v5.6h-5.6zM120.1 668.8h5.6v5.6h-5.6zM60.1 673.8h5.6v5.6h-5.6zM65.1 673.8h5.6v5.6h-5.6zM110.1 673.8h5.6v5.6h-5.6zM60.1 678.9h5.6v5.6h-5.6zM100.1 678.9h5.6v5.6h-5.6zM60.1 683.9h5.6v5.6h-5.6zM85.1 683.9h5.6v5.6h-5.6zM100.1 689h5.6v5.6h-5.6zM55.1 694h5.6v5.6h-5.6zM115.1 694h5.6v5.6h-5.6zM110.1 699h5.6v5.6h-5.6zM40.1 704.1h5.6v5.6h-5.6zM100.1 704.1h5.6v5.6h-5.6zM115.1 704.1h5.6v5.6h-5.6zM40.1 709.1h5.6v5.6h-5.6zM100.1 709.1h5.6v5.6h-5.6zM105.1 709.1h5.6v5.6h-5.6zM110.1 709.1h5.6v5.6h-5.6zM40.1 714.2h5.6v5.6h-5.6zM110.1 714.2h5.6v5.6h-5.6zM120.1 714.2h5.6v5.6h-5.6zM40.1 719.2h5.6v5.6h-5.6zM45.1 724.2h5.6v5.6h-5.6zM50.1 724.2h5.6v5.6h-5.6zM55.1 729.3h5.6v5.6h-5.6zM60.1 734.3h5.6v5.6h-5.6zM135.1 734.3h5.6v5.6h-5.6zM125.1 739.3h5.6v5.6h-5.6zM130.1 739.3h5.6v5.6h-5.6zM135.1 744.4h5.6v5.6h-5.6zM85.1 749.4h5.6v5.6h-5.6zM115.1 749.4h5.6v5.6h-5.6zM120.1 749.4h5.6v5.6h-5.6z" fill="#c0996d"/>
<path d="M145.1 668.8h5.6v5.6h-5.6zM120.1 673.8h5.6v5.6h-5.6zM125.1 673.8h5.6v5.6h-5.6zM55.1 683.9h5.6v5.6h-5.6zM115.1 683.9h5.6v5.6h-5.6zM120.1 689h5.6v5.6h-5.6zM120.1 694h5.6v5.6h-5.6zM30.1 699h5.6v5.6h-5.6zM35.1 699h5.6v5.6h-5.6zM125.1 699h5.6v5.6h-5.6zM130.1 709.1h5.6v5.6h-5.6zM135.1 709.1h5.6v5.6h-5.6zM30.1 714.2h5.6v5.6h-5.6zM135.1 714.2h5.6v5.6h-5.6zM140.1 714.2h5.6v5.6h-5.6zM30.1 719.2h5.6v5.6h-5.6zM35.1 719.2h5.6v5.6h-5.6zM135.1 719.2h5.6v5.6h-5.6zM145.1 719.2h5.6v5.6h-5.6zM30.1 724.2h5.6v5.6h-5.6zM35.1 724.2h5.6v5.6h-5.6zM40.1 724.2h5.6v5.6h-5.6zM145.1 724.2h5.6v5.6h-5.6zM45.1 729.3h5.6v5.6h-5.6zM55.1 734.3h5.6v5.6h-5.6zM140.1 734.3h5.6v5.6h-5.6zM145.1 734.3h5.6v5.6h-5.6zM50.1 739.3h5.6v5.6h-5.6zM55.1 739.3h5.6v5.6h-5.6zM145.1 739.3h5.6v5.6h-5.6zM145.1 749.4h5.6v5.6h-5.6zM140.1 754.5h5.6v5.6h-5.6z" fill="#b99675"/>
<path d="M85.1 668.8h5.6v5.6h-5.6zM95.1 668.8h5.6v5.6h-5.6zM70.1 673.8h5.6v5.6h-5.6zM80.1 673.8h5.6v5.6h-5.6zM85.1 678.9h5.6v5.6h-5.6zM80.1 683.9h5.6v5.6h-5.6zM75.1 689h5.6v5.6h-5.6zM80.1 689h5.6v5.6h-5.6zM85.1 694h5.6v5.6h-5.6zM85.1 699h5.6v5.6h-5.6zM85.1 704.1h5.6v5.6h-5.6zM90.1 704.1h5.6v5.6h-5.6zM95.1 704.1h5.6v5.6h-5.6zM70.1 709.1h5.6v5.6h-5.6zM60.1 714.2h5.6v5.6h-5.6zM80.1 714.2h5.6v5.6h-5.6zM85.1 719.2h5.6v5.6h-5.6zM100.1 719.2h5.6v5.6h-5.6zM70.1 724.2h5.6v5.6h-5.6zM80.1 724.2h5.6v5.6h-5.6zM85.1 724.2h5.6v5.6h-5.6zM95.1 724.2h5.6v5.6h-5.6zM100.1 724.2h5.6v5.6h-5.6zM75.1 729.3h5.6v5.6h-5.6zM80.1 729.3h5.6v5.6h-5.6zM85.1 729.3h5.6v5.6h-5.6zM95.1 729.3h5.6v5.6h-5.6zM75.1 734.3h5.6v5.6h-5.6zM80.1 734.3h5.6v5.6h-5.6zM90.1 734.3h5.6v5.6h-5.6zM80.1 739.3h5.6v5.6h-5.6zM85.1 739.3h5.6v5.6h-5.6zM90.1 739.3h5.6v5.6h-5.6zM105.1 739.3h5.6v5.6h-5.6zM90.1 744.4h5.6v5.6h-5.6zM110.1 744.4h5.6v5.6h-5.6zM90.1 749.4h5.6v5.6h-5.6zM95.1 754.5h5.6v5.6h-5.6zM110.1 754.5h5.6v5.6h-5.6zM115.1 754.5h5.6v5.6h-5.6z" fill="#b78b55"/>
<path d="M60.1 668.8h5.6v5.6h-5.6zM70.1 668.8h5.6v5.6h-5.6zM105.1 673.8h5.6v5.6h-5.6zM115.1 678.9h5.6v5.6h-5.6zM65.1 683.9h5.6v5.6h-5.6zM90.1 683.9h5.6v5.6h-5.6zM105.1 683.9h5.6v5.6h-5.6zM95.1 689h5.6v5.6h-5.6zM115.1 689h5.6v5.6h-5.6zM95.1 694h5.6v5.6h-5.6zM105.1 694h5.6v5.6h-5.6zM100.1 699h5.6v5.6h-5.6zM55.1 704.1h5.6v5.6h-5.6zM50.1 709.1h5.6v5.6h-5.6zM55.1 709.1h5.6v5.6h-5.6zM120.1 709.1h5.6v5.6h-5.6zM50.1 714.2h5.6v5.6h-5.6zM120.1 719.2h5.6v5.6h-5.6zM120.1 724.2h5.6v5.6h-5.6zM120.1 729.3h5.6v5.6h-5.6zM125.1 729.3h5.6v5.6h-5.6zM120.1 734.3h5.6v5.6h-5.6zM125.1 734.3h5.6v5.6h-5.6zM80.1 744.4h5.6v5.6h-5.6zM115.1 744.4h5.6v5.6h-5.6zM125.1 749.4h5.6v5.6h-5.6zM120.1 754.5h5.6v5.6h-5.6z" fill="#b18758"/>
<path d="M50.1 668.8h5.6v5.6h-5.6zM50.1 673.8h5.6v5.6h-5.6zM145.1 673.8h5.6v5.6h-5.6zM55.1 678.9h5.6v5.6h-5.6zM125.1 678.9h5.6v5.6h-5.6zM140.1 678.9h5.6v5.6h-5.6zM145.1 678.9h5.6v5.6h-5.6zM35.1 689h5.6v5.6h-5.6zM50.1 689h5.6v5.6h-5.6zM125.1 689h5.6v5.6h-5.6zM145.1 689h5.6v5.6h-5.6zM30.1 694h5.6v5.6h-5.6zM40.1 694h5.6v5.6h-5.6zM130.1 699h5.6v5.6h-5.6zM125.1 704.1h5.6v5.6h-5.6zM135.1 704.1h5.6v5.6h-5.6zM140.1 704.1h5.6v5.6h-5.6zM45.1 734.3h5.6v5.6h-5.6zM50.1 734.3h5.6v5.6h-5.6zM45.1 739.3h5.6v5.6h-5.6zM50.1 744.4h5.6v5.6h-5.6zM60.1 749.4h5.6v5.6h-5.6zM65.1 749.4h5.6v5.6h-5.6zM70.1 749.4h5.6v5.6h-5.6zM65.1 754.5h5.6v5.6h-5.6z" fill="#c3a893"/>
<path d="M65.1 694h5.6v5.6h-5.6zM65.1 699h5.6v5.6h-5.6zM60.1 704.1h5.6v5.6h-5.6zM110.1 704.1h5.6v5.6h-5.6zM65.1 709.1h5.6v5.6h-5.6zM85.1 709.1h5.6v5.6h-5.6zM65.1 719.2h5.6v5.6h-5.6zM80.1 719.2h5.6v5.6h-5.6zM90.1 729.3h5.6v5.6h-5.6zM100.1 729.3h5.6v5.6h-5.6zM85.1 734.3h5.6v5.6h-5.6zM100.1 734.3h5.6v5.6h-5.6zM75.1 739.3h5.6v5.6h-5.6zM95.1 744.4h5.6v5.6h-5.6zM100.1 744.4h5.6v5.6h-5.6zM105.1 744.4h5.6v5.6h-5.6zM95.1 749.4h5.6v5.6h-5.6zM100.1 749.4h5.6v5.6h-5.6zM100.1 754.5h5.6v5.6h-5.6z" fill="#ab7d47"/>
<path d="M55.1 668.8h5.6v5.6h-5.6zM135.1 668.8h5.6v5.6h-5.6zM115.1 673.8h5.6v5.6h-5.6zM45.1 699h5.6v5.6h-5.6zM115.1 699h5.6v5.6h-5.6zM120.1 699h5.6v5.6h-5.6zM30.1 704.1h5.6v5.6h-5.6zM35.1 704.1h5.6v5.6h-5.6zM115.1 709.1h5.6v5.6h-5.6zM130.1 714.2h5.6v5.6h-5.6zM125.1 719.2h5.6v5.6h-5.6zM130.1 719.2h5.6v5.6h-5.6zM125.1 724.2h5.6v5.6h-5.6zM130.1 724.2h5.6v5.6h-5.6zM50.1 729.3h5.6v5.6h-5.6zM135.1 729.3h5.6v5.6h-5.6zM140.1 729.3h5.6v5.6h-5.6zM135.1 739.3h5.6v5.6h-5.6zM140.1 739.3h5.6v5.6h-5.6zM70.1 744.4h5.6v5.6h-5.6zM130.1 744.4h5.6v5.6h-5.6zM140.1 744.4h5.6v5.6h-5.6zM75.1 749.4h5.6v5.6h-5.6zM130.1 749.4h5.6v5.6h-5.6zM135.1 749.4h5.6v5.6h-5.6zM140.1 749.4h5.6v5.6h-5.6zM135.1 754.5h5.6v5.6h-5.6zM145.1 754.5h5.6v5.6h-5.6z" fill="#b48e67"/>
</g>
<rect x="30.4" y="669.1" width="120" height="90.7" filter="url(#tx3)"/>
</g>
<g clip-path="url(#ci4)">
<g filter="url(#ib)">
<path d="M153.3 668.8h5.6v5.7h-5.6zM163.3 668.8h5.6v5.7h-5.6zM198.4 668.8h5.6v5.7h-5.6zM208.4 668.8h5.6v5.7h-5.6zM248.5 668.8h5.6v5.7h-5.6zM253.5 668.8h5.6v5.7h-5.6zM178.3 673.9h5.6v5.7h-5.6zM188.4 673.9h5.6v5.7h-5.6zM208.4 673.9h5.6v5.7h-5.6zM253.5 673.9h5.6v5.7h-5.6zM258.5 673.9h5.6v5.7h-5.6zM163.3 678.9h5.6v5.7h-5.6zM208.4 678.9h5.6v5.7h-5.6zM213.4 678.9h5.6v5.7h-5.6zM223.4 678.9h5.6v5.7h-5.6zM263.5 678.9h5.6v5.7h-5.6zM268.5 678.9h5.6v5.7h-5.6zM153.3 684h5.6v5.7h-5.6zM263.5 684h5.6v5.7h-5.6zM208.4 689h5.6v5.7h-5.6zM218.4 689h5.6v5.7h-5.6zM253.5 754.7h5.6v5.7h-5.6z" fill="#aca3b4"/>
<path d="M188.4 668.8h5.6v5.7h-5.6zM193.4 668.8h5.6v5.7h-5.6zM228.4 668.8h5.6v5.7h-5.6zM233.4 668.8h5.6v5.7h-5.6zM238.4 668.8h5.6v5.7h-5.6zM243.4 668.8h5.6v5.7h-5.6zM153.3 673.9h5.6v5.7h-5.6zM198.4 673.9h5.6v5.7h-5.6zM213.4 673.9h5.6v5.7h-5.6zM223.4 673.9h5.6v5.7h-5.6zM228.4 673.9h5.6v5.7h-5.6zM263.5 673.9h5.6v5.7h-5.6zM253.5 678.9h5.6v5.7h-5.6zM173.3 684h5.6v5.7h-5.6zM208.4 684h5.6v5.7h-5.6zM218.4 684h5.6v5.7h-5.6zM228.4 684h5.6v5.7h-5.6zM163.3 689h5.6v5.7h-5.6zM253.5 689h5.6v5.7h-5.6zM263.5 694.1h5.6v5.7h-5.6zM193.4 699.1h5.6v5.7h-5.6zM203.4 699.1h5.6v5.7h-5.6zM203.4 709.2h5.6v5.7h-5.6z" fill="#bbb4c8"/>
<path d="M158.3 668.8h5.6v5.7h-5.6zM168.3 668.8h5.6v5.7h-5.6zM173.3 668.8h5.6v5.7h-5.6zM213.4 668.8h5.6v5.7h-5.6zM218.4 668.8h5.6v5.7h-5.6zM223.4 668.8h5.6v5.7h-5.6zM158.3 673.9h5.6v5.7h-5.6zM268.5 673.9h5.6v5.7h-5.6zM153.3 678.9h5.6v5.7h-5.6zM163.3 684h5.6v5.7h-5.6zM268.5 684h5.6v5.7h-5.6zM223.4 689h5.6v5.7h-5.6zM233.4 744.6h5.6v5.7h-5.6zM238.4 744.6h5.6v5.7h-5.6zM228.4 754.7h5.6v5.7h-5.6z" fill="#a79dad"/>
<path d="M178.3 668.8h5.6v5.7h-5.6zM203.4 668.8h5.6v5.7h-5.6zM258.5 668.8h5.6v5.7h-5.6zM163.3 673.9h5.6v5.7h-5.6zM168.3 673.9h5.6v5.7h-5.6zM173.3 673.9h5.6v5.7h-5.6zM183.3 673.9h5.6v5.7h-5.6zM203.4 673.9h5.6v5.7h-5.6zM218.4 673.9h5.6v5.7h-5.6zM233.4 673.9h5.6v5.7h-5.6zM238.4 673.9h5.6v5.7h-5.6zM248.5 673.9h5.6v5.7h-5.6zM168.3 678.9h5.6v5.7h-5.6zM173.3 678.9h5.6v5.7h-5.6zM193.4 678.9h5.6v5.7h-5.6zM228.4 678.9h5.6v5.7h-5.6zM158.3 684h5.6v5.7h-5.6zM213.4 684h5.6v5.7h-5.6zM243.4 684h5.6v5.7h-5.6zM228.4 689h5.6v5.7h-5.6zM268.5 689h5.6v5.7h-5.6zM238.4 749.7h5.6v5.7h-5.6zM233.4 754.7h5.6v5.7h-5.6zM238.4 754.7h5.6v5.7h-5.6zM243.4 754.7h5.6v5.7h-5.6zM248.5 754.7h5.6v5.7h-5.6zM258.5 754.7h5.6v5.7h-5.6z" fill="#b3aabc"/>
<path d="M188.4 678.9h5.6v5.7h-5.6zM198.4 678.9h5.6v5.7h-5.6zM248.5 678.9h5.6v5.7h-5.6zM233.4 684h5.6v5.7h-5.6zM238.4 684h5.6v5.7h-5.6zM158.3 689h5.6v5.7h-5.6zM178.3 689h5.6v5.7h-5.6zM193.4 689h5.6v5.7h-5.6zM233.4 689h5.6v5.7h-5.6zM243.4 689h5.6v5.7h-5.6zM173.3 694.1h5.6v5.7h-5.6zM198.4 694.1h5.6v5.7h-5.6zM203.4 694.1h5.6v5.7h-5.6zM208.4 694.1h5.6v5.7h-5.6zM213.4 694.1h5.6v5.7h-5.6zM223.4 694.1h5.6v5.7h-5.6zM193.4 704.2h5.6v5.7h-5.6zM193.4 709.2h5.6v5.7h-5.6zM198.4 714.3h5.6v5.7h-5.6zM183.3 719.4h5.6v5.7h-5.6zM188.4 724.4h5.6v5.7h-5.6zM253.5 744.6h5.6v5.7h-5.6zM213.4 754.7h5.6v5.7h-5.6z" fill="#aba3b8"/>
<path d="M238.4 678.9h5.6v5.7h-5.6zM243.4 678.9h5.6v5.7h-5.6zM193.4 684h5.6v5.7h-5.6zM248.5 684h5.6v5.7h-5.6zM153.3 689h5.6v5.7h-5.6zM198.4 689h5.6v5.7h-5.6zM203.4 689h5.6v5.7h-5.6zM163.3 694.1h5.6v5.7h-5.6zM193.4 694.1h5.6v5.7h-5.6zM228.4 694.1h5.6v5.7h-5.6zM258.5 699.1h5.6v5.7h-5.6zM268.5 699.1h5.6v5.7h-5.6zM198.4 704.2h5.6v5.7h-5.6zM208.4 704.2h5.6v5.7h-5.6zM213.4 709.2h5.6v5.7h-5.6zM268.5 709.2h5.6v5.7h-5.6zM188.4 714.3h5.6v5.7h-5.6zM268.5 714.3h5.6v5.7h-5.6zM253.5 724.4h5.6v5.7h-5.6zM258.5 724.4h5.6v5.7h-5.6zM238.4 734.5h5.6v5.7h-5.6zM243.4 734.5h5.6v5.7h-5.6zM238.4 739.6h5.6v5.7h-5.6zM243.4 739.6h5.6v5.7h-5.6zM248.5 739.6h5.6v5.7h-5.6zM258.5 739.6h5.6v5.7h-5.6zM263.5 739.6h5.6v5.7h-5.6zM248.5 744.6h5.6v5.7h-5.6zM223.4 749.7h5.6v5.7h-5.6zM253.5 749.7h5.6v5.7h-5.6z" fill="#a69db4"/>
<path d="M183.3 668.8h5.6v5.7h-5.6zM193.4 673.9h5.6v5.7h-5.6zM233.4 678.9h5.6v5.7h-5.6zM183.3 684h5.6v5.7h-5.6zM203.4 684h5.6v5.7h-5.6zM258.5 684h5.6v5.7h-5.6zM263.5 689h5.6v5.7h-5.6zM178.3 694.1h5.6v5.7h-5.6zM183.3 694.1h5.6v5.7h-5.6zM218.4 694.1h5.6v5.7h-5.6zM233.4 694.1h5.6v5.7h-5.6zM253.5 694.1h5.6v5.7h-5.6zM168.3 699.1h5.6v5.7h-5.6zM173.3 699.1h5.6v5.7h-5.6zM228.4 699.1h5.6v5.7h-5.6zM263.5 699.1h5.6v5.7h-5.6zM188.4 704.2h5.6v5.7h-5.6zM203.4 704.2h5.6v5.7h-5.6zM213.4 704.2h5.6v5.7h-5.6zM223.4 704.2h5.6v5.7h-5.6zM228.4 704.2h5.6v5.7h-5.6zM233.4 704.2h5.6v5.7h-5.6zM243.4 704.2h5.6v5.7h-5.6zM263.5 704.2h5.6v5.7h-5.6zM183.3 709.2h5.6v5.7h-5.6zM218.4 709.2h5.6v5.7h-5.6zM223.4 709.2h5.6v5.7h-5.6zM243.4 709.2h5.6v5.7h-5.6zM263.5 709.2h5.6v5.7h-5.6zM178.3 714.3h5.6v5.7h-5.6zM193.4 714.3h5.6v5.7h-5.6zM208.4 714.3h5.6v5.7h-5.6zM218.4 714.3h5.6v5.7h-5.6zM228.4 714.3h5.6v5.7h-5.6zM258.5 714.3h5.6v5.7h-5.6zM188.4 719.4h5.6v5.7h-5.6zM198.4 719.4h5.6v5.7h-5.6zM248.5 719.4h5.6v5.7h-5.6zM153.3 724.4h5.6v5.7h-5.6zM183.3 724.4h5.6v5.7h-5.6zM193.4 724.4h5.6v5.7h-5.6zM263.5 724.4h5.6v5.7h-5.6zM268.5 724.4h5.6v5.7h-5.6zM153.3 729.5h5.6v5.7h-5.6zM158.3 729.5h5.6v5.7h-5.6zM193.4 729.5h5.6v5.7h-5.6zM228.4 729.5h5.6v5.7h-5.6zM238.4 729.5h5.6v5.7h-5.6zM253.5 729.5h5.6v5.7h-5.6zM183.3 734.5h5.6v5.7h-5.6zM228.4 734.5h5.6v5.7h-5.6zM248.5 734.5h5.6v5.7h-5.6zM253.5 734.5h5.6v5.7h-5.6zM258.5 734.5h5.6v5.7h-5.6zM178.3 739.6h5.6v5.7h-5.6zM208.4 739.6h5.6v5.7h-5.6zM223.4 739.6h5.6v5.7h-5.6zM163.3 744.6h5.6v5.7h-5.6zM168.3 744.6h5.6v5.7h-5.6zM193.4 749.7h5.6v5.7h-5.6zM198.4 749.7h5.6v5.7h-5.6zM203.4 754.7h5.6v5.7h-5.6z" fill="#bbb5d0"/>
<path d="M153.3 694.1h5.6v5.7h-5.6zM163.3 699.1h5.6v5.7h-5.6zM168.3 704.2h5.6v5.7h-5.6zM248.5 704.2h5.6v5.7h-5.6zM253.5 709.2h5.6v5.7h-5.6zM223.4 714.3h5.6v5.7h-5.6zM233.4 714.3h5.6v5.7h-5.6zM238.4 714.3h5.6v5.7h-5.6zM168.3 724.4h5.6v5.7h-5.6zM233.4 724.4h5.6v5.7h-5.6zM248.5 724.4h5.6v5.7h-5.6zM168.3 729.5h5.6v5.7h-5.6zM233.4 729.5h5.6v5.7h-5.6zM263.5 729.5h5.6v5.7h-5.6zM268.5 729.5h5.6v5.7h-5.6zM203.4 734.5h5.6v5.7h-5.6zM268.5 734.5h5.6v5.7h-5.6zM153.3 739.6h5.6v5.7h-5.6zM163.3 739.6h5.6v5.7h-5.6zM183.3 739.6h5.6v5.7h-5.6zM188.4 739.6h5.6v5.7h-5.6zM203.4 739.6h5.6v5.7h-5.6zM253.5 739.6h5.6v5.7h-5.6zM268.5 744.6h5.6v5.7h-5.6zM183.3 749.7h5.6v5.7h-5.6zM188.4 749.7h5.6v5.7h-5.6zM203.4 749.7h5.6v5.7h-5.6zM153.3 754.7h5.6v5.7h-5.6zM198.4 754.7h5.6v5.7h-5.6z" fill="#a9a3be"/>
<path d="M153.3 699.1h5.6v5.7h-5.6zM153.3 709.2h5.6v5.7h-5.6zM238.4 709.2h5.6v5.7h-5.6zM258.5 709.2h5.6v5.7h-5.6zM173.3 714.3h5.6v5.7h-5.6zM213.4 714.3h5.6v5.7h-5.6zM153.3 719.4h5.6v5.7h-5.6zM223.4 719.4h5.6v5.7h-5.6zM233.4 719.4h5.6v5.7h-5.6zM263.5 719.4h5.6v5.7h-5.6zM158.3 724.4h5.6v5.7h-5.6zM198.4 724.4h5.6v5.7h-5.6zM208.4 724.4h5.6v5.7h-5.6zM223.4 724.4h5.6v5.7h-5.6zM153.3 734.5h5.6v5.7h-5.6zM173.3 734.5h5.6v5.7h-5.6zM178.3 734.5h5.6v5.7h-5.6zM193.4 734.5h5.6v5.7h-5.6zM158.3 739.6h5.6v5.7h-5.6zM193.4 739.6h5.6v5.7h-5.6zM153.3 744.6h5.6v5.7h-5.6zM213.4 744.6h5.6v5.7h-5.6zM153.3 749.7h5.6v5.7h-5.6zM158.3 749.7h5.6v5.7h-5.6zM208.4 749.7h5.6v5.7h-5.6zM268.5 749.7h5.6v5.7h-5.6zM168.3 754.7h5.6v5.7h-5.6z" fill="#aea9c5"/>
<path d="M158.3 699.1h5.6v5.7h-5.6zM238.4 699.1h5.6v5.7h-5.6zM163.3 704.2h5.6v5.7h-5.6zM218.4 704.2h5.6v5.7h-5.6zM163.3 709.2h5.6v5.7h-5.6zM168.3 709.2h5.6v5.7h-5.6zM228.4 709.2h5.6v5.7h-5.6zM153.3 714.3h5.6v5.7h-5.6zM178.3 719.4h5.6v5.7h-5.6zM268.5 719.4h5.6v5.7h-5.6zM173.3 724.4h5.6v5.7h-5.6zM178.3 724.4h5.6v5.7h-5.6zM218.4 724.4h5.6v5.7h-5.6zM203.4 729.5h5.6v5.7h-5.6zM198.4 734.5h5.6v5.7h-5.6zM228.4 739.6h5.6v5.7h-5.6zM218.4 744.6h5.6v5.7h-5.6zM163.3 749.7h5.6v5.7h-5.6zM173.3 749.7h5.6v5.7h-5.6zM188.4 754.7h5.6v5.7h-5.6z" fill="#a7a0ba"/>
<path d="M183.3 678.9h5.6v5.7h-5.6zM178.3 684h5.6v5.7h-5.6zM188.4 684h5.6v5.7h-5.6zM183.3 689h5.6v5.7h-5.6zM238.4 689h5.6v5.7h-5.6zM243.4 694.1h5.6v5.7h-5.6zM178.3 699.1h5.6v5.7h-5.6zM233.4 699.1h5.6v5.7h-5.6zM243.4 699.1h5.6v5.7h-5.6zM248.5 699.1h5.6v5.7h-5.6zM153.3 704.2h5.6v5.7h-5.6zM163.3 714.3h5.6v5.7h-5.6zM203.4 719.4h5.6v5.7h-5.6zM228.4 719.4h5.6v5.7h-5.6zM238.4 719.4h5.6v5.7h-5.6zM228.4 724.4h5.6v5.7h-5.6zM163.3 729.5h5.6v5.7h-5.6zM188.4 729.5h5.6v5.7h-5.6zM198.4 729.5h5.6v5.7h-5.6zM163.3 734.5h5.6v5.7h-5.6zM168.3 734.5h5.6v5.7h-5.6zM168.3 739.6h5.6v5.7h-5.6zM173.3 739.6h5.6v5.7h-5.6zM198.4 739.6h5.6v5.7h-5.6zM268.5 739.6h5.6v5.7h-5.6zM158.3 744.6h5.6v5.7h-5.6zM178.3 744.6h5.6v5.7h-5.6zM183.3 744.6h5.6v5.7h-5.6zM168.3 749.7h5.6v5.7h-5.6zM178.3 749.7h5.6v5.7h-5.6zM163.3 754.7h5.6v5.7h-5.6zM178.3 754.7h5.6v5.7h-5.6z" fill="#bdb9d5"/>
<path d="M188.4 699.1h5.6v5.7h-5.6zM218.4 699.1h5.6v5.7h-5.6zM253.5 699.1h5.6v5.7h-5.6zM158.3 704.2h5.6v5.7h-5.6zM173.3 704.2h5.6v5.7h-5.6zM183.3 704.2h5.6v5.7h-5.6zM253.5 704.2h5.6v5.7h-5.6zM268.5 704.2h5.6v5.7h-5.6zM173.3 709.2h5.6v5.7h-5.6zM158.3 714.3h5.6v5.7h-5.6zM183.3 714.3h5.6v5.7h-5.6zM263.5 714.3h5.6v5.7h-5.6zM158.3 719.4h5.6v5.7h-5.6zM168.3 719.4h5.6v5.7h-5.6zM208.4 719.4h5.6v5.7h-5.6zM213.4 719.4h5.6v5.7h-5.6zM218.4 719.4h5.6v5.7h-5.6zM253.5 719.4h5.6v5.7h-5.6zM163.3 724.4h5.6v5.7h-5.6zM203.4 724.4h5.6v5.7h-5.6zM213.4 724.4h5.6v5.7h-5.6zM238.4 724.4h5.6v5.7h-5.6zM173.3 729.5h5.6v5.7h-5.6zM208.4 729.5h5.6v5.7h-5.6zM213.4 729.5h5.6v5.7h-5.6zM218.4 729.5h5.6v5.7h-5.6zM223.4 729.5h5.6v5.7h-5.6zM258.5 729.5h5.6v5.7h-5.6zM158.3 734.5h5.6v5.7h-5.6zM213.4 734.5h5.6v5.7h-5.6zM218.4 734.5h5.6v5.7h-5.6zM213.4 739.6h5.6v5.7h-5.6zM173.3 744.6h5.6v5.7h-5.6zM188.4 744.6h5.6v5.7h-5.6zM193.4 744.6h5.6v5.7h-5.6zM198.4 744.6h5.6v5.7h-5.6zM203.4 744.6h5.6v5.7h-5.6zM223.4 744.6h5.6v5.7h-5.6zM263.5 744.6h5.6v5.7h-5.6zM158.3 754.7h5.6v5.7h-5.6zM173.3 754.7h5.6v5.7h-5.6zM183.3 754.7h5.6v5.7h-5.6zM193.4 754.7h5.6v5.7h-5.6z" fill="#b6b0cc"/>
<path d="M263.5 668.8h5.6v5.7h-5.6zM268.5 668.8h5.6v5.7h-5.6zM243.4 673.9h5.6v5.7h-5.6zM158.3 678.9h5.6v5.7h-5.6zM203.4 678.9h5.6v5.7h-5.6zM218.4 678.9h5.6v5.7h-5.6zM258.5 678.9h5.6v5.7h-5.6zM168.3 684h5.6v5.7h-5.6zM223.4 684h5.6v5.7h-5.6zM188.4 689h5.6v5.7h-5.6zM213.4 689h5.6v5.7h-5.6zM248.5 689h5.6v5.7h-5.6zM188.4 694.1h5.6v5.7h-5.6zM238.4 694.1h5.6v5.7h-5.6zM258.5 694.1h5.6v5.7h-5.6zM268.5 694.1h5.6v5.7h-5.6zM198.4 699.1h5.6v5.7h-5.6zM208.4 699.1h5.6v5.7h-5.6zM213.4 699.1h5.6v5.7h-5.6zM178.3 704.2h5.6v5.7h-5.6zM238.4 704.2h5.6v5.7h-5.6zM158.3 709.2h5.6v5.7h-5.6zM178.3 709.2h5.6v5.7h-5.6zM188.4 709.2h5.6v5.7h-5.6zM208.4 709.2h5.6v5.7h-5.6zM233.4 709.2h5.6v5.7h-5.6zM168.3 714.3h5.6v5.7h-5.6zM243.4 714.3h5.6v5.7h-5.6zM253.5 714.3h5.6v5.7h-5.6zM163.3 719.4h5.6v5.7h-5.6zM173.3 719.4h5.6v5.7h-5.6zM258.5 719.4h5.6v5.7h-5.6zM178.3 729.5h5.6v5.7h-5.6zM183.3 729.5h5.6v5.7h-5.6zM248.5 729.5h5.6v5.7h-5.6zM208.4 734.5h5.6v5.7h-5.6zM233.4 734.5h5.6v5.7h-5.6zM263.5 734.5h5.6v5.7h-5.6zM218.4 739.6h5.6v5.7h-5.6zM208.4 744.6h5.6v5.7h-5.6zM243.4 744.6h5.6v5.7h-5.6zM258.5 744.6h5.6v5.7h-5.6zM218.4 749.7h5.6v5.7h-5.6zM228.4 749.7h5.6v5.7h-5.6zM233.4 749.7h5.6v5.7h-5.6zM243.4 749.7h5.6v5.7h-5.6zM248.5 749.7h5.6v5.7h-5.6zM258.5 749.7h5.6v5.7h-5.6zM263.5 749.7h5.6v5.7h-5.6zM208.4 754.7h5.6v5.7h-5.6zM218.4 754.7h5.6v5.7h-5.6z" fill="#b4adc5"/>
<path d="M178.3 678.9h5.6v5.7h-5.6zM198.4 684h5.6v5.7h-5.6zM253.5 684h5.6v5.7h-5.6zM168.3 689h5.6v5.7h-5.6zM173.3 689h5.6v5.7h-5.6zM258.5 689h5.6v5.7h-5.6zM158.3 694.1h5.6v5.7h-5.6zM168.3 694.1h5.6v5.7h-5.6zM248.5 694.1h5.6v5.7h-5.6zM183.3 699.1h5.6v5.7h-5.6zM223.4 699.1h5.6v5.7h-5.6zM258.5 704.2h5.6v5.7h-5.6zM198.4 709.2h5.6v5.7h-5.6zM248.5 709.2h5.6v5.7h-5.6zM203.4 714.3h5.6v5.7h-5.6zM248.5 714.3h5.6v5.7h-5.6zM193.4 719.4h5.6v5.7h-5.6zM243.4 719.4h5.6v5.7h-5.6zM243.4 724.4h5.6v5.7h-5.6zM243.4 729.5h5.6v5.7h-5.6zM188.4 734.5h5.6v5.7h-5.6zM223.4 734.5h5.6v5.7h-5.6zM233.4 739.6h5.6v5.7h-5.6zM228.4 744.6h5.6v5.7h-5.6zM213.4 749.7h5.6v5.7h-5.6zM223.4 754.7h5.6v5.7h-5.6zM263.5 754.7h5.6v5.7h-5.6zM268.5 754.7h5.6v5.7h-5.6z" fill="#aea6be"/>
</g>
<rect x="153.6" y="669.1" width="120.2" height="91" filter="url(#tx4)"/>
</g>
<g clip-path="url(#ci1)" fill="none" stroke="#eef0f8" stroke-linecap="round" stroke-linejoin="round" opacity="0.7">
<path d="M50.2 638.3 L48.5 636.5 L46.5 635 L44.8 633.2 L43.6 631 L42.5 628.7 L41.3 626.5 L39.8 624.6 L37.5 623.4 L35.2 622.5 L33 621.4 L30.5 621.1 L28.1 620.2" stroke-width="0.4"/>
<path d="M58.3 580.3 L60.8 580.7 L63 581.9 L65.1 583.2 L67.6 583.7 L70.1 583.9 L72.6 584 L75 583.4 L77.5 583.7 L80 583.7 L82.4 583 L84.9 583 L87.2 582.2" stroke-width="0.8"/>
<path d="M84.8 626 L83.4 628.1 L82.6 630.4 L82.8 632.9 L82.2 635.4 L82.1 637.9 L81.4 640.3 L81.4 642.8 L80.4 645.1 L78.8 647 L76.8 648.5 L74.5 649.6 L72.2 650.5" stroke-width="0.7"/>
<path d="M45.1 619.2 L45.7 616.8 L47.1 614.7 L49 613.1 L50.9 611.4 L52.5 609.5 L54.1 607.6 L55.4 605.5 L57.5 604.1 L59.4 602.5 L60.7 600.3 L61.1 597.9 L62 595.5" stroke-width="0.8"/>
<path d="M89.9 620.5 L87.7 619.3 L85.4 618.6 L83 617.7 L80.8 616.6 L78.6 615.4 L76.2 614.7 L73.7 614.7 L71.2 615 L68.8 614.4 L66.3 614.2 L63.8 613.7 L61.3 613.7" stroke-width="0.4"/>
<path d="M38.3 649.4 L38.5 646.9 L39 644.5 L39.9 642.1 L41.4 640.2 L43.6 638.9 L45.6 637.5 L48.1 637 L50.6 637.4 L53 637.9 L55.1 639.2 L57.3 640.5 L59.6 641.5" stroke-width="0.4"/>
<path d="M135.5 591 L137.5 592.6 L139 594.6 L140.6 596.5 L141.6 598.8 L143.4 600.6 L145.4 602 L147.7 603.1 L150 604 L152.5 604.2 L154.9 603.6 L157.3 602.7 L159.8 602.6" stroke-width="0.8"/>
<path d="M119.9 619.4 L119 621.7 L118 624 L116.6 626.1 L116.1 628.6 L116.2 631.1 L115.5 633.5 L114.4 635.7 L112.6 637.5 L110.7 639.1 L108.9 640.8 L107 642.4 L104.7 643.4" stroke-width="0.5"/>
<path d="M94.5 601.2 L93.8 598.8 L93.5 596.3 L94.1 593.9 L93.7 591.4 L93.5 588.9 L93.7 586.4 L94.5 584.1 L95.4 581.8 L95.9 579.3 L96.2 576.8 L97.4 574.6 L99.2 572.9" stroke-width="0.4"/>
<path d="M41.8 584.9 L44.3 585.2 L46.7 584.8 L49.2 585.1 L51.6 585.7 L54.1 585.6 L56.6 585.5 L59.1 585.1 L61.6 584.7 L63.9 583.8 L65.9 582.2 L67.4 580.3 L68.7 578.1" stroke-width="0.7"/>
<path d="M96.4 580.6 L96.5 578.1 L97.2 575.7 L98.4 573.5 L98.7 571.1 L98.9 568.6 L98.2 566.2 L98.1 563.7 L97.3 561.3 L97 558.8 L96.1 556.5 L95.7 554 L94.8 551.6" stroke-width="0.3"/>
<path d="M77.1 604.2 L78.8 602.5 L80.6 600.7 L82.4 599 L84.7 598 L86.6 596.4 L88.7 595 L90.7 593.5 L93 592.4 L95.5 592.3 L97.9 591.8 L100.4 591.6 L102.9 591.6" stroke-width="0.6"/>
<path d="M38 649.5 L40.5 648.9 L42.8 647.9 L45.3 647.8 L47.6 647 L49.6 645.5 L50.9 643.4 L52.8 641.7 L54.9 640.4 L57 639 L59.2 637.8 L60.8 635.9 L62.6 634.1" stroke-width="0.5"/>
<path d="M92.5 611.4 L90.8 613.2 L89.9 615.6 L89.1 618 L88.8 620.4 L88.1 622.8 L86.9 625 L85.2 626.9 L83.7 628.8 L82.6 631.1 L81.6 633.4 L80.7 635.7 L79.6 638" stroke-width="0.8"/>
<path d="M40.6 619.5 L38.2 619.2 L35.9 618.1 L33.9 616.6 L32.1 614.9 L30.7 612.8 L29.6 610.6 L29.1 608.1 L29.1 605.6 L29.4 603.1 L29.2 600.7 L29.8 598.2 L30.2 595.8" stroke-width="0.6"/>
<path d="M129.4 662.8 L131.6 661.7 L133.7 660.3 L135.5 658.6 L137.1 656.7 L138.2 654.4 L139.3 652.2 L139.7 649.7 L139.6 647.2 L140.5 644.9 L141.8 642.7 L143 640.5 L143.4 638.1" stroke-width="0.8"/>
<path d="M114.9 594.9 L113.4 596.9 L111.6 598.7 L110.2 600.7 L108.1 602.2 L106.3 603.9 L104.8 605.9 L102.9 607.4 L101.4 609.5 L99.7 611.3 L98.4 613.4 L97 615.5 L95.9 617.8" stroke-width="0.5"/>
<path d="M143.3 618.3 L140.9 619.1 L138.7 620.2 L136.8 621.9 L135.1 623.8 L133.8 625.9 L133.1 628.3 L131.5 630.2 L130.8 632.6 L129.4 634.7 L127.5 636.3 L125.3 637.5 L123.7 639.4" stroke-width="0.6"/>
</g>
<g clip-path="url(#ci2)" fill="none" stroke="#b8703c" stroke-linecap="round" stroke-linejoin="round" opacity="0.45">
<path d="M268.8 589.1 L270.9 590.4 L273.3 591.1 L275.8 591.1 L278.3 591.4 L280.8 591.3 L283.2 592.1 L285.7 592.3 L287.9 593.4" stroke-width="0.6"/>
<path d="M225.9 660 L225.7 657.5 L225.9 655 L225.3 652.6 L225.4 650.1 L225.7 647.6 L225.6 645.1 L224.9 642.7 L224.9 640.2" stroke-width="0.7"/>
<path d="M266.3 645.8 L268.8 645.4 L271.3 645.3 L273.8 645.4 L276.3 645.1 L278.7 645.7 L281.2 645.9 L283.6 646.6 L285.5 648.2" stroke-width="0.7"/>
<path d="M170.7 650.4 L169 648.6 L166.7 647.6 L164.5 646.5 L162 646.2 L159.7 645.2 L157.4 644.1 L155.2 643 L152.9 642.1" stroke-width="0.7"/>
<path d="M263.8 604 L261.9 605.7 L260.3 607.6 L258.6 609.5 L256.8 611.2 L255.1 613.1 L253.2 614.7 L251.2 616.2 L249.9 618.3" stroke-width="0.9"/>
<path d="M196.4 615.2 L193.9 615.8 L191.5 615.6 L189 615.3 L186.5 615.3 L184.1 616 L181.6 616 L179.2 616.6 L176.7 617.1" stroke-width="0.6"/>
<path d="M193.1 608.5 L194.7 610.4 L196.4 612.2 L197.5 614.5 L198.4 616.8 L199.8 618.9 L200.9 621.1 L202.7 622.9 L204.6 624.5" stroke-width="0.8"/>
<path d="M264.3 617.8 L265.7 615.7 L267.2 613.7 L268.8 611.8 L271 610.6 L273.4 609.9 L275.8 609.1 L278.2 608.8 L280.7 608.7" stroke-width="0.6"/>
<path d="M247.9 650 L246.6 647.8 L244.6 646.3 L242.6 644.8 L240.8 643.1 L238.8 641.6 L236.4 640.7 L234.3 639.4 L232 638.3" stroke-width="0.5"/>
<path d="M158.6 663.2 L157.8 665.5 L157.5 668 L157.7 670.5 L157.2 672.9 L157.4 675.4 L157.9 677.9 L159.2 680 L160.6 682.1" stroke-width="0.5"/>
<path d="M195 642.3 L197.4 641.8 L199.5 640.5 L201.5 638.9 L203.8 638 L205.6 636.2 L206.9 634.1 L208.3 632 L209.4 629.8" stroke-width="0.8"/>
<path d="M239.9 618.1 L240.5 620.6 L241.5 622.8 L243.2 624.7 L244.6 626.7 L246.6 628.3 L248 630.3 L249.1 632.6 L250.9 634.3" stroke-width="0.6"/>
<path d="M226.2 580.3 L223.9 581.4 L221.5 582 L219.5 583.5 L217.3 584.8 L214.9 585.2 L212.4 584.8 L209.9 585.1 L207.4 585.2" stroke-width="0.5"/>
<path d="M194.7 653.9 L194.8 651.4 L194.7 648.9 L194.8 646.4 L194.3 644 L194.3 641.5 L195.2 639.1 L196.1 636.8 L196.8 634.4" stroke-width="0.8"/>
</g>
<g clip-path="url(#ci3)" fill="none" stroke="#e8ecf8" stroke-linecap="round" stroke-linejoin="round" opacity="0.7">
<path d="M141.4 755.1 L142.7 753 L144.2 751 L145.6 748.9 L147 746.8 L147.7 744.5 L147.9 742 L147.9 739.5 L147.4 737 L146.7 734.6 L145.3 732.6 L143.2 731.1 L141.5 729.4" stroke-width="0.7"/>
<path d="M91.9 735.7 L91.1 738.1 L89.8 740.2 L88.3 742.2 L86.6 744 L84.7 745.7 L82.4 746.5 L80.1 747.6 L77.7 748.2 L75.3 749.1 L72.9 749.8 L70.5 750.2 L68.1 751" stroke-width="0.5"/>
<path d="M87.3 734.2 L85.1 733 L83.1 731.5 L80.8 730.5 L78.3 730.2 L75.8 730.2 L73.4 729.6 L70.9 729.6 L68.5 730.4 L66.5 731.9 L65.2 734 L64.2 736.3 L63.1 738.5" stroke-width="0.9"/>
<path d="M70.1 702.6 L69.9 705.1 L69.1 707.5 L68.3 709.9 L67.9 712.3 L68.3 714.8 L68.1 717.3 L67.6 719.7 L66.4 721.9 L65.7 724.3 L64.9 726.7 L63.3 728.7 L61.7 730.5" stroke-width="1"/>
<path d="M50.5 757.5 L52.9 758.2 L55.4 758 L57.8 758.4 L60.2 759.1 L62.2 760.7 L63.7 762.7 L64.4 765.1 L65 767.5 L64.7 770 L63.9 772.3 L63.4 774.8 L62 776.9" stroke-width="0.6"/>
<path d="M53.6 676 L51.4 677.1 L48.9 677.4 L46.4 676.7 L43.9 676.7 L41.6 677.4 L39.1 678.1 L37 679.3 L34.8 680.5 L32.4 681.2 L30.1 682.2 L27.9 683.5 L25.5 683.9" stroke-width="0.7"/>
<path d="M71.5 750 L73.2 748.1 L75.1 746.5 L76.9 744.8 L78.9 743.3 L81.2 742.5 L83.7 741.9 L85.9 740.8 L88 739.3 L89.9 737.7 L92.1 736.6 L94.4 735.6 L96.7 734.6" stroke-width="0.9"/>
<path d="M43.4 726.4 L42.1 728.5 L40.2 730.1 L38.7 732.2 L36.6 733.5 L35.1 735.5 L33.5 737.4 L31.8 739.2 L30.6 741.4 L29.2 743.5 L27.9 745.6 L26.6 747.8 L25.1 749.7" stroke-width="0.4"/>
<path d="M75.7 740.4 L76.6 742.7 L78.1 744.7 L79.2 746.9 L80.9 748.8 L82.7 750.5 L84.5 752.2 L86.8 753.2 L88.9 754.5 L91.1 755.8 L93 757.4 L94.9 759 L96.7 760.7" stroke-width="0.7"/>
<path d="M66.1 750.6 L67.8 752.5 L68.9 754.8 L69.9 757 L70.4 759.5 L70.6 762 L70.6 764.5 L71 766.9 L71.8 769.3 L72.8 771.6 L74.2 773.7 L74.7 776.1 L75.6 778.5" stroke-width="0.6"/>
</g>
<g clip-path="url(#ci4)" fill="none" stroke="#b07a48" stroke-linecap="round" stroke-linejoin="round" opacity="0.45">
<path d="M239.2 745.5 L239.3 747.5 L239.8 749.4 L240.1 751.4 L241 753.2 L241.5 755.2" stroke-width="0.4"/>
<path d="M238.5 735 L238.6 733 L239.3 731.1 L240.7 729.7 L241.5 727.8 L242.3 726" stroke-width="0.7"/>
<path d="M242.4 709.5 L241.1 711 L240.4 712.9 L239.3 714.6 L237.8 715.9 L236.7 717.6" stroke-width="0.4"/>
<path d="M190.3 718.4 L188.6 719.4 L186.6 719.8 L184.7 720.4 L182.7 720.5 L180.8 721.2" stroke-width="0.3"/>
<path d="M233.5 741.8 L235 740.5 L236.8 739.6 L238.4 738.4 L240.2 737.5 L242.2 737.3" stroke-width="0.3"/>
<path d="M213 683.1 L214.3 684.7 L215.3 686.4 L215.7 688.4 L216.6 690.1 L217.5 691.9" stroke-width="0.7"/>
<path d="M245.6 717.5 L245.4 719.5 L245.7 721.5 L245.7 723.5 L245.5 725.5 L245.5 727.5" stroke-width="0.6"/>
<path d="M202.1 711.8 L202.7 709.9 L202.8 707.9 L203.1 705.9 L203.2 703.9 L203.9 702" stroke-width="0.4"/>
<path d="M198.2 674.4 L196.4 675.2 L194.7 676.2 L192.8 676.8 L191.2 678 L189.3 678.5" stroke-width="0.6"/>
<path d="M251.1 718.1 L249.3 717.3 L247.4 716.7 L245.4 716.5 L243.4 716.6 L241.5 717.1" stroke-width="0.4"/>
<path d="M262.6 741.8 L260.9 740.8 L259 740.2 L257.1 739.5 L255.3 738.6 L253.5 737.7" stroke-width="0.6"/>
<path d="M262.4 693.4 L260.7 694.5 L259.1 695.7 L257.4 696.7 L255.7 697.8 L254.6 699.4" stroke-width="0.5"/>
<path d="M161.8 740.5 L163 738.9 L164.6 737.7 L165.9 736.2 L167.1 734.6 L167.9 732.8" stroke-width="0.3"/>
<path d="M252.7 673.9 L254.6 673.1 L256.5 672.7 L258.2 671.7 L260.2 671.2 L262.2 671.2" stroke-width="0.3"/>
<path d="M175.6 681.9 L173.7 682.5 L171.7 682.7 L169.7 682.8 L167.7 682.6 L165.7 682.9" stroke-width="0.6"/>
<path d="M208.1 728.1 L206.1 728.4 L204.2 728.2 L202.3 727.5 L200.4 727 L198.4 727" stroke-width="0.4"/>
<path d="M169.4 757.1 L168.5 758.9 L167.9 760.8 L167.2 762.7 L166.8 764.6 L166.8 766.6" stroke-width="0.6"/>
<path d="M226.7 755.2 L227.2 757.1 L228.4 758.7 L229.9 760.1 L230.8 761.9 L231.6 763.7" stroke-width="0.5"/>
<path d="M194.6 738.2 L193.3 736.7 L191.6 735.6 L189.7 735 L188 734 L186.5 732.7" stroke-width="0.4"/>
<path d="M181.7 697.1 L181.3 695.1 L180.4 693.3 L179.3 691.7 L177.8 690.3 L177 688.5" stroke-width="0.5"/>
</g>
<g clip-path="url(#ci3)" stroke="#dde2f0" fill="none" stroke-linecap="round" opacity="0.85">
<path d="M31 733 Q50 738 62 747 T92 761" stroke-width="3.5"/>
<path d="M62 671 Q58 682 46 688 T31 694" stroke-width="1.6"/>
<path d="M137 688 Q140 698 148 705" stroke-width="2"/>
</g>
<g clip-path="url(#ci2)" stroke="#b87a50" fill="none" stroke-linecap="round" opacity="0.6">
<path d="M205 596 Q218 590 233 582" stroke-width="1.4"/>
<path d="M170 586 Q176 590 177 597" stroke-width="1.2"/>
</g>
<path d="M228 744 Q245 740 272 735" stroke-width="1.4" stroke="#b87a50" fill="none" opacity="0.6"/>
<ellipse cx="170" cy="714" rx="1.8" ry="2.2" fill="#f4f0f0"/>
<ellipse cx="187" cy="730" rx="1.8" ry="2.2" fill="#f4f0f0"/>
<ellipse cx="189" cy="734" rx="1.8" ry="2.2" fill="#f4f0f0"/>
<ellipse cx="227" cy="677" rx="1.8" ry="2.2" fill="#f4f0f0"/>
<rect x="33.6" y="657.6" width="15.4" height="3.2" fill="#fff" stroke="#333" stroke-width="0.4"/>
<rect x="156.4" y="657.6" width="15.2" height="3.2" fill="#fff" stroke="#333" stroke-width="0.4"/>
<rect x="32.8" y="751.6" width="22.4" height="3.2" fill="#fff" stroke="#333" stroke-width="0.4"/>
<rect x="157.2" y="751.8" width="22.4" height="3.2" fill="#fff" stroke="#333" stroke-width="0.4"/>
<rect x="30.4" y="576.5" width="120" height="89.6" fill="none" stroke="#111" stroke-width="1.3"/>
<rect x="153.6" y="576.5" width="120.2" height="89.6" fill="none" stroke="#111" stroke-width="1.3"/>
<rect x="30.4" y="669.1" width="120" height="90.7" fill="none" stroke="#111" stroke-width="1.3"/>
<rect x="153.6" y="669.1" width="120.2" height="91" fill="none" stroke="#111" stroke-width="1.3"/>
<rect x="98.1" y="624.4" width="31.5" height="22.2" fill="none" stroke="#283c58" stroke-width="1"/>
<rect x="232.3" y="610.4" width="32.2" height="20" fill="none" stroke="#283c58" stroke-width="1"/>
<line x1="98.1" y1="646.6" x2="30.6" y2="669" stroke="#283c58" stroke-width="0.9"/>
<line x1="129.6" y1="646.6" x2="150" y2="669" stroke="#111" stroke-width="0.9"/>
<line x1="232.3" y1="630.4" x2="154" y2="669" stroke="#283c58" stroke-width="0.9"/>
<line x1="264.5" y1="630.4" x2="273.6" y2="669" stroke="#111" stroke-width="0.9"/>
<text x="89.9" y="572.6" font-size="10.45" text-anchor="middle">PyMT PCBP1+/+</text>
<text x="214" y="572.6" font-size="10.45" text-anchor="middle">PyMT PCBP1–/–</text>
<text transform="translate(22.0 668.2) rotate(-90)" font-size="9.6" letter-spacing="0.3" text-anchor="middle">IHC: <tspan font-family="Liberation Serif" font-style="italic">α</tspan>-ISG15</text>
<line x1="24.1" y1="637.1" x2="24.1" y2="699.3" stroke="#222" stroke-width="1.2"/>
<rect x="371.4" y="639.5" width="17.1" height="80.6" fill="#fff" stroke="#000" stroke-width="1"/>
<line x1="379.9" y1="630.7" x2="379.9" y2="647.5" stroke="#000" stroke-width="1"/>
<line x1="376.4" y1="630.7" x2="383.4" y2="630.7" stroke="#000" stroke-width="1"/>
<line x1="376.4" y1="647.5" x2="383.4" y2="647.5" stroke="#000" stroke-width="1"/>
<path d="M380 603.8a1.15 1.15 0 1 0 0.01 0zM378.4 632.1a1.15 1.15 0 1 0 0.01 0zM382.2 640.8a1.15 1.15 0 1 0 0.01 0zM380.6 638.8a1.15 1.15 0 1 0 0.01 0zM380.4 651.6a1.15 1.15 0 1 0 0.01 0zM382.2 666.3a1.15 1.15 0 1 0 0.01 0z" fill="#000"/>
<rect x="398.2" y="686.2" width="17.3" height="33.9" fill="#d4d4f7" stroke="#000" stroke-width="1"/>
<line x1="406.9" y1="683.8" x2="406.9" y2="688.5" stroke="#000" stroke-width="1"/>
<line x1="403.4" y1="683.8" x2="410.4" y2="683.8" stroke="#000" stroke-width="1"/>
<line x1="403.4" y1="688.5" x2="410.4" y2="688.5" stroke="#000" stroke-width="1"/>
<path d="M406.8 679.8a1.15 1.15 0 1 0 0.01 0zM405.7 682.5a1.15 1.15 0 1 0 0.01 0zM407.5 684.5a1.15 1.15 0 1 0 0.01 0zM405.6 686.5a1.15 1.15 0 1 0 0.01 0zM406.7 689.9a1.15 1.15 0 1 0 0.01 0zM409.2 696.6a1.15 1.15 0 1 0 0.01 0z" fill="#000"/>
<line x1="361.7" y1="584.8" x2="361.7" y2="720.7" stroke="#000" stroke-width="1.1"/>
<line x1="361.2" y1="720.1" x2="416.6" y2="720.1" stroke="#000" stroke-width="1.3"/>
<line x1="358.5" y1="585.7" x2="361.7" y2="585.7" stroke="#000" stroke-width="1"/>
<text x="357.5" y="588.3" font-size="7.4" text-anchor="end" font-weight="bold">200</text>
<line x1="358.5" y1="619.3" x2="361.7" y2="619.3" stroke="#000" stroke-width="1"/>
<text x="357.5" y="621.9" font-size="7.4" text-anchor="end" font-weight="bold">150</text>
<line x1="358.5" y1="652.9" x2="361.7" y2="652.9" stroke="#000" stroke-width="1"/>
<text x="357.5" y="655.5" font-size="7.4" text-anchor="end" font-weight="bold">100</text>
<line x1="358.5" y1="686.5" x2="361.7" y2="686.5" stroke="#000" stroke-width="1"/>
<text x="357.5" y="689.1" font-size="7.4" text-anchor="end" font-weight="bold">50</text>
<line x1="378.3" y1="594.7" x2="404.8" y2="594.7" stroke="#000" stroke-width="1.4"/>
<text x="391.7" y="595" font-size="10.5" text-anchor="middle" font-weight="bold" letter-spacing="0.3">***</text>
<text transform="translate(322.4 653.1) rotate(-90)" font-size="10.3" text-anchor="middle">Average ISG15 staining per tumor</text>
<text transform="translate(333.6 653.1) rotate(-90)" font-size="10.45" text-anchor="middle">IHC quantification</text>
<text transform="translate(367.3 738.9) rotate(-48)" font-size="9.5" text-anchor="middle">PyMT</text>
<text transform="translate(375.5 746.6) rotate(-48)" font-size="9.5" text-anchor="middle">PCBP1+/+</text>
<text transform="translate(398.8 738.9) rotate(-48)" font-size="9.5" text-anchor="middle">PyMT</text>
<text transform="translate(407 746.3) rotate(-48)" font-size="9.5" text-anchor="middle">PCBP1–/–</text>
<rect x="498.7" y="584.2" width="40.5" height="171.6" fill="url(#pg)"/>
<rect x="542.5" y="584.2" width="41.3" height="0.9" fill="#cca1e4"/>
<rect x="542.5" y="585" width="41.3" height="0.9" fill="#fadde6"/>
<rect x="542.5" y="585.8" width="41.3" height="0.9" fill="#faf0f5"/>
<rect x="542.5" y="586.6" width="41.3" height="1.4" fill="#ee7e8f"/>
<rect x="542.5" y="587.9" width="41.3" height="0.9" fill="#f8ced8"/>
<rect x="542.5" y="588.7" width="41.3" height="0.9" fill="#e63e56"/>
<rect x="542.5" y="589.5" width="41.3" height="0.9" fill="#ead5f2"/>
<rect x="542.5" y="590.3" width="41.3" height="0.9" fill="#ffffff"/>
<rect x="542.5" y="591.1" width="41.3" height="1.4" fill="#eb677b"/>
<rect x="542.5" y="592.4" width="41.3" height="1.4" fill="#f29fad"/>
<rect x="542.5" y="593.7" width="41.3" height="1.4" fill="#e63a51"/>
<rect x="542.5" y="595" width="41.3" height="0.9" fill="#c0b7f5"/>
<rect x="542.5" y="595.8" width="41.3" height="0.9" fill="#eb6377"/>
<rect x="542.5" y="596.6" width="41.3" height="0.9" fill="#bf8cde"/>
<rect x="542.5" y="597.4" width="41.3" height="0.9" fill="#b377d8"/>
<rect x="542.5" y="598.2" width="41.3" height="1.4" fill="#f4abb8"/>
<rect x="542.5" y="599.5" width="41.3" height="0.9" fill="#ead5f1"/>
<rect x="542.5" y="600.3" width="41.3" height="1.4" fill="#f3a8b5"/>
<rect x="542.5" y="601.6" width="41.3" height="0.9" fill="#f29caa"/>
<rect x="542.5" y="602.4" width="41.3" height="1.4" fill="#fadee6"/>
<rect x="542.5" y="603.7" width="41.3" height="0.9" fill="#f08b9b"/>
<rect x="542.5" y="604.5" width="41.3" height="0.9" fill="#e2c8ee"/>
<rect x="542.5" y="605.3" width="41.3" height="0.9" fill="#f5b2be"/>
<rect x="542.5" y="606.1" width="41.3" height="1.4" fill="#655cee"/>
<rect x="542.5" y="607.4" width="41.3" height="0.9" fill="#fadce4"/>
<rect x="542.5" y="608.2" width="41.3" height="0.9" fill="#e74259"/>
<rect x="542.5" y="609" width="41.3" height="0.9" fill="#f8cfd8"/>
<rect x="542.5" y="609.8" width="41.3" height="0.9" fill="#f9d7df"/>
<rect x="542.5" y="610.6" width="41.3" height="0.9" fill="#e7485e"/>
<rect x="542.5" y="611.4" width="41.3" height="0.9" fill="#f9d6df"/>
<rect x="542.5" y="612.2" width="41.3" height="1.4" fill="#d0c8f7"/>
<rect x="542.5" y="613.5" width="41.3" height="0.9" fill="#a661d3"/>
<rect x="542.5" y="614.3" width="41.3" height="0.9" fill="#ffffff"/>
<rect x="542.5" y="615.1" width="41.3" height="0.9" fill="#eb6377"/>
<rect x="542.5" y="615.9" width="41.3" height="1.4" fill="#e0c4ed"/>
<rect x="542.5" y="617.2" width="41.3" height="0.9" fill="#f3a4b1"/>
<rect x="542.5" y="618" width="41.3" height="0.9" fill="#e9566b"/>
<rect x="542.5" y="618.8" width="41.3" height="0.9" fill="#c0b7f5"/>
<rect x="542.5" y="619.6" width="41.3" height="0.9" fill="#fadbe4"/>
<rect x="542.5" y="620.4" width="41.3" height="1.4" fill="#f3a2b0"/>
<rect x="542.5" y="621.7" width="41.3" height="0.9" fill="#f4abb7"/>
<rect x="542.5" y="622.5" width="41.3" height="0.9" fill="#b3aaf4"/>
<rect x="542.5" y="623.3" width="41.3" height="0.9" fill="#6960ef"/>
<rect x="542.5" y="624.1" width="41.3" height="0.9" fill="#fadce4"/>
<rect x="542.5" y="624.9" width="41.3" height="0.9" fill="#fadde5"/>
<rect x="542.5" y="625.7" width="41.3" height="0.9" fill="#ee8091"/>
<rect x="542.5" y="626.5" width="41.3" height="0.9" fill="#8e85f2"/>
<rect x="542.5" y="627.3" width="41.3" height="1.4" fill="#6f66ef"/>
<rect x="542.5" y="628.6" width="41.3" height="1.4" fill="#e7d0f0"/>
<rect x="542.5" y="629.9" width="41.3" height="1.4" fill="#fadee6"/>
<rect x="542.5" y="631.2" width="41.3" height="0.9" fill="#f2a1af"/>
<rect x="542.5" y="632" width="41.3" height="0.9" fill="#f9d9e2"/>
<rect x="542.5" y="632.8" width="41.3" height="0.9" fill="#b1a8f4"/>
<rect x="542.5" y="633.6" width="41.3" height="0.9" fill="#9b92f2"/>
<rect x="542.5" y="634.4" width="41.3" height="0.9" fill="#e4dcf8"/>
<rect x="542.5" y="635.2" width="41.3" height="1.4" fill="#f9d2db"/>
<rect x="542.5" y="636.5" width="41.3" height="1.4" fill="#e0d8f8"/>
<rect x="542.5" y="637.8" width="41.3" height="0.9" fill="#af70d7"/>
<rect x="542.5" y="638.6" width="41.3" height="0.9" fill="#f9d5de"/>
<rect x="542.5" y="639.4" width="41.3" height="0.9" fill="#ebd7f2"/>
<rect x="542.5" y="640.2" width="41.3" height="0.9" fill="#ebd7f2"/>
<rect x="542.5" y="641" width="41.3" height="1.4" fill="#ffffff"/>
<rect x="542.5" y="642.3" width="41.3" height="0.9" fill="#fadbe3"/>
<rect x="542.5" y="643.1" width="41.3" height="0.9" fill="#e95268"/>
<rect x="542.5" y="643.9" width="41.3" height="1.4" fill="#f9d6de"/>
<rect x="542.5" y="645.2" width="41.3" height="1.4" fill="#e3dbf8"/>
<rect x="542.5" y="646.5" width="41.3" height="0.9" fill="#ee7c8d"/>
<rect x="542.5" y="647.3" width="41.3" height="0.9" fill="#eb687b"/>
<rect x="542.5" y="648.1" width="41.3" height="0.9" fill="#7f76f0"/>
<rect x="542.5" y="648.9" width="41.3" height="1.4" fill="#f4acb9"/>
<rect x="542.5" y="650.2" width="41.3" height="1.4" fill="#f8d1da"/>
<rect x="542.5" y="651.5" width="41.3" height="1.4" fill="#ee7c8d"/>
<rect x="542.5" y="652.8" width="41.3" height="0.9" fill="#fadde5"/>
<rect x="542.5" y="653.6" width="41.3" height="0.9" fill="#ffffff"/>
<rect x="542.5" y="654.4" width="41.3" height="0.9" fill="#e9d3f1"/>
<rect x="542.5" y="655.2" width="41.3" height="0.9" fill="#dec1ec"/>
<rect x="542.5" y="656" width="41.3" height="1.4" fill="#ea6074"/>
<rect x="542.5" y="657.3" width="41.3" height="1.4" fill="#cfc6f6"/>
<rect x="542.5" y="658.6" width="41.3" height="1.4" fill="#ef8393"/>
<rect x="542.5" y="659.9" width="41.3" height="0.9" fill="#d3aee7"/>
<rect x="542.5" y="660.7" width="41.3" height="0.9" fill="#d9b8ea"/>
<rect x="542.5" y="661.5" width="41.3" height="0.9" fill="#e1d9f8"/>
<rect x="542.5" y="662.3" width="41.3" height="0.9" fill="#bcb3f5"/>
<rect x="542.5" y="663.1" width="41.3" height="1.4" fill="#f7c9d3"/>
<rect x="542.5" y="664.4" width="41.3" height="1.4" fill="#bc87dd"/>
<rect x="542.5" y="665.7" width="41.3" height="1.4" fill="#e63b52"/>
<rect x="542.5" y="667" width="41.3" height="0.9" fill="#f08b9b"/>
<rect x="542.5" y="667.8" width="41.3" height="0.9" fill="#f29fad"/>
<rect x="542.5" y="668.6" width="41.3" height="0.9" fill="#f9d9e2"/>
<rect x="542.5" y="669.4" width="41.3" height="0.9" fill="#f7c8d2"/>
<rect x="542.5" y="670.2" width="41.3" height="0.9" fill="#c99ce2"/>
<rect x="542.5" y="671" width="41.3" height="0.9" fill="#e8d2f1"/>
<rect x="542.5" y="671.8" width="41.3" height="0.9" fill="#f7cad4"/>
<rect x="542.5" y="672.6" width="41.3" height="0.9" fill="#ebd6f2"/>
<rect x="542.5" y="673.4" width="41.3" height="1.4" fill="#faf0f5"/>
<rect x="542.5" y="674.7" width="41.3" height="0.9" fill="#fadee6"/>
<rect x="542.5" y="675.5" width="41.3" height="0.9" fill="#f5b7c3"/>
<rect x="542.5" y="676.3" width="41.3" height="0.9" fill="#8a81f1"/>
<rect x="542.5" y="677.1" width="41.3" height="1.4" fill="#f7c6d0"/>
<rect x="542.5" y="678.4" width="41.3" height="1.4" fill="#f5b3bf"/>
<rect x="542.5" y="679.7" width="41.3" height="0.9" fill="#9e96f3"/>
<rect x="542.5" y="680.5" width="41.3" height="0.9" fill="#ee8091"/>
<rect x="542.5" y="681.3" width="41.3" height="0.9" fill="#ffffff"/>
<rect x="542.5" y="682.1" width="41.3" height="0.9" fill="#fadbe4"/>
<rect x="542.5" y="682.9" width="41.3" height="0.9" fill="#bf8cde"/>
<rect x="542.5" y="683.7" width="41.3" height="1.4" fill="#b275d8"/>
<rect x="542.5" y="685" width="41.3" height="1.4" fill="#b57ad9"/>
<rect x="542.5" y="686.3" width="41.3" height="1.4" fill="#dcbdeb"/>
<rect x="542.5" y="687.6" width="41.3" height="0.9" fill="#dcd4f7"/>
<rect x="542.5" y="688.4" width="41.3" height="0.9" fill="#f9d8e0"/>
<rect x="542.5" y="689.2" width="41.3" height="0.9" fill="#fadce4"/>
<rect x="542.5" y="690" width="41.3" height="0.9" fill="#aaa2f4"/>
<rect x="542.5" y="690.8" width="41.3" height="1.4" fill="#e7cff0"/>
<rect x="542.5" y="692.1" width="41.3" height="0.9" fill="#ed7789"/>
<rect x="542.5" y="692.9" width="41.3" height="0.9" fill="#f9d4dd"/>
<rect x="542.5" y="693.7" width="41.3" height="0.9" fill="#a660d2"/>
<rect x="542.5" y="694.5" width="41.3" height="1.4" fill="#e42e47"/>
<rect x="542.5" y="695.8" width="41.3" height="0.9" fill="#e3dbf8"/>
<rect x="542.5" y="696.6" width="41.3" height="0.9" fill="#f08d9d"/>
<rect x="542.5" y="697.4" width="41.3" height="0.9" fill="#d9d1f7"/>
<rect x="542.5" y="698.2" width="41.3" height="0.9" fill="#f4acb9"/>
<rect x="542.5" y="699" width="41.3" height="0.9" fill="#ee7a8c"/>
<rect x="542.5" y="699.8" width="41.3" height="1.4" fill="#faf0f5"/>
<rect x="542.5" y="701.1" width="41.3" height="0.9" fill="#fadee6"/>
<rect x="542.5" y="701.9" width="41.3" height="0.9" fill="#ee7b8d"/>
<rect x="542.5" y="702.7" width="41.3" height="0.9" fill="#ca9ee3"/>
<rect x="542.5" y="703.5" width="41.3" height="0.9" fill="#ef8293"/>
<rect x="542.5" y="704.3" width="41.3" height="0.9" fill="#faf0f5"/>
<rect x="542.5" y="705.1" width="41.3" height="0.9" fill="#dabaea"/>
<rect x="542.5" y="705.9" width="41.3" height="1.4" fill="#ebd7f2"/>
<rect x="542.5" y="707.2" width="41.3" height="1.4" fill="#ddd5f7"/>
<rect x="542.5" y="708.5" width="41.3" height="0.9" fill="#e3dbf8"/>
<rect x="542.5" y="709.3" width="41.3" height="0.9" fill="#faf0f5"/>
<rect x="542.5" y="710.1" width="41.3" height="0.9" fill="#d8d0f7"/>
<rect x="542.5" y="710.9" width="41.3" height="0.9" fill="#ffffff"/>
<rect x="542.5" y="711.7" width="41.3" height="1.4" fill="#d7b4e9"/>
<rect x="542.5" y="713" width="41.3" height="1.4" fill="#e9556a"/>
<rect x="542.5" y="714.3" width="41.3" height="1.4" fill="#fadee6"/>
<rect x="542.5" y="715.6" width="41.3" height="0.9" fill="#faf0f5"/>
<rect x="542.5" y="716.4" width="41.3" height="0.9" fill="#e6cff0"/>
<rect x="542.5" y="717.2" width="41.3" height="1.4" fill="#ea5f73"/>
<rect x="542.5" y="718.5" width="41.3" height="0.9" fill="#e3dbf8"/>
<rect x="542.5" y="719.3" width="41.3" height="0.9" fill="#d9b8ea"/>
<rect x="542.5" y="720.1" width="41.3" height="1.4" fill="#bfb7f5"/>
<rect x="542.5" y="721.4" width="41.3" height="1.4" fill="#ffffff"/>
<rect x="542.5" y="722.7" width="41.3" height="0.9" fill="#e7cff0"/>
<rect x="542.5" y="723.5" width="41.3" height="0.9" fill="#f08c9c"/>
<rect x="542.5" y="724.3" width="41.3" height="1.4" fill="#e63b53"/>
<rect x="542.5" y="725.6" width="41.3" height="0.9" fill="#f7c5cf"/>
<rect x="542.5" y="726.4" width="41.3" height="0.9" fill="#cfa6e5"/>
<rect x="542.5" y="727.2" width="41.3" height="0.9" fill="#e63a52"/>
<rect x="542.5" y="728" width="41.3" height="0.9" fill="#f194a3"/>
<rect x="542.5" y="728.8" width="41.3" height="0.9" fill="#f3a6b4"/>
<rect x="542.5" y="729.6" width="41.3" height="1.4" fill="#4c42ed"/>
<rect x="542.5" y="730.9" width="41.3" height="0.9" fill="#fadee6"/>
<rect x="542.5" y="731.7" width="41.3" height="0.9" fill="#b5acf4"/>
<rect x="542.5" y="732.5" width="41.3" height="0.9" fill="#e0d8f8"/>
<rect x="542.5" y="733.3" width="41.3" height="1.4" fill="#fadde5"/>
<rect x="542.5" y="734.6" width="41.3" height="1.4" fill="#bb85dc"/>
<rect x="542.5" y="735.9" width="41.3" height="1.4" fill="#ebd7f2"/>
<rect x="542.5" y="737.2" width="41.3" height="0.9" fill="#ada5f4"/>
<rect x="542.5" y="738" width="41.3" height="0.9" fill="#463cec"/>
<rect x="542.5" y="738.8" width="41.3" height="0.9" fill="#f8ced8"/>
<rect x="542.5" y="739.6" width="41.3" height="1.4" fill="#f7c8d2"/>
<rect x="542.5" y="740.9" width="41.3" height="0.9" fill="#ddd5f7"/>
<rect x="542.5" y="741.7" width="41.3" height="1.4" fill="#675eef"/>
<rect x="542.5" y="743" width="41.3" height="0.9" fill="#fadee6"/>
<rect x="542.5" y="743.8" width="41.3" height="0.9" fill="#cea5e5"/>
<rect x="542.5" y="744.6" width="41.3" height="1.4" fill="#ef8898"/>
<rect x="542.5" y="745.9" width="41.3" height="0.9" fill="#a9a0f4"/>
<rect x="542.5" y="746.7" width="41.3" height="0.9" fill="#ed7385"/>
<rect x="542.5" y="747.5" width="41.3" height="0.9" fill="#e9d4f1"/>
<rect x="542.5" y="748.3" width="41.3" height="0.9" fill="#f6c1cc"/>
<rect x="542.5" y="749.1" width="41.3" height="0.9" fill="#e0d8f8"/>
<rect x="542.5" y="749.9" width="41.3" height="1.4" fill="#dec0ec"/>
<rect x="542.5" y="751.2" width="41.3" height="0.9" fill="#faf0f5"/>
<rect x="542.5" y="752" width="41.3" height="0.9" fill="#ca9fe3"/>
<rect x="542.5" y="752.8" width="41.3" height="1.4" fill="#d0a8e6"/>
<rect x="542.5" y="754.1" width="41.3" height="1.4" fill="#cfa7e5"/>
<rect x="542.5" y="755.4" width="41.3" height="0.5" fill="#dfd7f8"/>
<rect x="586.8" y="584.2" width="40.9" height="0.9" fill="#b173d7"/>
<rect x="586.8" y="585" width="40.9" height="0.9" fill="#f9d4dd"/>
<rect x="586.8" y="585.8" width="40.9" height="0.9" fill="#e4dcf8"/>
<rect x="586.8" y="586.6" width="40.9" height="0.9" fill="#f6bfca"/>
<rect x="586.8" y="587.4" width="40.9" height="0.9" fill="#f9d9e2"/>
<rect x="586.8" y="588.2" width="40.9" height="0.9" fill="#ec6d80"/>
<rect x="586.8" y="589" width="40.9" height="0.9" fill="#d0c7f6"/>
<rect x="586.8" y="589.8" width="40.9" height="0.9" fill="#ebd7f2"/>
<rect x="586.8" y="590.6" width="40.9" height="0.9" fill="#f08f9e"/>
<rect x="586.8" y="591.4" width="40.9" height="0.9" fill="#fadee6"/>
<rect x="586.8" y="592.2" width="40.9" height="0.9" fill="#ffffff"/>
<rect x="586.8" y="593" width="40.9" height="0.9" fill="#f29caa"/>
<rect x="586.8" y="593.8" width="40.9" height="0.9" fill="#e6cff0"/>
<rect x="586.8" y="594.6" width="40.9" height="0.9" fill="#fadde5"/>
<rect x="586.8" y="595.4" width="40.9" height="0.9" fill="#b77fda"/>
<rect x="586.8" y="596.2" width="40.9" height="0.9" fill="#c08dde"/>
<rect x="586.8" y="597" width="40.9" height="0.9" fill="#c89be2"/>
<rect x="586.8" y="597.8" width="40.9" height="0.9" fill="#e63e55"/>
<rect x="586.8" y="598.6" width="40.9" height="1.4" fill="#f4b2be"/>
<rect x="586.8" y="599.9" width="40.9" height="0.9" fill="#f9d5de"/>
<rect x="586.8" y="600.7" width="40.9" height="1.4" fill="#ddd5f7"/>
<rect x="586.8" y="602" width="40.9" height="0.9" fill="#d7cff7"/>
<rect x="586.8" y="602.8" width="40.9" height="0.9" fill="#f2a0ae"/>
<rect x="586.8" y="603.6" width="40.9" height="1.4" fill="#ed7385"/>
<rect x="586.8" y="604.9" width="40.9" height="0.9" fill="#d9b8ea"/>
<rect x="586.8" y="605.7" width="40.9" height="0.9" fill="#f195a4"/>
<rect x="586.8" y="606.5" width="40.9" height="1.4" fill="#f9d9e1"/>
<rect x="586.8" y="607.8" width="40.9" height="0.9" fill="#f8cfd8"/>
<rect x="586.8" y="608.6" width="40.9" height="0.9" fill="#cea6e5"/>
<rect x="586.8" y="609.4" width="40.9" height="0.9" fill="#fadce5"/>
<rect x="586.8" y="610.2" width="40.9" height="0.9" fill="#8f86f2"/>
<rect x="586.8" y="611" width="40.9" height="0.9" fill="#fadee6"/>
<rect x="586.8" y="611.8" width="40.9" height="0.9" fill="#e0c5ed"/>
<rect x="586.8" y="612.6" width="40.9" height="0.9" fill="#c495e0"/>
<rect x="586.8" y="613.4" width="40.9" height="1.4" fill="#f7c7d1"/>
<rect x="586.8" y="614.7" width="40.9" height="0.9" fill="#ead6f2"/>
<rect x="586.8" y="615.5" width="40.9" height="1.4" fill="#faf0f5"/>
<rect x="586.8" y="616.8" width="40.9" height="0.9" fill="#a965d4"/>
<rect x="586.8" y="617.6" width="40.9" height="0.9" fill="#f08d9c"/>
<rect x="586.8" y="618.4" width="40.9" height="0.9" fill="#f9d9e1"/>
<rect x="586.8" y="619.2" width="40.9" height="1.4" fill="#fadae2"/>
<rect x="586.8" y="620.5" width="40.9" height="0.9" fill="#f199a7"/>
<rect x="586.8" y="621.3" width="40.9" height="1.4" fill="#fadae3"/>
<rect x="586.8" y="622.6" width="40.9" height="0.9" fill="#bfb7f5"/>
<rect x="586.8" y="623.4" width="40.9" height="0.9" fill="#e7485e"/>
<rect x="586.8" y="624.2" width="40.9" height="1.4" fill="#fadce5"/>
<rect x="586.8" y="625.5" width="40.9" height="0.9" fill="#faf0f5"/>
<rect x="586.8" y="626.3" width="40.9" height="1.4" fill="#392feb"/>
<rect x="586.8" y="627.6" width="40.9" height="0.9" fill="#ffffff"/>
<rect x="586.8" y="628.4" width="40.9" height="0.9" fill="#f9d8e0"/>
<rect x="586.8" y="629.2" width="40.9" height="1.4" fill="#fadce4"/>
<rect x="586.8" y="630.5" width="40.9" height="1.4" fill="#5046ed"/>
<rect x="586.8" y="631.8" width="40.9" height="0.9" fill="#c6bdf6"/>
<rect x="586.8" y="632.6" width="40.9" height="0.9" fill="#e84a60"/>
<rect x="586.8" y="633.4" width="40.9" height="1.4" fill="#e9d4f1"/>
<rect x="586.8" y="634.7" width="40.9" height="0.9" fill="#e9566b"/>
<rect x="586.8" y="635.5" width="40.9" height="0.9" fill="#d2abe6"/>
<rect x="586.8" y="636.3" width="40.9" height="0.9" fill="#d4afe7"/>
<rect x="586.8" y="637.1" width="40.9" height="1.4" fill="#faf0f5"/>
<rect x="586.8" y="638.4" width="40.9" height="0.9" fill="#eb6377"/>
<rect x="586.8" y="639.2" width="40.9" height="0.9" fill="#fadee6"/>
<rect x="586.8" y="640" width="40.9" height="0.9" fill="#bd88dd"/>
<rect x="586.8" y="640.8" width="40.9" height="0.9" fill="#9188f2"/>
<rect x="586.8" y="641.6" width="40.9" height="1.4" fill="#dad2f7"/>
<rect x="586.8" y="642.9" width="40.9" height="1.4" fill="#e84c62"/>
<rect x="586.8" y="644.2" width="40.9" height="0.9" fill="#f5b5c1"/>
<rect x="586.8" y="645" width="40.9" height="1.4" fill="#faf0f5"/>
<rect x="586.8" y="646.3" width="40.9" height="0.9" fill="#ead6f2"/>
<rect x="586.8" y="647.1" width="40.9" height="0.9" fill="#fadee6"/>
<rect x="586.8" y="647.9" width="40.9" height="0.9" fill="#f5b3bf"/>
<rect x="586.8" y="648.7" width="40.9" height="1.4" fill="#736af0"/>
<rect x="586.8" y="650" width="40.9" height="0.9" fill="#ba84dc"/>
<rect x="586.8" y="650.8" width="40.9" height="0.9" fill="#c597e1"/>
<rect x="586.8" y="651.6" width="40.9" height="0.9" fill="#e4dcf8"/>
<rect x="586.8" y="652.4" width="40.9" height="1.4" fill="#f9d4dd"/>
<rect x="586.8" y="653.7" width="40.9" height="0.9" fill="#d9b8ea"/>
<rect x="586.8" y="654.5" width="40.9" height="0.9" fill="#ec6c7f"/>
<rect x="586.8" y="655.3" width="40.9" height="0.9" fill="#f9d2dc"/>
<rect x="586.8" y="656.1" width="40.9" height="0.9" fill="#ed7688"/>
<rect x="586.8" y="656.9" width="40.9" height="0.9" fill="#f9d7df"/>
<rect x="586.8" y="657.7" width="40.9" height="0.9" fill="#ffffff"/>
<rect x="586.8" y="658.5" width="40.9" height="0.9" fill="#ead5f2"/>
<rect x="586.8" y="659.3" width="40.9" height="1.4" fill="#e6cef0"/>
<rect x="586.8" y="660.6" width="40.9" height="0.9" fill="#9990f2"/>
<rect x="586.8" y="661.4" width="40.9" height="0.9" fill="#e7455c"/>
<rect x="586.8" y="662.2" width="40.9" height="1.4" fill="#948bf2"/>
<rect x="586.8" y="663.5" width="40.9" height="0.9" fill="#655cee"/>
<rect x="586.8" y="664.3" width="40.9" height="0.9" fill="#fadde5"/>
<rect x="586.8" y="665.1" width="40.9" height="0.9" fill="#645bee"/>
<rect x="586.8" y="665.9" width="40.9" height="0.9" fill="#e2c8ee"/>
<rect x="586.8" y="666.7" width="40.9" height="0.9" fill="#e9d4f1"/>
<rect x="586.8" y="667.5" width="40.9" height="1.4" fill="#e1d9f8"/>
<rect x="586.8" y="668.8" width="40.9" height="0.9" fill="#ea5e72"/>
<rect x="586.8" y="669.6" width="40.9" height="1.4" fill="#fadce4"/>
<rect x="586.8" y="670.9" width="40.9" height="1.4" fill="#ee8091"/>
<rect x="586.8" y="672.2" width="40.9" height="0.9" fill="#d7cff7"/>
<rect x="586.8" y="673" width="40.9" height="0.9" fill="#f29fad"/>
<rect x="586.8" y="673.8" width="40.9" height="0.9" fill="#f4adba"/>
<rect x="586.8" y="674.6" width="40.9" height="1.4" fill="#faf0f5"/>
<rect x="586.8" y="675.9" width="40.9" height="0.9" fill="#f9d9e1"/>
<rect x="586.8" y="676.7" width="40.9" height="1.4" fill="#beb6f5"/>
<rect x="586.8" y="678" width="40.9" height="1.4" fill="#ead6f2"/>
<rect x="586.8" y="679.3" width="40.9" height="0.9" fill="#f8d2db"/>
<rect x="586.8" y="680.1" width="40.9" height="0.9" fill="#e2c7ee"/>
<rect x="586.8" y="680.9" width="40.9" height="1.4" fill="#e4dcf8"/>
<rect x="586.8" y="682.2" width="40.9" height="1.4" fill="#fadbe3"/>
<rect x="586.8" y="683.5" width="40.9" height="1.4" fill="#f5b3bf"/>
<rect x="586.8" y="684.8" width="40.9" height="0.9" fill="#ffffff"/>
<rect x="586.8" y="685.6" width="40.9" height="1.4" fill="#f4abb8"/>
<rect x="586.8" y="686.9" width="40.9" height="0.9" fill="#ec6d7f"/>
<rect x="586.8" y="687.7" width="40.9" height="0.9" fill="#f7c7d1"/>
<rect x="586.8" y="688.5" width="40.9" height="0.9" fill="#847bf1"/>
<rect x="586.8" y="689.3" width="40.9" height="0.9" fill="#ffffff"/>
<rect x="586.8" y="690.1" width="40.9" height="0.9" fill="#f5b6c2"/>
<rect x="586.8" y="690.9" width="40.9" height="0.9" fill="#ab6ad5"/>
<rect x="586.8" y="691.7" width="40.9" height="1.4" fill="#e5354d"/>
<rect x="586.8" y="693" width="40.9" height="1.4" fill="#cda4e4"/>
<rect x="586.8" y="694.3" width="40.9" height="1.4" fill="#9289f2"/>
<rect x="586.8" y="695.6" width="40.9" height="1.4" fill="#fadee6"/>
<rect x="586.8" y="696.9" width="40.9" height="0.9" fill="#b071d7"/>
<rect x="586.8" y="697.7" width="40.9" height="0.9" fill="#f7cad4"/>
<rect x="586.8" y="698.5" width="40.9" height="0.9" fill="#d4b0e8"/>
<rect x="586.8" y="699.3" width="40.9" height="1.4" fill="#f7c7d2"/>
<rect x="586.8" y="700.6" width="40.9" height="0.9" fill="#bb84dc"/>
<rect x="586.8" y="701.4" width="40.9" height="0.9" fill="#fadde5"/>
<rect x="586.8" y="702.2" width="40.9" height="0.9" fill="#978ef2"/>
<rect x="586.8" y="703" width="40.9" height="1.4" fill="#e4dcf8"/>
<rect x="586.8" y="704.3" width="40.9" height="0.9" fill="#f2a1af"/>
<rect x="586.8" y="705.1" width="40.9" height="0.9" fill="#f4b0bc"/>
<rect x="586.8" y="705.9" width="40.9" height="0.9" fill="#bb84dc"/>
<rect x="586.8" y="706.7" width="40.9" height="0.9" fill="#ed788a"/>
<rect x="586.8" y="707.5" width="40.9" height="1.4" fill="#c18fdf"/>
<rect x="586.8" y="708.8" width="40.9" height="0.9" fill="#faf0f5"/>
<rect x="586.8" y="709.6" width="40.9" height="1.4" fill="#e3c9ee"/>
<rect x="586.8" y="710.9" width="40.9" height="0.9" fill="#faf0f5"/>
<rect x="586.8" y="711.7" width="40.9" height="0.9" fill="#e3dbf8"/>
<rect x="586.8" y="712.5" width="40.9" height="0.9" fill="#d7cef7"/>
<rect x="586.8" y="713.3" width="40.9" height="0.9" fill="#4b41ed"/>
<rect x="586.8" y="714.1" width="40.9" height="0.9" fill="#ef8596"/>
<rect x="586.8" y="714.9" width="40.9" height="0.9" fill="#e9d4f1"/>
<rect x="586.8" y="715.7" width="40.9" height="0.9" fill="#b9b1f5"/>
<rect x="586.8" y="716.5" width="40.9" height="0.9" fill="#f7c6d0"/>
<rect x="586.8" y="717.3" width="40.9" height="0.9" fill="#b071d7"/>
<rect x="586.8" y="718.1" width="40.9" height="0.9" fill="#f5f0fa"/>
<rect x="586.8" y="718.9" width="40.9" height="0.9" fill="#f5f0fa"/>
<rect x="586.8" y="719.7" width="40.9" height="1.4" fill="#faf0f5"/>
<rect x="586.8" y="721" width="40.9" height="1.4" fill="#f5f0fa"/>
<rect x="586.8" y="722.3" width="40.9" height="0.9" fill="#f5f0fa"/>
<rect x="586.8" y="723.1" width="40.9" height="1.4" fill="#f5f0fa"/>
<rect x="586.8" y="724.4" width="40.9" height="0.9" fill="#f5f0fa"/>
<rect x="586.8" y="725.2" width="40.9" height="0.9" fill="#f193a2"/>
<rect x="586.8" y="726" width="40.9" height="0.9" fill="#f5f0fa"/>
<rect x="586.8" y="726.8" width="40.9" height="1.4" fill="#e2c8ee"/>
<rect x="586.8" y="728.1" width="40.9" height="0.9" fill="#f5f0fa"/>
<rect x="586.8" y="728.9" width="40.9" height="0.9" fill="#f5f0fa"/>
<rect x="586.8" y="729.7" width="40.9" height="0.9" fill="#f5f0fa"/>
<rect x="586.8" y="730.5" width="40.9" height="1.4" fill="#f5f0fa"/>
<rect x="586.8" y="731.8" width="40.9" height="0.9" fill="#d8b7ea"/>
<rect x="586.8" y="732.6" width="40.9" height="1.4" fill="#ee7f90"/>
<rect x="586.8" y="733.9" width="40.9" height="1.4" fill="#e3dbf8"/>
<rect x="586.8" y="735.2" width="40.9" height="0.9" fill="#b981db"/>
<rect x="586.8" y="736" width="40.9" height="1.4" fill="#d7cff7"/>
<rect x="586.8" y="737.3" width="40.9" height="0.9" fill="#fadee6"/>
<rect x="586.8" y="738.1" width="40.9" height="0.9" fill="#e2daf8"/>
<rect x="586.8" y="738.9" width="40.9" height="0.9" fill="#f8d1da"/>
<rect x="586.8" y="739.7" width="40.9" height="0.9" fill="#8f86f2"/>
<rect x="586.8" y="740.5" width="40.9" height="1.4" fill="#fadde5"/>
<rect x="586.8" y="741.8" width="40.9" height="0.9" fill="#fadee6"/>
<rect x="586.8" y="742.6" width="40.9" height="1.4" fill="#faf0f5"/>
<rect x="586.8" y="743.9" width="40.9" height="1.4" fill="#6258ee"/>
<rect x="586.8" y="745.2" width="40.9" height="1.4" fill="#faf0f5"/>
<rect x="586.8" y="746.5" width="40.9" height="1.4" fill="#a864d3"/>
<rect x="586.8" y="747.8" width="40.9" height="0.9" fill="#aaa1f4"/>
<rect x="586.8" y="748.6" width="40.9" height="0.9" fill="#fadbe4"/>
<rect x="586.8" y="749.4" width="40.9" height="1.4" fill="#bc87dd"/>
<rect x="586.8" y="750.7" width="40.9" height="0.9" fill="#f9d8e1"/>
<rect x="586.8" y="751.5" width="40.9" height="0.9" fill="#f6c1cc"/>
<rect x="586.8" y="752.3" width="40.9" height="0.9" fill="#eb687c"/>
<rect x="586.8" y="753.1" width="40.9" height="0.9" fill="#f9d5de"/>
<rect x="586.8" y="753.9" width="40.9" height="0.9" fill="#ac6cd5"/>
<rect x="586.8" y="754.7" width="40.9" height="0.9" fill="#faf0f5"/>
<rect x="586.8" y="755.5" width="40.9" height="0.4" fill="#ffffff"/>
<rect x="630.8" y="584.2" width="41" height="0.9" fill="#f08d9d"/>
<rect x="630.8" y="585" width="41" height="0.9" fill="#f4aebb"/>
<rect x="630.8" y="585.8" width="41" height="0.9" fill="#f5b7c3"/>
<rect x="630.8" y="586.6" width="41" height="1.4" fill="#f9d8e1"/>
<rect x="630.8" y="587.9" width="41" height="0.9" fill="#ada4f4"/>
<rect x="630.8" y="588.7" width="41" height="0.9" fill="#fadce4"/>
<rect x="630.8" y="589.5" width="41" height="0.9" fill="#ddd5f7"/>
<rect x="630.8" y="590.3" width="41" height="0.9" fill="#ef8394"/>
<rect x="630.8" y="591.1" width="41" height="0.9" fill="#e1d9f8"/>
<rect x="630.8" y="591.9" width="41" height="0.9" fill="#f4b0bc"/>
<rect x="630.8" y="592.7" width="41" height="0.9" fill="#be8add"/>
<rect x="630.8" y="593.5" width="41" height="0.9" fill="#f3a2b0"/>
<rect x="630.8" y="594.3" width="41" height="1.4" fill="#ef8595"/>
<rect x="630.8" y="595.6" width="41" height="0.9" fill="#f5b4c0"/>
<rect x="630.8" y="596.4" width="41" height="1.4" fill="#e7455c"/>
<rect x="630.8" y="597.7" width="41" height="1.4" fill="#eb6275"/>
<rect x="630.8" y="599" width="41" height="1.4" fill="#f194a3"/>
<rect x="630.8" y="600.3" width="41" height="1.4" fill="#f199a8"/>
<rect x="630.8" y="601.6" width="41" height="0.9" fill="#f6bdc8"/>
<rect x="630.8" y="602.4" width="41" height="0.9" fill="#fadce4"/>
<rect x="630.8" y="603.2" width="41" height="0.9" fill="#f8d1db"/>
<rect x="630.8" y="604" width="41" height="1.4" fill="#fadae3"/>
<rect x="630.8" y="605.3" width="41" height="0.9" fill="#f6c0ca"/>
<rect x="630.8" y="606.1" width="41" height="1.4" fill="#eb677a"/>
<rect x="630.8" y="607.4" width="41" height="0.9" fill="#fadbe3"/>
<rect x="630.8" y="608.2" width="41" height="1.4" fill="#aa68d4"/>
<rect x="630.8" y="609.5" width="41" height="0.9" fill="#ffffff"/>
<rect x="630.8" y="610.3" width="41" height="0.9" fill="#b174d7"/>
<rect x="630.8" y="611.1" width="41" height="1.4" fill="#eb697c"/>
<rect x="630.8" y="612.4" width="41" height="0.9" fill="#675eef"/>
<rect x="630.8" y="613.2" width="41" height="0.9" fill="#f6c2cc"/>
<rect x="630.8" y="614" width="41" height="0.9" fill="#483eec"/>
<rect x="630.8" y="614.8" width="41" height="0.9" fill="#f9d7df"/>
<rect x="630.8" y="615.6" width="41" height="0.9" fill="#faf0f5"/>
<rect x="630.8" y="616.4" width="41" height="0.9" fill="#dec0ec"/>
<rect x="630.8" y="617.2" width="41" height="0.9" fill="#473dec"/>
<rect x="630.8" y="618" width="41" height="0.9" fill="#f6bfca"/>
<rect x="630.8" y="618.8" width="41" height="0.9" fill="#cca2e4"/>
<rect x="630.8" y="619.6" width="41" height="0.9" fill="#faf0f5"/>
<rect x="630.8" y="620.4" width="41" height="0.9" fill="#dfd7f8"/>
<rect x="630.8" y="621.2" width="41" height="0.9" fill="#e9d3f1"/>
<rect x="630.8" y="622" width="41" height="0.9" fill="#f8cdd7"/>
<rect x="630.8" y="622.8" width="41" height="1.4" fill="#f9d9e2"/>
<rect x="630.8" y="624.1" width="41" height="0.9" fill="#f6bcc7"/>
<rect x="630.8" y="624.9" width="41" height="0.9" fill="#f193a2"/>
<rect x="630.8" y="625.7" width="41" height="1.4" fill="#ffffff"/>
<rect x="630.8" y="627" width="41" height="1.4" fill="#dbbbeb"/>
<rect x="630.8" y="628.3" width="41" height="0.9" fill="#d0c8f7"/>
<rect x="630.8" y="629.1" width="41" height="0.9" fill="#4238ec"/>
<rect x="630.8" y="629.9" width="41" height="0.9" fill="#bf8cde"/>
<rect x="630.8" y="630.7" width="41" height="1.4" fill="#dad2f7"/>
<rect x="630.8" y="632" width="41" height="1.4" fill="#e8d1f0"/>
<rect x="630.8" y="633.3" width="41" height="1.4" fill="#fadbe3"/>
<rect x="630.8" y="634.6" width="41" height="0.9" fill="#bf8bde"/>
<rect x="630.8" y="635.4" width="41" height="1.4" fill="#e84b61"/>
<rect x="630.8" y="636.7" width="41" height="1.4" fill="#e1d9f8"/>
<rect x="630.8" y="638" width="41" height="1.4" fill="#faf0f5"/>
<rect x="630.8" y="639.3" width="41" height="0.9" fill="#f5b6c2"/>
<rect x="630.8" y="640.1" width="41" height="0.9" fill="#f195a4"/>
<rect x="630.8" y="640.9" width="41" height="0.9" fill="#f6bfca"/>
<rect x="630.8" y="641.7" width="41" height="0.9" fill="#8e85f2"/>
<rect x="630.8" y="642.5" width="41" height="0.9" fill="#f2a0ae"/>
<rect x="630.8" y="643.3" width="41" height="1.4" fill="#e63f56"/>
<rect x="630.8" y="644.6" width="41" height="0.9" fill="#fadee6"/>
<rect x="630.8" y="645.4" width="41" height="0.9" fill="#857cf1"/>
<rect x="630.8" y="646.2" width="41" height="0.9" fill="#bc86dc"/>
<rect x="630.8" y="647" width="41" height="1.4" fill="#b9b1f5"/>
<rect x="630.8" y="648.3" width="41" height="0.9" fill="#ddd5f8"/>
<rect x="630.8" y="649.1" width="41" height="0.9" fill="#fadde5"/>
<rect x="630.8" y="649.9" width="41" height="0.9" fill="#e8d2f1"/>
<rect x="630.8" y="650.7" width="41" height="1.4" fill="#e53850"/>
<rect x="630.8" y="652" width="41" height="0.9" fill="#ec6b7e"/>
<rect x="630.8" y="652.8" width="41" height="0.9" fill="#fadbe3"/>
<rect x="630.8" y="653.6" width="41" height="1.4" fill="#d5b2e8"/>
<rect x="630.8" y="654.9" width="41" height="1.4" fill="#ee7f90"/>
<rect x="630.8" y="656.2" width="41" height="0.9" fill="#bdb5f5"/>
<rect x="630.8" y="657" width="41" height="0.9" fill="#c493e0"/>
<rect x="630.8" y="657.8" width="41" height="1.4" fill="#ec6e80"/>
<rect x="630.8" y="659.1" width="41" height="0.9" fill="#e0d8f8"/>
<rect x="630.8" y="659.9" width="41" height="1.4" fill="#ef8293"/>
<rect x="630.8" y="661.2" width="41" height="0.9" fill="#ea5b70"/>
<rect x="630.8" y="662" width="41" height="1.4" fill="#e6cef0"/>
<rect x="630.8" y="663.3" width="41" height="0.9" fill="#f5b7c3"/>
<rect x="630.8" y="664.1" width="41" height="0.9" fill="#ef8595"/>
<rect x="630.8" y="664.9" width="41" height="0.9" fill="#dfd7f8"/>
<rect x="630.8" y="665.7" width="41" height="1.4" fill="#f3a4b1"/>
<rect x="630.8" y="667" width="41" height="0.9" fill="#ba84dc"/>
<rect x="630.8" y="667.8" width="41" height="1.4" fill="#9990f2"/>
<rect x="630.8" y="669.1" width="41" height="0.9" fill="#f8cfd9"/>
<rect x="630.8" y="669.9" width="41" height="0.9" fill="#ebd6f2"/>
<rect x="630.8" y="670.7" width="41" height="1.4" fill="#d8b6e9"/>
<rect x="630.8" y="672" width="41" height="0.9" fill="#d2caf7"/>
<rect x="630.8" y="672.8" width="41" height="1.4" fill="#c7bef6"/>
<rect x="630.8" y="674.1" width="41" height="0.9" fill="#fadde5"/>
<rect x="630.8" y="674.9" width="41" height="0.9" fill="#ed7688"/>
<rect x="630.8" y="675.7" width="41" height="0.9" fill="#857cf1"/>
<rect x="630.8" y="676.5" width="41" height="0.9" fill="#ebd6f2"/>
<rect x="630.8" y="677.3" width="41" height="1.4" fill="#e7d0f0"/>
<rect x="630.8" y="678.6" width="41" height="0.9" fill="#ead5f1"/>
<rect x="630.8" y="679.4" width="41" height="0.9" fill="#faf0f5"/>
<rect x="630.8" y="680.2" width="41" height="0.9" fill="#fadee6"/>
<rect x="630.8" y="681" width="41" height="1.4" fill="#cba1e4"/>
<rect x="630.8" y="682.3" width="41" height="0.9" fill="#b981db"/>
<rect x="630.8" y="683.1" width="41" height="0.9" fill="#ddd5f7"/>
<rect x="630.8" y="683.9" width="41" height="0.9" fill="#f4acb9"/>
<rect x="630.8" y="684.7" width="41" height="0.9" fill="#a299f3"/>
<rect x="630.8" y="685.5" width="41" height="0.9" fill="#ef8596"/>
<rect x="630.8" y="686.3" width="41" height="0.9" fill="#382eeb"/>
<rect x="630.8" y="687.1" width="41" height="1.4" fill="#e43049"/>
<rect x="630.8" y="688.4" width="41" height="0.9" fill="#f7c5d0"/>
<rect x="630.8" y="689.2" width="41" height="0.9" fill="#fadee6"/>
<rect x="630.8" y="690" width="41" height="1.4" fill="#e7445b"/>
<rect x="630.8" y="691.3" width="41" height="0.9" fill="#af70d6"/>
<rect x="630.8" y="692.1" width="41" height="0.9" fill="#f8cad4"/>
<rect x="630.8" y="692.9" width="41" height="1.4" fill="#f5b2bf"/>
<rect x="630.8" y="694.2" width="41" height="0.9" fill="#f6c1cc"/>
<rect x="630.8" y="695" width="41" height="0.9" fill="#ddd5f8"/>
<rect x="630.8" y="695.8" width="41" height="1.4" fill="#a8a0f4"/>
<rect x="630.8" y="697.1" width="41" height="0.9" fill="#f7c7d2"/>
<rect x="630.8" y="697.9" width="41" height="0.9" fill="#ec6d80"/>
<rect x="630.8" y="698.7" width="41" height="0.9" fill="#ddd5f7"/>
<rect x="630.8" y="699.5" width="41" height="0.9" fill="#dbd3f7"/>
<rect x="630.8" y="700.3" width="41" height="0.9" fill="#f9d8e0"/>
<rect x="630.8" y="701.1" width="41" height="0.9" fill="#f4adba"/>
<rect x="630.8" y="701.9" width="41" height="1.4" fill="#f08e9e"/>
<rect x="630.8" y="703.2" width="41" height="0.9" fill="#f2a0ae"/>
<rect x="630.8" y="704" width="41" height="0.9" fill="#fadbe4"/>
<rect x="630.8" y="704.8" width="41" height="0.9" fill="#dcbeeb"/>
<rect x="630.8" y="705.6" width="41" height="0.9" fill="#f7cad4"/>
<rect x="630.8" y="706.4" width="41" height="0.9" fill="#f3a7b4"/>
<rect x="630.8" y="707.2" width="41" height="1.4" fill="#a661d3"/>
<rect x="630.8" y="708.5" width="41" height="1.4" fill="#f2a0ae"/>
<rect x="630.8" y="709.8" width="41" height="0.9" fill="#ee7a8b"/>
<rect x="630.8" y="710.6" width="41" height="1.4" fill="#e84c62"/>
<rect x="630.8" y="711.9" width="41" height="1.4" fill="#837af1"/>
<rect x="630.8" y="713.2" width="41" height="0.9" fill="#ed7184"/>
<rect x="630.8" y="714" width="41" height="1.4" fill="#fadee6"/>
<rect x="630.8" y="715.3" width="41" height="0.9" fill="#f9d3dc"/>
<rect x="630.8" y="716.1" width="41" height="1.4" fill="#ead4f1"/>
<rect x="630.8" y="717.4" width="41" height="0.9" fill="#7067ef"/>
<rect x="630.8" y="718.2" width="41" height="0.9" fill="#fadce5"/>
<rect x="630.8" y="719" width="41" height="0.9" fill="#e8d2f1"/>
<rect x="630.8" y="719.8" width="41" height="1.4" fill="#faf0f5"/>
<rect x="630.8" y="721.1" width="41" height="0.9" fill="#ffffff"/>
<rect x="630.8" y="721.9" width="41" height="0.9" fill="#ebd7f2"/>
<rect x="630.8" y="722.7" width="41" height="0.9" fill="#f9d9e1"/>
<rect x="630.8" y="723.5" width="41" height="0.9" fill="#ee7f91"/>
<rect x="630.8" y="724.3" width="41" height="0.9" fill="#be8add"/>
<rect x="630.8" y="725.1" width="41" height="0.9" fill="#d4afe7"/>
<rect x="630.8" y="725.9" width="41" height="1.4" fill="#bab1f5"/>
<rect x="630.8" y="727.2" width="41" height="0.9" fill="#ada5f4"/>
<rect x="630.8" y="728" width="41" height="0.9" fill="#f5b4c0"/>
<rect x="630.8" y="728.8" width="41" height="0.9" fill="#e64057"/>
<rect x="630.8" y="729.6" width="41" height="0.9" fill="#fadee6"/>
<rect x="630.8" y="730.4" width="41" height="0.9" fill="#968df2"/>
<rect x="630.8" y="731.2" width="41" height="0.9" fill="#d8b7e9"/>
<rect x="630.8" y="732" width="41" height="0.9" fill="#e1d9f8"/>
<rect x="630.8" y="732.8" width="41" height="0.9" fill="#eb6478"/>
<rect x="630.8" y="733.6" width="41" height="1.4" fill="#8f86f2"/>
<rect x="630.8" y="734.9" width="41" height="1.4" fill="#b87fdb"/>
<rect x="630.8" y="736.2" width="41" height="1.4" fill="#e1c7ee"/>
<rect x="630.8" y="737.5" width="41" height="1.4" fill="#fadce4"/>
<rect x="630.8" y="738.8" width="41" height="0.9" fill="#fadde5"/>
<rect x="630.8" y="739.6" width="41" height="0.9" fill="#e4dcf8"/>
<rect x="630.8" y="740.4" width="41" height="0.9" fill="#ffffff"/>
<rect x="630.8" y="741.2" width="41" height="0.9" fill="#b67cda"/>
<rect x="630.8" y="742" width="41" height="0.9" fill="#544aed"/>
<rect x="630.8" y="742.8" width="41" height="0.9" fill="#f8cfd9"/>
<rect x="630.8" y="743.6" width="41" height="0.9" fill="#4f45ed"/>
<rect x="630.8" y="744.4" width="41" height="0.9" fill="#c697e1"/>
<rect x="630.8" y="745.2" width="41" height="0.9" fill="#f193a2"/>
<rect x="630.8" y="746" width="41" height="1.4" fill="#fadee6"/>
<rect x="630.8" y="747.3" width="41" height="1.4" fill="#f8cbd5"/>
<rect x="630.8" y="748.6" width="41" height="0.9" fill="#b9b1f5"/>
<rect x="630.8" y="749.4" width="41" height="0.9" fill="#f9d9e1"/>
<rect x="630.8" y="750.2" width="41" height="0.9" fill="#e3dbf8"/>
<rect x="630.8" y="751" width="41" height="1.4" fill="#6d63ef"/>
<rect x="630.8" y="752.3" width="41" height="1.4" fill="#fadee6"/>
<rect x="630.8" y="753.6" width="41" height="0.9" fill="#f9d5de"/>
<rect x="630.8" y="754.4" width="41" height="1.4" fill="#b8b0f5"/>
<rect x="630.8" y="755.7" width="41" height="0.2" fill="#887ff1"/>
<line x1="491.2" y1="589.3" x2="491.2" y2="752.3" stroke="#000" stroke-width="1.6"/>
<text x="517.8" y="580.9" font-size="9.95" text-anchor="middle">PCBP1</text>
<text x="562.7" y="580.9" font-size="9.95" text-anchor="middle">ISG15</text>
<text x="606.9" y="580.9" font-size="9.95" text-anchor="middle">IRF3</text>
<text x="650.7" y="580.9" font-size="9.95" text-anchor="middle">IRF7</text>
<text transform="translate(472.6 666.5) rotate(-90)" font-size="10.5" font-weight="bold" text-anchor="middle">Human Breast Cancer</text>
<text transform="translate(483.8 666.5) rotate(-90)" font-size="10.4" text-anchor="middle">(1247 samples)</text>
<path d="M119 822.5h1.4v1.4h-1.4zM115.5 823.9h1.4v1.4h-1.4zM115.5 826h1.4v1.4h-1.4zM109.2 826.7h1.4v1.4h-1.4zM129.5 826.7h1.4v1.4h-1.4zM113.4 828.1h1.4v1.4h-1.4zM139.3 828.8h1.4v1.4h-1.4zM112.7 829.5h1.4v1.4h-1.4zM132.3 830.2h1.4v1.4h-1.4zM105 832.3h1.4v1.4h-1.4zM126 832.3h1.4v1.4h-1.4zM100.1 833h1.4v1.4h-1.4zM116.2 833h1.4v1.4h-1.4zM119.7 833h1.4v1.4h-1.4zM106.4 833.7h1.4v1.4h-1.4zM107.8 833.7h1.4v1.4h-1.4zM112 833.7h1.4v1.4h-1.4zM114.1 833.7h1.4v1.4h-1.4zM101.5 834.4h1.4v1.4h-1.4zM103.6 834.4h1.4v1.4h-1.4zM113.4 834.4h1.4v1.4h-1.4zM116.2 834.4h1.4v1.4h-1.4zM117.6 834.4h1.4v1.4h-1.4zM128.8 834.4h1.4v1.4h-1.4zM86.8 835.1h1.4v1.4h-1.4zM111.3 835.1h1.4v1.4h-1.4zM112.7 835.1h1.4v1.4h-1.4zM114.1 835.1h1.4v1.4h-1.4zM118.3 835.1h1.4v1.4h-1.4zM122.5 835.1h1.4v1.4h-1.4zM96.6 835.8h1.4v1.4h-1.4zM102.9 835.8h1.4v1.4h-1.4zM109.9 835.8h1.4v1.4h-1.4zM98.7 836.5h2.1v1.4h-2.1zM116.9 836.5h2.1v1.4h-2.1zM119 836.5h1.4v1.4h-1.4zM121.8 836.5h1.4v1.4h-1.4zM124.6 836.5h1.4v1.4h-1.4zM128.8 836.5h1.4v1.4h-1.4zM105.7 837.2h1.4v1.4h-1.4zM107.1 837.2h2.1v1.4h-2.1zM113.4 837.2h1.4v1.4h-1.4zM114.8 837.2h1.4v1.4h-1.4zM104.3 837.9h1.4v1.4h-1.4zM117.6 837.9h1.4v1.4h-1.4zM120.4 837.9h1.4v1.4h-1.4zM122.5 837.9h1.4v1.4h-1.4zM127.4 837.9h1.4v1.4h-1.4zM130.2 837.9h1.4v1.4h-1.4zM79.8 838.6h1.4v1.4h-1.4zM91.7 838.6h1.4v1.4h-1.4zM107.1 838.6h1.4v1.4h-1.4zM108.5 838.6h1.4v1.4h-1.4zM114.8 838.6h1.4v1.4h-1.4zM120.4 838.6h1.4v1.4h-1.4zM131.6 838.6h1.4v1.4h-1.4zM95.2 839.3h1.4v1.4h-1.4zM96.6 839.3h1.4v1.4h-1.4zM108.5 839.3h1.4v1.4h-1.4zM119.7 839.3h1.4v1.4h-1.4zM85.4 840h1.4v1.4h-1.4zM93.1 840h1.4v1.4h-1.4zM97.3 840h1.4v1.4h-1.4zM100.1 840h1.4v1.4h-1.4zM102.9 840h1.4v1.4h-1.4zM108.5 840h1.4v1.4h-1.4zM110.6 840h1.4v1.4h-1.4zM120.4 840h1.4v1.4h-1.4zM126 840h1.4v1.4h-1.4zM90.3 840.7h2.1v1.4h-2.1zM95.9 840.7h1.4v1.4h-1.4zM101.5 840.7h1.4v1.4h-1.4zM105 840.7h3.5v1.4h-3.5zM111.3 840.7h1.4v1.4h-1.4zM113.4 840.7h1.4v1.4h-1.4zM84 841.4h1.4v1.4h-1.4zM98.7 841.4h1.4v1.4h-1.4zM100.1 841.4h2.1v1.4h-2.1zM107.1 841.4h1.4v1.4h-1.4zM110.6 841.4h1.4v1.4h-1.4zM112 841.4h1.4v1.4h-1.4zM115.5 841.4h1.4v1.4h-1.4zM116.9 841.4h1.4v1.4h-1.4zM98.7 842.1h1.4v1.4h-1.4zM100.1 842.1h2.1v1.4h-2.1zM109.2 842.1h1.4v1.4h-1.4zM110.6 842.1h2.8v1.4h-2.8zM114.1 842.1h1.4v1.4h-1.4zM122.5 842.1h1.4v1.4h-1.4zM98.7 842.8h1.4v1.4h-1.4zM101.5 842.8h1.4v1.4h-1.4zM104.3 842.8h2.1v1.4h-2.1zM106.4 842.8h1.4v1.4h-1.4zM113.4 842.8h1.4v1.4h-1.4zM122.5 842.8h1.4v1.4h-1.4zM79.1 843.5h1.4v1.4h-1.4zM84.7 843.5h1.4v1.4h-1.4zM93.1 843.5h1.4v1.4h-1.4zM96.6 843.5h1.4v1.4h-1.4zM100.8 843.5h1.4v1.4h-1.4zM105.7 843.5h2.8v1.4h-2.8zM113.4 843.5h2.1v1.4h-2.1zM121.1 843.5h1.4v1.4h-1.4zM89.6 844.2h1.4v1.4h-1.4zM95.9 844.2h1.4v1.4h-1.4zM98.7 844.2h1.4v1.4h-1.4zM100.8 844.2h1.4v1.4h-1.4zM102.2 844.2h1.4v1.4h-1.4zM105.7 844.2h1.4v1.4h-1.4zM107.8 844.2h2.1v1.4h-2.1zM110.6 844.2h1.4v1.4h-1.4zM114.1 844.2h1.4v1.4h-1.4zM118.3 844.2h2.8v1.4h-2.8zM121.8 844.2h2.1v1.4h-2.1zM126.7 844.2h1.4v1.4h-1.4zM98 844.9h1.4v1.4h-1.4zM99.4 844.9h1.4v1.4h-1.4zM100.8 844.9h1.4v1.4h-1.4zM102.9 844.9h1.4v1.4h-1.4zM105 844.9h1.4v1.4h-1.4zM107.1 844.9h2.1v1.4h-2.1zM111.3 844.9h1.4v1.4h-1.4zM113.4 844.9h2.8v1.4h-2.8zM117.6 844.9h2.1v1.4h-2.1zM128.1 844.9h1.4v1.4h-1.4zM86.8 845.6h1.4v1.4h-1.4zM88.2 845.6h1.4v1.4h-1.4zM91 845.6h1.4v1.4h-1.4zM92.4 845.6h1.4v1.4h-1.4zM96.6 845.6h2.8v1.4h-2.8zM100.8 845.6h1.4v1.4h-1.4zM105 845.6h1.4v1.4h-1.4zM107.8 845.6h2.1v1.4h-2.1zM109.9 845.6h1.4v1.4h-1.4zM113.4 845.6h2.8v1.4h-2.8zM127.4 845.6h1.4v1.4h-1.4zM84.7 846.3h1.4v1.4h-1.4zM92.4 846.3h1.4v1.4h-1.4zM95.9 846.3h2.1v1.4h-2.1zM101.5 846.3h2.1v1.4h-2.1zM105.7 846.3h1.4v1.4h-1.4zM107.1 846.3h1.4v1.4h-1.4zM109.2 846.3h2.1v1.4h-2.1zM112 846.3h3.5v1.4h-3.5zM116.2 846.3h1.4v1.4h-1.4zM144.9 846.3h1.4v1.4h-1.4zM94.5 847h4.2v1.4h-4.2zM99.4 847h1.4v1.4h-1.4zM100.8 847h1.4v1.4h-1.4zM105 847h2.1v1.4h-2.1zM107.8 847h1.4v1.4h-1.4zM109.2 847h1.4v1.4h-1.4zM111.3 847h2.1v1.4h-2.1zM114.1 847h1.4v1.4h-1.4zM116.9 847h1.4v1.4h-1.4zM86.1 847.7h1.4v1.4h-1.4zM88.2 847.7h1.4v1.4h-1.4zM89.6 847.7h2.1v1.4h-2.1zM93.1 847.7h1.4v1.4h-1.4zM95.2 847.7h1.4v1.4h-1.4zM96.6 847.7h1.4v1.4h-1.4zM99.4 847.7h1.4v1.4h-1.4zM102.9 847.7h2.8v1.4h-2.8zM107.1 847.7h1.4v1.4h-1.4zM110.6 847.7h1.4v1.4h-1.4zM115.5 847.7h1.4v1.4h-1.4zM118.3 847.7h1.4v1.4h-1.4zM120.4 847.7h1.4v1.4h-1.4zM83.3 848.4h1.4v1.4h-1.4zM89.6 848.4h1.4v1.4h-1.4zM95.2 848.4h1.4v1.4h-1.4zM98 848.4h2.1v1.4h-2.1zM100.8 848.4h1.4v1.4h-1.4zM102.2 848.4h2.1v1.4h-2.1zM105 848.4h1.4v1.4h-1.4zM106.4 848.4h1.4v1.4h-1.4zM109.2 848.4h2.1v1.4h-2.1zM111.3 848.4h2.1v1.4h-2.1zM115.5 848.4h1.4v1.4h-1.4zM116.9 848.4h1.4v1.4h-1.4zM118.3 848.4h1.4v1.4h-1.4zM127.4 848.4h1.4v1.4h-1.4zM86.8 849.1h1.4v1.4h-1.4zM88.2 849.1h1.4v1.4h-1.4zM93.1 849.1h1.4v1.4h-1.4zM95.2 849.1h2.1v1.4h-2.1zM97.3 849.1h1.4v1.4h-1.4zM100.8 849.1h2.1v1.4h-2.1zM103.6 849.1h1.4v1.4h-1.4zM105.7 849.1h1.4v1.4h-1.4zM107.8 849.1h1.4v1.4h-1.4zM111.3 849.1h1.4v1.4h-1.4zM112.7 849.1h1.4v1.4h-1.4zM114.1 849.1h1.4v1.4h-1.4zM115.5 849.1h2.1v1.4h-2.1zM125.3 849.1h1.4v1.4h-1.4zM127.4 849.1h1.4v1.4h-1.4zM77.7 849.8h1.4v1.4h-1.4zM90.3 849.8h1.4v1.4h-1.4zM91.7 849.8h1.4v1.4h-1.4zM94.5 849.8h1.4v1.4h-1.4zM95.9 849.8h3.5v1.4h-3.5zM99.4 849.8h1.4v1.4h-1.4zM101.5 849.8h1.4v1.4h-1.4zM102.9 849.8h2.8v1.4h-2.8zM105.7 849.8h1.4v1.4h-1.4zM107.8 849.8h2.8v1.4h-2.8zM111.3 849.8h2.1v1.4h-2.1zM89.6 850.5h1.4v1.4h-1.4zM91 850.5h1.4v1.4h-1.4zM94.5 850.5h1.4v1.4h-1.4zM98 850.5h1.4v1.4h-1.4zM103.6 850.5h1.4v1.4h-1.4zM105.7 850.5h2.1v1.4h-2.1zM107.8 850.5h2.1v1.4h-2.1zM110.6 850.5h1.4v1.4h-1.4zM119 850.5h1.4v1.4h-1.4zM122.5 850.5h1.4v1.4h-1.4zM78.4 851.2h1.4v1.4h-1.4zM82.6 851.2h1.4v1.4h-1.4zM87.5 851.2h1.4v1.4h-1.4zM90.3 851.2h1.4v1.4h-1.4zM91.7 851.2h1.4v1.4h-1.4zM95.9 851.2h1.4v1.4h-1.4zM97.3 851.2h1.4v1.4h-1.4zM99.4 851.2h1.4v1.4h-1.4zM100.8 851.2h2.1v1.4h-2.1zM103.6 851.2h1.4v1.4h-1.4zM105 851.2h2.8v1.4h-2.8zM108.5 851.2h3.5v1.4h-3.5zM112 851.2h2.1v1.4h-2.1zM116.2 851.2h1.4v1.4h-1.4zM119.7 851.2h1.4v1.4h-1.4zM121.1 851.2h1.4v1.4h-1.4zM123.2 851.2h1.4v1.4h-1.4zM82.6 851.9h1.4v1.4h-1.4zM84.7 851.9h1.4v1.4h-1.4zM87.5 851.9h1.4v1.4h-1.4zM88.9 851.9h1.4v1.4h-1.4zM91.7 851.9h1.4v1.4h-1.4zM93.1 851.9h3.5v1.4h-3.5zM97.3 851.9h1.4v1.4h-1.4zM98.7 851.9h2.8v1.4h-2.8zM101.5 851.9h1.4v1.4h-1.4zM105 851.9h2.1v1.4h-2.1zM107.8 851.9h1.4v1.4h-1.4zM109.2 851.9h2.1v1.4h-2.1zM111.3 851.9h1.4v1.4h-1.4zM113.4 851.9h2.1v1.4h-2.1zM115.5 851.9h1.4v1.4h-1.4zM117.6 851.9h1.4v1.4h-1.4zM120.4 851.9h1.4v1.4h-1.4zM138.6 851.9h1.4v1.4h-1.4zM73.5 852.6h1.4v1.4h-1.4zM81.2 852.6h1.4v1.4h-1.4zM84.7 852.6h1.4v1.4h-1.4zM89.6 852.6h1.4v1.4h-1.4zM91.7 852.6h2.1v1.4h-2.1zM93.8 852.6h9.8v1.4h-9.8zM103.6 852.6h2.1v1.4h-2.1zM109.2 852.6h3.5v1.4h-3.5zM113.4 852.6h1.4v1.4h-1.4zM117.6 852.6h1.4v1.4h-1.4zM122.5 852.6h1.4v1.4h-1.4zM123.9 852.6h1.4v1.4h-1.4zM126 852.6h1.4v1.4h-1.4zM88.2 853.3h2.1v1.4h-2.1zM91.7 853.3h1.4v1.4h-1.4zM93.8 853.3h1.4v1.4h-1.4zM97.3 853.3h1.4v1.4h-1.4zM98.7 853.3h1.4v1.4h-1.4zM100.1 853.3h2.1v1.4h-2.1zM102.2 853.3h2.1v1.4h-2.1zM104.3 853.3h2.1v1.4h-2.1zM113.4 853.3h1.4v1.4h-1.4zM116.2 853.3h1.4v1.4h-1.4zM79.8 854h1.4v1.4h-1.4zM82.6 854h1.4v1.4h-1.4zM85.4 854h1.4v1.4h-1.4zM88.2 854h1.4v1.4h-1.4zM91 854h2.8v1.4h-2.8zM93.8 854h2.1v1.4h-2.1zM96.6 854h1.4v1.4h-1.4zM98 854h2.1v1.4h-2.1zM100.1 854h1.4v1.4h-1.4zM101.5 854h2.1v1.4h-2.1zM103.6 854h2.8v1.4h-2.8zM107.1 854h1.4v1.4h-1.4zM109.2 854h1.4v1.4h-1.4zM114.1 854h1.4v1.4h-1.4zM115.5 854h1.4v1.4h-1.4zM119.7 854h1.4v1.4h-1.4zM122.5 854h1.4v1.4h-1.4zM87.5 854.7h2.1v1.4h-2.1zM89.6 854.7h1.4v1.4h-1.4zM92.4 854.7h5v1.4h-5zM98.7 854.7h1.4v1.4h-1.4zM100.1 854.7h2.1v1.4h-2.1zM104.3 854.7h2.8v1.4h-2.8zM107.1 854.7h1.4v1.4h-1.4zM108.5 854.7h1.4v1.4h-1.4zM112 854.7h1.4v1.4h-1.4zM114.8 854.7h1.4v1.4h-1.4zM116.2 854.7h1.4v1.4h-1.4zM117.6 854.7h1.4v1.4h-1.4zM120.4 854.7h1.4v1.4h-1.4zM80.5 855.4h1.4v1.4h-1.4zM84.7 855.4h1.4v1.4h-1.4zM88.2 855.4h2.8v1.4h-2.8zM92.4 855.4h1.4v1.4h-1.4zM95.2 855.4h1.4v1.4h-1.4zM96.6 855.4h1.4v1.4h-1.4zM98 855.4h1.4v1.4h-1.4zM99.4 855.4h7v1.4h-7zM109.9 855.4h2.8v1.4h-2.8zM112.7 855.4h2.1v1.4h-2.1zM115.5 855.4h3.5v1.4h-3.5zM119 855.4h1.4v1.4h-1.4zM127.4 855.4h1.4v1.4h-1.4zM79.8 856.1h1.4v1.4h-1.4zM84.7 856.1h1.4v1.4h-1.4zM86.1 856.1h2.1v1.4h-2.1zM88.9 856.1h1.4v1.4h-1.4zM90.3 856.1h1.4v1.4h-1.4zM91.7 856.1h2.1v1.4h-2.1zM93.8 856.1h2.1v1.4h-2.1zM95.9 856.1h2.8v1.4h-2.8zM98.7 856.1h1.4v1.4h-1.4zM100.8 856.1h2.1v1.4h-2.1zM103.6 856.1h4.2v1.4h-4.2zM107.8 856.1h2.1v1.4h-2.1zM110.6 856.1h2.8v1.4h-2.8zM117.6 856.1h1.4v1.4h-1.4zM119 856.1h2.1v1.4h-2.1zM127.4 856.1h1.4v1.4h-1.4zM77 856.8h1.4v1.4h-1.4zM79.8 856.8h1.4v1.4h-1.4zM86.1 856.8h2.8v1.4h-2.8zM88.9 856.8h1.4v1.4h-1.4zM91 856.8h5.6v1.4h-5.6zM97.3 856.8h3.5v1.4h-3.5zM101.5 856.8h2.8v1.4h-2.8zM104.3 856.8h2.1v1.4h-2.1zM106.4 856.8h2.1v1.4h-2.1zM109.9 856.8h1.4v1.4h-1.4zM112 856.8h2.1v1.4h-2.1zM114.8 856.8h1.4v1.4h-1.4zM116.2 856.8h1.4v1.4h-1.4zM77 857.5h1.4v1.4h-1.4zM79.1 857.5h1.4v1.4h-1.4zM81.9 857.5h1.4v1.4h-1.4zM87.5 857.5h1.4v1.4h-1.4zM88.9 857.5h1.4v1.4h-1.4zM93.1 857.5h3.5v1.4h-3.5zM96.6 857.5h2.8v1.4h-2.8zM102.2 857.5h1.4v1.4h-1.4zM103.6 857.5h2.1v1.4h-2.1zM107.1 857.5h1.4v1.4h-1.4zM109.2 857.5h1.4v1.4h-1.4zM110.6 857.5h2.8v1.4h-2.8zM113.4 857.5h1.4v1.4h-1.4zM125.3 857.5h1.4v1.4h-1.4zM136.5 857.5h1.4v1.4h-1.4zM80.5 858.2h1.4v1.4h-1.4zM84 858.2h1.4v1.4h-1.4zM86.8 858.2h1.4v1.4h-1.4zM88.9 858.2h2.8v1.4h-2.8zM93.1 858.2h2.1v1.4h-2.1zM98.7 858.2h3.5v1.4h-3.5zM102.2 858.2h4.2v1.4h-4.2zM108.5 858.2h2.1v1.4h-2.1zM110.6 858.2h1.4v1.4h-1.4zM113.4 858.2h1.4v1.4h-1.4zM119.7 858.2h1.4v1.4h-1.4zM126.7 858.2h1.4v1.4h-1.4zM74.2 858.9h1.4v1.4h-1.4zM77.7 858.9h1.4v1.4h-1.4zM81.2 858.9h1.4v1.4h-1.4zM86.1 858.9h2.8v1.4h-2.8zM89.6 858.9h2.1v1.4h-2.1zM93.8 858.9h1.4v1.4h-1.4zM95.2 858.9h1.4v1.4h-1.4zM96.6 858.9h3.5v1.4h-3.5zM100.1 858.9h1.4v1.4h-1.4zM102.2 858.9h1.4v1.4h-1.4zM103.6 858.9h2.1v1.4h-2.1zM107.1 858.9h1.4v1.4h-1.4zM108.5 858.9h3.5v1.4h-3.5zM114.8 858.9h1.4v1.4h-1.4zM117.6 858.9h1.4v1.4h-1.4zM122.5 858.9h1.4v1.4h-1.4zM126.7 858.9h1.4v1.4h-1.4zM130.9 858.9h1.4v1.4h-1.4zM81.9 859.6h1.4v1.4h-1.4zM86.1 859.6h2.1v1.4h-2.1zM88.9 859.6h3.5v1.4h-3.5zM92.4 859.6h1.4v1.4h-1.4zM94.5 859.6h1.4v1.4h-1.4zM95.9 859.6h2.1v1.4h-2.1zM98 859.6h2.1v1.4h-2.1zM105 859.6h2.1v1.4h-2.1zM107.1 859.6h1.4v1.4h-1.4zM108.5 859.6h3.5v1.4h-3.5zM112 859.6h1.4v1.4h-1.4zM116.2 859.6h1.4v1.4h-1.4zM122.5 859.6h1.4v1.4h-1.4zM125.3 859.6h1.4v1.4h-1.4zM77 860.3h1.4v1.4h-1.4zM82.6 860.3h1.4v1.4h-1.4zM84.7 860.3h1.4v1.4h-1.4zM86.1 860.3h1.4v1.4h-1.4zM92.4 860.3h1.4v1.4h-1.4zM94.5 860.3h2.1v1.4h-2.1zM97.3 860.3h1.4v1.4h-1.4zM99.4 860.3h1.4v1.4h-1.4zM100.8 860.3h4.2v1.4h-4.2zM106.4 860.3h2.1v1.4h-2.1zM109.2 860.3h1.4v1.4h-1.4zM112.7 860.3h1.4v1.4h-1.4zM116.2 860.3h2.8v1.4h-2.8zM126 860.3h1.4v1.4h-1.4zM81.2 861h1.4v1.4h-1.4zM86.8 861h2.1v1.4h-2.1zM91 861h2.1v1.4h-2.1zM93.8 861h2.1v1.4h-2.1zM95.9 861h4.2v1.4h-4.2zM100.1 861h1.4v1.4h-1.4zM101.5 861h1.4v1.4h-1.4zM105 861h1.4v1.4h-1.4zM112 861h1.4v1.4h-1.4zM113.4 861h3.5v1.4h-3.5zM69.3 861.7h1.4v1.4h-1.4zM83.3 861.7h1.4v1.4h-1.4zM88.2 861.7h2.1v1.4h-2.1zM91 861.7h1.4v1.4h-1.4zM92.4 861.7h2.1v1.4h-2.1zM94.5 861.7h1.4v1.4h-1.4zM97.3 861.7h1.4v1.4h-1.4zM99.4 861.7h1.4v1.4h-1.4zM100.8 861.7h1.4v1.4h-1.4zM102.9 861.7h2.8v1.4h-2.8zM106.4 861.7h2.1v1.4h-2.1zM108.5 861.7h1.4v1.4h-1.4zM114.1 861.7h1.4v1.4h-1.4zM121.1 861.7h1.4v1.4h-1.4zM76.3 862.4h1.4v1.4h-1.4zM79.1 862.4h1.4v1.4h-1.4zM80.5 862.4h1.4v1.4h-1.4zM83.3 862.4h1.4v1.4h-1.4zM86.1 862.4h5v1.4h-5zM92.4 862.4h2.1v1.4h-2.1zM95.9 862.4h1.4v1.4h-1.4zM98.7 862.4h1.4v1.4h-1.4zM100.8 862.4h1.4v1.4h-1.4zM102.2 862.4h2.8v1.4h-2.8zM106.4 862.4h1.4v1.4h-1.4zM107.8 862.4h1.4v1.4h-1.4zM110.6 862.4h1.4v1.4h-1.4zM113.4 862.4h2.1v1.4h-2.1zM116.2 862.4h1.4v1.4h-1.4zM120.4 862.4h1.4v1.4h-1.4zM128.1 862.4h1.4v1.4h-1.4zM73.5 863.1h1.4v1.4h-1.4zM82.6 863.1h2.1v1.4h-2.1zM84.7 863.1h3.5v1.4h-3.5zM89.6 863.1h1.4v1.4h-1.4zM92.4 863.1h1.4v1.4h-1.4zM93.8 863.1h1.4v1.4h-1.4zM95.2 863.1h2.1v1.4h-2.1zM98 863.1h1.4v1.4h-1.4zM100.1 863.1h2.8v1.4h-2.8zM102.9 863.1h2.1v1.4h-2.1zM117.6 863.1h1.4v1.4h-1.4zM119 863.1h1.4v1.4h-1.4zM125.3 863.1h1.4v1.4h-1.4zM74.2 863.8h1.4v1.4h-1.4zM79.8 863.8h1.4v1.4h-1.4zM84.7 863.8h2.1v1.4h-2.1zM87.5 863.8h2.1v1.4h-2.1zM89.6 863.8h2.1v1.4h-2.1zM91.7 863.8h2.8v1.4h-2.8zM94.5 863.8h1.4v1.4h-1.4zM95.9 863.8h1.4v1.4h-1.4zM97.3 863.8h1.4v1.4h-1.4zM98.7 863.8h2.8v1.4h-2.8zM102.2 863.8h2.8v1.4h-2.8zM105.7 863.8h2.1v1.4h-2.1zM110.6 863.8h1.4v1.4h-1.4zM112.7 863.8h1.4v1.4h-1.4zM77 864.5h2.1v1.4h-2.1zM79.1 864.5h1.4v1.4h-1.4zM82.6 864.5h1.4v1.4h-1.4zM84 864.5h1.4v1.4h-1.4zM88.9 864.5h2.1v1.4h-2.1zM91.7 864.5h2.1v1.4h-2.1zM93.8 864.5h1.4v1.4h-1.4zM98.7 864.5h2.1v1.4h-2.1zM101.5 864.5h2.1v1.4h-2.1zM105 864.5h2.1v1.4h-2.1zM107.1 864.5h2.1v1.4h-2.1zM114.1 864.5h1.4v1.4h-1.4zM115.5 864.5h1.4v1.4h-1.4zM67.2 865.2h1.4v1.4h-1.4zM86.1 865.2h1.4v1.4h-1.4zM88.2 865.2h1.4v1.4h-1.4zM91 865.2h1.4v1.4h-1.4zM92.4 865.2h3.5v1.4h-3.5zM95.9 865.2h1.4v1.4h-1.4zM97.3 865.2h1.4v1.4h-1.4zM98.7 865.2h2.1v1.4h-2.1zM102.2 865.2h2.8v1.4h-2.8zM105 865.2h2.1v1.4h-2.1zM108.5 865.2h1.4v1.4h-1.4zM69.3 865.9h1.4v1.4h-1.4zM74.9 865.9h1.4v1.4h-1.4zM76.3 865.9h1.4v1.4h-1.4zM78.4 865.9h1.4v1.4h-1.4zM80.5 865.9h1.4v1.4h-1.4zM84 865.9h1.4v1.4h-1.4zM86.1 865.9h1.4v1.4h-1.4zM88.2 865.9h1.4v1.4h-1.4zM90.3 865.9h1.4v1.4h-1.4zM92.4 865.9h2.1v1.4h-2.1zM95.2 865.9h1.4v1.4h-1.4zM96.6 865.9h1.4v1.4h-1.4zM98 865.9h2.8v1.4h-2.8zM100.8 865.9h2.8v1.4h-2.8zM103.6 865.9h1.4v1.4h-1.4zM105 865.9h2.1v1.4h-2.1zM107.8 865.9h1.4v1.4h-1.4zM112 865.9h1.4v1.4h-1.4zM113.4 865.9h1.4v1.4h-1.4zM70 866.6h2.1v1.4h-2.1zM79.1 866.6h1.4v1.4h-1.4zM80.5 866.6h1.4v1.4h-1.4zM81.9 866.6h1.4v1.4h-1.4zM84.7 866.6h1.4v1.4h-1.4zM88.2 866.6h1.4v1.4h-1.4zM91 866.6h1.4v1.4h-1.4zM93.1 866.6h2.1v1.4h-2.1zM95.9 866.6h2.1v1.4h-2.1zM98.7 866.6h4.2v1.4h-4.2zM104.3 866.6h2.1v1.4h-2.1zM107.1 866.6h2.8v1.4h-2.8zM115.5 866.6h1.4v1.4h-1.4zM70 867.3h1.4v1.4h-1.4zM77 867.3h2.1v1.4h-2.1zM80.5 867.3h2.1v1.4h-2.1zM84.7 867.3h1.4v1.4h-1.4zM86.1 867.3h2.1v1.4h-2.1zM90.3 867.3h2.1v1.4h-2.1zM94.5 867.3h2.1v1.4h-2.1zM96.6 867.3h1.4v1.4h-1.4zM98.7 867.3h1.4v1.4h-1.4zM100.8 867.3h1.4v1.4h-1.4zM102.9 867.3h1.4v1.4h-1.4zM105 867.3h2.1v1.4h-2.1zM108.5 867.3h2.1v1.4h-2.1zM69.3 868h1.4v1.4h-1.4zM77.7 868h1.4v1.4h-1.4zM79.1 868h1.4v1.4h-1.4zM83.3 868h1.4v1.4h-1.4zM87.5 868h2.1v1.4h-2.1zM89.6 868h1.4v1.4h-1.4zM93.1 868h1.4v1.4h-1.4zM95.9 868h2.1v1.4h-2.1zM101.5 868h2.8v1.4h-2.8zM105.7 868h1.4v1.4h-1.4zM107.8 868h1.4v1.4h-1.4zM109.2 868h1.4v1.4h-1.4zM112 868h1.4v1.4h-1.4zM63.7 868.7h1.4v1.4h-1.4zM72.1 868.7h1.4v1.4h-1.4zM79.1 868.7h2.1v1.4h-2.1zM82.6 868.7h2.8v1.4h-2.8zM87.5 868.7h2.8v1.4h-2.8zM96.6 868.7h1.4v1.4h-1.4zM98.7 868.7h2.8v1.4h-2.8zM104.3 868.7h1.4v1.4h-1.4zM112 868.7h1.4v1.4h-1.4zM121.8 868.7h1.4v1.4h-1.4zM77.7 869.4h1.4v1.4h-1.4zM79.1 869.4h1.4v1.4h-1.4zM82.6 869.4h1.4v1.4h-1.4zM88.9 869.4h1.4v1.4h-1.4zM94.5 869.4h1.4v1.4h-1.4zM97.3 869.4h1.4v1.4h-1.4zM98.7 869.4h2.1v1.4h-2.1zM104.3 869.4h2.1v1.4h-2.1zM107.8 869.4h2.1v1.4h-2.1zM77 870.1h1.4v1.4h-1.4zM83.3 870.1h2.8v1.4h-2.8zM86.8 870.1h3.5v1.4h-3.5zM90.3 870.1h2.1v1.4h-2.1zM92.4 870.1h2.1v1.4h-2.1zM95.2 870.1h1.4v1.4h-1.4zM97.3 870.1h1.4v1.4h-1.4zM99.4 870.1h1.4v1.4h-1.4zM100.8 870.1h1.4v1.4h-1.4zM117.6 870.1h1.4v1.4h-1.4zM73.5 870.8h1.4v1.4h-1.4zM83.3 870.8h1.4v1.4h-1.4zM85.4 870.8h2.1v1.4h-2.1zM91 870.8h1.4v1.4h-1.4zM93.1 870.8h1.4v1.4h-1.4zM95.9 870.8h1.4v1.4h-1.4zM97.3 870.8h1.4v1.4h-1.4zM98.7 870.8h1.4v1.4h-1.4zM100.8 870.8h1.4v1.4h-1.4zM104.3 870.8h1.4v1.4h-1.4zM107.1 870.8h1.4v1.4h-1.4zM116.2 870.8h1.4v1.4h-1.4zM72.8 871.5h1.4v1.4h-1.4zM75.6 871.5h1.4v1.4h-1.4zM83.3 871.5h1.4v1.4h-1.4zM86.1 871.5h1.4v1.4h-1.4zM94.5 871.5h1.4v1.4h-1.4zM98.7 871.5h2.1v1.4h-2.1zM107.1 871.5h1.4v1.4h-1.4zM114.8 871.5h1.4v1.4h-1.4zM77 872.2h1.4v1.4h-1.4zM84.7 872.2h1.4v1.4h-1.4zM86.1 872.2h2.1v1.4h-2.1zM89.6 872.2h2.1v1.4h-2.1zM91.7 872.2h1.4v1.4h-1.4zM94.5 872.2h1.4v1.4h-1.4zM95.9 872.2h1.4v1.4h-1.4zM97.3 872.2h2.1v1.4h-2.1zM102.2 872.2h1.4v1.4h-1.4zM109.9 872.2h1.4v1.4h-1.4zM70.7 872.9h1.4v1.4h-1.4zM77.7 872.9h1.4v1.4h-1.4zM81.2 872.9h1.4v1.4h-1.4zM85.4 872.9h1.4v1.4h-1.4zM87.5 872.9h1.4v1.4h-1.4zM91.7 872.9h1.4v1.4h-1.4zM100.1 872.9h2.1v1.4h-2.1zM107.1 872.9h1.4v1.4h-1.4zM71.4 873.6h1.4v1.4h-1.4zM77.7 873.6h1.4v1.4h-1.4zM85.4 873.6h2.1v1.4h-2.1zM94.5 873.6h1.4v1.4h-1.4zM96.6 873.6h1.4v1.4h-1.4zM107.8 873.6h1.4v1.4h-1.4zM67.9 874.3h1.4v1.4h-1.4zM74.9 874.3h1.4v1.4h-1.4zM86.1 874.3h1.4v1.4h-1.4zM87.5 874.3h1.4v1.4h-1.4zM91 874.3h1.4v1.4h-1.4zM94.5 874.3h1.4v1.4h-1.4zM98.7 874.3h1.4v1.4h-1.4zM104.3 874.3h1.4v1.4h-1.4zM60.9 875h1.4v1.4h-1.4zM76.3 875h1.4v1.4h-1.4zM81.2 875h1.4v1.4h-1.4zM84 875h1.4v1.4h-1.4zM85.4 875h1.4v1.4h-1.4zM91 875h1.4v1.4h-1.4zM97.3 875h2.8v1.4h-2.8zM102.2 875h1.4v1.4h-1.4zM91.7 875.7h1.4v1.4h-1.4zM81.2 876.4h1.4v1.4h-1.4zM84 876.4h1.4v1.4h-1.4zM89.6 876.4h2.1v1.4h-2.1zM98 876.4h1.4v1.4h-1.4zM103.6 876.4h1.4v1.4h-1.4zM70.7 877.1h1.4v1.4h-1.4zM84.7 877.1h1.4v1.4h-1.4zM91.7 877.1h1.4v1.4h-1.4zM98 877.1h1.4v1.4h-1.4zM101.5 877.1h1.4v1.4h-1.4zM108.5 877.1h1.4v1.4h-1.4zM84 877.8h1.4v1.4h-1.4zM88.9 877.8h1.4v1.4h-1.4zM90.3 877.8h1.4v1.4h-1.4zM91 878.5h2.8v1.4h-2.8zM95.2 878.5h1.4v1.4h-1.4zM71.4 879.2h1.4v1.4h-1.4zM80.5 879.2h1.4v1.4h-1.4zM95.9 879.2h1.4v1.4h-1.4zM97.3 879.2h1.4v1.4h-1.4zM102.2 879.2h1.4v1.4h-1.4zM83.3 879.9h1.4v1.4h-1.4zM92.4 879.9h1.4v1.4h-1.4zM69.3 880.6h1.4v1.4h-1.4zM77.7 880.6h1.4v1.4h-1.4zM79.1 880.6h1.4v1.4h-1.4zM95.2 880.6h1.4v1.4h-1.4zM58.1 881.3h1.4v1.4h-1.4zM74.2 881.3h1.4v1.4h-1.4zM81.2 882h1.4v1.4h-1.4zM83.3 882h1.4v1.4h-1.4zM78.4 882.7h1.4v1.4h-1.4zM97.3 882.7h1.4v1.4h-1.4zM67.2 883.4h1.4v1.4h-1.4zM73.5 883.4h1.4v1.4h-1.4zM77.7 883.4h1.4v1.4h-1.4zM86.8 883.4h1.4v1.4h-1.4zM93.8 883.4h1.4v1.4h-1.4zM87.5 884.1h1.4v1.4h-1.4zM86.1 884.8h1.4v1.4h-1.4zM65.8 885.5h1.4v1.4h-1.4zM75.6 885.5h2.1v1.4h-2.1zM81.9 885.5h1.4v1.4h-1.4zM110.6 885.5h1.4v1.4h-1.4zM67.9 886.2h1.4v1.4h-1.4zM71.4 886.2h1.4v1.4h-1.4zM90.3 887.6h1.4v1.4h-1.4zM89.6 889h1.4v1.4h-1.4zM64.4 891.1h1.4v1.4h-1.4z" fill="#9a22a2"/>
<line x1="56.5" y1="872.4" x2="143.3" y2="835.6" stroke="#111" stroke-width="1"/>
<line x1="46" y1="791.5" x2="46" y2="914.8" stroke="#000" stroke-width="1.7"/>
<line x1="45.2" y1="914" x2="172.1" y2="914" stroke="#000" stroke-width="1.7"/>
<line x1="39.8" y1="792.3" x2="46" y2="792.3" stroke="#000" stroke-width="1.6"/>
<text x="38.4" y="795.2" font-size="8" text-anchor="end" font-weight="bold">20</text>
<line x1="39.8" y1="822.7" x2="46" y2="822.7" stroke="#000" stroke-width="1.6"/>
<text x="38.4" y="825.6" font-size="8" text-anchor="end" font-weight="bold">15</text>
<line x1="39.8" y1="853.1" x2="46" y2="853.1" stroke="#000" stroke-width="1.6"/>
<text x="38.4" y="856" font-size="8" text-anchor="end" font-weight="bold">10</text>
<line x1="39.8" y1="883.6" x2="46" y2="883.6" stroke="#000" stroke-width="1.6"/>
<text x="38.4" y="886.5" font-size="8" text-anchor="end" font-weight="bold">5</text>
<line x1="39.8" y1="914" x2="46" y2="914" stroke="#000" stroke-width="1.6"/>
<text x="38.4" y="916.9" font-size="8" text-anchor="end" font-weight="bold">0</text>
<line x1="46" y1="914" x2="46" y2="919.4" stroke="#000" stroke-width="1.6"/>
<text x="46" y="931" font-size="8" text-anchor="middle" font-weight="bold">6</text>
<line x1="77.3" y1="914" x2="77.3" y2="919.4" stroke="#000" stroke-width="1.6"/>
<text x="77.3" y="931" font-size="8" text-anchor="middle" font-weight="bold">8</text>
<line x1="108.7" y1="914" x2="108.7" y2="919.4" stroke="#000" stroke-width="1.6"/>
<text x="108.7" y="931" font-size="8" text-anchor="middle" font-weight="bold">10</text>
<line x1="140" y1="914" x2="140" y2="919.4" stroke="#000" stroke-width="1.6"/>
<text x="140" y="931" font-size="8" text-anchor="middle" font-weight="bold">12</text>
<line x1="171.3" y1="914" x2="171.3" y2="919.4" stroke="#000" stroke-width="1.6"/>
<text x="171.3" y="931" font-size="8" text-anchor="middle" font-weight="bold">14</text>
<text x="108.7" y="946.5" font-size="10.1" text-anchor="middle">IRF3</text>
<text transform="translate(21.5 853.5) rotate(-90)" font-size="10.2" text-anchor="middle">ISG15</text>
<text x="63" y="801.7" font-size="7.5" fill="#222" letter-spacing="-0.2">r = 0.4424</text>
<text x="117" y="801.7" font-size="7.7" font-weight="bold">p = 1.627<tspan dy="-3" font-size="5.3" font-weight="normal">-59</tspan></text>
<path d="M273.7 829.5h1.4v1.4h-1.4zM288.4 829.5h1.4v1.4h-1.4zM277.9 830.2h1.4v1.4h-1.4zM279.3 830.2h1.4v1.4h-1.4zM298.9 830.2h1.4v1.4h-1.4zM266 830.9h1.4v1.4h-1.4zM231 831.6h1.4v1.4h-1.4zM268.1 831.6h1.4v1.4h-1.4zM275.1 831.6h1.4v1.4h-1.4zM268.1 832.3h1.4v1.4h-1.4zM275.8 832.3h1.4v1.4h-1.4zM289.8 832.3h1.4v1.4h-1.4zM292.6 832.3h1.4v1.4h-1.4zM301 832.3h1.4v1.4h-1.4zM262.5 833h2.1v1.4h-2.1zM279.3 833h1.4v1.4h-1.4zM257.6 833.7h1.4v1.4h-1.4zM267.4 833.7h2.1v1.4h-2.1zM269.5 833.7h1.4v1.4h-1.4zM276.5 833.7h1.4v1.4h-1.4zM278.6 833.7h1.4v1.4h-1.4zM292.6 833.7h1.4v1.4h-1.4zM263.2 834.4h1.4v1.4h-1.4zM287.7 834.4h1.4v1.4h-1.4zM271.6 835.1h1.4v1.4h-1.4zM279.3 835.1h1.4v1.4h-1.4zM285.6 835.1h1.4v1.4h-1.4zM295.4 835.1h1.4v1.4h-1.4zM275.8 835.8h1.4v1.4h-1.4zM281.4 835.8h1.4v1.4h-1.4zM286.3 835.8h1.4v1.4h-1.4zM293.3 835.8h1.4v1.4h-1.4zM297.5 835.8h1.4v1.4h-1.4zM254.8 836.5h1.4v1.4h-1.4zM267.4 836.5h1.4v1.4h-1.4zM268.8 836.5h1.4v1.4h-1.4zM278.6 836.5h1.4v1.4h-1.4zM287 836.5h1.4v1.4h-1.4zM294.7 836.5h1.4v1.4h-1.4zM312.9 836.5h1.4v1.4h-1.4zM252 837.2h1.4v1.4h-1.4zM282.1 837.2h2.1v1.4h-2.1zM284.9 837.2h1.4v1.4h-1.4zM292.6 837.2h1.4v1.4h-1.4zM247.8 837.9h1.4v1.4h-1.4zM254.1 837.9h1.4v1.4h-1.4zM256.9 837.9h2.1v1.4h-2.1zM270.2 837.9h1.4v1.4h-1.4zM271.6 837.9h1.4v1.4h-1.4zM278.6 837.9h1.4v1.4h-1.4zM291.2 837.9h1.4v1.4h-1.4zM236.6 838.6h1.4v1.4h-1.4zM262.5 838.6h1.4v1.4h-1.4zM276.5 838.6h2.8v1.4h-2.8zM280 838.6h1.4v1.4h-1.4zM287.7 838.6h1.4v1.4h-1.4zM289.1 838.6h1.4v1.4h-1.4zM294 838.6h1.4v1.4h-1.4zM296.8 838.6h1.4v1.4h-1.4zM298.9 838.6h1.4v1.4h-1.4zM252 839.3h1.4v1.4h-1.4zM270.2 839.3h1.4v1.4h-1.4zM277.2 839.3h1.4v1.4h-1.4zM282.1 839.3h1.4v1.4h-1.4zM284.9 839.3h1.4v1.4h-1.4zM293.3 839.3h1.4v1.4h-1.4zM297.5 839.3h1.4v1.4h-1.4zM259 840h1.4v1.4h-1.4zM267.4 840h1.4v1.4h-1.4zM277.9 840h1.4v1.4h-1.4zM286.3 840h1.4v1.4h-1.4zM290.5 840h1.4v1.4h-1.4zM301 840h1.4v1.4h-1.4zM234.5 840.7h1.4v1.4h-1.4zM254.1 840.7h1.4v1.4h-1.4zM264.6 840.7h1.4v1.4h-1.4zM266 840.7h1.4v1.4h-1.4zM268.1 840.7h1.4v1.4h-1.4zM271.6 840.7h1.4v1.4h-1.4zM278.6 840.7h1.4v1.4h-1.4zM280.7 840.7h1.4v1.4h-1.4zM299.6 840.7h1.4v1.4h-1.4zM260.4 841.4h1.4v1.4h-1.4zM261.8 841.4h1.4v1.4h-1.4zM265.3 841.4h1.4v1.4h-1.4zM272.3 841.4h1.4v1.4h-1.4zM274.4 841.4h1.4v1.4h-1.4zM281.4 841.4h1.4v1.4h-1.4zM285.6 841.4h1.4v1.4h-1.4zM292.6 841.4h1.4v1.4h-1.4zM294.7 841.4h1.4v1.4h-1.4zM233.8 842.1h1.4v1.4h-1.4zM258.3 842.1h1.4v1.4h-1.4zM263.2 842.1h1.4v1.4h-1.4zM265.3 842.1h1.4v1.4h-1.4zM270.9 842.1h1.4v1.4h-1.4zM277.2 842.1h1.4v1.4h-1.4zM279.3 842.1h1.4v1.4h-1.4zM282.8 842.1h1.4v1.4h-1.4zM284.2 842.1h2.1v1.4h-2.1zM306.6 842.1h1.4v1.4h-1.4zM252.7 842.8h1.4v1.4h-1.4zM254.8 842.8h1.4v1.4h-1.4zM261.1 842.8h1.4v1.4h-1.4zM270.2 842.8h1.4v1.4h-1.4zM272.3 842.8h1.4v1.4h-1.4zM273.7 842.8h1.4v1.4h-1.4zM280.7 842.8h2.1v1.4h-2.1zM283.5 842.8h3.5v1.4h-3.5zM294.7 842.8h1.4v1.4h-1.4zM296.1 842.8h1.4v1.4h-1.4zM298.2 842.8h1.4v1.4h-1.4zM323.4 842.8h1.4v1.4h-1.4zM250.6 843.5h1.4v1.4h-1.4zM255.5 843.5h1.4v1.4h-1.4zM257.6 843.5h1.4v1.4h-1.4zM265.3 843.5h1.4v1.4h-1.4zM268.1 843.5h1.4v1.4h-1.4zM272.3 843.5h2.1v1.4h-2.1zM274.4 843.5h1.4v1.4h-1.4zM275.8 843.5h2.1v1.4h-2.1zM280 843.5h1.4v1.4h-1.4zM284.2 843.5h1.4v1.4h-1.4zM285.6 843.5h1.4v1.4h-1.4zM287 843.5h1.4v1.4h-1.4zM288.4 843.5h1.4v1.4h-1.4zM291.2 843.5h2.1v1.4h-2.1zM293.3 843.5h1.4v1.4h-1.4zM294.7 843.5h1.4v1.4h-1.4zM297.5 843.5h1.4v1.4h-1.4zM301.7 843.5h1.4v1.4h-1.4zM248.5 844.2h1.4v1.4h-1.4zM250.6 844.2h1.4v1.4h-1.4zM254.1 844.2h1.4v1.4h-1.4zM259 844.2h1.4v1.4h-1.4zM270.9 844.2h1.4v1.4h-1.4zM272.3 844.2h1.4v1.4h-1.4zM273.7 844.2h1.4v1.4h-1.4zM275.8 844.2h1.4v1.4h-1.4zM282.8 844.2h1.4v1.4h-1.4zM285.6 844.2h1.4v1.4h-1.4zM287 844.2h1.4v1.4h-1.4zM288.4 844.2h1.4v1.4h-1.4zM289.8 844.2h1.4v1.4h-1.4zM291.9 844.2h1.4v1.4h-1.4zM294 844.2h1.4v1.4h-1.4zM301.7 844.2h1.4v1.4h-1.4zM252.7 844.9h1.4v1.4h-1.4zM258.3 844.9h1.4v1.4h-1.4zM261.1 844.9h1.4v1.4h-1.4zM265.3 844.9h1.4v1.4h-1.4zM268.1 844.9h1.4v1.4h-1.4zM269.5 844.9h2.1v1.4h-2.1zM277.2 844.9h1.4v1.4h-1.4zM278.6 844.9h1.4v1.4h-1.4zM280 844.9h2.1v1.4h-2.1zM282.1 844.9h1.4v1.4h-1.4zM284.2 844.9h1.4v1.4h-1.4zM287 844.9h2.1v1.4h-2.1zM289.1 844.9h1.4v1.4h-1.4zM291.2 844.9h1.4v1.4h-1.4zM297.5 844.9h1.4v1.4h-1.4zM228.9 845.6h1.4v1.4h-1.4zM248.5 845.6h1.4v1.4h-1.4zM259.7 845.6h1.4v1.4h-1.4zM263.2 845.6h1.4v1.4h-1.4zM267.4 845.6h1.4v1.4h-1.4zM270.2 845.6h1.4v1.4h-1.4zM277.9 845.6h1.4v1.4h-1.4zM279.3 845.6h1.4v1.4h-1.4zM280.7 845.6h2.1v1.4h-2.1zM283.5 845.6h1.4v1.4h-1.4zM289.1 845.6h3.5v1.4h-3.5zM294 845.6h1.4v1.4h-1.4zM295.4 845.6h1.4v1.4h-1.4zM263.9 846.3h1.4v1.4h-1.4zM269.5 846.3h1.4v1.4h-1.4zM270.9 846.3h1.4v1.4h-1.4zM272.3 846.3h1.4v1.4h-1.4zM273.7 846.3h1.4v1.4h-1.4zM275.8 846.3h1.4v1.4h-1.4zM277.9 846.3h4.2v1.4h-4.2zM282.1 846.3h1.4v1.4h-1.4zM289.8 846.3h3.5v1.4h-3.5zM297.5 846.3h1.4v1.4h-1.4zM245.7 847h1.4v1.4h-1.4zM250.6 847h1.4v1.4h-1.4zM254.8 847h2.1v1.4h-2.1zM260.4 847h1.4v1.4h-1.4zM263.2 847h1.4v1.4h-1.4zM264.6 847h1.4v1.4h-1.4zM268.1 847h2.1v1.4h-2.1zM270.2 847h1.4v1.4h-1.4zM273 847h1.4v1.4h-1.4zM276.5 847h1.4v1.4h-1.4zM280.7 847h2.1v1.4h-2.1zM284.9 847h1.4v1.4h-1.4zM290.5 847h1.4v1.4h-1.4zM291.9 847h3.5v1.4h-3.5zM296.1 847h1.4v1.4h-1.4zM301.7 847h1.4v1.4h-1.4zM305.2 847h1.4v1.4h-1.4zM310.8 847h1.4v1.4h-1.4zM252 847.7h1.4v1.4h-1.4zM257.6 847.7h1.4v1.4h-1.4zM259 847.7h1.4v1.4h-1.4zM268.1 847.7h3.5v1.4h-3.5zM273.7 847.7h1.4v1.4h-1.4zM275.1 847.7h1.4v1.4h-1.4zM276.5 847.7h3.5v1.4h-3.5zM282.1 847.7h1.4v1.4h-1.4zM287 847.7h2.1v1.4h-2.1zM290.5 847.7h1.4v1.4h-1.4zM248.5 848.4h1.4v1.4h-1.4zM261.8 848.4h2.1v1.4h-2.1zM266 848.4h2.1v1.4h-2.1zM268.1 848.4h1.4v1.4h-1.4zM272.3 848.4h1.4v1.4h-1.4zM273.7 848.4h1.4v1.4h-1.4zM275.8 848.4h2.1v1.4h-2.1zM282.1 848.4h2.1v1.4h-2.1zM286.3 848.4h1.4v1.4h-1.4zM288.4 848.4h1.4v1.4h-1.4zM290.5 848.4h1.4v1.4h-1.4zM292.6 848.4h1.4v1.4h-1.4zM294.7 848.4h1.4v1.4h-1.4zM305.9 848.4h1.4v1.4h-1.4zM242.2 849.1h1.4v1.4h-1.4zM250.6 849.1h1.4v1.4h-1.4zM254.8 849.1h2.8v1.4h-2.8zM261.8 849.1h1.4v1.4h-1.4zM272.3 849.1h1.4v1.4h-1.4zM273.7 849.1h2.1v1.4h-2.1zM276.5 849.1h1.4v1.4h-1.4zM279.3 849.1h1.4v1.4h-1.4zM282.8 849.1h1.4v1.4h-1.4zM284.2 849.1h2.1v1.4h-2.1zM289.1 849.1h2.1v1.4h-2.1zM297.5 849.1h1.4v1.4h-1.4zM236.6 849.8h1.4v1.4h-1.4zM247.8 849.8h1.4v1.4h-1.4zM253.4 849.8h1.4v1.4h-1.4zM259 849.8h1.4v1.4h-1.4zM262.5 849.8h1.4v1.4h-1.4zM264.6 849.8h2.8v1.4h-2.8zM269.5 849.8h2.1v1.4h-2.1zM272.3 849.8h1.4v1.4h-1.4zM274.4 849.8h1.4v1.4h-1.4zM281.4 849.8h1.4v1.4h-1.4zM283.5 849.8h2.8v1.4h-2.8zM291.2 849.8h1.4v1.4h-1.4zM294 849.8h1.4v1.4h-1.4zM248.5 850.5h1.4v1.4h-1.4zM253.4 850.5h1.4v1.4h-1.4zM255.5 850.5h1.4v1.4h-1.4zM259 850.5h1.4v1.4h-1.4zM261.8 850.5h1.4v1.4h-1.4zM263.9 850.5h2.1v1.4h-2.1zM272.3 850.5h1.4v1.4h-1.4zM274.4 850.5h2.1v1.4h-2.1zM277.2 850.5h1.4v1.4h-1.4zM289.1 850.5h2.8v1.4h-2.8zM293.3 850.5h1.4v1.4h-1.4zM252.7 851.2h1.4v1.4h-1.4zM254.1 851.2h1.4v1.4h-1.4zM256.2 851.2h2.1v1.4h-2.1zM259 851.2h2.1v1.4h-2.1zM266 851.2h2.1v1.4h-2.1zM270.2 851.2h1.4v1.4h-1.4zM272.3 851.2h1.4v1.4h-1.4zM273.7 851.2h1.4v1.4h-1.4zM275.1 851.2h1.4v1.4h-1.4zM277.9 851.2h2.1v1.4h-2.1zM280 851.2h1.4v1.4h-1.4zM282.1 851.2h1.4v1.4h-1.4zM283.5 851.2h2.8v1.4h-2.8zM287.7 851.2h1.4v1.4h-1.4zM289.8 851.2h1.4v1.4h-1.4zM291.2 851.2h1.4v1.4h-1.4zM238.7 851.9h1.4v1.4h-1.4zM250.6 851.9h1.4v1.4h-1.4zM255.5 851.9h1.4v1.4h-1.4zM259 851.9h3.5v1.4h-3.5zM263.9 851.9h1.4v1.4h-1.4zM266 851.9h1.4v1.4h-1.4zM268.1 851.9h4.2v1.4h-4.2zM275.8 851.9h2.1v1.4h-2.1zM279.3 851.9h1.4v1.4h-1.4zM280.7 851.9h1.4v1.4h-1.4zM282.1 851.9h1.4v1.4h-1.4zM288.4 851.9h1.4v1.4h-1.4zM296.8 851.9h1.4v1.4h-1.4zM242.9 852.6h1.4v1.4h-1.4zM245.7 852.6h1.4v1.4h-1.4zM250.6 852.6h2.1v1.4h-2.1zM256.9 852.6h2.1v1.4h-2.1zM260.4 852.6h1.4v1.4h-1.4zM263.9 852.6h1.4v1.4h-1.4zM265.3 852.6h1.4v1.4h-1.4zM267.4 852.6h1.4v1.4h-1.4zM268.8 852.6h1.4v1.4h-1.4zM270.9 852.6h1.4v1.4h-1.4zM272.3 852.6h1.4v1.4h-1.4zM275.1 852.6h2.1v1.4h-2.1zM278.6 852.6h2.8v1.4h-2.8zM282.1 852.6h1.4v1.4h-1.4zM284.9 852.6h1.4v1.4h-1.4zM286.3 852.6h2.1v1.4h-2.1zM288.4 852.6h1.4v1.4h-1.4zM289.8 852.6h2.1v1.4h-2.1zM293.3 852.6h1.4v1.4h-1.4zM248.5 853.3h1.4v1.4h-1.4zM249.9 853.3h2.8v1.4h-2.8zM253.4 853.3h1.4v1.4h-1.4zM256.2 853.3h1.4v1.4h-1.4zM261.1 853.3h1.4v1.4h-1.4zM262.5 853.3h1.4v1.4h-1.4zM270.2 853.3h1.4v1.4h-1.4zM271.6 853.3h3.5v1.4h-3.5zM276.5 853.3h1.4v1.4h-1.4zM277.9 853.3h1.4v1.4h-1.4zM279.3 853.3h2.8v1.4h-2.8zM285.6 853.3h1.4v1.4h-1.4zM287.7 853.3h1.4v1.4h-1.4zM289.8 853.3h1.4v1.4h-1.4zM301 853.3h1.4v1.4h-1.4zM302.4 853.3h1.4v1.4h-1.4zM304.5 853.3h1.4v1.4h-1.4zM312.2 853.3h1.4v1.4h-1.4zM227.5 854h1.4v1.4h-1.4zM241.5 854h1.4v1.4h-1.4zM243.6 854h1.4v1.4h-1.4zM248.5 854h1.4v1.4h-1.4zM249.9 854h1.4v1.4h-1.4zM257.6 854h2.8v1.4h-2.8zM263.2 854h1.4v1.4h-1.4zM266 854h2.1v1.4h-2.1zM268.1 854h1.4v1.4h-1.4zM270.9 854h2.8v1.4h-2.8zM274.4 854h2.1v1.4h-2.1zM276.5 854h1.4v1.4h-1.4zM279.3 854h1.4v1.4h-1.4zM282.1 854h1.4v1.4h-1.4zM289.1 854h1.4v1.4h-1.4zM294 854h1.4v1.4h-1.4zM303.1 854h2.1v1.4h-2.1zM242.2 854.7h1.4v1.4h-1.4zM246.4 854.7h1.4v1.4h-1.4zM252.7 854.7h1.4v1.4h-1.4zM255.5 854.7h1.4v1.4h-1.4zM256.9 854.7h1.4v1.4h-1.4zM259 854.7h1.4v1.4h-1.4zM261.8 854.7h1.4v1.4h-1.4zM263.9 854.7h1.4v1.4h-1.4zM267.4 854.7h2.1v1.4h-2.1zM269.5 854.7h1.4v1.4h-1.4zM271.6 854.7h1.4v1.4h-1.4zM273 854.7h2.8v1.4h-2.8zM275.8 854.7h2.1v1.4h-2.1zM277.9 854.7h1.4v1.4h-1.4zM280 854.7h2.8v1.4h-2.8zM295.4 854.7h1.4v1.4h-1.4zM245 855.4h1.4v1.4h-1.4zM252.7 855.4h1.4v1.4h-1.4zM254.8 855.4h1.4v1.4h-1.4zM261.8 855.4h1.4v1.4h-1.4zM263.2 855.4h1.4v1.4h-1.4zM266.7 855.4h1.4v1.4h-1.4zM270.2 855.4h1.4v1.4h-1.4zM272.3 855.4h2.1v1.4h-2.1zM278.6 855.4h1.4v1.4h-1.4zM281.4 855.4h2.1v1.4h-2.1zM286.3 855.4h1.4v1.4h-1.4zM288.4 855.4h3.5v1.4h-3.5zM291.9 855.4h1.4v1.4h-1.4zM254.1 856.1h2.1v1.4h-2.1zM257.6 856.1h1.4v1.4h-1.4zM259 856.1h1.4v1.4h-1.4zM261.1 856.1h1.4v1.4h-1.4zM263.2 856.1h2.1v1.4h-2.1zM265.3 856.1h2.1v1.4h-2.1zM270.2 856.1h1.4v1.4h-1.4zM276.5 856.1h2.1v1.4h-2.1zM280 856.1h2.8v1.4h-2.8zM285.6 856.1h1.4v1.4h-1.4zM287 856.1h1.4v1.4h-1.4zM289.1 856.1h1.4v1.4h-1.4zM292.6 856.1h2.1v1.4h-2.1zM298.2 856.1h1.4v1.4h-1.4zM303.1 856.1h1.4v1.4h-1.4zM252.7 856.8h2.8v1.4h-2.8zM256.2 856.8h1.4v1.4h-1.4zM257.6 856.8h2.1v1.4h-2.1zM259.7 856.8h1.4v1.4h-1.4zM263.2 856.8h1.4v1.4h-1.4zM265.3 856.8h1.4v1.4h-1.4zM268.8 856.8h1.4v1.4h-1.4zM270.9 856.8h1.4v1.4h-1.4zM272.3 856.8h2.1v1.4h-2.1zM274.4 856.8h1.4v1.4h-1.4zM275.8 856.8h1.4v1.4h-1.4zM281.4 856.8h1.4v1.4h-1.4zM282.8 856.8h1.4v1.4h-1.4zM284.2 856.8h1.4v1.4h-1.4zM287 856.8h1.4v1.4h-1.4zM288.4 856.8h1.4v1.4h-1.4zM291.2 856.8h1.4v1.4h-1.4zM293.3 856.8h1.4v1.4h-1.4zM294.7 856.8h2.8v1.4h-2.8zM309.4 856.8h1.4v1.4h-1.4zM233.8 857.5h1.4v1.4h-1.4zM245 857.5h1.4v1.4h-1.4zM247.1 857.5h1.4v1.4h-1.4zM250.6 857.5h2.1v1.4h-2.1zM254.1 857.5h2.8v1.4h-2.8zM259 857.5h1.4v1.4h-1.4zM260.4 857.5h2.1v1.4h-2.1zM263.9 857.5h2.1v1.4h-2.1zM267.4 857.5h3.5v1.4h-3.5zM272.3 857.5h1.4v1.4h-1.4zM275.1 857.5h1.4v1.4h-1.4zM276.5 857.5h1.4v1.4h-1.4zM282.1 857.5h2.1v1.4h-2.1zM284.2 857.5h1.4v1.4h-1.4zM290.5 857.5h1.4v1.4h-1.4zM292.6 857.5h1.4v1.4h-1.4zM294.7 857.5h1.4v1.4h-1.4zM298.9 857.5h1.4v1.4h-1.4zM300.3 857.5h1.4v1.4h-1.4zM231 858.2h1.4v1.4h-1.4zM234.5 858.2h1.4v1.4h-1.4zM240.1 858.2h1.4v1.4h-1.4zM252.7 858.2h1.4v1.4h-1.4zM256.9 858.2h1.4v1.4h-1.4zM258.3 858.2h1.4v1.4h-1.4zM261.8 858.2h1.4v1.4h-1.4zM266.7 858.2h1.4v1.4h-1.4zM268.8 858.2h1.4v1.4h-1.4zM270.9 858.2h4.2v1.4h-4.2zM275.1 858.2h2.1v1.4h-2.1zM279.3 858.2h3.5v1.4h-3.5zM284.9 858.2h2.1v1.4h-2.1zM287.7 858.2h1.4v1.4h-1.4zM291.9 858.2h1.4v1.4h-1.4zM296.8 858.2h1.4v1.4h-1.4zM241.5 858.9h1.4v1.4h-1.4zM243.6 858.9h1.4v1.4h-1.4zM247.8 858.9h1.4v1.4h-1.4zM250.6 858.9h1.4v1.4h-1.4zM254.1 858.9h1.4v1.4h-1.4zM257.6 858.9h1.4v1.4h-1.4zM259 858.9h1.4v1.4h-1.4zM263.2 858.9h1.4v1.4h-1.4zM266 858.9h1.4v1.4h-1.4zM269.5 858.9h2.1v1.4h-2.1zM271.6 858.9h2.1v1.4h-2.1zM275.1 858.9h1.4v1.4h-1.4zM277.2 858.9h1.4v1.4h-1.4zM278.6 858.9h1.4v1.4h-1.4zM280 858.9h2.1v1.4h-2.1zM282.1 858.9h2.1v1.4h-2.1zM294.7 858.9h1.4v1.4h-1.4zM297.5 858.9h1.4v1.4h-1.4zM238.7 859.6h1.4v1.4h-1.4zM247.8 859.6h1.4v1.4h-1.4zM253.4 859.6h2.1v1.4h-2.1zM270.9 859.6h1.4v1.4h-1.4zM273.7 859.6h1.4v1.4h-1.4zM275.1 859.6h1.4v1.4h-1.4zM277.2 859.6h4.2v1.4h-4.2zM281.4 859.6h2.1v1.4h-2.1zM284.9 859.6h1.4v1.4h-1.4zM242.9 860.3h1.4v1.4h-1.4zM249.9 860.3h1.4v1.4h-1.4zM252.7 860.3h2.1v1.4h-2.1zM255.5 860.3h1.4v1.4h-1.4zM256.9 860.3h1.4v1.4h-1.4zM267.4 860.3h2.8v1.4h-2.8zM270.2 860.3h2.1v1.4h-2.1zM272.3 860.3h5v1.4h-5zM277.2 860.3h1.4v1.4h-1.4zM280.7 860.3h1.4v1.4h-1.4zM282.1 860.3h1.4v1.4h-1.4zM296.1 860.3h1.4v1.4h-1.4zM298.9 860.3h1.4v1.4h-1.4zM309.4 860.3h1.4v1.4h-1.4zM249.2 861h2.8v1.4h-2.8zM256.2 861h2.1v1.4h-2.1zM259 861h1.4v1.4h-1.4zM260.4 861h1.4v1.4h-1.4zM262.5 861h2.1v1.4h-2.1zM266 861h1.4v1.4h-1.4zM268.1 861h2.8v1.4h-2.8zM273.7 861h2.1v1.4h-2.1zM275.8 861h1.4v1.4h-1.4zM278.6 861h1.4v1.4h-1.4zM282.1 861h2.8v1.4h-2.8zM292.6 861h1.4v1.4h-1.4zM294 861h1.4v1.4h-1.4zM308 861h1.4v1.4h-1.4zM247.8 861.7h2.8v1.4h-2.8zM250.6 861.7h1.4v1.4h-1.4zM254.8 861.7h1.4v1.4h-1.4zM257.6 861.7h1.4v1.4h-1.4zM260.4 861.7h1.4v1.4h-1.4zM265.3 861.7h2.1v1.4h-2.1zM267.4 861.7h4.2v1.4h-4.2zM271.6 861.7h2.1v1.4h-2.1zM273.7 861.7h2.1v1.4h-2.1zM278.6 861.7h1.4v1.4h-1.4zM281.4 861.7h1.4v1.4h-1.4zM284.2 861.7h1.4v1.4h-1.4zM236.6 862.4h1.4v1.4h-1.4zM242.9 862.4h2.1v1.4h-2.1zM247.8 862.4h1.4v1.4h-1.4zM252 862.4h1.4v1.4h-1.4zM256.9 862.4h2.8v1.4h-2.8zM261.8 862.4h1.4v1.4h-1.4zM263.2 862.4h2.1v1.4h-2.1zM266 862.4h2.1v1.4h-2.1zM270.2 862.4h1.4v1.4h-1.4zM271.6 862.4h2.1v1.4h-2.1zM274.4 862.4h2.1v1.4h-2.1zM278.6 862.4h1.4v1.4h-1.4zM280.7 862.4h2.1v1.4h-2.1zM282.8 862.4h1.4v1.4h-1.4zM286.3 862.4h2.1v1.4h-2.1zM288.4 862.4h1.4v1.4h-1.4zM291.2 862.4h1.4v1.4h-1.4zM294 862.4h1.4v1.4h-1.4zM241.5 863.1h1.4v1.4h-1.4zM248.5 863.1h1.4v1.4h-1.4zM254.8 863.1h1.4v1.4h-1.4zM262.5 863.1h2.1v1.4h-2.1zM268.1 863.1h2.1v1.4h-2.1zM271.6 863.1h1.4v1.4h-1.4zM273.7 863.1h1.4v1.4h-1.4zM275.1 863.1h2.1v1.4h-2.1zM286.3 863.1h1.4v1.4h-1.4zM240.1 863.8h1.4v1.4h-1.4zM247.1 863.8h1.4v1.4h-1.4zM249.9 863.8h1.4v1.4h-1.4zM252 863.8h2.1v1.4h-2.1zM254.1 863.8h2.1v1.4h-2.1zM256.2 863.8h1.4v1.4h-1.4zM259 863.8h3.5v1.4h-3.5zM262.5 863.8h1.4v1.4h-1.4zM263.9 863.8h2.1v1.4h-2.1zM266 863.8h2.1v1.4h-2.1zM269.5 863.8h1.4v1.4h-1.4zM270.9 863.8h1.4v1.4h-1.4zM273 863.8h1.4v1.4h-1.4zM274.4 863.8h1.4v1.4h-1.4zM282.1 863.8h1.4v1.4h-1.4zM298.2 863.8h1.4v1.4h-1.4zM233.1 864.5h1.4v1.4h-1.4zM238 864.5h1.4v1.4h-1.4zM242.9 864.5h1.4v1.4h-1.4zM245.7 864.5h1.4v1.4h-1.4zM247.1 864.5h1.4v1.4h-1.4zM250.6 864.5h1.4v1.4h-1.4zM256.2 864.5h1.4v1.4h-1.4zM259 864.5h2.8v1.4h-2.8zM264.6 864.5h1.4v1.4h-1.4zM266.7 864.5h1.4v1.4h-1.4zM270.2 864.5h2.8v1.4h-2.8zM273.7 864.5h1.4v1.4h-1.4zM275.8 864.5h2.1v1.4h-2.1zM278.6 864.5h1.4v1.4h-1.4zM280.7 864.5h1.4v1.4h-1.4zM282.1 864.5h1.4v1.4h-1.4zM284.2 864.5h2.8v1.4h-2.8zM287 864.5h1.4v1.4h-1.4zM294 864.5h1.4v1.4h-1.4zM296.8 864.5h1.4v1.4h-1.4zM231 865.2h1.4v1.4h-1.4zM241.5 865.2h2.1v1.4h-2.1zM250.6 865.2h1.4v1.4h-1.4zM253.4 865.2h1.4v1.4h-1.4zM261.8 865.2h1.4v1.4h-1.4zM264.6 865.2h1.4v1.4h-1.4zM266 865.2h3.5v1.4h-3.5zM271.6 865.2h2.1v1.4h-2.1zM277.2 865.2h1.4v1.4h-1.4zM279.3 865.2h1.4v1.4h-1.4zM280.7 865.2h1.4v1.4h-1.4zM282.8 865.2h2.1v1.4h-2.1zM287 865.2h1.4v1.4h-1.4zM288.4 865.2h1.4v1.4h-1.4zM291.9 865.2h1.4v1.4h-1.4zM230.3 865.9h1.4v1.4h-1.4zM247.1 865.9h1.4v1.4h-1.4zM250.6 865.9h1.4v1.4h-1.4zM252 865.9h1.4v1.4h-1.4zM253.4 865.9h1.4v1.4h-1.4zM254.8 865.9h1.4v1.4h-1.4zM261.1 865.9h2.1v1.4h-2.1zM264.6 865.9h4.2v1.4h-4.2zM270.9 865.9h1.4v1.4h-1.4zM276.5 865.9h2.1v1.4h-2.1zM280 865.9h1.4v1.4h-1.4zM282.1 865.9h1.4v1.4h-1.4zM288.4 865.9h1.4v1.4h-1.4zM289.8 865.9h2.1v1.4h-2.1zM293.3 865.9h1.4v1.4h-1.4zM238.7 866.6h2.1v1.4h-2.1zM247.1 866.6h1.4v1.4h-1.4zM250.6 866.6h1.4v1.4h-1.4zM254.1 866.6h1.4v1.4h-1.4zM262.5 866.6h1.4v1.4h-1.4zM264.6 866.6h1.4v1.4h-1.4zM267.4 866.6h1.4v1.4h-1.4zM268.8 866.6h1.4v1.4h-1.4zM270.9 866.6h2.1v1.4h-2.1zM273.7 866.6h2.8v1.4h-2.8zM277.2 866.6h1.4v1.4h-1.4zM278.6 866.6h1.4v1.4h-1.4zM287 866.6h1.4v1.4h-1.4zM297.5 866.6h1.4v1.4h-1.4zM309.4 866.6h1.4v1.4h-1.4zM240.1 867.3h1.4v1.4h-1.4zM247.1 867.3h1.4v1.4h-1.4zM248.5 867.3h1.4v1.4h-1.4zM251.3 867.3h1.4v1.4h-1.4zM254.1 867.3h1.4v1.4h-1.4zM261.1 867.3h2.1v1.4h-2.1zM264.6 867.3h1.4v1.4h-1.4zM267.4 867.3h1.4v1.4h-1.4zM268.8 867.3h1.4v1.4h-1.4zM270.9 867.3h2.1v1.4h-2.1zM274.4 867.3h1.4v1.4h-1.4zM276.5 867.3h1.4v1.4h-1.4zM280.7 867.3h1.4v1.4h-1.4zM284.9 867.3h1.4v1.4h-1.4zM296.8 867.3h1.4v1.4h-1.4zM235.9 868h1.4v1.4h-1.4zM243.6 868h1.4v1.4h-1.4zM249.9 868h2.8v1.4h-2.8zM254.8 868h1.4v1.4h-1.4zM257.6 868h2.1v1.4h-2.1zM260.4 868h1.4v1.4h-1.4zM261.8 868h1.4v1.4h-1.4zM263.2 868h2.1v1.4h-2.1zM267.4 868h1.4v1.4h-1.4zM269.5 868h1.4v1.4h-1.4zM271.6 868h3.5v1.4h-3.5zM275.1 868h1.4v1.4h-1.4zM276.5 868h2.1v1.4h-2.1zM278.6 868h1.4v1.4h-1.4zM284.9 868h1.4v1.4h-1.4zM286.3 868h2.8v1.4h-2.8zM292.6 868h1.4v1.4h-1.4zM245 868.7h1.4v1.4h-1.4zM246.4 868.7h1.4v1.4h-1.4zM250.6 868.7h1.4v1.4h-1.4zM252.7 868.7h1.4v1.4h-1.4zM254.8 868.7h1.4v1.4h-1.4zM258.3 868.7h1.4v1.4h-1.4zM261.1 868.7h2.1v1.4h-2.1zM264.6 868.7h1.4v1.4h-1.4zM266 868.7h1.4v1.4h-1.4zM268.1 868.7h1.4v1.4h-1.4zM274.4 868.7h1.4v1.4h-1.4zM283.5 868.7h1.4v1.4h-1.4zM289.1 868.7h1.4v1.4h-1.4zM298.2 868.7h2.1v1.4h-2.1zM307.3 868.7h1.4v1.4h-1.4zM219.8 869.4h1.4v1.4h-1.4zM233.8 869.4h1.4v1.4h-1.4zM239.4 869.4h1.4v1.4h-1.4zM247.1 869.4h1.4v1.4h-1.4zM250.6 869.4h1.4v1.4h-1.4zM252 869.4h1.4v1.4h-1.4zM257.6 869.4h2.1v1.4h-2.1zM259.7 869.4h2.1v1.4h-2.1zM265.3 869.4h1.4v1.4h-1.4zM266.7 869.4h2.8v1.4h-2.8zM269.5 869.4h1.4v1.4h-1.4zM273 869.4h1.4v1.4h-1.4zM274.4 869.4h1.4v1.4h-1.4zM280.7 869.4h1.4v1.4h-1.4zM282.1 869.4h1.4v1.4h-1.4zM284.2 869.4h2.1v1.4h-2.1zM297.5 869.4h1.4v1.4h-1.4zM214.9 870.1h1.4v1.4h-1.4zM231 870.1h1.4v1.4h-1.4zM235.9 870.1h1.4v1.4h-1.4zM249.9 870.1h2.1v1.4h-2.1zM254.1 870.1h1.4v1.4h-1.4zM255.5 870.1h1.4v1.4h-1.4zM256.9 870.1h1.4v1.4h-1.4zM261.8 870.1h1.4v1.4h-1.4zM268.8 870.1h1.4v1.4h-1.4zM273 870.1h1.4v1.4h-1.4zM279.3 870.1h1.4v1.4h-1.4zM247.8 870.8h1.4v1.4h-1.4zM252.7 870.8h1.4v1.4h-1.4zM258.3 870.8h2.1v1.4h-2.1zM260.4 870.8h1.4v1.4h-1.4zM266.7 870.8h1.4v1.4h-1.4zM268.1 870.8h2.8v1.4h-2.8zM271.6 870.8h2.8v1.4h-2.8zM275.1 870.8h1.4v1.4h-1.4zM277.2 870.8h1.4v1.4h-1.4zM279.3 870.8h1.4v1.4h-1.4zM280.7 870.8h1.4v1.4h-1.4zM303.8 870.8h1.4v1.4h-1.4zM242.2 871.5h1.4v1.4h-1.4zM246.4 871.5h1.4v1.4h-1.4zM247.8 871.5h1.4v1.4h-1.4zM249.2 871.5h1.4v1.4h-1.4zM256.9 871.5h1.4v1.4h-1.4zM259 871.5h2.1v1.4h-2.1zM266.7 871.5h1.4v1.4h-1.4zM268.8 871.5h1.4v1.4h-1.4zM274.4 871.5h2.1v1.4h-2.1zM289.8 871.5h1.4v1.4h-1.4zM232.4 872.2h1.4v1.4h-1.4zM234.5 872.2h1.4v1.4h-1.4zM252.7 872.2h1.4v1.4h-1.4zM255.5 872.2h1.4v1.4h-1.4zM261.1 872.2h1.4v1.4h-1.4zM263.9 872.2h1.4v1.4h-1.4zM269.5 872.2h1.4v1.4h-1.4zM270.9 872.2h2.1v1.4h-2.1zM275.1 872.2h2.1v1.4h-2.1zM278.6 872.2h1.4v1.4h-1.4zM281.4 872.2h1.4v1.4h-1.4zM283.5 872.2h1.4v1.4h-1.4zM287 872.2h1.4v1.4h-1.4zM291.9 872.2h1.4v1.4h-1.4zM295.4 872.2h1.4v1.4h-1.4zM244.3 872.9h1.4v1.4h-1.4zM246.4 872.9h2.1v1.4h-2.1zM248.5 872.9h1.4v1.4h-1.4zM250.6 872.9h1.4v1.4h-1.4zM263.2 872.9h1.4v1.4h-1.4zM269.5 872.9h2.1v1.4h-2.1zM275.1 872.9h2.1v1.4h-2.1zM280 872.9h1.4v1.4h-1.4zM291.9 872.9h1.4v1.4h-1.4zM242.9 873.6h1.4v1.4h-1.4zM245 873.6h1.4v1.4h-1.4zM247.1 873.6h1.4v1.4h-1.4zM249.2 873.6h1.4v1.4h-1.4zM259 873.6h1.4v1.4h-1.4zM260.4 873.6h2.1v1.4h-2.1zM268.1 873.6h1.4v1.4h-1.4zM269.5 873.6h1.4v1.4h-1.4zM271.6 873.6h1.4v1.4h-1.4zM273 873.6h1.4v1.4h-1.4zM275.8 873.6h1.4v1.4h-1.4zM282.8 873.6h1.4v1.4h-1.4zM256.9 874.3h1.4v1.4h-1.4zM258.3 874.3h1.4v1.4h-1.4zM260.4 874.3h1.4v1.4h-1.4zM270.2 874.3h1.4v1.4h-1.4zM275.8 874.3h1.4v1.4h-1.4zM277.2 874.3h1.4v1.4h-1.4zM286.3 874.3h1.4v1.4h-1.4zM297.5 874.3h1.4v1.4h-1.4zM244.3 875h1.4v1.4h-1.4zM253.4 875h1.4v1.4h-1.4zM257.6 875h1.4v1.4h-1.4zM263.2 875h1.4v1.4h-1.4zM264.6 875h1.4v1.4h-1.4zM269.5 875h2.1v1.4h-2.1zM277.2 875h1.4v1.4h-1.4zM237.3 875.7h1.4v1.4h-1.4zM245 875.7h1.4v1.4h-1.4zM249.2 875.7h1.4v1.4h-1.4zM253.4 875.7h1.4v1.4h-1.4zM255.5 875.7h1.4v1.4h-1.4zM259 875.7h1.4v1.4h-1.4zM261.8 875.7h1.4v1.4h-1.4zM265.3 875.7h1.4v1.4h-1.4zM266.7 875.7h1.4v1.4h-1.4zM271.6 875.7h1.4v1.4h-1.4zM277.9 875.7h1.4v1.4h-1.4zM281.4 875.7h1.4v1.4h-1.4zM247.8 876.4h1.4v1.4h-1.4zM259.7 876.4h1.4v1.4h-1.4zM263.9 876.4h1.4v1.4h-1.4zM266 876.4h1.4v1.4h-1.4zM268.8 876.4h2.1v1.4h-2.1zM274.4 876.4h2.1v1.4h-2.1zM287 876.4h1.4v1.4h-1.4zM214.2 877.1h1.4v1.4h-1.4zM245 877.1h1.4v1.4h-1.4zM259 877.1h1.4v1.4h-1.4zM260.4 877.1h1.4v1.4h-1.4zM262.5 877.1h1.4v1.4h-1.4zM280 877.1h1.4v1.4h-1.4zM288.4 877.1h1.4v1.4h-1.4zM246.4 877.8h1.4v1.4h-1.4zM253.4 877.8h2.1v1.4h-2.1zM259.7 877.8h1.4v1.4h-1.4zM262.5 877.8h1.4v1.4h-1.4zM273.7 877.8h1.4v1.4h-1.4zM284.2 877.8h1.4v1.4h-1.4zM292.6 877.8h1.4v1.4h-1.4zM234.5 878.5h1.4v1.4h-1.4zM250.6 878.5h1.4v1.4h-1.4zM252.7 878.5h1.4v1.4h-1.4zM256.2 878.5h1.4v1.4h-1.4zM264.6 878.5h1.4v1.4h-1.4zM276.5 878.5h1.4v1.4h-1.4zM293.3 878.5h1.4v1.4h-1.4zM298.9 878.5h1.4v1.4h-1.4zM254.8 879.2h1.4v1.4h-1.4zM259.7 879.2h1.4v1.4h-1.4zM265.3 879.2h1.4v1.4h-1.4zM268.8 879.2h2.1v1.4h-2.1zM270.9 879.2h1.4v1.4h-1.4zM282.8 879.2h2.1v1.4h-2.1zM253.4 880.6h1.4v1.4h-1.4zM259.7 880.6h1.4v1.4h-1.4zM261.1 880.6h1.4v1.4h-1.4zM275.1 880.6h1.4v1.4h-1.4zM278.6 880.6h1.4v1.4h-1.4zM252.7 881.3h1.4v1.4h-1.4zM260.4 881.3h1.4v1.4h-1.4zM273 881.3h1.4v1.4h-1.4zM280 881.3h1.4v1.4h-1.4zM245 882h1.4v1.4h-1.4zM270.2 882h1.4v1.4h-1.4zM279.3 882h1.4v1.4h-1.4zM256.2 883.4h1.4v1.4h-1.4zM275.1 883.4h1.4v1.4h-1.4zM258.3 884.8h1.4v1.4h-1.4zM249.2 885.5h1.4v1.4h-1.4zM254.8 885.5h1.4v1.4h-1.4zM245 886.9h1.4v1.4h-1.4zM249.9 887.6h1.4v1.4h-1.4zM230.3 888.3h1.4v1.4h-1.4zM263.9 888.3h1.4v1.4h-1.4zM254.8 889h1.4v1.4h-1.4zM254.1 889.7h1.4v1.4h-1.4zM236.6 893.2h1.4v1.4h-1.4z" fill="#1a5c9e"/>
<line x1="220.1" y1="869.8" x2="333.4" y2="847.5" stroke="#111" stroke-width="1"/>
<line x1="208.6" y1="790.7" x2="208.6" y2="914" stroke="#000" stroke-width="1.7"/>
<line x1="207.8" y1="913.2" x2="334.2" y2="913.2" stroke="#000" stroke-width="1.7"/>
<line x1="202.4" y1="791.5" x2="208.6" y2="791.5" stroke="#000" stroke-width="1.6"/>
<text x="201" y="794.4" font-size="8" text-anchor="end" font-weight="bold">14</text>
<line x1="202.4" y1="821.9" x2="208.6" y2="821.9" stroke="#000" stroke-width="1.6"/>
<text x="201" y="824.8" font-size="8" text-anchor="end" font-weight="bold">12</text>
<line x1="202.4" y1="852.4" x2="208.6" y2="852.4" stroke="#000" stroke-width="1.6"/>
<text x="201" y="855.2" font-size="8" text-anchor="end" font-weight="bold">10</text>
<line x1="202.4" y1="882.8" x2="208.6" y2="882.8" stroke="#000" stroke-width="1.6"/>
<text x="201" y="885.7" font-size="8" text-anchor="end" font-weight="bold">8</text>
<line x1="202.4" y1="913.2" x2="208.6" y2="913.2" stroke="#000" stroke-width="1.6"/>
<text x="201" y="916.1" font-size="8" text-anchor="end" font-weight="bold">6</text>
<line x1="208.6" y1="913.2" x2="208.6" y2="918.6" stroke="#000" stroke-width="1.6"/>
<text x="208.6" y="930.2" font-size="8" text-anchor="middle" font-weight="bold">11.5</text>
<line x1="233.6" y1="913.2" x2="233.6" y2="918.6" stroke="#000" stroke-width="1.6"/>
<text x="233.6" y="930.2" font-size="8" text-anchor="middle" font-weight="bold">12.0</text>
<line x1="258.5" y1="913.2" x2="258.5" y2="918.6" stroke="#000" stroke-width="1.6"/>
<text x="258.5" y="930.2" font-size="8" text-anchor="middle" font-weight="bold">12.5</text>
<line x1="283.5" y1="913.2" x2="283.5" y2="918.6" stroke="#000" stroke-width="1.6"/>
<text x="283.5" y="930.2" font-size="8" text-anchor="middle" font-weight="bold">13.0</text>
<line x1="308.4" y1="913.2" x2="308.4" y2="918.6" stroke="#000" stroke-width="1.6"/>
<text x="308.4" y="930.2" font-size="8" text-anchor="middle" font-weight="bold">13.5</text>
<line x1="333.4" y1="913.2" x2="333.4" y2="918.6" stroke="#000" stroke-width="1.6"/>
<text x="333.4" y="930.2" font-size="8" text-anchor="middle" font-weight="bold">14.0</text>
<text x="271" y="946.5" font-size="10.1" text-anchor="middle">PCBP1</text>
<text transform="translate(186.2 853.5) rotate(-90)" font-size="10.2" text-anchor="middle">IRF3</text>
<text x="225.7" y="801.7" font-size="7.5" fill="#222" letter-spacing="-0.2">r = 0.2691</text>
<text x="279" y="801.7" font-size="7.7" font-weight="bold">p = 1.175<tspan dy="-3" font-size="5.3" font-weight="normal">-21</tspan></text>
<path d="M438.9 817.6h1.4v1.4h-1.4zM458.5 818.3h1.4v1.4h-1.4zM437.5 820.4h1.4v1.4h-1.4zM457.8 821.8h1.4v1.4h-1.4zM456.4 822.5h1.4v1.4h-1.4zM424.2 823.2h1.4v1.4h-1.4zM461.3 823.2h1.4v1.4h-1.4zM438.2 823.9h1.4v1.4h-1.4zM448 823.9h1.4v1.4h-1.4zM444.5 825.3h1.4v1.4h-1.4zM432.6 826.7h1.4v1.4h-1.4zM441.7 826.7h1.4v1.4h-1.4zM443.1 826.7h1.4v1.4h-1.4zM450.1 826.7h1.4v1.4h-1.4zM460.6 826.7h1.4v1.4h-1.4zM453.6 827.4h1.4v1.4h-1.4zM471.1 827.4h1.4v1.4h-1.4zM436.8 828.1h1.4v1.4h-1.4zM453.6 828.1h1.4v1.4h-1.4zM433.3 828.8h1.4v1.4h-1.4zM439.6 828.8h1.4v1.4h-1.4zM444.5 828.8h1.4v1.4h-1.4zM450.8 828.8h1.4v1.4h-1.4zM458.5 828.8h1.4v1.4h-1.4zM441.7 829.5h1.4v1.4h-1.4zM450.1 829.5h2.1v1.4h-2.1zM456.4 829.5h1.4v1.4h-1.4zM425.6 830.2h1.4v1.4h-1.4zM432.6 830.2h1.4v1.4h-1.4zM434 830.2h1.4v1.4h-1.4zM451.5 830.2h1.4v1.4h-1.4zM455.7 830.2h1.4v1.4h-1.4zM438.2 830.9h1.4v1.4h-1.4zM441.7 830.9h1.4v1.4h-1.4zM446.6 830.9h1.4v1.4h-1.4zM449.4 830.9h1.4v1.4h-1.4zM458.5 830.9h1.4v1.4h-1.4zM470.4 830.9h1.4v1.4h-1.4zM473.2 830.9h1.4v1.4h-1.4zM442.4 831.6h1.4v1.4h-1.4zM437.5 832.3h1.4v1.4h-1.4zM443.1 832.3h1.4v1.4h-1.4zM446.6 832.3h1.4v1.4h-1.4zM448.7 832.3h1.4v1.4h-1.4zM450.8 832.3h1.4v1.4h-1.4zM427 833h1.4v1.4h-1.4zM428.4 833h1.4v1.4h-1.4zM439.6 833h1.4v1.4h-1.4zM445.9 833h2.1v1.4h-2.1zM438.2 833.7h1.4v1.4h-1.4zM441 833.7h1.4v1.4h-1.4zM444.5 833.7h1.4v1.4h-1.4zM445.9 833.7h1.4v1.4h-1.4zM447.3 833.7h1.4v1.4h-1.4zM450.1 833.7h1.4v1.4h-1.4zM456.4 833.7h1.4v1.4h-1.4zM466.2 833.7h1.4v1.4h-1.4zM431.9 834.4h1.4v1.4h-1.4zM435.4 834.4h1.4v1.4h-1.4zM450.1 834.4h1.4v1.4h-1.4zM465.5 834.4h1.4v1.4h-1.4zM424.2 835.1h1.4v1.4h-1.4zM428.4 835.1h1.4v1.4h-1.4zM433.3 835.1h1.4v1.4h-1.4zM437.5 835.1h2.1v1.4h-2.1zM443.1 835.1h1.4v1.4h-1.4zM444.5 835.1h2.1v1.4h-2.1zM446.6 835.1h1.4v1.4h-1.4zM450.1 835.1h1.4v1.4h-1.4zM455.7 835.1h1.4v1.4h-1.4zM457.1 835.1h1.4v1.4h-1.4zM462 835.1h1.4v1.4h-1.4zM451.5 835.8h1.4v1.4h-1.4zM458.5 835.8h2.1v1.4h-2.1zM463.4 835.8h1.4v1.4h-1.4zM427.7 836.5h2.1v1.4h-2.1zM436.8 836.5h2.8v1.4h-2.8zM460.6 836.5h1.4v1.4h-1.4zM430.5 837.2h1.4v1.4h-1.4zM431.9 837.2h1.4v1.4h-1.4zM434 837.2h2.1v1.4h-2.1zM436.1 837.2h2.1v1.4h-2.1zM442.4 837.2h2.1v1.4h-2.1zM445.2 837.2h1.4v1.4h-1.4zM446.6 837.2h1.4v1.4h-1.4zM450.1 837.2h1.4v1.4h-1.4zM452.2 837.2h1.4v1.4h-1.4zM423.5 837.9h1.4v1.4h-1.4zM425.6 837.9h1.4v1.4h-1.4zM440.3 837.9h1.4v1.4h-1.4zM441.7 837.9h2.8v1.4h-2.8zM444.5 837.9h1.4v1.4h-1.4zM446.6 837.9h1.4v1.4h-1.4zM448.7 837.9h1.4v1.4h-1.4zM450.1 837.9h2.1v1.4h-2.1zM463.4 837.9h1.4v1.4h-1.4zM421.4 838.6h1.4v1.4h-1.4zM431.9 838.6h1.4v1.4h-1.4zM437.5 838.6h1.4v1.4h-1.4zM438.9 838.6h1.4v1.4h-1.4zM446.6 838.6h1.4v1.4h-1.4zM451.5 838.6h1.4v1.4h-1.4zM453.6 838.6h1.4v1.4h-1.4zM459.9 838.6h1.4v1.4h-1.4zM461.3 838.6h1.4v1.4h-1.4zM428.4 839.3h2.1v1.4h-2.1zM434.7 839.3h1.4v1.4h-1.4zM438.9 839.3h1.4v1.4h-1.4zM440.3 839.3h2.8v1.4h-2.8zM444.5 839.3h1.4v1.4h-1.4zM454.3 839.3h1.4v1.4h-1.4zM422.8 840h1.4v1.4h-1.4zM432.6 840h1.4v1.4h-1.4zM441 840h1.4v1.4h-1.4zM444.5 840h1.4v1.4h-1.4zM445.9 840h2.1v1.4h-2.1zM448 840h1.4v1.4h-1.4zM449.4 840h2.1v1.4h-2.1zM452.9 840h2.8v1.4h-2.8zM455.7 840h1.4v1.4h-1.4zM404.6 840.7h1.4v1.4h-1.4zM420 840.7h1.4v1.4h-1.4zM422.1 840.7h1.4v1.4h-1.4zM424.9 840.7h1.4v1.4h-1.4zM426.3 840.7h1.4v1.4h-1.4zM431.9 840.7h1.4v1.4h-1.4zM434.7 840.7h2.1v1.4h-2.1zM437.5 840.7h2.1v1.4h-2.1zM439.6 840.7h1.4v1.4h-1.4zM441 840.7h1.4v1.4h-1.4zM443.8 840.7h1.4v1.4h-1.4zM446.6 840.7h1.4v1.4h-1.4zM452.2 840.7h2.1v1.4h-2.1zM461.3 840.7h1.4v1.4h-1.4zM415.8 841.4h1.4v1.4h-1.4zM420 841.4h1.4v1.4h-1.4zM422.1 841.4h1.4v1.4h-1.4zM428.4 841.4h2.1v1.4h-2.1zM430.5 841.4h2.1v1.4h-2.1zM433.3 841.4h1.4v1.4h-1.4zM434.7 841.4h1.4v1.4h-1.4zM436.1 841.4h1.4v1.4h-1.4zM441.7 841.4h1.4v1.4h-1.4zM443.8 841.4h1.4v1.4h-1.4zM449.4 841.4h1.4v1.4h-1.4zM452.9 841.4h1.4v1.4h-1.4zM456.4 841.4h1.4v1.4h-1.4zM460.6 841.4h1.4v1.4h-1.4zM418.6 842.1h2.1v1.4h-2.1zM420.7 842.1h1.4v1.4h-1.4zM424.2 842.1h1.4v1.4h-1.4zM427 842.1h1.4v1.4h-1.4zM428.4 842.1h2.1v1.4h-2.1zM432.6 842.1h1.4v1.4h-1.4zM436.8 842.1h1.4v1.4h-1.4zM438.9 842.1h1.4v1.4h-1.4zM440.3 842.1h1.4v1.4h-1.4zM444.5 842.1h2.8v1.4h-2.8zM447.3 842.1h1.4v1.4h-1.4zM449.4 842.1h1.4v1.4h-1.4zM450.8 842.1h1.4v1.4h-1.4zM452.9 842.1h1.4v1.4h-1.4zM455 842.1h1.4v1.4h-1.4zM456.4 842.1h1.4v1.4h-1.4zM459.2 842.1h1.4v1.4h-1.4zM463.4 842.1h1.4v1.4h-1.4zM418.6 842.8h1.4v1.4h-1.4zM422.8 842.8h1.4v1.4h-1.4zM424.9 842.8h1.4v1.4h-1.4zM427 842.8h1.4v1.4h-1.4zM431.9 842.8h1.4v1.4h-1.4zM433.3 842.8h1.4v1.4h-1.4zM436.1 842.8h1.4v1.4h-1.4zM437.5 842.8h1.4v1.4h-1.4zM439.6 842.8h1.4v1.4h-1.4zM442.4 842.8h1.4v1.4h-1.4zM443.8 842.8h1.4v1.4h-1.4zM446.6 842.8h1.4v1.4h-1.4zM450.8 842.8h2.8v1.4h-2.8zM455 842.8h1.4v1.4h-1.4zM456.4 842.8h1.4v1.4h-1.4zM459.9 842.8h1.4v1.4h-1.4zM415.8 843.5h1.4v1.4h-1.4zM420.7 843.5h1.4v1.4h-1.4zM422.8 843.5h1.4v1.4h-1.4zM424.9 843.5h1.4v1.4h-1.4zM427.7 843.5h1.4v1.4h-1.4zM436.1 843.5h2.1v1.4h-2.1zM438.9 843.5h1.4v1.4h-1.4zM441 843.5h1.4v1.4h-1.4zM443.8 843.5h1.4v1.4h-1.4zM450.1 843.5h1.4v1.4h-1.4zM455.7 843.5h3.5v1.4h-3.5zM422.8 844.2h1.4v1.4h-1.4zM427.7 844.2h1.4v1.4h-1.4zM430.5 844.2h2.1v1.4h-2.1zM436.1 844.2h1.4v1.4h-1.4zM437.5 844.2h2.1v1.4h-2.1zM440.3 844.2h2.1v1.4h-2.1zM443.1 844.2h1.4v1.4h-1.4zM444.5 844.2h1.4v1.4h-1.4zM446.6 844.2h3.5v1.4h-3.5zM450.1 844.2h1.4v1.4h-1.4zM451.5 844.2h1.4v1.4h-1.4zM456.4 844.2h2.1v1.4h-2.1zM458.5 844.2h1.4v1.4h-1.4zM460.6 844.2h1.4v1.4h-1.4zM464.1 844.2h1.4v1.4h-1.4zM407.4 844.9h1.4v1.4h-1.4zM420.7 844.9h1.4v1.4h-1.4zM423.5 844.9h3.5v1.4h-3.5zM427 844.9h1.4v1.4h-1.4zM429.8 844.9h1.4v1.4h-1.4zM432.6 844.9h1.4v1.4h-1.4zM434 844.9h1.4v1.4h-1.4zM438.9 844.9h2.1v1.4h-2.1zM441 844.9h1.4v1.4h-1.4zM443.8 844.9h1.4v1.4h-1.4zM445.2 844.9h1.4v1.4h-1.4zM447.3 844.9h2.1v1.4h-2.1zM449.4 844.9h1.4v1.4h-1.4zM451.5 844.9h1.4v1.4h-1.4zM452.9 844.9h1.4v1.4h-1.4zM462.7 844.9h1.4v1.4h-1.4zM421.4 845.6h1.4v1.4h-1.4zM423.5 845.6h3.5v1.4h-3.5zM430.5 845.6h1.4v1.4h-1.4zM433.3 845.6h1.4v1.4h-1.4zM436.1 845.6h1.4v1.4h-1.4zM440.3 845.6h2.8v1.4h-2.8zM443.1 845.6h2.1v1.4h-2.1zM445.2 845.6h1.4v1.4h-1.4zM448 845.6h1.4v1.4h-1.4zM456.4 845.6h2.1v1.4h-2.1zM463.4 845.6h1.4v1.4h-1.4zM418.6 846.3h2.1v1.4h-2.1zM422.8 846.3h1.4v1.4h-1.4zM424.9 846.3h1.4v1.4h-1.4zM426.3 846.3h1.4v1.4h-1.4zM429.1 846.3h1.4v1.4h-1.4zM431.9 846.3h1.4v1.4h-1.4zM433.3 846.3h2.1v1.4h-2.1zM436.1 846.3h1.4v1.4h-1.4zM437.5 846.3h1.4v1.4h-1.4zM443.8 846.3h1.4v1.4h-1.4zM445.9 846.3h3.5v1.4h-3.5zM449.4 846.3h2.1v1.4h-2.1zM454.3 846.3h1.4v1.4h-1.4zM457.8 846.3h1.4v1.4h-1.4zM460.6 846.3h1.4v1.4h-1.4zM413.7 847h1.4v1.4h-1.4zM415.1 847h1.4v1.4h-1.4zM426.3 847h3.5v1.4h-3.5zM434.7 847h1.4v1.4h-1.4zM436.8 847h2.1v1.4h-2.1zM438.9 847h1.4v1.4h-1.4zM442.4 847h2.8v1.4h-2.8zM446.6 847h1.4v1.4h-1.4zM449.4 847h1.4v1.4h-1.4zM452.9 847h1.4v1.4h-1.4zM454.3 847h1.4v1.4h-1.4zM457.1 847h1.4v1.4h-1.4zM459.2 847h1.4v1.4h-1.4zM464.8 847h1.4v1.4h-1.4zM417.9 847.7h1.4v1.4h-1.4zM424.2 847.7h1.4v1.4h-1.4zM427 847.7h1.4v1.4h-1.4zM429.8 847.7h2.1v1.4h-2.1zM431.9 847.7h2.1v1.4h-2.1zM434.7 847.7h1.4v1.4h-1.4zM436.1 847.7h2.1v1.4h-2.1zM438.2 847.7h2.1v1.4h-2.1zM442.4 847.7h1.4v1.4h-1.4zM444.5 847.7h1.4v1.4h-1.4zM445.9 847.7h1.4v1.4h-1.4zM448.7 847.7h1.4v1.4h-1.4zM455.7 847.7h2.1v1.4h-2.1zM459.9 847.7h1.4v1.4h-1.4zM420.7 848.4h1.4v1.4h-1.4zM422.8 848.4h1.4v1.4h-1.4zM425.6 848.4h1.4v1.4h-1.4zM427 848.4h1.4v1.4h-1.4zM428.4 848.4h1.4v1.4h-1.4zM429.8 848.4h1.4v1.4h-1.4zM431.2 848.4h1.4v1.4h-1.4zM434.7 848.4h1.4v1.4h-1.4zM436.1 848.4h2.1v1.4h-2.1zM438.2 848.4h1.4v1.4h-1.4zM441 848.4h1.4v1.4h-1.4zM443.8 848.4h1.4v1.4h-1.4zM452.2 848.4h2.1v1.4h-2.1zM454.3 848.4h1.4v1.4h-1.4zM460.6 848.4h1.4v1.4h-1.4zM404.6 849.1h1.4v1.4h-1.4zM416.5 849.1h1.4v1.4h-1.4zM421.4 849.1h1.4v1.4h-1.4zM427 849.1h1.4v1.4h-1.4zM429.1 849.1h1.4v1.4h-1.4zM431.2 849.1h1.4v1.4h-1.4zM432.6 849.1h3.5v1.4h-3.5zM437.5 849.1h1.4v1.4h-1.4zM438.9 849.1h5v1.4h-5zM443.8 849.1h1.4v1.4h-1.4zM448 849.1h1.4v1.4h-1.4zM449.4 849.1h1.4v1.4h-1.4zM450.8 849.1h1.4v1.4h-1.4zM452.2 849.1h1.4v1.4h-1.4zM455 849.1h1.4v1.4h-1.4zM457.8 849.1h1.4v1.4h-1.4zM460.6 849.1h1.4v1.4h-1.4zM464.1 849.1h1.4v1.4h-1.4zM410.9 849.8h1.4v1.4h-1.4zM420 849.8h2.8v1.4h-2.8zM424.2 849.8h2.1v1.4h-2.1zM429.1 849.8h1.4v1.4h-1.4zM433.3 849.8h1.4v1.4h-1.4zM437.5 849.8h1.4v1.4h-1.4zM438.9 849.8h2.8v1.4h-2.8zM441.7 849.8h2.1v1.4h-2.1zM445.2 849.8h2.1v1.4h-2.1zM448.7 849.8h1.4v1.4h-1.4zM450.1 849.8h2.1v1.4h-2.1zM452.2 849.8h1.4v1.4h-1.4zM457.1 849.8h2.1v1.4h-2.1zM460.6 849.8h1.4v1.4h-1.4zM410.9 850.5h1.4v1.4h-1.4zM417.2 850.5h2.1v1.4h-2.1zM420.7 850.5h1.4v1.4h-1.4zM422.8 850.5h1.4v1.4h-1.4zM424.2 850.5h1.4v1.4h-1.4zM427 850.5h1.4v1.4h-1.4zM429.1 850.5h1.4v1.4h-1.4zM431.2 850.5h1.4v1.4h-1.4zM432.6 850.5h1.4v1.4h-1.4zM434.7 850.5h1.4v1.4h-1.4zM436.8 850.5h1.4v1.4h-1.4zM438.2 850.5h2.1v1.4h-2.1zM440.3 850.5h2.8v1.4h-2.8zM444.5 850.5h2.1v1.4h-2.1zM448 850.5h1.4v1.4h-1.4zM482.3 850.5h1.4v1.4h-1.4zM414.4 851.2h1.4v1.4h-1.4zM420.7 851.2h2.1v1.4h-2.1zM427 851.2h3.5v1.4h-3.5zM431.9 851.2h2.1v1.4h-2.1zM434 851.2h2.1v1.4h-2.1zM436.1 851.2h1.4v1.4h-1.4zM437.5 851.2h1.4v1.4h-1.4zM439.6 851.2h1.4v1.4h-1.4zM441 851.2h1.4v1.4h-1.4zM442.4 851.2h2.1v1.4h-2.1zM445.2 851.2h1.4v1.4h-1.4zM449.4 851.2h1.4v1.4h-1.4zM451.5 851.2h1.4v1.4h-1.4zM454.3 851.2h2.1v1.4h-2.1zM459.9 851.2h1.4v1.4h-1.4zM465.5 851.2h1.4v1.4h-1.4zM390.6 851.9h1.4v1.4h-1.4zM419.3 851.9h1.4v1.4h-1.4zM421.4 851.9h1.4v1.4h-1.4zM423.5 851.9h2.1v1.4h-2.1zM427 851.9h3.5v1.4h-3.5zM430.5 851.9h1.4v1.4h-1.4zM431.9 851.9h1.4v1.4h-1.4zM434.7 851.9h1.4v1.4h-1.4zM436.1 851.9h1.4v1.4h-1.4zM440.3 851.9h1.4v1.4h-1.4zM441.7 851.9h1.4v1.4h-1.4zM445.9 851.9h2.8v1.4h-2.8zM450.1 851.9h1.4v1.4h-1.4zM451.5 851.9h1.4v1.4h-1.4zM454.3 851.9h1.4v1.4h-1.4zM455.7 851.9h1.4v1.4h-1.4zM406 852.6h1.4v1.4h-1.4zM419.3 852.6h1.4v1.4h-1.4zM425.6 852.6h1.4v1.4h-1.4zM427.7 852.6h1.4v1.4h-1.4zM431.2 852.6h1.4v1.4h-1.4zM433.3 852.6h2.1v1.4h-2.1zM435.4 852.6h2.1v1.4h-2.1zM438.2 852.6h2.1v1.4h-2.1zM440.3 852.6h1.4v1.4h-1.4zM441.7 852.6h1.4v1.4h-1.4zM447.3 852.6h1.4v1.4h-1.4zM448.7 852.6h1.4v1.4h-1.4zM453.6 852.6h2.8v1.4h-2.8zM456.4 852.6h2.1v1.4h-2.1zM459.9 852.6h1.4v1.4h-1.4zM466.9 852.6h1.4v1.4h-1.4zM410.2 853.3h1.4v1.4h-1.4zM415.1 853.3h1.4v1.4h-1.4zM422.8 853.3h1.4v1.4h-1.4zM424.2 853.3h1.4v1.4h-1.4zM425.6 853.3h1.4v1.4h-1.4zM429.1 853.3h2.1v1.4h-2.1zM432.6 853.3h1.4v1.4h-1.4zM434.7 853.3h1.4v1.4h-1.4zM437.5 853.3h1.4v1.4h-1.4zM439.6 853.3h3.5v1.4h-3.5zM443.8 853.3h1.4v1.4h-1.4zM446.6 853.3h2.8v1.4h-2.8zM453.6 853.3h1.4v1.4h-1.4zM455 853.3h1.4v1.4h-1.4zM457.8 853.3h1.4v1.4h-1.4zM459.9 853.3h1.4v1.4h-1.4zM466.9 853.3h1.4v1.4h-1.4zM421.4 854h1.4v1.4h-1.4zM422.8 854h1.4v1.4h-1.4zM424.2 854h1.4v1.4h-1.4zM428.4 854h1.4v1.4h-1.4zM429.8 854h1.4v1.4h-1.4zM431.2 854h1.4v1.4h-1.4zM432.6 854h2.1v1.4h-2.1zM435.4 854h1.4v1.4h-1.4zM437.5 854h1.4v1.4h-1.4zM439.6 854h3.5v1.4h-3.5zM443.1 854h2.1v1.4h-2.1zM445.2 854h1.4v1.4h-1.4zM446.6 854h2.8v1.4h-2.8zM453.6 854h1.4v1.4h-1.4zM457.1 854h1.4v1.4h-1.4zM459.2 854h1.4v1.4h-1.4zM461.3 854h1.4v1.4h-1.4zM412.3 854.7h1.4v1.4h-1.4zM419.3 854.7h1.4v1.4h-1.4zM422.1 854.7h1.4v1.4h-1.4zM423.5 854.7h1.4v1.4h-1.4zM424.9 854.7h2.8v1.4h-2.8zM427.7 854.7h1.4v1.4h-1.4zM429.8 854.7h1.4v1.4h-1.4zM431.9 854.7h1.4v1.4h-1.4zM434 854.7h1.4v1.4h-1.4zM435.4 854.7h1.4v1.4h-1.4zM436.8 854.7h1.4v1.4h-1.4zM438.9 854.7h2.8v1.4h-2.8zM441.7 854.7h3.5v1.4h-3.5zM448 854.7h1.4v1.4h-1.4zM449.4 854.7h1.4v1.4h-1.4zM452.9 854.7h1.4v1.4h-1.4zM456.4 854.7h1.4v1.4h-1.4zM460.6 854.7h1.4v1.4h-1.4zM417.2 855.4h1.4v1.4h-1.4zM420 855.4h1.4v1.4h-1.4zM423.5 855.4h1.4v1.4h-1.4zM425.6 855.4h1.4v1.4h-1.4zM427.7 855.4h1.4v1.4h-1.4zM429.1 855.4h1.4v1.4h-1.4zM430.5 855.4h2.1v1.4h-2.1zM434 855.4h1.4v1.4h-1.4zM435.4 855.4h3.5v1.4h-3.5zM438.9 855.4h2.1v1.4h-2.1zM441 855.4h1.4v1.4h-1.4zM444.5 855.4h2.8v1.4h-2.8zM448 855.4h1.4v1.4h-1.4zM450.1 855.4h1.4v1.4h-1.4zM453.6 855.4h2.1v1.4h-2.1zM456.4 855.4h1.4v1.4h-1.4zM418.6 856.1h1.4v1.4h-1.4zM421.4 856.1h1.4v1.4h-1.4zM422.8 856.1h3.5v1.4h-3.5zM429.1 856.1h1.4v1.4h-1.4zM430.5 856.1h1.4v1.4h-1.4zM432.6 856.1h1.4v1.4h-1.4zM434 856.1h1.4v1.4h-1.4zM436.1 856.1h1.4v1.4h-1.4zM438.2 856.1h2.8v1.4h-2.8zM441 856.1h1.4v1.4h-1.4zM442.4 856.1h1.4v1.4h-1.4zM443.8 856.1h2.8v1.4h-2.8zM446.6 856.1h2.8v1.4h-2.8zM449.4 856.1h1.4v1.4h-1.4zM450.8 856.1h2.1v1.4h-2.1zM455.7 856.1h1.4v1.4h-1.4zM457.1 856.1h1.4v1.4h-1.4zM416.5 856.8h1.4v1.4h-1.4zM420.7 856.8h1.4v1.4h-1.4zM424.2 856.8h2.1v1.4h-2.1zM428.4 856.8h2.1v1.4h-2.1zM430.5 856.8h1.4v1.4h-1.4zM431.9 856.8h2.1v1.4h-2.1zM435.4 856.8h1.4v1.4h-1.4zM436.8 856.8h2.8v1.4h-2.8zM440.3 856.8h2.1v1.4h-2.1zM445.9 856.8h2.1v1.4h-2.1zM449.4 856.8h2.1v1.4h-2.1zM452.2 856.8h1.4v1.4h-1.4zM410.9 857.5h1.4v1.4h-1.4zM414.4 857.5h1.4v1.4h-1.4zM416.5 857.5h1.4v1.4h-1.4zM418.6 857.5h1.4v1.4h-1.4zM421.4 857.5h1.4v1.4h-1.4zM423.5 857.5h1.4v1.4h-1.4zM427 857.5h2.1v1.4h-2.1zM431.2 857.5h2.1v1.4h-2.1zM434 857.5h1.4v1.4h-1.4zM435.4 857.5h1.4v1.4h-1.4zM438.2 857.5h1.4v1.4h-1.4zM440.3 857.5h1.4v1.4h-1.4zM443.1 857.5h2.1v1.4h-2.1zM445.2 857.5h2.1v1.4h-2.1zM447.3 857.5h1.4v1.4h-1.4zM448.7 857.5h2.1v1.4h-2.1zM452.9 857.5h1.4v1.4h-1.4zM462 857.5h1.4v1.4h-1.4zM467.6 857.5h1.4v1.4h-1.4zM424.2 858.2h1.4v1.4h-1.4zM428.4 858.2h2.1v1.4h-2.1zM431.2 858.2h1.4v1.4h-1.4zM433.3 858.2h1.4v1.4h-1.4zM434.7 858.2h2.8v1.4h-2.8zM439.6 858.2h1.4v1.4h-1.4zM441.7 858.2h2.8v1.4h-2.8zM445.2 858.2h2.1v1.4h-2.1zM447.3 858.2h1.4v1.4h-1.4zM450.1 858.2h2.1v1.4h-2.1zM452.2 858.2h1.4v1.4h-1.4zM454.3 858.2h1.4v1.4h-1.4zM461.3 858.2h1.4v1.4h-1.4zM407.4 858.9h1.4v1.4h-1.4zM408.8 858.9h1.4v1.4h-1.4zM416.5 858.9h1.4v1.4h-1.4zM420 858.9h2.8v1.4h-2.8zM424.9 858.9h2.1v1.4h-2.1zM427 858.9h1.4v1.4h-1.4zM428.4 858.9h2.1v1.4h-2.1zM430.5 858.9h2.1v1.4h-2.1zM434 858.9h1.4v1.4h-1.4zM436.1 858.9h1.4v1.4h-1.4zM438.2 858.9h1.4v1.4h-1.4zM439.6 858.9h2.8v1.4h-2.8zM442.4 858.9h2.1v1.4h-2.1zM450.1 858.9h1.4v1.4h-1.4zM461.3 858.9h1.4v1.4h-1.4zM469 858.9h1.4v1.4h-1.4zM406.7 859.6h1.4v1.4h-1.4zM413.7 859.6h2.1v1.4h-2.1zM418.6 859.6h2.1v1.4h-2.1zM421.4 859.6h1.4v1.4h-1.4zM424.2 859.6h2.1v1.4h-2.1zM427 859.6h2.1v1.4h-2.1zM429.1 859.6h2.1v1.4h-2.1zM433.3 859.6h1.4v1.4h-1.4zM436.1 859.6h1.4v1.4h-1.4zM437.5 859.6h1.4v1.4h-1.4zM438.9 859.6h2.8v1.4h-2.8zM442.4 859.6h2.8v1.4h-2.8zM445.9 859.6h1.4v1.4h-1.4zM447.3 859.6h1.4v1.4h-1.4zM453.6 859.6h1.4v1.4h-1.4zM455.7 859.6h1.4v1.4h-1.4zM458.5 859.6h1.4v1.4h-1.4zM468.3 859.6h1.4v1.4h-1.4zM419.3 860.3h1.4v1.4h-1.4zM425.6 860.3h1.4v1.4h-1.4zM427.7 860.3h2.1v1.4h-2.1zM430.5 860.3h2.1v1.4h-2.1zM432.6 860.3h1.4v1.4h-1.4zM435.4 860.3h2.8v1.4h-2.8zM441.7 860.3h1.4v1.4h-1.4zM443.1 860.3h2.1v1.4h-2.1zM447.3 860.3h2.1v1.4h-2.1zM452.9 860.3h2.1v1.4h-2.1zM455 860.3h1.4v1.4h-1.4zM457.8 860.3h1.4v1.4h-1.4zM463.4 860.3h1.4v1.4h-1.4zM470.4 860.3h1.4v1.4h-1.4zM407.4 861h1.4v1.4h-1.4zM409.5 861h1.4v1.4h-1.4zM421.4 861h1.4v1.4h-1.4zM423.5 861h2.1v1.4h-2.1zM426.3 861h1.4v1.4h-1.4zM429.8 861h2.1v1.4h-2.1zM437.5 861h2.8v1.4h-2.8zM441.7 861h2.1v1.4h-2.1zM443.8 861h1.4v1.4h-1.4zM445.9 861h3.5v1.4h-3.5zM450.1 861h1.4v1.4h-1.4zM451.5 861h1.4v1.4h-1.4zM452.9 861h1.4v1.4h-1.4zM454.3 861h1.4v1.4h-1.4zM459.2 861h1.4v1.4h-1.4zM460.6 861h1.4v1.4h-1.4zM464.8 861h1.4v1.4h-1.4zM406.7 861.7h1.4v1.4h-1.4zM420.7 861.7h2.1v1.4h-2.1zM424.2 861.7h1.4v1.4h-1.4zM427.7 861.7h2.1v1.4h-2.1zM430.5 861.7h1.4v1.4h-1.4zM432.6 861.7h2.1v1.4h-2.1zM434.7 861.7h2.8v1.4h-2.8zM437.5 861.7h1.4v1.4h-1.4zM439.6 861.7h2.1v1.4h-2.1zM441.7 861.7h1.4v1.4h-1.4zM443.8 861.7h2.8v1.4h-2.8zM448 861.7h1.4v1.4h-1.4zM450.1 861.7h1.4v1.4h-1.4zM451.5 861.7h1.4v1.4h-1.4zM454.3 861.7h1.4v1.4h-1.4zM462 861.7h1.4v1.4h-1.4zM417.9 862.4h1.4v1.4h-1.4zM420 862.4h1.4v1.4h-1.4zM425.6 862.4h2.1v1.4h-2.1zM429.1 862.4h1.4v1.4h-1.4zM430.5 862.4h1.4v1.4h-1.4zM435.4 862.4h2.1v1.4h-2.1zM437.5 862.4h1.4v1.4h-1.4zM441 862.4h2.8v1.4h-2.8zM459.9 862.4h1.4v1.4h-1.4zM409.5 863.1h1.4v1.4h-1.4zM429.1 863.1h1.4v1.4h-1.4zM430.5 863.1h1.4v1.4h-1.4zM432.6 863.1h1.4v1.4h-1.4zM434 863.1h1.4v1.4h-1.4zM435.4 863.1h3.5v1.4h-3.5zM438.9 863.1h1.4v1.4h-1.4zM441 863.1h2.1v1.4h-2.1zM446.6 863.1h2.1v1.4h-2.1zM415.1 863.8h1.4v1.4h-1.4zM419.3 863.8h2.1v1.4h-2.1zM425.6 863.8h1.4v1.4h-1.4zM436.1 863.8h1.4v1.4h-1.4zM437.5 863.8h2.8v1.4h-2.8zM442.4 863.8h2.1v1.4h-2.1zM444.5 863.8h2.8v1.4h-2.8zM450.1 863.8h1.4v1.4h-1.4zM459.2 863.8h1.4v1.4h-1.4zM421.4 864.5h1.4v1.4h-1.4zM428.4 864.5h1.4v1.4h-1.4zM429.8 864.5h1.4v1.4h-1.4zM431.2 864.5h1.4v1.4h-1.4zM432.6 864.5h1.4v1.4h-1.4zM436.1 864.5h2.1v1.4h-2.1zM438.9 864.5h1.4v1.4h-1.4zM440.3 864.5h1.4v1.4h-1.4zM445.2 864.5h2.1v1.4h-2.1zM450.8 864.5h1.4v1.4h-1.4zM452.9 864.5h1.4v1.4h-1.4zM457.1 864.5h1.4v1.4h-1.4zM401.8 865.2h1.4v1.4h-1.4zM405.3 865.2h1.4v1.4h-1.4zM417.2 865.2h1.4v1.4h-1.4zM422.8 865.2h2.1v1.4h-2.1zM432.6 865.2h1.4v1.4h-1.4zM434.7 865.2h2.1v1.4h-2.1zM440.3 865.2h1.4v1.4h-1.4zM443.8 865.2h2.1v1.4h-2.1zM447.3 865.2h1.4v1.4h-1.4zM449.4 865.2h1.4v1.4h-1.4zM455 865.2h1.4v1.4h-1.4zM414.4 865.9h1.4v1.4h-1.4zM416.5 865.9h1.4v1.4h-1.4zM420 865.9h1.4v1.4h-1.4zM422.8 865.9h2.1v1.4h-2.1zM424.9 865.9h2.1v1.4h-2.1zM431.9 865.9h1.4v1.4h-1.4zM433.3 865.9h2.1v1.4h-2.1zM436.8 865.9h2.1v1.4h-2.1zM438.9 865.9h2.8v1.4h-2.8zM443.8 865.9h1.4v1.4h-1.4zM445.2 865.9h1.4v1.4h-1.4zM447.3 865.9h1.4v1.4h-1.4zM456.4 865.9h1.4v1.4h-1.4zM391.3 866.6h1.4v1.4h-1.4zM414.4 866.6h1.4v1.4h-1.4zM419.3 866.6h1.4v1.4h-1.4zM423.5 866.6h1.4v1.4h-1.4zM428.4 866.6h1.4v1.4h-1.4zM434 866.6h1.4v1.4h-1.4zM435.4 866.6h1.4v1.4h-1.4zM438.2 866.6h1.4v1.4h-1.4zM439.6 866.6h2.1v1.4h-2.1zM441.7 866.6h1.4v1.4h-1.4zM444.5 866.6h1.4v1.4h-1.4zM451.5 866.6h1.4v1.4h-1.4zM457.8 866.6h2.1v1.4h-2.1zM395.5 867.3h1.4v1.4h-1.4zM407.4 867.3h1.4v1.4h-1.4zM418.6 867.3h1.4v1.4h-1.4zM421.4 867.3h1.4v1.4h-1.4zM422.8 867.3h1.4v1.4h-1.4zM424.2 867.3h2.1v1.4h-2.1zM441.7 867.3h1.4v1.4h-1.4zM452.9 867.3h1.4v1.4h-1.4zM455 867.3h1.4v1.4h-1.4zM456.4 867.3h1.4v1.4h-1.4zM406.7 868h1.4v1.4h-1.4zM411.6 868h1.4v1.4h-1.4zM417.9 868h1.4v1.4h-1.4zM420.7 868h2.1v1.4h-2.1zM422.8 868h1.4v1.4h-1.4zM424.9 868h1.4v1.4h-1.4zM428.4 868h2.1v1.4h-2.1zM431.9 868h2.1v1.4h-2.1zM434 868h2.1v1.4h-2.1zM438.2 868h2.1v1.4h-2.1zM455.7 868h1.4v1.4h-1.4zM416.5 868.7h1.4v1.4h-1.4zM418.6 868.7h1.4v1.4h-1.4zM420.7 868.7h1.4v1.4h-1.4zM427.7 868.7h1.4v1.4h-1.4zM429.1 868.7h1.4v1.4h-1.4zM432.6 868.7h1.4v1.4h-1.4zM436.1 868.7h2.1v1.4h-2.1zM438.2 868.7h1.4v1.4h-1.4zM439.6 868.7h2.1v1.4h-2.1zM441.7 868.7h1.4v1.4h-1.4zM443.1 868.7h2.1v1.4h-2.1zM448 868.7h1.4v1.4h-1.4zM451.5 868.7h1.4v1.4h-1.4zM413.7 869.4h1.4v1.4h-1.4zM415.1 869.4h1.4v1.4h-1.4zM424.2 869.4h1.4v1.4h-1.4zM425.6 869.4h1.4v1.4h-1.4zM433.3 869.4h3.5v1.4h-3.5zM441.7 869.4h1.4v1.4h-1.4zM446.6 869.4h2.1v1.4h-2.1zM448.7 869.4h1.4v1.4h-1.4zM450.1 869.4h1.4v1.4h-1.4zM408.1 870.1h1.4v1.4h-1.4zM417.9 870.1h2.1v1.4h-2.1zM423.5 870.1h1.4v1.4h-1.4zM427.7 870.1h2.1v1.4h-2.1zM432.6 870.1h1.4v1.4h-1.4zM439.6 870.1h1.4v1.4h-1.4zM444.5 870.1h1.4v1.4h-1.4zM448.7 870.1h1.4v1.4h-1.4zM470.4 870.1h1.4v1.4h-1.4zM413.7 870.8h1.4v1.4h-1.4zM418.6 870.8h1.4v1.4h-1.4zM421.4 870.8h2.1v1.4h-2.1zM424.2 870.8h1.4v1.4h-1.4zM431.2 870.8h1.4v1.4h-1.4zM435.4 870.8h1.4v1.4h-1.4zM443.8 870.8h1.4v1.4h-1.4zM453.6 870.8h1.4v1.4h-1.4zM458.5 870.8h1.4v1.4h-1.4zM411.6 871.5h1.4v1.4h-1.4zM419.3 871.5h1.4v1.4h-1.4zM422.1 871.5h1.4v1.4h-1.4zM424.2 871.5h1.4v1.4h-1.4zM427 871.5h1.4v1.4h-1.4zM428.4 871.5h1.4v1.4h-1.4zM429.8 871.5h2.1v1.4h-2.1zM436.8 871.5h1.4v1.4h-1.4zM438.9 871.5h1.4v1.4h-1.4zM442.4 871.5h1.4v1.4h-1.4zM444.5 871.5h1.4v1.4h-1.4zM472.5 871.5h1.4v1.4h-1.4zM415.8 872.2h1.4v1.4h-1.4zM418.6 872.2h1.4v1.4h-1.4zM424.2 872.2h1.4v1.4h-1.4zM431.2 872.2h2.1v1.4h-2.1zM436.8 872.2h1.4v1.4h-1.4zM443.8 872.2h1.4v1.4h-1.4zM453.6 872.2h1.4v1.4h-1.4zM417.9 872.9h1.4v1.4h-1.4zM421.4 872.9h1.4v1.4h-1.4zM435.4 872.9h1.4v1.4h-1.4zM443.8 872.9h1.4v1.4h-1.4zM412.3 873.6h1.4v1.4h-1.4zM419.3 873.6h2.1v1.4h-2.1zM422.8 873.6h1.4v1.4h-1.4zM427 873.6h1.4v1.4h-1.4zM434.7 873.6h2.1v1.4h-2.1zM437.5 873.6h1.4v1.4h-1.4zM441.7 873.6h1.4v1.4h-1.4zM444.5 873.6h1.4v1.4h-1.4zM452.2 873.6h1.4v1.4h-1.4zM427.7 874.3h1.4v1.4h-1.4zM431.9 874.3h1.4v1.4h-1.4zM455.7 874.3h1.4v1.4h-1.4zM422.8 875h1.4v1.4h-1.4zM427.7 875h2.1v1.4h-2.1zM438.9 875h1.4v1.4h-1.4zM444.5 875h1.4v1.4h-1.4zM409.5 875.7h1.4v1.4h-1.4zM417.2 875.7h1.4v1.4h-1.4zM421.4 875.7h1.4v1.4h-1.4zM425.6 875.7h1.4v1.4h-1.4zM439.6 875.7h1.4v1.4h-1.4zM443.1 875.7h1.4v1.4h-1.4zM420 876.4h1.4v1.4h-1.4zM429.1 876.4h1.4v1.4h-1.4zM431.9 876.4h1.4v1.4h-1.4zM442.4 876.4h1.4v1.4h-1.4zM461.3 876.4h1.4v1.4h-1.4zM408.8 877.1h1.4v1.4h-1.4zM433.3 877.1h1.4v1.4h-1.4zM442.4 877.1h1.4v1.4h-1.4zM424.9 877.8h1.4v1.4h-1.4zM437.5 878.5h1.4v1.4h-1.4zM441 878.5h1.4v1.4h-1.4zM444.5 878.5h1.4v1.4h-1.4zM412.3 879.2h1.4v1.4h-1.4zM403.2 879.9h1.4v1.4h-1.4zM414.4 879.9h1.4v1.4h-1.4zM422.8 879.9h1.4v1.4h-1.4zM446.6 879.9h1.4v1.4h-1.4zM433.3 880.6h1.4v1.4h-1.4zM421.4 881.3h1.4v1.4h-1.4zM441.7 881.3h1.4v1.4h-1.4zM404.6 882h1.4v1.4h-1.4zM409.5 882h1.4v1.4h-1.4zM421.4 882h1.4v1.4h-1.4zM422.8 882h1.4v1.4h-1.4zM404.6 884.8h1.4v1.4h-1.4zM430.5 886.9h1.4v1.4h-1.4zM439.6 888.3h1.4v1.4h-1.4zM423.5 889h1.4v1.4h-1.4zM422.8 889.7h1.4v1.4h-1.4zM404.6 893.2h1.4v1.4h-1.4z" fill="#1a5c9e"/>
<line x1="395.5" y1="862.2" x2="490.5" y2="842" stroke="#111" stroke-width="1"/>
<line x1="386.3" y1="790.2" x2="386.3" y2="914" stroke="#000" stroke-width="1.7"/>
<line x1="385.5" y1="913.2" x2="512.1" y2="913.2" stroke="#000" stroke-width="1.7"/>
<line x1="380.1" y1="791" x2="386.3" y2="791" stroke="#000" stroke-width="1.6"/>
<text x="378.7" y="793.9" font-size="8" text-anchor="end" font-weight="bold">20</text>
<line x1="380.1" y1="821.5" x2="386.3" y2="821.5" stroke="#000" stroke-width="1.6"/>
<text x="378.7" y="824.4" font-size="8" text-anchor="end" font-weight="bold">15</text>
<line x1="380.1" y1="852.1" x2="386.3" y2="852.1" stroke="#000" stroke-width="1.6"/>
<text x="378.7" y="855" font-size="8" text-anchor="end" font-weight="bold">10</text>
<line x1="380.1" y1="882.7" x2="386.3" y2="882.7" stroke="#000" stroke-width="1.6"/>
<text x="378.7" y="885.6" font-size="8" text-anchor="end" font-weight="bold">5</text>
<line x1="380.1" y1="913.2" x2="386.3" y2="913.2" stroke="#000" stroke-width="1.6"/>
<text x="378.7" y="916.1" font-size="8" text-anchor="end" font-weight="bold">0</text>
<line x1="386.3" y1="913.2" x2="386.3" y2="918.6" stroke="#000" stroke-width="1.6"/>
<text x="386.3" y="930.2" font-size="8" text-anchor="middle" font-weight="bold">11.5</text>
<line x1="407.1" y1="913.2" x2="407.1" y2="918.6" stroke="#000" stroke-width="1.6"/>
<text x="407.1" y="930.2" font-size="8" text-anchor="middle" font-weight="bold">12.0</text>
<line x1="428" y1="913.2" x2="428" y2="918.6" stroke="#000" stroke-width="1.6"/>
<text x="428" y="930.2" font-size="8" text-anchor="middle" font-weight="bold">12.5</text>
<line x1="448.8" y1="913.2" x2="448.8" y2="918.6" stroke="#000" stroke-width="1.6"/>
<text x="448.8" y="930.2" font-size="8" text-anchor="middle" font-weight="bold">13.0</text>
<line x1="469.6" y1="913.2" x2="469.6" y2="918.6" stroke="#000" stroke-width="1.6"/>
<text x="469.6" y="930.2" font-size="8" text-anchor="middle" font-weight="bold">13.5</text>
<line x1="490.5" y1="913.2" x2="490.5" y2="918.6" stroke="#000" stroke-width="1.6"/>
<text x="490.5" y="930.2" font-size="8" text-anchor="middle" font-weight="bold">14.0</text>
<line x1="511.3" y1="913.2" x2="511.3" y2="918.6" stroke="#000" stroke-width="1.6"/>
<text x="511.3" y="930.2" font-size="8" text-anchor="middle" font-weight="bold">14.5</text>
<text x="448.8" y="946.5" font-size="10.1" text-anchor="middle">PCBP1</text>
<text transform="translate(362.3 853.5) rotate(-90)" font-size="10.2" text-anchor="middle">ISG15</text>
<text x="399.7" y="801.7" font-size="7.5" fill="#222" letter-spacing="-0.2">r = 0.2449</text>
<text x="452.2" y="801.7" font-size="7.7" font-weight="bold">p = 4.359<tspan dy="-3" font-size="5.3" font-weight="normal">-18</tspan></text>
<path d="M590.8 812.7h1.4v1.4h-1.4zM602.7 812.7h1.4v1.4h-1.4zM615.3 812.7h1.4v1.4h-1.4zM617.4 813.4h1.4v1.4h-1.4zM593.6 814.1h1.4v1.4h-1.4zM600.6 814.1h1.4v1.4h-1.4zM614.6 814.1h1.4v1.4h-1.4zM599.2 814.8h1.4v1.4h-1.4zM601.3 814.8h1.4v1.4h-1.4zM609 814.8h1.4v1.4h-1.4zM600.6 815.5h1.4v1.4h-1.4zM585.2 816.2h1.4v1.4h-1.4zM590.1 816.2h1.4v1.4h-1.4zM598.5 816.2h1.4v1.4h-1.4zM604.1 816.2h1.4v1.4h-1.4zM611.8 816.9h1.4v1.4h-1.4zM616.7 817.6h1.4v1.4h-1.4zM618.8 817.6h2.1v1.4h-2.1zM590.8 818.3h1.4v1.4h-1.4zM595 818.3h1.4v1.4h-1.4zM599.2 818.3h1.4v1.4h-1.4zM600.6 818.3h1.4v1.4h-1.4zM602 818.3h1.4v1.4h-1.4zM588.7 819h1.4v1.4h-1.4zM604.8 819h1.4v1.4h-1.4zM606.2 819h1.4v1.4h-1.4zM613.9 819h1.4v1.4h-1.4zM618.1 819h1.4v1.4h-1.4zM619.5 819h1.4v1.4h-1.4zM583.8 819.7h1.4v1.4h-1.4zM595.7 819.7h1.4v1.4h-1.4zM599.2 819.7h1.4v1.4h-1.4zM602.7 819.7h1.4v1.4h-1.4zM606.9 819.7h1.4v1.4h-1.4zM620.9 819.7h1.4v1.4h-1.4zM587.3 820.4h1.4v1.4h-1.4zM593.6 820.4h1.4v1.4h-1.4zM597.1 820.4h1.4v1.4h-1.4zM602 820.4h1.4v1.4h-1.4zM603.4 820.4h1.4v1.4h-1.4zM609 820.4h1.4v1.4h-1.4zM616.7 820.4h1.4v1.4h-1.4zM627.9 820.4h1.4v1.4h-1.4zM569.8 821.1h1.4v1.4h-1.4zM581.7 821.1h1.4v1.4h-1.4zM607.6 821.1h1.4v1.4h-1.4zM609 821.1h1.4v1.4h-1.4zM611.1 821.1h2.1v1.4h-2.1zM613.2 821.1h1.4v1.4h-1.4zM618.1 821.1h2.1v1.4h-2.1zM577.5 821.8h1.4v1.4h-1.4zM590.8 821.8h1.4v1.4h-1.4zM597.1 821.8h1.4v1.4h-1.4zM601.3 821.8h1.4v1.4h-1.4zM603.4 821.8h1.4v1.4h-1.4zM610.4 821.8h2.1v1.4h-2.1zM620.2 821.8h2.1v1.4h-2.1zM626.5 821.8h1.4v1.4h-1.4zM588 822.5h1.4v1.4h-1.4zM596.4 822.5h1.4v1.4h-1.4zM602 822.5h1.4v1.4h-1.4zM606.9 822.5h1.4v1.4h-1.4zM610.4 822.5h1.4v1.4h-1.4zM616.7 822.5h1.4v1.4h-1.4zM623 822.5h2.1v1.4h-2.1zM585.2 823.2h1.4v1.4h-1.4zM591.5 823.2h1.4v1.4h-1.4zM592.9 823.2h2.1v1.4h-2.1zM599.9 823.2h1.4v1.4h-1.4zM607.6 823.2h2.1v1.4h-2.1zM614.6 823.2h1.4v1.4h-1.4zM616.7 823.2h1.4v1.4h-1.4zM585.2 823.9h1.4v1.4h-1.4zM592.9 823.9h1.4v1.4h-1.4zM597.8 823.9h1.4v1.4h-1.4zM602.7 823.9h2.1v1.4h-2.1zM604.8 823.9h1.4v1.4h-1.4zM606.2 823.9h1.4v1.4h-1.4zM607.6 823.9h1.4v1.4h-1.4zM617.4 823.9h1.4v1.4h-1.4zM623 823.9h1.4v1.4h-1.4zM597.1 824.6h1.4v1.4h-1.4zM600.6 824.6h1.4v1.4h-1.4zM602.7 824.6h1.4v1.4h-1.4zM604.8 824.6h1.4v1.4h-1.4zM608.3 824.6h1.4v1.4h-1.4zM610.4 824.6h1.4v1.4h-1.4zM612.5 824.6h1.4v1.4h-1.4zM616.7 824.6h1.4v1.4h-1.4zM585.9 825.3h1.4v1.4h-1.4zM588.7 825.3h2.1v1.4h-2.1zM592.2 825.3h1.4v1.4h-1.4zM595.7 825.3h1.4v1.4h-1.4zM597.1 825.3h2.1v1.4h-2.1zM599.9 825.3h1.4v1.4h-1.4zM603.4 825.3h2.1v1.4h-2.1zM608.3 825.3h1.4v1.4h-1.4zM612.5 825.3h1.4v1.4h-1.4zM614.6 825.3h1.4v1.4h-1.4zM620.9 825.3h1.4v1.4h-1.4zM627.2 825.3h1.4v1.4h-1.4zM568.4 826h1.4v1.4h-1.4zM570.5 826h1.4v1.4h-1.4zM587.3 826h1.4v1.4h-1.4zM589.4 826h1.4v1.4h-1.4zM601.3 826h2.8v1.4h-2.8zM604.1 826h1.4v1.4h-1.4zM605.5 826h1.4v1.4h-1.4zM608.3 826h1.4v1.4h-1.4zM614.6 826h2.8v1.4h-2.8zM620.9 826h1.4v1.4h-1.4zM623 826h1.4v1.4h-1.4zM574 826.7h1.4v1.4h-1.4zM585.2 826.7h1.4v1.4h-1.4zM587.3 826.7h1.4v1.4h-1.4zM592.9 826.7h2.1v1.4h-2.1zM597.8 826.7h1.4v1.4h-1.4zM601.3 826.7h2.8v1.4h-2.8zM604.1 826.7h1.4v1.4h-1.4zM605.5 826.7h2.1v1.4h-2.1zM608.3 826.7h2.8v1.4h-2.8zM616 826.7h1.4v1.4h-1.4zM620.9 826.7h1.4v1.4h-1.4zM623 826.7h1.4v1.4h-1.4zM583.8 827.4h1.4v1.4h-1.4zM595.7 827.4h1.4v1.4h-1.4zM597.1 827.4h1.4v1.4h-1.4zM599.2 827.4h1.4v1.4h-1.4zM604.1 827.4h1.4v1.4h-1.4zM606.2 827.4h1.4v1.4h-1.4zM610.4 827.4h2.1v1.4h-2.1zM615.3 827.4h1.4v1.4h-1.4zM616.7 827.4h1.4v1.4h-1.4zM621.6 827.4h1.4v1.4h-1.4zM567 828.1h1.4v1.4h-1.4zM587.3 828.1h1.4v1.4h-1.4zM599.2 828.1h2.1v1.4h-2.1zM603.4 828.1h1.4v1.4h-1.4zM604.8 828.1h4.2v1.4h-4.2zM610.4 828.1h1.4v1.4h-1.4zM611.8 828.1h1.4v1.4h-1.4zM613.2 828.1h1.4v1.4h-1.4zM617.4 828.1h3.5v1.4h-3.5zM622.3 828.1h1.4v1.4h-1.4zM630.7 828.1h1.4v1.4h-1.4zM566.3 828.8h1.4v1.4h-1.4zM585.9 828.8h1.4v1.4h-1.4zM587.3 828.8h1.4v1.4h-1.4zM590.8 828.8h1.4v1.4h-1.4zM599.9 828.8h5v1.4h-5zM605.5 828.8h1.4v1.4h-1.4zM607.6 828.8h2.8v1.4h-2.8zM613.2 828.8h1.4v1.4h-1.4zM615.3 828.8h1.4v1.4h-1.4zM617.4 828.8h1.4v1.4h-1.4zM618.8 828.8h2.1v1.4h-2.1zM623 828.8h1.4v1.4h-1.4zM630 828.8h1.4v1.4h-1.4zM631.4 828.8h2.1v1.4h-2.1zM571.9 829.5h1.4v1.4h-1.4zM581 829.5h1.4v1.4h-1.4zM587.3 829.5h2.1v1.4h-2.1zM591.5 829.5h1.4v1.4h-1.4zM594.3 829.5h1.4v1.4h-1.4zM595.7 829.5h2.8v1.4h-2.8zM599.2 829.5h2.8v1.4h-2.8zM602 829.5h1.4v1.4h-1.4zM604.8 829.5h1.4v1.4h-1.4zM606.2 829.5h2.8v1.4h-2.8zM609.7 829.5h1.4v1.4h-1.4zM611.1 829.5h2.1v1.4h-2.1zM616 829.5h2.1v1.4h-2.1zM618.1 829.5h2.1v1.4h-2.1zM620.9 829.5h1.4v1.4h-1.4zM583.8 830.2h1.4v1.4h-1.4zM585.2 830.2h1.4v1.4h-1.4zM587.3 830.2h1.4v1.4h-1.4zM589.4 830.2h1.4v1.4h-1.4zM590.8 830.2h1.4v1.4h-1.4zM601.3 830.2h2.1v1.4h-2.1zM603.4 830.2h1.4v1.4h-1.4zM606.2 830.2h2.1v1.4h-2.1zM609.7 830.2h1.4v1.4h-1.4zM612.5 830.2h2.1v1.4h-2.1zM617.4 830.2h1.4v1.4h-1.4zM632.8 830.2h1.4v1.4h-1.4zM581.7 830.9h1.4v1.4h-1.4zM583.8 830.9h1.4v1.4h-1.4zM585.9 830.9h2.1v1.4h-2.1zM589.4 830.9h1.4v1.4h-1.4zM590.8 830.9h1.4v1.4h-1.4zM592.9 830.9h1.4v1.4h-1.4zM597.1 830.9h2.1v1.4h-2.1zM599.9 830.9h1.4v1.4h-1.4zM602 830.9h3.5v1.4h-3.5zM606.2 830.9h4.2v1.4h-4.2zM610.4 830.9h1.4v1.4h-1.4zM612.5 830.9h1.4v1.4h-1.4zM613.9 830.9h1.4v1.4h-1.4zM616.7 830.9h1.4v1.4h-1.4zM618.1 830.9h1.4v1.4h-1.4zM619.5 830.9h1.4v1.4h-1.4zM583.1 831.6h1.4v1.4h-1.4zM585.9 831.6h3.5v1.4h-3.5zM590.8 831.6h1.4v1.4h-1.4zM592.2 831.6h2.1v1.4h-2.1zM599.2 831.6h2.1v1.4h-2.1zM601.3 831.6h2.8v1.4h-2.8zM604.1 831.6h3.5v1.4h-3.5zM607.6 831.6h1.4v1.4h-1.4zM609.7 831.6h2.1v1.4h-2.1zM612.5 831.6h1.4v1.4h-1.4zM614.6 831.6h1.4v1.4h-1.4zM616.7 831.6h2.1v1.4h-2.1zM625.1 831.6h1.4v1.4h-1.4zM634.2 831.6h1.4v1.4h-1.4zM581 832.3h2.1v1.4h-2.1zM583.8 832.3h1.4v1.4h-1.4zM585.9 832.3h2.1v1.4h-2.1zM590.1 832.3h1.4v1.4h-1.4zM591.5 832.3h1.4v1.4h-1.4zM595 832.3h1.4v1.4h-1.4zM596.4 832.3h1.4v1.4h-1.4zM597.8 832.3h1.4v1.4h-1.4zM599.2 832.3h1.4v1.4h-1.4zM601.3 832.3h2.8v1.4h-2.8zM604.8 832.3h2.8v1.4h-2.8zM607.6 832.3h1.4v1.4h-1.4zM612.5 832.3h2.8v1.4h-2.8zM615.3 832.3h1.4v1.4h-1.4zM619.5 832.3h1.4v1.4h-1.4zM620.9 832.3h1.4v1.4h-1.4zM623 832.3h1.4v1.4h-1.4zM629.3 832.3h1.4v1.4h-1.4zM572.6 833h1.4v1.4h-1.4zM578.2 833h1.4v1.4h-1.4zM581.7 833h1.4v1.4h-1.4zM583.8 833h1.4v1.4h-1.4zM585.2 833h1.4v1.4h-1.4zM586.6 833h1.4v1.4h-1.4zM588 833h1.4v1.4h-1.4zM590.8 833h3.5v1.4h-3.5zM595.7 833h1.4v1.4h-1.4zM597.8 833h2.1v1.4h-2.1zM601.3 833h1.4v1.4h-1.4zM603.4 833h3.5v1.4h-3.5zM606.9 833h2.8v1.4h-2.8zM609.7 833h2.1v1.4h-2.1zM613.2 833h2.1v1.4h-2.1zM618.8 833h1.4v1.4h-1.4zM623.7 833h1.4v1.4h-1.4zM635.6 833h1.4v1.4h-1.4zM579.6 833.7h1.4v1.4h-1.4zM581 833.7h1.4v1.4h-1.4zM582.4 833.7h2.1v1.4h-2.1zM587.3 833.7h2.1v1.4h-2.1zM590.1 833.7h2.1v1.4h-2.1zM592.2 833.7h1.4v1.4h-1.4zM593.6 833.7h4.2v1.4h-4.2zM597.8 833.7h1.4v1.4h-1.4zM599.2 833.7h1.4v1.4h-1.4zM600.6 833.7h2.1v1.4h-2.1zM602.7 833.7h3.5v1.4h-3.5zM609 833.7h1.4v1.4h-1.4zM611.1 833.7h1.4v1.4h-1.4zM613.9 833.7h1.4v1.4h-1.4zM617.4 833.7h1.4v1.4h-1.4zM618.8 833.7h1.4v1.4h-1.4zM623.7 833.7h1.4v1.4h-1.4zM578.2 834.4h1.4v1.4h-1.4zM583.8 834.4h2.1v1.4h-2.1zM585.9 834.4h1.4v1.4h-1.4zM587.3 834.4h1.4v1.4h-1.4zM589.4 834.4h4.2v1.4h-4.2zM594.3 834.4h2.1v1.4h-2.1zM596.4 834.4h1.4v1.4h-1.4zM597.8 834.4h2.1v1.4h-2.1zM599.9 834.4h1.4v1.4h-1.4zM602.7 834.4h1.4v1.4h-1.4zM604.8 834.4h5v1.4h-5zM612.5 834.4h1.4v1.4h-1.4zM616 834.4h1.4v1.4h-1.4zM618.1 834.4h2.8v1.4h-2.8zM623 834.4h1.4v1.4h-1.4zM569.8 835.1h1.4v1.4h-1.4zM572.6 835.1h1.4v1.4h-1.4zM574.7 835.1h1.4v1.4h-1.4zM576.8 835.1h1.4v1.4h-1.4zM580.3 835.1h1.4v1.4h-1.4zM581.7 835.1h1.4v1.4h-1.4zM583.8 835.1h1.4v1.4h-1.4zM586.6 835.1h2.1v1.4h-2.1zM592.9 835.1h1.4v1.4h-1.4zM595.7 835.1h1.4v1.4h-1.4zM597.1 835.1h6.3v1.4h-6.3zM603.4 835.1h2.8v1.4h-2.8zM607.6 835.1h2.1v1.4h-2.1zM609.7 835.1h2.1v1.4h-2.1zM611.8 835.1h2.1v1.4h-2.1zM614.6 835.1h1.4v1.4h-1.4zM616.7 835.1h1.4v1.4h-1.4zM618.1 835.1h2.8v1.4h-2.8zM620.9 835.1h2.8v1.4h-2.8zM624.4 835.1h1.4v1.4h-1.4zM572.6 835.8h1.4v1.4h-1.4zM577.5 835.8h2.8v1.4h-2.8zM584.5 835.8h2.8v1.4h-2.8zM588.7 835.8h2.1v1.4h-2.1zM592.9 835.8h2.1v1.4h-2.1zM595 835.8h2.1v1.4h-2.1zM598.5 835.8h2.8v1.4h-2.8zM604.1 835.8h2.8v1.4h-2.8zM608.3 835.8h1.4v1.4h-1.4zM609.7 835.8h2.1v1.4h-2.1zM612.5 835.8h4.2v1.4h-4.2zM616.7 835.8h1.4v1.4h-1.4zM618.8 835.8h1.4v1.4h-1.4zM620.2 835.8h1.4v1.4h-1.4zM621.6 835.8h1.4v1.4h-1.4zM634.9 835.8h1.4v1.4h-1.4zM569.8 836.5h1.4v1.4h-1.4zM574.7 836.5h1.4v1.4h-1.4zM577.5 836.5h1.4v1.4h-1.4zM581.7 836.5h1.4v1.4h-1.4zM583.8 836.5h2.1v1.4h-2.1zM586.6 836.5h1.4v1.4h-1.4zM588 836.5h1.4v1.4h-1.4zM590.1 836.5h1.4v1.4h-1.4zM592.2 836.5h2.8v1.4h-2.8zM595 836.5h2.1v1.4h-2.1zM597.1 836.5h2.1v1.4h-2.1zM599.9 836.5h2.1v1.4h-2.1zM602 836.5h2.1v1.4h-2.1zM604.1 836.5h1.4v1.4h-1.4zM606.2 836.5h1.4v1.4h-1.4zM609 836.5h1.4v1.4h-1.4zM610.4 836.5h1.4v1.4h-1.4zM611.8 836.5h2.1v1.4h-2.1zM615.3 836.5h1.4v1.4h-1.4zM619.5 836.5h2.1v1.4h-2.1zM622.3 836.5h1.4v1.4h-1.4zM626.5 836.5h1.4v1.4h-1.4zM567.7 837.2h1.4v1.4h-1.4zM571.9 837.2h1.4v1.4h-1.4zM581 837.2h1.4v1.4h-1.4zM585.2 837.2h1.4v1.4h-1.4zM587.3 837.2h1.4v1.4h-1.4zM591.5 837.2h1.4v1.4h-1.4zM594.3 837.2h2.1v1.4h-2.1zM596.4 837.2h1.4v1.4h-1.4zM597.8 837.2h1.4v1.4h-1.4zM600.6 837.2h3.5v1.4h-3.5zM604.8 837.2h2.1v1.4h-2.1zM606.9 837.2h2.1v1.4h-2.1zM609 837.2h1.4v1.4h-1.4zM610.4 837.2h1.4v1.4h-1.4zM615.3 837.2h1.4v1.4h-1.4zM617.4 837.2h1.4v1.4h-1.4zM621.6 837.2h1.4v1.4h-1.4zM628.6 837.2h1.4v1.4h-1.4zM576.1 837.9h1.4v1.4h-1.4zM577.5 837.9h1.4v1.4h-1.4zM578.9 837.9h1.4v1.4h-1.4zM583.8 837.9h2.1v1.4h-2.1zM585.9 837.9h1.4v1.4h-1.4zM588.7 837.9h1.4v1.4h-1.4zM594.3 837.9h1.4v1.4h-1.4zM597.1 837.9h1.4v1.4h-1.4zM599.2 837.9h2.8v1.4h-2.8zM603.4 837.9h1.4v1.4h-1.4zM606.9 837.9h1.4v1.4h-1.4zM610.4 837.9h1.4v1.4h-1.4zM611.8 837.9h2.1v1.4h-2.1zM613.9 837.9h1.4v1.4h-1.4zM616 837.9h3.5v1.4h-3.5zM620.2 837.9h3.5v1.4h-3.5zM625.1 837.9h1.4v1.4h-1.4zM554.4 838.6h1.4v1.4h-1.4zM564.9 838.6h1.4v1.4h-1.4zM578.9 838.6h1.4v1.4h-1.4zM580.3 838.6h1.4v1.4h-1.4zM583.1 838.6h2.1v1.4h-2.1zM585.2 838.6h1.4v1.4h-1.4zM586.6 838.6h1.4v1.4h-1.4zM588.7 838.6h1.4v1.4h-1.4zM590.8 838.6h1.4v1.4h-1.4zM594.3 838.6h1.4v1.4h-1.4zM598.5 838.6h1.4v1.4h-1.4zM600.6 838.6h1.4v1.4h-1.4zM604.1 838.6h1.4v1.4h-1.4zM607.6 838.6h1.4v1.4h-1.4zM609 838.6h2.8v1.4h-2.8zM615.3 838.6h1.4v1.4h-1.4zM623.7 838.6h1.4v1.4h-1.4zM579.6 839.3h2.1v1.4h-2.1zM582.4 839.3h2.8v1.4h-2.8zM586.6 839.3h2.8v1.4h-2.8zM590.8 839.3h2.1v1.4h-2.1zM593.6 839.3h1.4v1.4h-1.4zM595 839.3h1.4v1.4h-1.4zM597.1 839.3h2.8v1.4h-2.8zM599.9 839.3h2.1v1.4h-2.1zM603.4 839.3h2.8v1.4h-2.8zM607.6 839.3h1.4v1.4h-1.4zM609 839.3h1.4v1.4h-1.4zM611.1 839.3h1.4v1.4h-1.4zM615.3 839.3h1.4v1.4h-1.4zM616.7 839.3h1.4v1.4h-1.4zM623 839.3h1.4v1.4h-1.4zM624.4 839.3h1.4v1.4h-1.4zM580.3 840h2.1v1.4h-2.1zM583.8 840h1.4v1.4h-1.4zM588 840h1.4v1.4h-1.4zM590.1 840h2.8v1.4h-2.8zM593.6 840h5v1.4h-5zM599.2 840h2.1v1.4h-2.1zM602 840h1.4v1.4h-1.4zM603.4 840h2.1v1.4h-2.1zM605.5 840h1.4v1.4h-1.4zM608.3 840h1.4v1.4h-1.4zM609.7 840h2.1v1.4h-2.1zM611.8 840h1.4v1.4h-1.4zM613.9 840h1.4v1.4h-1.4zM615.3 840h2.1v1.4h-2.1zM619.5 840h1.4v1.4h-1.4zM627.9 840h1.4v1.4h-1.4zM574 840.7h1.4v1.4h-1.4zM577.5 840.7h1.4v1.4h-1.4zM581 840.7h1.4v1.4h-1.4zM584.5 840.7h2.8v1.4h-2.8zM589.4 840.7h1.4v1.4h-1.4zM590.8 840.7h2.1v1.4h-2.1zM592.9 840.7h2.1v1.4h-2.1zM595 840.7h1.4v1.4h-1.4zM596.4 840.7h2.1v1.4h-2.1zM598.5 840.7h2.1v1.4h-2.1zM601.3 840.7h3.5v1.4h-3.5zM604.8 840.7h2.1v1.4h-2.1zM609.7 840.7h2.8v1.4h-2.8zM613.9 840.7h1.4v1.4h-1.4zM620.9 840.7h1.4v1.4h-1.4zM623.7 840.7h1.4v1.4h-1.4zM626.5 840.7h1.4v1.4h-1.4zM576.8 841.4h1.4v1.4h-1.4zM587.3 841.4h2.8v1.4h-2.8zM590.1 841.4h2.8v1.4h-2.8zM592.9 841.4h2.8v1.4h-2.8zM595.7 841.4h1.4v1.4h-1.4zM597.1 841.4h2.1v1.4h-2.1zM599.2 841.4h2.8v1.4h-2.8zM602 841.4h1.4v1.4h-1.4zM604.1 841.4h2.8v1.4h-2.8zM606.9 841.4h3.5v1.4h-3.5zM610.4 841.4h2.1v1.4h-2.1zM612.5 841.4h1.4v1.4h-1.4zM615.3 841.4h1.4v1.4h-1.4zM619.5 841.4h2.1v1.4h-2.1zM576.8 842.1h1.4v1.4h-1.4zM579.6 842.1h2.1v1.4h-2.1zM581.7 842.1h1.4v1.4h-1.4zM583.8 842.1h1.4v1.4h-1.4zM587.3 842.1h1.4v1.4h-1.4zM588.7 842.1h1.4v1.4h-1.4zM590.1 842.1h2.1v1.4h-2.1zM592.2 842.1h1.4v1.4h-1.4zM593.6 842.1h1.4v1.4h-1.4zM595.7 842.1h1.4v1.4h-1.4zM597.1 842.1h3.5v1.4h-3.5zM602 842.1h4.2v1.4h-4.2zM606.2 842.1h3.5v1.4h-3.5zM609.7 842.1h1.4v1.4h-1.4zM616 842.1h1.4v1.4h-1.4zM618.8 842.1h1.4v1.4h-1.4zM621.6 842.1h1.4v1.4h-1.4zM575.4 842.8h1.4v1.4h-1.4zM581 842.8h2.1v1.4h-2.1zM583.1 842.8h2.1v1.4h-2.1zM586.6 842.8h2.1v1.4h-2.1zM590.1 842.8h1.4v1.4h-1.4zM591.5 842.8h2.1v1.4h-2.1zM593.6 842.8h3.5v1.4h-3.5zM597.8 842.8h1.4v1.4h-1.4zM599.2 842.8h1.4v1.4h-1.4zM600.6 842.8h1.4v1.4h-1.4zM603.4 842.8h1.4v1.4h-1.4zM605.5 842.8h2.1v1.4h-2.1zM608.3 842.8h2.1v1.4h-2.1zM613.2 842.8h1.4v1.4h-1.4zM616 842.8h1.4v1.4h-1.4zM618.1 842.8h1.4v1.4h-1.4zM620.2 842.8h1.4v1.4h-1.4zM567.7 843.5h1.4v1.4h-1.4zM576.8 843.5h1.4v1.4h-1.4zM579.6 843.5h1.4v1.4h-1.4zM582.4 843.5h1.4v1.4h-1.4zM583.8 843.5h1.4v1.4h-1.4zM585.9 843.5h1.4v1.4h-1.4zM587.3 843.5h1.4v1.4h-1.4zM590.1 843.5h1.4v1.4h-1.4zM592.9 843.5h2.1v1.4h-2.1zM597.8 843.5h3.5v1.4h-3.5zM601.3 843.5h4.2v1.4h-4.2zM605.5 843.5h1.4v1.4h-1.4zM609 843.5h2.1v1.4h-2.1zM613.2 843.5h2.1v1.4h-2.1zM616 843.5h2.1v1.4h-2.1zM619.5 843.5h1.4v1.4h-1.4zM620.9 843.5h1.4v1.4h-1.4zM623 843.5h1.4v1.4h-1.4zM624.4 843.5h1.4v1.4h-1.4zM644.7 843.5h1.4v1.4h-1.4zM569.1 844.2h1.4v1.4h-1.4zM574.7 844.2h1.4v1.4h-1.4zM584.5 844.2h2.1v1.4h-2.1zM588 844.2h2.1v1.4h-2.1zM590.1 844.2h1.4v1.4h-1.4zM592.2 844.2h1.4v1.4h-1.4zM593.6 844.2h1.4v1.4h-1.4zM598.5 844.2h2.8v1.4h-2.8zM604.1 844.2h1.4v1.4h-1.4zM608.3 844.2h2.1v1.4h-2.1zM615.3 844.2h1.4v1.4h-1.4zM622.3 844.2h1.4v1.4h-1.4zM581 844.9h2.1v1.4h-2.1zM583.8 844.9h2.1v1.4h-2.1zM586.6 844.9h1.4v1.4h-1.4zM588 844.9h1.4v1.4h-1.4zM590.8 844.9h2.1v1.4h-2.1zM595.7 844.9h2.1v1.4h-2.1zM598.5 844.9h1.4v1.4h-1.4zM599.9 844.9h1.4v1.4h-1.4zM601.3 844.9h2.1v1.4h-2.1zM606.2 844.9h1.4v1.4h-1.4zM610.4 844.9h1.4v1.4h-1.4zM611.8 844.9h1.4v1.4h-1.4zM616.7 844.9h1.4v1.4h-1.4zM623 844.9h2.1v1.4h-2.1zM575.4 845.6h1.4v1.4h-1.4zM578.9 845.6h2.1v1.4h-2.1zM582.4 845.6h2.1v1.4h-2.1zM586.6 845.6h1.4v1.4h-1.4zM588 845.6h1.4v1.4h-1.4zM589.4 845.6h1.4v1.4h-1.4zM592.2 845.6h2.1v1.4h-2.1zM596.4 845.6h2.1v1.4h-2.1zM602 845.6h1.4v1.4h-1.4zM603.4 845.6h1.4v1.4h-1.4zM609.7 845.6h1.4v1.4h-1.4zM611.1 845.6h1.4v1.4h-1.4zM612.5 845.6h1.4v1.4h-1.4zM617.4 845.6h1.4v1.4h-1.4zM567 846.3h1.4v1.4h-1.4zM576.8 846.3h1.4v1.4h-1.4zM581 846.3h1.4v1.4h-1.4zM583.8 846.3h1.4v1.4h-1.4zM585.9 846.3h1.4v1.4h-1.4zM589.4 846.3h1.4v1.4h-1.4zM590.8 846.3h1.4v1.4h-1.4zM592.2 846.3h1.4v1.4h-1.4zM598.5 846.3h2.8v1.4h-2.8zM601.3 846.3h2.1v1.4h-2.1zM604.1 846.3h2.1v1.4h-2.1zM608.3 846.3h2.8v1.4h-2.8zM611.8 846.3h2.1v1.4h-2.1zM616.7 846.3h1.4v1.4h-1.4zM625.8 846.3h1.4v1.4h-1.4zM583.1 847h1.4v1.4h-1.4zM585.2 847h1.4v1.4h-1.4zM595 847h1.4v1.4h-1.4zM598.5 847h1.4v1.4h-1.4zM599.9 847h2.1v1.4h-2.1zM602 847h1.4v1.4h-1.4zM603.4 847h1.4v1.4h-1.4zM606.9 847h1.4v1.4h-1.4zM609.7 847h2.1v1.4h-2.1zM613.2 847h2.8v1.4h-2.8zM616 847h1.4v1.4h-1.4zM623 847h1.4v1.4h-1.4zM582.4 847.7h1.4v1.4h-1.4zM587.3 847.7h1.4v1.4h-1.4zM590.1 847.7h1.4v1.4h-1.4zM594.3 847.7h2.8v1.4h-2.8zM597.8 847.7h1.4v1.4h-1.4zM603.4 847.7h2.1v1.4h-2.1zM606.9 847.7h1.4v1.4h-1.4zM609 847.7h1.4v1.4h-1.4zM611.8 847.7h2.1v1.4h-2.1zM633.5 847.7h1.4v1.4h-1.4zM576.1 848.4h1.4v1.4h-1.4zM589.4 848.4h2.1v1.4h-2.1zM594.3 848.4h1.4v1.4h-1.4zM595.7 848.4h1.4v1.4h-1.4zM597.8 848.4h2.1v1.4h-2.1zM601.3 848.4h1.4v1.4h-1.4zM603.4 848.4h1.4v1.4h-1.4zM606.2 848.4h1.4v1.4h-1.4zM609.7 848.4h1.4v1.4h-1.4zM612.5 848.4h1.4v1.4h-1.4zM618.8 848.4h1.4v1.4h-1.4zM620.2 848.4h1.4v1.4h-1.4zM625.8 848.4h1.4v1.4h-1.4zM582.4 849.1h1.4v1.4h-1.4zM587.3 849.1h2.1v1.4h-2.1zM590.8 849.1h2.1v1.4h-2.1zM595.7 849.1h2.1v1.4h-2.1zM597.8 849.1h1.4v1.4h-1.4zM599.9 849.1h2.8v1.4h-2.8zM604.1 849.1h1.4v1.4h-1.4zM608.3 849.1h2.8v1.4h-2.8zM611.8 849.1h2.1v1.4h-2.1zM618.1 849.1h1.4v1.4h-1.4zM632.8 849.1h1.4v1.4h-1.4zM567.7 849.8h1.4v1.4h-1.4zM573.3 849.8h1.4v1.4h-1.4zM581.7 849.8h2.1v1.4h-2.1zM584.5 849.8h2.1v1.4h-2.1zM592.2 849.8h1.4v1.4h-1.4zM595.7 849.8h1.4v1.4h-1.4zM604.1 849.8h1.4v1.4h-1.4zM605.5 849.8h1.4v1.4h-1.4zM608.3 849.8h1.4v1.4h-1.4zM612.5 849.8h1.4v1.4h-1.4zM620.2 849.8h1.4v1.4h-1.4zM571.9 850.5h1.4v1.4h-1.4zM585.9 850.5h2.8v1.4h-2.8zM590.1 850.5h1.4v1.4h-1.4zM599.9 850.5h2.1v1.4h-2.1zM602.7 850.5h2.8v1.4h-2.8zM606.2 850.5h1.4v1.4h-1.4zM609.7 850.5h1.4v1.4h-1.4zM622.3 850.5h1.4v1.4h-1.4zM627.9 850.5h1.4v1.4h-1.4zM567 851.2h1.4v1.4h-1.4zM578.9 851.2h2.1v1.4h-2.1zM581 851.2h1.4v1.4h-1.4zM591.5 851.2h1.4v1.4h-1.4zM592.9 851.2h1.4v1.4h-1.4zM597.1 851.2h1.4v1.4h-1.4zM600.6 851.2h1.4v1.4h-1.4zM604.1 851.2h1.4v1.4h-1.4zM612.5 851.2h1.4v1.4h-1.4zM577.5 851.9h1.4v1.4h-1.4zM583.8 851.9h1.4v1.4h-1.4zM586.6 851.9h1.4v1.4h-1.4zM598.5 851.9h1.4v1.4h-1.4zM606.9 851.9h1.4v1.4h-1.4zM625.8 851.9h1.4v1.4h-1.4zM553 852.6h1.4v1.4h-1.4zM581.7 852.6h1.4v1.4h-1.4zM589.4 852.6h1.4v1.4h-1.4zM593.6 852.6h1.4v1.4h-1.4zM598.5 852.6h1.4v1.4h-1.4zM601.3 852.6h1.4v1.4h-1.4zM602.7 852.6h1.4v1.4h-1.4zM605.5 852.6h2.1v1.4h-2.1zM607.6 852.6h1.4v1.4h-1.4zM611.1 852.6h1.4v1.4h-1.4zM623 852.6h1.4v1.4h-1.4zM571.9 853.3h1.4v1.4h-1.4zM586.6 853.3h1.4v1.4h-1.4zM593.6 853.3h1.4v1.4h-1.4zM599.2 853.3h2.1v1.4h-2.1zM604.1 853.3h1.4v1.4h-1.4zM608.3 853.3h1.4v1.4h-1.4zM570.5 854h1.4v1.4h-1.4zM586.6 854h1.4v1.4h-1.4zM590.8 854h1.4v1.4h-1.4zM597.1 854h2.8v1.4h-2.8zM599.9 854h1.4v1.4h-1.4zM604.8 854h1.4v1.4h-1.4zM618.1 854h1.4v1.4h-1.4zM557.9 854.7h1.4v1.4h-1.4zM589.4 854.7h1.4v1.4h-1.4zM601.3 854.7h1.4v1.4h-1.4zM604.1 854.7h1.4v1.4h-1.4zM605.5 854.7h1.4v1.4h-1.4zM606.9 854.7h1.4v1.4h-1.4zM578.2 855.4h1.4v1.4h-1.4zM586.6 855.4h2.1v1.4h-2.1zM597.1 855.4h1.4v1.4h-1.4zM599.9 855.4h1.4v1.4h-1.4zM603.4 855.4h1.4v1.4h-1.4zM604.8 855.4h1.4v1.4h-1.4zM606.2 855.4h1.4v1.4h-1.4zM613.2 855.4h1.4v1.4h-1.4zM582.4 856.1h1.4v1.4h-1.4zM599.9 856.1h2.1v1.4h-2.1zM611.8 856.1h1.4v1.4h-1.4zM570.5 856.8h1.4v1.4h-1.4zM583.8 856.8h1.4v1.4h-1.4zM590.8 856.8h1.4v1.4h-1.4zM594.3 856.8h1.4v1.4h-1.4zM610.4 856.8h1.4v1.4h-1.4zM579.6 857.5h1.4v1.4h-1.4zM583.8 857.5h1.4v1.4h-1.4zM597.1 858.9h1.4v1.4h-1.4zM602 858.9h1.4v1.4h-1.4zM615.3 858.9h1.4v1.4h-1.4zM574 859.6h1.4v1.4h-1.4zM590.8 859.6h1.4v1.4h-1.4zM594.3 859.6h1.4v1.4h-1.4zM601.3 859.6h1.4v1.4h-1.4zM576.1 860.3h1.4v1.4h-1.4zM607.6 860.3h1.4v1.4h-1.4zM589.4 861h1.4v1.4h-1.4zM590.8 861h1.4v1.4h-1.4zM619.5 861h1.4v1.4h-1.4zM589.4 862.4h1.4v1.4h-1.4zM590.1 863.1h1.4v1.4h-1.4zM604.8 863.1h1.4v1.4h-1.4zM589.4 865.2h1.4v1.4h-1.4zM590.8 865.2h1.4v1.4h-1.4zM586.6 865.9h1.4v1.4h-1.4zM602 866.6h1.4v1.4h-1.4zM586.6 867.3h1.4v1.4h-1.4zM595.7 870.1h1.4v1.4h-1.4z" fill="#1a5c9e"/>
<line x1="558.5" y1="842.9" x2="653.1" y2="832.9" stroke="#111" stroke-width="1"/>
<line x1="548.9" y1="790.2" x2="548.9" y2="914" stroke="#000" stroke-width="1.7"/>
<line x1="548.1" y1="913.2" x2="674.8" y2="913.2" stroke="#000" stroke-width="1.7"/>
<line x1="542.7" y1="791" x2="548.9" y2="791" stroke="#000" stroke-width="1.6"/>
<text x="541.3" y="793.9" font-size="8" text-anchor="end" font-weight="bold">15</text>
<line x1="542.7" y1="831.7" x2="548.9" y2="831.7" stroke="#000" stroke-width="1.6"/>
<text x="541.3" y="834.6" font-size="8" text-anchor="end" font-weight="bold">10</text>
<line x1="542.7" y1="872.5" x2="548.9" y2="872.5" stroke="#000" stroke-width="1.6"/>
<text x="541.3" y="875.4" font-size="8" text-anchor="end" font-weight="bold">5</text>
<line x1="542.7" y1="913.2" x2="548.9" y2="913.2" stroke="#000" stroke-width="1.6"/>
<text x="541.3" y="916.1" font-size="8" text-anchor="end" font-weight="bold">0</text>
<line x1="548.9" y1="913.2" x2="548.9" y2="918.6" stroke="#000" stroke-width="1.6"/>
<text x="548.9" y="930.2" font-size="8" text-anchor="middle" font-weight="bold">11.5</text>
<line x1="569.8" y1="913.2" x2="569.8" y2="918.6" stroke="#000" stroke-width="1.6"/>
<text x="569.8" y="930.2" font-size="8" text-anchor="middle" font-weight="bold">12.0</text>
<line x1="590.6" y1="913.2" x2="590.6" y2="918.6" stroke="#000" stroke-width="1.6"/>
<text x="590.6" y="930.2" font-size="8" text-anchor="middle" font-weight="bold">12.5</text>
<line x1="611.5" y1="913.2" x2="611.5" y2="918.6" stroke="#000" stroke-width="1.6"/>
<text x="611.5" y="930.2" font-size="8" text-anchor="middle" font-weight="bold">13.0</text>
<line x1="632.3" y1="913.2" x2="632.3" y2="918.6" stroke="#000" stroke-width="1.6"/>
<text x="632.3" y="930.2" font-size="8" text-anchor="middle" font-weight="bold">13.5</text>
<line x1="653.1" y1="913.2" x2="653.1" y2="918.6" stroke="#000" stroke-width="1.6"/>
<text x="653.1" y="930.2" font-size="8" text-anchor="middle" font-weight="bold">14.0</text>
<line x1="674" y1="913.2" x2="674" y2="918.6" stroke="#000" stroke-width="1.6"/>
<text x="674" y="930.2" font-size="8" text-anchor="middle" font-weight="bold">14.5</text>
<text x="611.5" y="946.5" font-size="10.1" text-anchor="middle">PCBP1</text>
<text transform="translate(525.4 853.5) rotate(-90)" font-size="10.2" text-anchor="middle">IRF7</text>
<text x="563.3" y="801.7" font-size="7.5" fill="#222" letter-spacing="-0.2">r = 0.1458</text>
<text x="619.3" y="801.7" font-size="7.7" font-weight="bold">p = 3.191<tspan dy="-3" font-size="5.3" font-weight="normal">-7</tspan></text>
</svg>
</body></html>
